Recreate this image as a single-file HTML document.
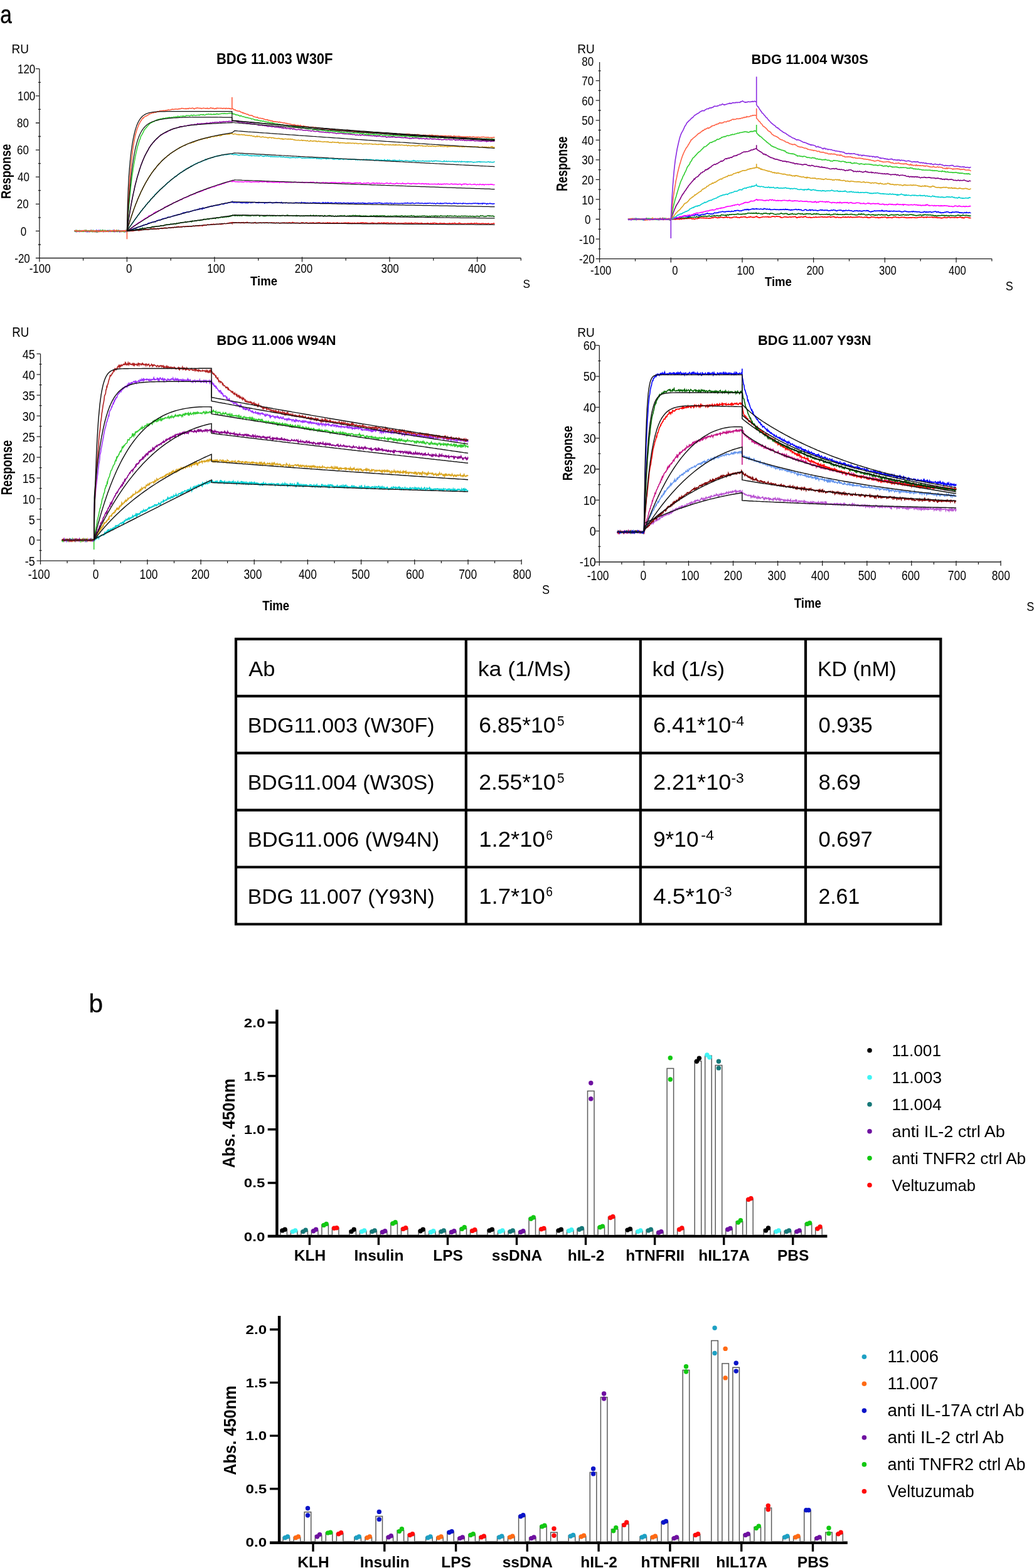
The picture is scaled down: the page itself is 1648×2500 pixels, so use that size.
<!DOCTYPE html><html><head><meta charset="utf-8"><title>Figure</title><style>html,body{margin:0;padding:0;background:#fff;}svg{display:block;}</style></head><body>
<svg width="1648" height="2500" viewBox="0 0 1648 2500" font-family="'Liberation Sans', Arial, sans-serif">
<rect width="1648" height="2500" fill="#fff"/>
<text x="0.2" y="36.6" font-size="40" textLength="18.6" lengthAdjust="spacingAndGlyphs" stroke="#000" stroke-width="0.4">a</text>
<text x="141.6" y="1613.6" font-size="41.5" textLength="22.6" lengthAdjust="spacingAndGlyphs" stroke="#000" stroke-width="0.3">b</text>
<path d="M62.9 411.5V109.7 M56.9 411.5H830.3 M56.9 411.5h6 M56.9 368.4h6 M56.9 325.3h6 M56.9 282.2h6 M56.9 239.1h6 M56.9 196h6 M56.9 152.8h6 M56.9 109.7h6 M60.9 390h4 M60.9 346.8h4 M60.9 303.7h4 M60.9 260.6h4 M60.9 217.5h4 M60.9 174.4h4 M60.9 131.3h4 M62.9 409.5v8 M132.6 411.5v4 M202.4 409.5v8 M272.2 411.5v4 M341.9 409.5v8 M411.7 411.5v4 M481.5 409.5v8 M551.2 411.5v4 M621 409.5v8 M690.8 411.5v4 M760.6 409.5v8 M830.3 411.5v4" stroke="#222" stroke-width="1.3" fill="none"/>
<text transform="translate(42.1,116.9) scale(0.85,1)" font-size="20" text-anchor="middle">120</text>
<text transform="translate(42.1,160) scale(0.85,1)" font-size="20" text-anchor="middle">100</text>
<text transform="translate(36.5,203.1) scale(0.85,1)" font-size="20" text-anchor="middle">80</text>
<text transform="translate(36.5,246.2) scale(0.85,1)" font-size="20" text-anchor="middle">60</text>
<text transform="translate(37.5,289.3) scale(0.85,1)" font-size="20" text-anchor="middle">40</text>
<text transform="translate(36.2,332.4) scale(0.85,1)" font-size="20" text-anchor="middle">20</text>
<text transform="translate(37.5,375.6) scale(0.85,1)" font-size="20" text-anchor="middle">0</text>
<text transform="translate(35.5,418.7) scale(0.85,1)" font-size="20" text-anchor="middle">-20</text>
<text transform="translate(63.7,435) scale(0.85,1)" font-size="20" text-anchor="middle">-100</text>
<text transform="translate(205.6,435) scale(0.85,1)" font-size="20" text-anchor="middle">0</text>
<text transform="translate(344.5,435) scale(0.85,1)" font-size="20" text-anchor="middle">100</text>
<text transform="translate(483.9,435) scale(0.85,1)" font-size="20" text-anchor="middle">200</text>
<text transform="translate(621.6,435) scale(0.85,1)" font-size="20" text-anchor="middle">300</text>
<text transform="translate(760.2,435) scale(0.85,1)" font-size="20" text-anchor="middle">400</text>
<text x="18.5" y="84.5" font-size="20" textLength="27.5" lengthAdjust="spacingAndGlyphs">RU</text>
<text x="345" y="102.4" font-size="23.5" font-weight="bold" textLength="185.5" lengthAdjust="spacingAndGlyphs">BDG 11.003 W30F</text>
<text transform="translate(16.9,273.2) rotate(-90)" font-size="22" font-weight="bold" text-anchor="middle" textLength="87.5" lengthAdjust="spacingAndGlyphs">Response</text>
<text x="420.6" y="455.4" font-size="20" font-weight="bold" text-anchor="middle" textLength="43" lengthAdjust="spacingAndGlyphs">Time</text>
<text x="833.5" y="458.6" font-size="18" textLength="11.5" lengthAdjust="spacingAndGlyphs">S</text>
<path d="M118.7 368l1 0.2 1-0.3 1-0.2 1 0.3 1 0 1 0.4 1 0.7 1-0.9 1-0.1 1 0.3 1 0.1 1-0.2 1-0.5 1 0.5 1 0.4 1-1 1 0.3 1-0.8 1 0.3 1 0 1 0.8 1-0.3 1 0.9 1 0.2 1-0.5 1-1.2 1 1.1 1 0.2 1-0.1 1-0.8 1 0.7 1-0.2 1 0.1 1 0.9 1-1 1 0.2 1 0.3 1-0.7 1 0.2 1 0.3 1-0.3 1-0.6 1 0.6 1 0.5 1-1.4 1 1.3 1-0.6 1-0.2 1 1.3 1-0.4 1-0.8 1 0.9 1-0.1 1-0.5 1 0.3 1-0.6 1 0.3 1 0.4 1-0.9 1 0.4 1-0.3 1 0.3 1-0.5 1 0.3 1 0.2 1 0.5 1 0 1-1.2 1 0.4 1 1 1-1.2 1 1 1 0.1 1 0.7 1-0.5 1-0.6 1-0.1 1 0.1 1 0.7 1-1 1 0 1 0.3 1 0 0.7 0 1-0.4 1 0.4 1-0.2 1 0.3 1-0.3 1-0.2 1 0.1 1-0.4 1 0.6 1-0.5 1 0.1 1-0.8 1 0.6 1-1.1 1-0.2 1 0.5 1-0.2 1 0.3 1 0.8 1-1.2 1 0.1 1 0.2 1-0.1 1-0.4 1 0 1 0 1-0.1 1-0.7 1 0.2 1 0 1-0.3 1 0.6 1-0.4 1 0.5 1-0.4 1-0.2 1-0.5 1 0.1 1-0.7 1 0.2 1 0.5 1-0.9 1 1 1-0.9 1 0.9 1-0.6 1 0.5 1-0.3 1-0.6 1 0.9 1-0.1 1-0.7 1-0.2 1-0.1 1-0.4 1 0.8 1-0.6 1 0 1-0.5 1 0.1 1-0.4 1 0.7 1-0.4 1 0.3 1-0.3 1-0.4 1 0.1 1-0.1 1 0.4 1-0.4 1 0 1-0.5 1 0.1 1 0.5 1-0.8 1-0.2 1 0.4 1 0.2 1-1 1 0.2 1-0.3 1-0.4 1 0.8 1-0.3 1 0 1-0.3 1 0.4 1-0.4 1 0.1 1-0.4 1 0 1 0.7 1-0.8 1 0.1 1 0 1-0.2 1 0 1 0.3 1-0.2 1-0.2 1 0 1 0.4 1-0.2 1-0.3 1-0.3 1-0.4 1 0.7 1-0.2 1-0.5 1 0.1 1 0 1-0.1 1 0.1 1-0.5 1 0.7 1-1.1 1 0.7 1-0.1 1 0 1 0.3 1-0.1 1-1 1-0.4 1 0.7 1-0.7 1 0.3 1 0.1 1-0.9 1-0.2 1 0.7 1-0.2 1-0.2 1 0 1-0.4 1-0.3 1 0.4 1-0.3 1-0.4 1 0.7 1-0.3 1 0.2 1-0.5 1 0.3 1-0.3 1 0.1 1 0.2 1-0.5 1 0.3 1-0.2 1 0.6 1-1.3 1 0.8 1-0.5 1 0 1-0.7 1 0.4 1 0.2 1-0.3 1 0 1-0.4 1 0.4 1-0.4 1-0.9 1 0.5 1-0.3 1-0.6 1 0.8 0.4 0.6 0-1 1-0.6 1 0.2 1 0.8 1-0.4 1-0.1 1 0.1 1-0.2 1 0.3 1 0.1 1-0.1 1-0.5 1 0.7 1-0.4 1 0.6 1-0.9 1 0.4 1 0 1-0.6 1 1.2 1-0.1 1-0.8 1 0.5 1 0 1-1.1 1 1.1 1 0 1 0.1 1-0.3 1 0.2 1 0.1 1 0.3 1-0.2 1-0.1 1 0.4 1-0.8 1 0.1 1-0.6 1 1.2 1-0.1 1 0.1 1-0.1 1-0.3 1 0.1 1-0.3 1 0 1 0 1 0.6 1-0.4 1-0.1 1-0.2 1 0 1 0.6 1-0.5 1-0.1 1-0.1 1-0.1 1 0.4 1 0.5 1-0.4 1 0 1 0 1 0.2 1-0.7 1 0.4 1-0.2 1 0.6 1-0.7 1 0.6 1 0.3 1-0.6 1-0.2 1 0.4 1-0.1 1-0.3 1 0.6 1 0.6 1-0.7 1 0.1 1-0.3 1 0.3 1-0.6 1 0 1 0.7 1-0.7 1 0.6 1 0.1 1-0.6 1 0.2 1 0.4 1-0.6 1-0.2 1-0.1 1 0.4 1 0.4 1-0.2 1-0.8 1 0 1 0.3 1 0.4 1-0.1 1 0.2 1 0.1 1-0.3 1 0.1 1 0.1 1 0.1 1 0.2 1 0.6 1-0.6 1-0.1 1-0.8 1 0.8 1-0.8 1 0.3 1 0.7 1-0.1 1-0.3 1-0.5 1 0.3 1 0 1 0.4 1 0.5 1-0.5 1-0.3 1-0.1 1 0.4 1-0.1 1-0.4 1 0.3 1-0.4 1 0.9 1 0.1 1-0.1 1-0.6 1 0.3 1-0.3 1-0.3 1 0.1 1-0.3 1 0.1 1 0.9 1-0.1 1 0 1 0.4 1-0.9 1 0.2 1 0.2 1 0.1 1-0.4 1 0.5 1-0.4 1-0.5 1 0.1 1 0.7 1-0.2 1-0.6 1 1.2 1-0.2 1 0.1 1-0.6 1 0 1-0.3 1 1.2 1-0.8 1 0.6 1-0.7 1 0.3 1-0.7 1 0.6 1 0.7 1-0.9 1 0.8 1 0 1-0.6 1 0 1 0.2 1 0 1-0.3 1-0.2 1 0.2 1-0.2 1-0.1 1 0.4 1 0.3 1-0.9 1 0.5 1-0.1 1 0 1 0.7 1-0.4 1 0.7 1-0.9 1 0.4 1-0.2 1-0.3 1 0.6 1-0.3 1 0.3 1-0.3 1-0.4 1 0.3 1 0 1 0.5 1-0.7 1 0.2 1-0.6 1 0.7 1-0.7 1-0.1 1 0.8 1 0.4 1-0.9 1 0.3 1 0.1 1-0.2 1 0.7 1-0.2 1 0 1 0.5 1-0.5 1 0.4 1-0.7 1-0.2 1-0.2 1 1.2 1-0.8 1 0.2 1 0.1 1 0.1 1 0 1 0.6 1-1 1-0.2 1 0.2 1-0.2 1 0.6 1 0 1-0.7 1-0.1 1 0.4 1 0.7 1-1.4 1 1.1 1-0.6 1 0.8 1-0.8 1 0.2 1-0.3 1 0 1 0.9 1-0.1 1-0.4 1-0.3 1-0.2 1 0.5 1 0.2 1-0.2 1 0.1 1-0.4 1 0.3 1 0 1 0.7 1 0.3 1-0.7 1-0.1 1 0.3 1-0.2 1 0 1 0.3 1-0.4 1 0.5 1-0.4 1 0.1 1-0.2 1-0.2 1-0.3 1 0.3 1-0.1 1 0.4 1 0 1-0.4 1 0.6 1-0.6 1 0.3 1 0 1-0.6 1 0.9 1 0.1 1-0.2 1-0.2 1-0.1 1-0.4 1 0.3 1 0.1 1 0.2 1-0.4 1 0.7 1-0.1 1-0.2 1 0 1 0.3 1-0.8 1 0.9 1 0 1 0.1 1 0.1 1-0.3 1-0.1 1 0.3 1-0.2 1-0.1 1-0.6 1 0.8 1 0.1 1 0.1 1-0.2 1-0.7 1 1 1-0.3 1-0.9 1 0.8 1-0.7 1 0 1 0.1 1 0.7 1-0.4 1 0.3 1 0.4 1 0.2 1-0.6 1-0.2 1-0.3 1 0.3 1 0.2 1 0 1 0 1 0.2 1-0.6 1 0.4 1 0.1 1 0.1 1 0.2 1-0.1 1-0.3 1 0.4 1-0.5 1-0.3 1 0.7 1-0.1 1 0.1 1-0.7 1 0.5 1-0.2 1-0.1 1-0.6 1 0.8 1 0.5 1-0.1 1-0.2 1 0.1 1 0.1 1-1.3 1 0.7 1 0.3 1 0 1 0.5 1-0.1 1 0 1-0.1 1 0.2 1-0.5 1 0.1 1 0.3 1 0.2 1-0.7 1 0.2 1-0.1 1 0.4 1-0.5 1 0.6 1-0.9 1 0.4 1 0 1 0.3 1 0.2 1-1 1 0.2 1 0.4 1-0.4 1-0.4 1 1 1-0.2 1 0 1-0.1 1 0.5 1-0.4 1 0.5 1-0.7 1 0 1 0.3 1-0.3 1 0.5 1-0.1 1-0.3 1 0.5 1-0.2 1 0.3 1-0.7 1 0 1 0.6 1 0.5 1-0.2 1-0.5 1 0 1 0.3 1-0.6 1-0.4 1 0.4 0.7 0.2" stroke="#f01010" stroke-width="1.55" fill="none"/>
<path d="M118.7 367.6l1 0.2 1 0.4 1-0.4 1 0.3 1-0.3 1 0.8 1 0.1 1 0.5 1-1.6 1 0.6 1 0.6 1-0.7 1 0.2 1 0.8 1-1.4 1-0.2 1 0.1 1 0.7 1 0.3 1-0.6 1 0 1 0.8 1-0.1 1-0.8 1 0.6 1 0 1-1.2 1 1 1 0.5 1-0.5 1-0.6 1 1 1 0.5 1 0.3 1-1.8 1 2.2 1-1.9 1 0.8 1 0.1 1-0.2 1-0.2 1-0.7 1 1 1-0.7 1-1 1 2.4 1-1 1 0.4 1-1.3 1 1.3 1 0.1 1-0.1 1-0.8 1-0.4 1 0.4 1-0.8 1 0.4 1 1 1-0.9 1 0.7 1 0 1 0.9 1-0.3 1-0.5 1 0.6 1-1 1 0.3 1 0.7 1-1.3 1 0.6 1-0.7 1 0.5 1 0.7 1-1.1 1 0.5 1-0.5 1 0.1 1 0 1 1.5 1 0.2 1-0.8 1-0.5 1 0.6 0.7-0.6 1 0.2 1-0.5 1-0.1 1-0.1 1-0.5 1-0.1 1-0.5 1 0.1 1-0.4 1 0.2 1-0.4 1 0.2 1 0.1 1-0.8 1 0 1-0.4 1 0.5 1 0.1 1-0.4 1-0.6 1 0.7 1-1.5 1 0.9 1-1 1-0.9 1 1.9 1-0.4 1-1.1 1 0.4 1-0.3 1-0.2 1-0.6 1 0 1 0.4 1-0.3 1 0.1 1-0.5 1 0.7 1-1.4 1 0.3 1-1 1 0 1 0.8 1-1 1 0.4 1-0.3 1-0.4 1 0 1 0 1-0.1 1 0.3 1-0.2 1-0.5 1-0.5 1 0.3 1-0.3 1 0.1 1 0.3 1-0.8 1-0.6 1-0.2 1-0.3 1-0.2 1 0 1 0.1 1-0.1 1 0.2 1-0.5 1-0.3 1-0.5 1 0.8 1-0.5 1 0.3 1-0.5 1 0.1 1-0.7 1 0.3 1 0.7 1-1.5 1 0.6 1 0 1-0.9 1 0 1 0 1-0.7 1 0.3 1-0.5 1 0 1-0.1 1 0 1-0.1 1 0 1-0.9 1 1 1-0.5 1-0.3 1-0.6 1 0.2 1 0.1 1 0 1-0.8 1 0.6 1 0.5 1-1.8 1 0.8 1-0.3 1-0.4 1 0.5 1-1 1 0.3 1 0.2 1-0.5 1-0.2 1 0 1-0.2 1 0.4 1-1 1 0.7 1-0.9 1 0.6 1-0.4 1-1.1 1 0.6 1-0.7 1 0.1 1 0.7 1-1.1 1-0.2 1 0.8 1-0.7 1 0.4 1-0.6 1-0.3 1 0.1 1 0.2 1-0.2 1-0.3 1-0.1 1-0.1 1-0.3 1 0.8 1-0.8 1-0.8 1 0.2 1 0.5 1-0.2 1-0.4 1-0.2 1 0.1 1-0.9 1 0.1 1 0.6 1-0.7 1 0 1 0.3 1-0.5 1-0.4 1 0.6 1-0.6 1-0.3 1 0.4 1-0.1 1-0.5 1 0.1 1-0.4 1-0.8 1 0.3 0.4 0 0-0.7 1-0.5 1 0.6 1 0.1 1 0.2 1-0.5 1 0.7 1-0.7 1 0.4 1 0.4 1-0.7 1 0.1 1 0.6 1-0.4 1 0 1 0.2 1 0.2 1-1.2 1 0.4 1 0 1 0 1 0.2 1-0.1 1 0.5 1-0.3 1 0.3 1 0.1 1-0.4 1 0.3 1 0.5 1-0.5 1-0.4 1 0.2 1-0.4 1 0.5 1 0.3 1-0.7 1 0.1 1 0.4 1-0.7 1 0.3 1-0.3 1 0.3 1 0.1 1 1.1 1-1 1-0.1 1-0.1 1 0.1 1 0.4 1-0.2 1 0.8 1-0.6 1 0.5 1-0.5 1 0.1 1-0.7 1 0.5 1 0 1-0.1 1-0.6 1 1 1-0.5 1 0.1 1 0.2 1 0 1 0.2 1-0.4 1 0 1 0.4 1-0.1 1-0.2 1-0.4 1 0 1 0.2 1 0.4 1-0.7 1 0.9 1-0.3 1-0.6 1 0.5 1-0.6 1 0.2 1 0.2 1 0.4 1-0.1 1-0.4 1 0 1-0.8 1 1 1-0.6 1 0.6 1 0.1 1-0.2 1 0 1 0 1 0.3 1 0.1 1 0 1-0.5 1 0.2 1-0.1 1 0.6 1-1 1 1 1-0.6 1 0 1 0.4 1 0.3 1-0.3 1 0.3 1-0.4 1 0.4 1 0 1-0.5 1 0.6 1-0.5 1-0.1 1-0.3 1 0.2 1 0.4 1-0.7 1 0.7 1-0.3 1 0 1-0.9 1 0.6 1 0.4 1-0.4 1 0.3 1-0.8 1 1.2 1-0.6 1 0.6 1-1 1 1 1-0.4 1 0.3 1-0.6 1 0.1 1 1 1-1.1 1 0.2 1 0.3 1-0.3 1 0.8 1 0.3 1-1.1 1-0.5 1 1 1 0 1-0.1 1 0.2 1-0.7 1 0.3 1-0.5 1 0 1 0.8 1-0.6 1 1.1 1-0.6 1-0.2 1 0.6 1 0.4 1-0.4 1-0.6 1 0.5 1 0.4 1-0.7 1-0.2 1 0.5 1-0.3 1-0.5 1 0.1 1-0.2 1 0.2 1 0 1 0.4 1-0.1 1-0.7 1 0.8 1 0.2 1 0 1 0.4 1-0.7 1-0.1 1 0.7 1-0.8 1-0.4 1 1.1 1-0.7 1 0.1 1-0.5 1 0 1 0 1 0.2 1 0.4 1-0.9 1 1.1 1-0.7 1 0 1 0.6 1-0.3 1-0.5 1 1.3 1-0.9 1 0.5 1-0.1 1 0.6 1-0.8 1 0.6 1-0.6 1 0.7 1-0.7 1 0.2 1 0.8 1-0.5 1-0.1 1 0.8 1-0.7 1-0.4 1 0.5 1-0.8 1 0.8 1 0.1 1-0.8 1-0.1 1 0.4 1 0 1-0.3 1 0.5 1-0.9 1 0.6 1 0 1 0 1 0.1 1-0.5 1 0.6 1-0.4 1-0.2 1-0.1 1 0.2 1 0.4 1-0.4 1 0.5 1 0.5 1-0.1 1 0.3 1-0.7 1-0.2 1 0.6 1-0.2 1 0.2 1-0.6 1 0.6 1-0.1 1-0.2 1 0 1 0 1-0.3 1 0 1 0.3 1-0.6 1 1 1-0.6 1 0.5 1-0.3 1-0.2 1 0.8 1-0.9 1-0.3 1 0.2 1 0.2 1 0.8 1-0.6 1 0.1 1-0.6 1 0.4 1 0.2 1 0.4 1-0.7 1 0.3 1 0 1-0.4 1 0.3 1-0.2 1-0.7 1 0.9 1 0 1-0.2 1-0.2 1 1 1-0.3 1 0.3 1 0 1-0.7 1 0.5 1-0.3 1 0.1 1-0.1 1 0 1 0.4 1-0.5 1-0.3 1 0.1 1 0.1 1-0.3 1 0.2 1 0.5 1-0.2 1 0.1 1-0.3 1 0.9 1-0.3 1-0.3 1-0.3 1 0.9 1-0.7 1-0.3 1 0.2 1 0.1 1 0.2 1-0.5 1 0.9 1-1.2 1 0.6 1-0.5 1 1.2 1-1 1 0.2 1 0.3 1 0.2 1-1 1 0.3 1-0.3 1 0.6 1-0.1 1-0.1 1 0 1 0.1 1-0.2 1 0.4 1 0.4 1-1.3 1 0.6 1-0.2 1 0.5 1-0.6 1 0.3 1-0.3 1 0.6 1-0.2 1 0 1 0.2 1-0.2 1-0.5 1 0.7 1-0.1 1-0.1 1 0.5 1 0.2 1-0.8 1 0 1 0.6 1 0.1 1-0.7 1-0.1 1 0.2 1 0.3 1-0.5 1 0.6 1-0.6 1-0.1 1 0.8 1-0.5 1 0.1 1 0.4 1 0.1 1-0.5 1 0.1 1-0.3 1 1 1-0.4 1-0.5 1 0.3 1 0.3 1-0.2 1 0.5 1-0.1 1-0.7 1 0.1 1-0.3 1 0.5 1-0.1 1 0.8 1-0.8 1-0.9 1 0.3 1 0.3 1-0.4 1 0.2 1 0.5 1 0.3 1-0.2 1-0.2 1 0.4 1-0.7 1-0.1 1-0.4 1 0.2 1 0.6 1-0.8 1 0.5 1 0.2 1-0.3 1 0.2 1-0.3 1 1 1 0 0.7-0.3" stroke="#0a640a" stroke-width="1.55" fill="none"/>
<path d="M118.7 368.2l1 0.5 1-1.1 1 2 1-0.4 1-0.7 1-0.4 1 0.8 1-1.1 1 0.4 1 0.7 1-0.3 1-0.3 1 0.5 1-0.9 1 0.5 1-0.3 1-0.2 1 0.9 1-0.8 1 1.6 1-1.4 1 1.3 1-1.6 1 0.9 1-1 1 0.1 1 0.5 1 0.3 1-1.1 1 1.3 1-1.3 1 0.6 1-0.1 1 0.4 1-1.4 1 1.9 1-0.5 1-0.5 1-0.5 1-0.1 1 0.1 1 1.1 1-0.3 1-0.4 1 0.2 1 1.1 1-0.8 1-0.1 1 1 1-0.5 1-0.3 1-0.3 1-0.6 1 0 1 0.4 1 0.2 1 0.3 1 0 1 0 1 0 1-0.6 1-0.8 1 1 1-0.1 1 0 1 0.2 1-0.4 1 0.2 1 0.3 1 0 1-0.1 1 0.5 1-0.4 1-0.4 1 0.7 1 0.7 1-1.1 1 1 1-0.1 1 0 1-1 1 1.3 1-1.2 0.7 0.1 1-0.4 1-0.1 1-0.6 1-0.4 1 0.1 1-1 1-0.5 1 0.3 1-0.4 1-0.1 1-1.1 1 0.4 1-0.5 1 0.2 1-1.5 1 0.2 1-0.4 1-0.7 1-0.1 1 0.2 1-0.9 1-0.5 1 0.1 1-0.4 1-0.4 1-1 1-0.1 1 0.1 1-0.9 1-0.1 1 0.1 1-0.1 1-1.3 1-0.8 1 0 1-0.3 1-0.1 1-0.2 1-0.5 1-0.5 1 0.2 1-0.6 1 0 1-0.5 1 0.8 1-1 1-0.9 1-0.4 1-0.1 1-0.7 1 0 1-0.3 1 0.4 1-0.8 1-0.4 1-0.7 1-0.3 1 0 1-0.5 1 0.2 1-0.7 1 0.2 1-0.5 1-0.3 1-1 1-0.2 1 0.5 1 0 1-0.6 1-0.1 1-0.6 1-0.3 1-0.6 1 0.3 1-0.6 1-0.4 1-0.2 1 0.1 1-0.5 1-0.6 1 0.4 1-0.8 1-0.3 1 0.3 1-0.4 1-0.6 1-0.1 1-0.9 1-0.2 1-0.8 1 1.1 1-1.4 1 0.6 1-0.9 1-0.3 1 0 1-0.2 1-0.1 1 0.3 1-0.7 1-0.1 1-0.8 1 0.2 1-0.4 1-0.5 1-0.2 1-0.4 1-0.1 1 0 1-0.6 1-0.2 1 0.4 1-1.1 1 0 1 0.4 1-1.7 1 0.5 1 0.3 1-0.9 1 1.3 1-2.2 1 1.2 1-0.2 1-0.5 1-0.6 1 0 1-0.7 1 0.3 1-1 1 0.1 1 0 1-0.9 1 0.2 1 0 1-0.9 1 0.8 1-0.4 1-1 1 0.3 1-0.4 1-0.2 1 0.2 1-0.5 1 0.3 1-0.8 1 0.4 1-0.7 1 0.1 1-0.6 1-0.3 1-0.4 1 0.3 1-0.1 1 0.1 1-0.4 1-0.7 1-0.3 1-0.1 1-0.2 1 0.3 1-0.4 1-0.8 1-0.1 1 0.5 1-0.7 1-0.3 1 0.2 0.4-0.6 0 0.7 1 0.1 1-0.5 1 1.1 1-0.6 1 0.2 1 0.1 1 0.4 1-0.3 1 0 1-0.7 1 0.5 1-0.4 1 0.7 1 0 1-0.2 1 0.8 1-0.6 1 0.2 1-0.3 1 0 1 0.4 1 0.2 1-0.9 1 1 1-0.5 1 0.2 1-0.3 1-0.6 1 0 1 1.1 1-0.6 1-0.5 1 0.7 1-0.3 1-0.5 1 0 1 0.1 1 0.7 1 0 1-0.1 1 0.2 1 0.3 1-1.2 1 0.7 1-0.1 1-0.1 1 0.1 1 0.1 1-0.1 1-0.3 1 0.4 1 1 1-0.9 1-0.3 1 0.6 1 0 1-0.3 1-0.6 1 0.6 1-0.6 1-0.1 1 0.5 1 0.2 1 0.4 1 0 1-0.3 1 0.2 1-0.5 1 0.4 1-0.8 1 0 1 0.8 1-0.5 1 0.3 1 0 1-0.1 1 0 1 0.6 1-1.3 1 1.1 1 0.5 1-0.7 1-0.1 1 0.3 1 0.4 1-0.9 1 0.5 1 0 1 0.3 1-0.2 1 0 1-0.4 1 0.2 1-0.2 1 0.2 1 0.3 1 0 1-0.4 1 0.8 1-0.7 1-0.5 1 0.9 1-0.8 1 0.5 1-0.3 1 0.3 1-0.2 1-0.1 1 0 1 0.8 1-1.5 1 0.8 1 0.1 1-0.4 1-0.2 1 1.1 1-0.8 1 0.8 1-0.4 1-0.1 1 0.1 1 0 1 0.2 1-0.1 1-0.2 1 0.2 1 0.4 1-0.2 1-0.9 1 0.2 1 0.3 1-0.4 1 0.3 1-0.1 1 0.2 1 0.1 1 0.1 1-0.4 1 0.7 1-0.6 1 1.2 1-0.6 1-0.1 1-0.3 1-0.9 1 1 1 0 1 0.5 1-1.3 1 1.3 1-0.7 1 0.4 1-1.2 1 1.1 1-0.2 1 0.2 1-0.3 1-0.4 1 0.8 1-0.2 1 0.2 1 0.1 1 0.1 1-0.5 1-0.5 1 0 1 1 1-0.3 1-0.3 1-0.1 1 0.2 1 0 1-0.1 1 0.1 1 1.1 1-0.7 1-0.3 1-0.4 1 0.2 1 0.5 1 0.2 1-0.4 1 0.1 1-0.2 1-0.3 1 0.8 1-0.3 1 0.9 1-1.2 1 0.1 1 0.5 1-0.5 1-0.4 1 0.2 1 0.5 1 0 1-0.2 1 0.4 1-0.1 1-0.2 1-0.2 1 0 1 0.2 1 0.1 1-0.3 1 0.3 1-0.2 1-0.3 1 0.2 1 0.5 1-0.2 1 0.6 1-0.5 1 0.3 1 0.1 1-0.1 1-0.8 1 0.2 1 0.1 1-0.2 1 0.6 1 0.3 1-0.5 1 0.8 1-1 1 0 1-0.1 1-0.1 1 0.4 1-0.3 1 0.5 1-0.4 1-0.2 1-0.1 1-0.3 1 0.5 1 0 1 0.8 1-0.5 1 0.7 1-0.3 1 0 1-0.3 1-0.1 1 0.1 1 0 1-0.5 1 0.4 1 0.8 1-0.8 1 0 1-0.1 1-0.2 1 1 1-0.5 1 0 1 0.5 1 0.1 1-1.1 1 0.7 1-0.2 1 0 1 0.2 1-0.3 1 0.6 1-0.3 1-0.1 1 0.1 1-0.1 1-0.1 1-0.1 1 0.7 1-0.5 1-0.2 1-0.3 1 0.3 1-0.4 1 0.4 1 0.1 1-0.9 1 0.8 1 0.2 1 0 1-0.5 1 0.8 1-0.9 1-0.1 1 0 1 0.5 1 0.3 1 0.1 1-0.3 1-0.5 1 0 1 0 1 0.2 1-0.6 1 0.7 1 0.3 1-0.2 1 0.2 1-0.3 1-0.2 1 0.3 1 0.6 1-0.1 1-0.6 1 0.6 1-0.6 1 0.7 1-0.4 1-0.4 1 0.3 1-0.3 1-0.1 1-0.1 1 0.6 1 0.1 1-0.3 1-0.1 1 0.8 1-0.6 1-0.2 1 0.9 1 0 1-0.6 1-0.6 1 0.4 1 0.4 1-0.1 1 0.5 1-1.1 1 0.9 1-0.5 1 0.7 1-0.7 1 0.5 1-0.6 1-0.4 1 0 1 0.2 1-0.1 1 0.7 1 0.1 1-0.3 1-0.3 1 0.3 1-0.1 1 0.7 1-0.3 1 0.1 1-0.3 1-0.7 1 0.4 1-0.2 1 0.5 1-0.1 1-0.2 1 0.3 1 0.6 1-0.7 1-0.1 1 0.2 1-0.1 1 0 1 0.3 1 0.5 1-1.2 1 0.4 1 0 1 0.1 1-0.1 1 0.1 1 0.5 1-0.3 1 0 1 0 1-0.1 1-0.1 1 0.4 1-0.2 1 0 1 0 1-0.3 1-0.1 1-0.2 1 0.5 1-0.4 1-0.1 1 0.5 1 0.2 1-0.8 1 1.3 1-0.7 1-0.1 1 0.4 1-0.4 1-0.2 1 1.1 1-1.3 1 0.3 1 0.3 1-0.6 1 0.4 1 0.3 1 0.9 1-1.1 1 0.3 1 0.1 1-0.3 1-0.5 1 0.5 1-0.1 1 0.2 1 0.3 1 0.1 1-0.3 1 0 0.7-0.5" stroke="#1010ff" stroke-width="1.55" fill="none"/>
<path d="M118.7 368.2l1 0.1 1-0.4 1-0.2 1 0.9 1 0.1 1-0.5 1-0.1 1 1.2 1-1.5 1 0.2 1 0.2 1-0.7 1 0.8 1 0.7 1-0.4 1-0.1 1 0 1-0.4 1 0.5 1-0.6 1-0.2 1 0.2 1 0.6 1-0.4 1 0.3 1-1.1 1 1.5 1 0.4 1-0.3 1-0.7 1-0.3 1 0.7 1-0.6 1 0.8 1-0.7 1 0.5 1 0.1 1-1.6 1 1 1-0.3 1-0.2 1 0.4 1 0.2 1 0.8 1-1.2 1 1.2 1 0.4 1-0.8 1 0.2 1-0.3 1-0.7 1 0.9 1-0.2 1 0 1 0.9 1-0.6 1-0.3 1 0.7 1-1.4 1 0 1 0.2 1 0 1 0.5 1-0.4 1 0.9 1 0.1 1-0.4 1-0.4 1 0.4 1 0.4 1-1 1 0.8 1 0 1-0.3 1 0.6 1-0.2 1-0.9 1 0.3 1-0.4 1 0.7 1-0.9 1 0.7 1 0.1 0.7 0.2 1-1.2 1-1 1 0.5 1-1.5 1-0.3 1-1 1-0.7 1-0.5 1-1.2 1-0.3 1-1.6 1 0.1 1-1.2 1-0.7 1-0.6 1-0.7 1-0.1 1-1.8 1 0.1 1-1 1 0 1-1.2 1-0.4 1-0.9 1-0.4 1-0.7 1-1 1-0.5 1-1.1 1 0.1 1-0.4 1-1 1 0 1-1.8 1-0.6 1-0.5 1-0.3 1-0.4 1-0.6 1-0.6 1-0.2 1-1.2 1-0.9 1-0.6 1 0.6 1-2.1 1 0.2 1 0 1-0.8 1-0.9 1-0.2 1-0.2 1-0.3 1-1.3 1 0 1-0.6 1-0.2 1-0.5 1-1.2 1-1.2 1-0.2 1 0 1-0.9 1-0.7 1 0.6 1-1.6 1 0.2 1-1 1-0.1 1-0.5 1-0.2 1-1.2 1-0.5 1-1 1 0.3 1-0.8 1-0.2 1-0.9 1-0.2 1 0.1 1-0.9 1-0.3 1-0.5 1-0.9 1-0.7 1 0.5 1-0.8 1-0.1 1-1.4 1-0.5 1-0.7 1 0.1 1 0.2 1-0.6 1-0.6 1-0.4 1-0.1 1-0.8 1-0.5 1-0.5 1-1.3 1 0.1 1 0.2 1-0.8 1-0.2 1-0.5 1-0.4 1 0.3 1-1 1-0.7 1-1 1 0.5 1-1.1 1-0.3 1 0.5 1-0.5 1-1.3 1 0.8 1-0.6 1-0.7 1 0.2 1-1.3 1-0.2 1-0.4 1-0.4 1 0.3 1-1.1 1-0.4 1-0.4 1 0.2 1-0.6 1 0.1 1-0.9 1-0.4 1-0.2 1-0.1 1-0.7 1 0.1 1 0.2 1-1.1 1-0.3 1 0.1 1-1 1-0.4 1-0.5 1 0.3 1-0.2 1-0.7 1-0.3 1 0.1 1-0.5 1-1.1 1 0.3 1-0.2 1 0 1-0.6 1-0.6 1-0.5 1-0.6 1 0.2 1-0.5 1 0.2 1-0.8 1-0.1 1-0.5 1-0.1 1 0.3 0.4-0.6 0 1.4 1-0.6 1 0.3 1-0.5 1 0.6 1 0 1 0.4 1-0.1 1-0.2 1 0.3 1-0.2 1 0.2 1 0.1 1-0.2 1 0 1 0.1 1-0.2 1 0.2 1 0.3 1-0.2 1-0.4 1-0.3 1 0.4 1-0.1 1 0.5 1-0.5 1 0 1 0.4 1-0.2 1 0.1 1 0.5 1 0 1-0.2 1-0.2 1-0.4 1 0.7 1-0.2 1 0 1-0.2 1 0.1 1-0.1 1 0.2 1 0.4 1-0.3 1-0.7 1 0.3 1-0.4 1 0.2 1 0.5 1-0.1 1-0.4 1 0.4 1-0.3 1-0.1 1 0 1 0.1 1 0.9 1-1 1 1 1 0 1-0.5 1 0.1 1-0.1 1 0.1 1 0.4 1-0.2 1 0.4 1 0.2 1-0.4 1 0 1-0.1 1 0.2 1-0.6 1 0.6 1-0.1 1-0.5 1 1.2 1-1 1 0 1 0.4 1-0.7 1 0.4 1-0.3 1 0.3 1 0.4 1 0 1 0.2 1-0.2 1 0.1 1-0.2 1-0.2 1 0.5 1-0.5 1 0 1 0.6 1-0.3 1-0.1 1 0.1 1 0.1 1-0.7 1 0.5 1-0.5 1 0.5 1-0.3 1 0.7 1-0.3 1-0.4 1 0.5 1-0.3 1 0.4 1 0.1 1 0 1-0.9 1 0.6 1 0.5 1-0.1 1 0.2 1-0.8 1 0.5 1-0.6 1 0.3 1 0.2 1 0.1 1-0.4 1 0.3 1-0.5 1-0.1 1 0.6 1-0.2 1-0.5 1 0.3 1 0.2 1 0.8 1-0.2 1-0.1 1-0.8 1 0.6 1 0.1 1 0.1 1 0.1 1-0.2 1 0.8 1 0 1-0.7 1-0.3 1 1 1-1.1 1 0.7 1 0.4 1-1 1 0.3 1-0.1 1 0.3 1-0.1 1 0.5 1-0.5 1-0.1 1 0.3 1-0.6 1-0.1 1 1 1-1.1 1 0.2 1 0.3 1-0.4 1-0.1 1 1.1 1-0.4 1 0 1 0.2 1-0.5 1 0 1 0.4 1 0.7 1-0.7 1 0.1 1-1 1 0.5 1-0.4 1 0.7 1-0.3 1 0.3 1-0.1 1-0.1 1-0.2 1 0.7 1-0.8 1 0.2 1 0.5 1-0.1 1 0.3 1 0.5 1-0.2 1-0.1 1-0.1 1 0.4 1-1.1 1 0.7 1-0.4 1-0.2 1 0.4 1-0.2 1 0.3 1 0 1-0.9 1 0.9 1 0.9 1-0.3 1 0.4 1-0.5 1-0.6 1 0.1 1 0.6 1 0 1-0.7 1 0.1 1 0 1-0.6 1 0.6 1 0.6 1 0.4 1-0.6 1 0.6 1-0.9 1 0 1-0.5 1 1 1-0.5 1 1 1-0.8 1-0.1 1-0.6 1 1.3 1-0.7 1 0.3 1-0.7 1 1.1 1-0.1 1-0.6 1 0.2 1 0.2 1 0.3 1-0.2 1 0.5 1-0.7 1-0.2 1 0 1-0.7 1 0.7 1 0.6 1-0.1 1-0.5 1 0.4 1-0.8 1 0.8 1 0.2 1 0.2 1-0.4 1 0.6 1 0.3 1-0.8 1 0.2 1-0.9 1-0.2 1 0.9 1-0.2 1 0.2 1-0.2 1 0 1 0.4 1 0.2 1-0.7 1-0.6 1 1.2 1-0.1 1 0 1-0.1 1 0.8 1-0.9 1 0.1 1-0.7 1 0.4 1-0.1 1 0.6 1 0.1 1-0.5 1 0.8 1-0.9 1 0 1 0.3 1-0.5 1 0.7 1 0.1 1-0.4 1 0.7 1-0.6 1 0.1 1-0.3 1-0.2 1 0.5 1 0.1 1 0.1 1 0.3 1-1 1 0.5 1-0.3 1 1 1-0.6 1-0.1 1-0.2 1 0.9 1-0.4 1 0.2 1-0.7 1 1.2 1-0.4 1 0 1 0.3 1-0.4 1-0.1 1 0.4 1-0.1 1-0.2 1 0.1 1-0.2 1 0.4 1 0 1-0.4 1 0.6 1-1.1 1 0.6 1 0.8 1-0.6 1-0.4 1 1.1 1-0.5 1-0.7 1 0.8 1-0.7 1-0.1 1 0.5 1-0.1 1-0.4 1 0.4 1-0.3 1 0.4 1 0.1 1 0.2 1-0.5 1-0.2 1-0.2 1 0.3 1 0.7 1-0.2 1-0.6 1 0.6 1-0.6 1 0.7 1-0.6 1 0.7 1 0.1 1-0.5 1 0.2 1-0.4 1 0.2 1 0.3 1 1.2 1-1.1 1-0.4 1-0.4 1 0.7 1-0.9 1 0.3 1 0.4 1-0.3 1 1.1 1-0.2 1-0.6 1 0.1 1-0.2 1 0 1 0.7 1 0.1 1-0.1 1-0.2 1-0.3 1 0.3 1-0.6 1 0.6 1 0.6 1 0 1-0.7 1 0.1 1 0.5 1 0.1 1-1.3 1 0.6 1 0.3 1 0.3 1-0.7 1 0.6 1-0.5 1 1 1-0.7 1-0.2 1-0.1 1 0.5 1-0.2 1-0.4 1 0.7 1-0.5 1 0.1 1-0.3 1 0 1 0.2 1-0.1 1 0.6 1 0.2 1-0.3 0.7-0.4" stroke="#ff10ff" stroke-width="1.55" fill="none"/>
<path d="M118.7 369.1l1-0.6 1-0.8 1 0.3 1-0.5 1 0 1 1.1 1 0.4 1 0.6 1-1 1-0.1 1-0.4 1 0.8 1-0.4 1-0.4 1 0.7 1-0.3 1-0.9 1 1.3 1-0.3 1-0.6 1 0.1 1 0.9 1-0.1 1 0.1 1-1.1 1 0.3 1 0.8 1-1.2 1 0.2 1-0.6 1 1.9 1-0.3 1-0.2 1-0.1 1-0.3 1 0.1 1 0.3 1-0.6 1 1.2 1-1.1 1-0.5 1 1.1 1-0.7 1 0.2 1-0.4 1-0.7 1 1.5 1-1 1 1.2 1-1.1 1-0.3 1 1.2 1 0 1-0.2 1-0.7 1 1.1 1-1.5 1 0.6 1-0.2 1 0 1 0.7 1-0.7 1 0.6 1 0.2 1-0.9 1 0.2 1 0.3 1-0.2 1 0.4 1-1.3 1 1.3 1 0.2 1-0.3 1-0.5 1 0.7 1-0.3 1 0.5 1-0.3 1 0.5 1-0.7 1 0.8 1-1.9 1 0.5 0.7 0.5 1-2.2 1-0.6 1-2.1 1-1.2 1-1.5 1-1.2 1-1.3 1-1.4 1-1.4 1-0.7 1-2.1 1-1.8 1-0.8 1-1.6 1-1.2 1-1.4 1-2.2 1-0.6 1-1.2 1-1.7 1-1 1-2.5 1-0.5 1-0.5 1-2.4 1-1 1-0.8 1-1.2 1-0.9 1-2.5 1-0.5 1-0.9 1-2 1-0.8 1-0.4 1-1.4 1-1.4 1-2.2 1-0.2 1-0.9 1-1.4 1-1.2 1 0 1-2.3 1-1.4 1-0.6 1-1 1-1.1 1-0.8 1-0.7 1-1.2 1-1.6 1-0.5 1-0.7 1-1.3 1-0.1 1-1 1-1.5 1-0.5 1-0.4 1-1.2 1-1.6 1-0.4 1-1.5 1-1.2 1-0.1 1-0.9 1-0.9 1-0.9 1-0.8 1-1.2 1-0.4 1-0.7 1-1.1 1-0.4 1-1.7 1-0.3 1 0 1-0.6 1-1.3 1-0.8 1-1.2 1-0.1 1-0.7 1-1.4 1 0 1-0.5 1-0.7 1-1.1 1-0.2 1-1.6 1 0.3 1-1.1 1-1.2 1 0.3 1-0.5 1-1.2 1 0.3 1-1.4 1 0 1-0.3 1-1.7 1 0.7 1-1 1-0.6 1-1 1 0 1-1 1-0.5 1-0.3 1-0.7 1 0.5 1-1.4 1-0.3 1-0.1 1-0.2 1-0.2 1-0.4 1-0.9 1-0.4 1-0.5 1-0.1 1-0.5 1-0.9 1-1 1 1.1 1-0.8 1-0.6 1-0.1 1-0.5 1-0.3 1-0.2 1-0.2 1-0.5 1-0.7 1 0.1 1 0 1-0.6 1-0.2 1-1 1 0.2 1-0.2 1-0.7 1-0.4 1 0.5 1-0.5 1 0.3 1-0.5 1 0 1-0.5 1-0.6 1 0.2 1-0.4 1 0.4 1-0.7 1-0.2 1 0.4 1 0 1-0.3 1 0 1-0.3 1 0 1 0 1-0.5 1-0.1 1-0.1 1 0.6 0.4-0.8 0 0.9 1 0.1 1 0.2 1 0.3 1-0.5 1-0.2 1 0.7 1-0.6 1 0.7 1 0.1 1 0.4 1 0.3 1-0.4 1-0.3 1-0.3 1 0.2 1 0.3 1-0.6 1 0.7 1 0 1 0.5 1-0.5 1 0.2 1-0.3 1 0.2 1-0.5 1 0.8 1 0.6 1-0.2 1 0.2 1-0.3 1 0.9 1-0.8 1 0.4 1-0.1 1-0.4 1 0.7 1-0.3 1 0.1 1 0 1 0 1 0 1 0.4 1-0.4 1 0.3 1-0.4 1-0.4 1 0.5 1 0.3 1 0.3 1 0.5 1-0.9 1 0.5 1-1 1 0.5 1 0.4 1-0.7 1 0.2 1 0.9 1-0.1 1-0.1 1-0.1 1 1.1 1-0.9 1-0.1 1 0.9 1-0.4 1-0.4 1 0.7 1-0.4 1 0.3 1 0 1-0.3 1 0.7 1-0.2 1-0.5 1 0 1 0.7 1-0.2 1 0.1 1 0.3 1 0 1-0.6 1 0.6 1 0.2 1 0 1 0.3 1-0.4 1 0.3 1 0.4 1-0.6 1 0.8 1 0.1 1-0.4 1 0.4 1-0.3 1-0.5 1 0.6 1-0.3 1 0.1 1 0 1 0.4 1-0.2 1-0.3 1 0.4 1 0 1-0.6 1 0.1 1 0.1 1 0 1 0.4 1 0.3 1 0.4 1-0.1 1-0.1 1 0.1 1 0.2 1-0.5 1 0.3 1 0 1-0.1 1 0 1 0.1 1 0.2 1-0.4 1 0.5 1-0.2 1 0 1 0.1 1 0.2 1-0.4 1 0.1 1-0.5 1-0.1 1 0.1 1 1.3 1-0.9 1 0.7 1 0.3 1-0.7 1 0.8 1 0 1-0.2 1 0.4 1-0.5 1-0.5 1 0.5 1-0.3 1-0.1 1-0.1 1 1.3 1-0.9 1 0.1 1-0.2 1 0.4 1-0.1 1-0.1 1-0.2 1 0 1 0.2 1 0.4 1 0.7 1-0.3 1 0.4 1-0.4 1-0.1 1-0.4 1 0.4 1-0.7 1 0.7 1 0.8 1-0.5 1 0.3 1-0.5 1-0.4 1 0.3 1 0.2 1 0.4 1 0.3 1-0.9 1 0 1 0.1 1 0.1 1-0.3 1 0.5 1 0.4 1-0.1 1-0.5 1 0.5 1-0.6 1 0.8 1-0.7 1 0.4 1-0.2 1 0.1 1-0.1 1-0.2 1 1.2 1-0.6 1 0 1 0.7 1-0.6 1 0.2 1-0.1 1 0.3 1-0.1 1-0.2 1-0.1 1 0.3 1 0.4 1-1.1 1 0.6 1-0.1 1-0.2 1-0.5 1 0.9 1-0.4 1 0.3 1 0.1 1-0.4 1 0.4 1-0.5 1 0.2 1 0.4 1 0.1 1 0.1 1 0 1 0.9 1-0.7 1-0.5 1 0.1 1 0 1 0.2 1-0.1 1 0 1 1 1-0.7 1-0.1 1 0.1 1-0.1 1 0.6 1-0.2 1 0.2 1-1.4 1 1.2 1 0.2 1 0.3 1-0.7 1-0.6 1 0.8 1-0.2 1-0.4 1 0.6 1 0.6 1 0 1-0.2 1-0.6 1 1.2 1-1.3 1 0.5 1-0.4 1 1 1-0.3 1 0.2 1-0.3 1 0 1 0 1-0.8 1 1 1 0 1-0.4 1 0.3 1 0.4 1 0.5 1-0.3 1-0.2 1-0.3 1-0.4 1 0.3 1 0.2 1-0.1 1 0.3 1 0.2 1 0.1 1 0.2 1 0 1-0.3 1-0.1 1 0.1 1-1 1 1.1 1-0.8 1 0.9 1-0.2 1 0.4 1-0.3 1-0.4 1 0.7 1-0.3 1 0 1-0.1 1 0.4 1 0 1-0.1 1-0.8 1 0.6 1 0.2 1 0.3 1-0.6 1 0 1 0.4 1-0.3 1 0.3 1 0.1 1-0.7 1 0.7 1-0.2 1-0.2 1-0.4 1 0.6 1 0.5 1-0.8 1-0.3 1 0.6 1-0.6 1-0.3 1 0.6 1 0.1 1 0 1 0 1 0.3 1 0 1 0 1 0.1 1 0.4 1 0.2 1 0 1 0 1-1.4 1 0.8 1 0.2 1 0.1 1-0.7 1 1.1 1-0.5 1-0.3 1 0.4 1-0.1 1-0.1 1 0.4 1-0.3 1-0.4 1 0.4 1 0.2 1-0.2 1 0.7 1-0.9 1 0.9 1-0.4 1-0.5 1 0.4 1 0.5 1-0.5 1-0.2 1 0.3 1 0.8 1-1.4 1 0.8 1-0.2 1 0 1-0.1 1 0.2 1 0.5 1-0.1 1-0.5 1 0.9 1-1 1 0.6 1-0.2 1 0.2 1-0.3 1 0.1 1 0.1 1 0.4 1 0 1 0.8 1-1 1 0.4 1-0.1 1-0.2 1-0.3 1 0.4 1-0.8 1-0.1 1 0.7 1-0.7 1 0.9 1-0.5 1 0.3 1-0.1 1 0.1 1-0.1 1 0 1 0 1 0.4 1 0 1-0.1 1-0.3 1-0.1 1-0.5 1 0.9 1 0.1 1-0.5 1 0.4 1 0.3 1-0.3 1 0.3 1-0.2 1-0.7 0.7 0.5" stroke="#10c8d0" stroke-width="1.55" fill="none"/>
<path d="M118.7 368.1l1 0.5 1-0.6 1-0.9 1 2 1-1.3 1 0.4 1-0.7 1 0 1 0.3 1 0.9 1 0.3 1-0.6 1 0.7 1-0.4 1 0.1 1-0.1 1 0.3 1-0.7 1 0 1 0.1 1 0 1-0.6 1 1.3 1-1.1 1 0.8 1-0.1 1 0.4 1-1.6 1 2 1-1.1 1-0.5 1 0.7 1 1 1-0.8 1-1 1 0.4 1 0.9 1-1.4 1 0.6 1-0.1 1 1.1 1-1.1 1 0.7 1-0.8 1-0.1 1 1.2 1-0.2 1-1.2 1 1 1 0.2 1-0.9 1 0.5 1-0.1 1-0.3 1-0.2 1 0.1 1 0.1 1-0.5 1 0.6 1-0.8 1 0.6 1 0.1 1-0.6 1 0.9 1 0.6 1-0.2 1-1.4 1 1.5 1-0.6 1-0.1 1-0.1 1 0.3 1 0.6 1-0.4 1-0.6 1-0.2 1 0.1 1 0.6 1 0.7 1-1.2 1 0.5 1-0.3 1-0.2 0.7 0.6 1-3.8 1-4.1 1-3.2 1-2.5 1-3.5 1-2.9 1-3.4 1-3 1-2.6 1-3.4 1-3.1 1-2.4 1-2.3 1-3.3 1-1.7 1-2.5 1-3 1-2.2 1-2.3 1-2.1 1-2.3 1-2.9 1-1.9 1-1.4 1-2.3 1-2 1-2 1-1.5 1-2.8 1-1 1-2.4 1-1.2 1-1.4 1-2.5 1-1 1-1.8 1-1.5 1-1.4 1-1.9 1-1.5 1-0.9 1-1.2 1-1.7 1-1.6 1 0.1 1-1.6 1-1.6 1-1.7 1-0.9 1-0.9 1-1.6 1-0.1 1-1.7 1-1 1-1.5 1-1 1-0.9 1-0.6 1-1 1-0.9 1-0.7 1-0.8 1-0.4 1-1.5 1-1 1-0.5 1-0.3 1-1.5 1-0.6 1-0.9 1-0.3 1-0.8 1-1 1-0.5 1-0.3 1-0.6 1-0.6 1-0.7 1-0.9 1-0.7 1-0.2 1-1.2 1-0.2 1-1.2 1-0.1 1-0.6 1-0.7 1 0.1 1-0.9 1-0.4 1-0.5 1-0.5 1 0.2 1-1 1-0.2 1-1 1-0.1 1-0.4 1-0.4 1-0.5 1 0 1 0.1 1-0.8 1-0.3 1-0.5 1 0.6 1-0.7 1-0.7 1-0.3 1-0.8 1 0 1-0.3 1-0.4 1-0.7 1-0.4 1 0.1 1-0.3 1-1.1 1 0.4 1 0.3 1-1 1 0.1 1-0.9 1 0.6 1-0.8 1-0.3 1 0 1 0.7 1-1.2 1-0.5 1 0.3 1-0.2 1 0.2 1-1.2 1-0.4 1 0.4 1 0 1-0.3 1 0.2 1-0.9 1-0.1 1 0 1 0.2 1-0.4 1-0.4 1-0.5 1 0.6 1-0.1 1 0.3 1-1.2 1 0.5 1-1.3 1 0.1 1-0.2 1-0.1 1-0.3 1 0.1 1-0.1 1-0.1 1 0.2 1-0.3 1-0.2 1 0.4 1-0.6 1-0.2 1-0.3 1-0.1 0.4 0.2 0-0.5 1 0.9 1 0.4 1 0 1-0.5 1 0 1 0.4 1 0.3 1 0.5 1-0.2 1-0.1 1 0.7 1-0.6 1 0.5 1-0.1 1-0.5 1 0.7 1-0.2 1 0.1 1-0.1 1 0.1 1 0.8 1-0.2 1 0.3 1-0.3 1 0.4 1 0.2 1-0.4 1 0.1 1 0.7 1 0 1-0.4 1 0.6 1 0.4 1 0.6 1-0.7 1 0.7 1 0.6 1-0.7 1 0.5 1-1.4 1 1.4 1-0.5 1-0.5 1 1 1 0.3 1 0.1 1 0.1 1-0.3 1-0.2 1 0.2 1 0.4 1 0.2 1-0.3 1 0.4 1 0.2 1-0.1 1 0.8 1 0.1 1-1.1 1 0.5 1-0.2 1 0.1 1 0.7 1-0.5 1 0.1 1 0.2 1 0.7 1-0.3 1 0.2 1 0.4 1 0 1-0.1 1 0.3 1-0.6 1 0.5 1-0.3 1 0.9 1 0 1-0.6 1 1 1-0.6 1 0.8 1-0.4 1-0.3 1-0.1 1 0.3 1 0.1 1-0.1 1 0.5 1-0.7 1 0.5 1 0.1 1-0.5 1 0.9 1-0.4 1-0.2 1 0.6 1 0.2 1 0.6 1-0.4 1 0.6 1 0.1 1 0 1 0.2 1-0.3 1-0.1 1 0.5 1 0.1 1-0.2 1 0 1-0.5 1 0.9 1 0 1-0.6 1 0.4 1 0.4 1-0.3 1 0.5 1 0.2 1-0.7 1 0.6 1 0.4 1 0.3 1 0 1-1.2 1 0.6 1 0.1 1 0.3 1 0.3 1-0.9 1 0.3 1-0.2 1 0.5 1-0.5 1 1 1 0 1-0.1 1-0.7 1 0.5 1 0.6 1-0.6 1 0.5 1 0.1 1 0.4 1-0.1 1 0 1-0.3 1 0.1 1 0 1 0.2 1-0.2 1 0.5 1-0.8 1 1.1 1-0.1 1 0.5 1-0.4 1 0.3 1 0.3 1-1 1 0.2 1 0.2 1 0.3 1-0.5 1 0.7 1 0 1-0.2 1 0.1 1-0.6 1 1.2 1-0.2 1 0.6 1-0.8 1 0.1 1 0.4 1-0.6 1 0.7 1-0.2 1 0 1 0.4 1-0.1 1 0.5 1-0.4 1-0.5 1 0.8 1-0.8 1 0.7 1-0.4 1 0.1 1 0.5 1-0.4 1 0 1 0.1 1 0 1 0.7 1-0.8 1 0 1 0.7 1-0.6 1 0.6 1 0.4 1-0.4 1-0.2 1 0 1-0.1 1 0.3 1 0.3 1 0.5 1 0 1-0.5 1-0.1 1 0.6 1-0.7 1 0.3 1 0.2 1-0.2 1 0.1 1 0.3 1-0.6 1 0.2 1 0.1 1 0.3 1-0.4 1 1 1-0.4 1 0 1-0.2 1 0 1-0.1 1 0.8 1-0.2 1 0 1 0.4 1-0.8 1 0.4 1-0.1 1-0.4 1 0.7 1-0.6 1 1 1-0.6 1 0.5 1 0.4 1-0.2 1-0.5 1 0.3 1 0.1 1-0.1 1-0.2 1 0.5 1 0.2 1-0.8 1 0.6 1 0.3 1-0.2 1-0.4 1 0.7 1-0.8 1 0.7 1 0.3 1-1.2 1 0.8 1 0.1 1-0.1 1-0.2 1 0.2 1-0.5 1 0.7 1 0.1 1-0.4 1-0.1 1 0.4 1 0 1 0.2 1 0 1 0.3 1-0.4 1-0.4 1 1.1 1 0.3 1-1 1 0.3 1 0.4 1 0.3 1-0.2 1 0.2 1-0.4 1 0.1 1 0.1 1-0.2 1 0.6 1-0.3 1 0.3 1-0.4 1 0.5 1-0.8 1 0.6 1-1.1 1 0.4 1 0.6 1-0.3 1 0.2 1-0.5 1 1.2 1-0.3 1-0.1 1 0.2 1-0.2 1 0.5 1-0.5 1-0.5 1 0.4 1 0.7 1-0.2 1-0.3 1 0.4 1-0.1 1 0.1 1-0.7 1 0.3 1 0.4 1-0.2 1 0.2 1 0.6 1-0.8 1 0.3 1-0.4 1 0 1 0.3 1-0.6 1-0.3 1 1.3 1-0.6 1 0.5 1-0.3 1 0.2 1 0.1 1 0.1 1-0.8 1 0.8 1-0.7 1 0.4 1 0.9 1-0.9 1 0.6 1-0.7 1 0.4 1-0.2 1 0.1 1-0.3 1-0.1 1 0.6 1-0.6 1 0.2 1 0.4 1-0.2 1-0.1 1-0.2 1 0.5 1-0.1 1 0.1 1 0 1 0.7 1-0.7 1-0.4 1 0.9 1-0.2 1 0.1 1-0.6 1 0.9 1-0.6 1 0 1-0.6 1 0.6 1-0.2 1 0.6 1-0.5 1-0.2 1 0.6 1-0.2 1 0.5 1-0.6 1 0.4 1 0.1 1 0 1-0.2 1-0.2 1 0.3 1-0.3 1 0.4 1-0.1 1-0.5 1 0.8 1 0.7 1-0.6 1 0.2 1-0.1 1-0.3 1-0.4 1 0.8 1 0 1-0.4 1 0.1 1 0 1-0.2 1 0.2 1 0.2 1 0.1 1-0.4 1 0.3 1 0.3 1-0.4 1-0.8 1 0.9 1-0.9 1 1.6 1-0.5 1 0.1 0.7-0.5" stroke="#daa520" stroke-width="1.55" fill="none"/>
<path d="M118.7 368.3l1 0.4 1-0.2 1 0.3 1-0.3 1-0.1 1 0.1 1-0.4 1 0.6 1-0.2 1-0.3 1 0.4 1-0.3 1 0.2 1 0.1 1-0.1 1-0.6 1 1.1 1-0.3 1-0.4 1 0.2 1-0.3 1-0.1 1 0.3 1 1.2 1-0.8 1 0.1 1-0.5 1 0.4 1 0.8 1-0.7 1 0.6 1 0 1-0.5 1 0.4 1-0.7 1-0.2 1-0.7 1 1.6 1-1.2 1 0 1 0.6 1-0.9 1 0.1 1-0.3 1 0.4 1-0.1 1 0.5 1-0.4 1-0.2 1 0 1 0 1-0.3 1 0.9 1-0.1 1 0.1 1-0.6 1 0.9 1-0.8 1 0.8 1-0.3 1-0.4 1-0.1 1 0.1 1 1.4 1-1.1 1 0.2 1 0.6 1-0.4 1 0 1-1.2 1 0 1 2.1 1-1.4 1 0 1 0.2 1 0.4 1-0.9 1 0.5 1 0 1 0.5 1-0.3 1-0.4 1-0.3 0.7-0.4 1-6.1 1-7.7 1-6.2 1-5.6 1-6.8 1-5.5 1-5.7 1-5 1-5.1 1-5.1 1-3.9 1-5.1 1-4.5 1-3.8 1-3.6 1-4.4 1-2.9 1-3.4 1-3 1-4.2 1-2.4 1-3.7 1-2.4 1-2.4 1-2.5 1-2.6 1-2.2 1-2.5 1-2 1-1.6 1-1.9 1-1.8 1-1.6 1-1.7 1-2.7 1-1.2 1-1.7 1-1.6 1-0.9 1-1.3 1-1.3 1-1 1-0.8 1-1.6 1-1 1-0.8 1-1.1 1-0.6 1-1.3 1-0.8 1-1.3 1-1 1-0.4 1-1.7 1 0.3 1-0.5 1-0.8 1-0.8 1-0.1 1-1 1-0.1 1-0.1 1-0.9 1-0.5 1-0.6 1-0.7 1-0.4 1-0.5 1 0 1-1.3 1 0 1-0.3 1-0.8 1-0.2 1-0.7 1 0.1 1-0.1 1 0 1-0.5 1-0.6 1 0 1-0.2 1 0 1-1.5 1 0.6 1-0.9 1 0.6 1-0.4 1-0.2 1-0.1 1-0.4 1-0.4 1 0.2 1 0.1 1-0.5 1-0.1 1-0.7 1 0.7 1-0.7 1-0.2 1-0.2 1-0.2 1-0.1 1 0.3 1-0.3 1 0 1-0.1 1-0.7 1 0.2 1 0.1 1 0.3 1-1.4 1-0.2 1 0.8 1-0.3 1-0.2 1 0.4 1-0.5 1-0.5 1 0.4 1-0.1 1-0.1 1 0.1 1-0.3 1 0 1-0.4 1-0.3 1 0.2 1 0.3 1-0.2 1 0.5 1-1 1-0.5 1 0.8 1-0.2 1-0.8 1 0 1 0.3 1 0 1-0.6 1 0.1 1-0.1 1-0.1 1-0.1 1 0.6 1-0.4 1-0.2 1-0.6 1 1.4 1-1.1 1 0.2 1-0.5 1 0.4 1-0.8 1 0.5 1-0.2 1 0.3 1-0.7 1 0.1 1 0.1 1 0.8 1-1.3 1 0.5 1-0.4 1 0.4 1-0.1 1-0.3 0.4 0.1 0-0.8 1-0.1 1 0.3 1-0.4 1 0.5 1-0.1 1 0.3 1 0.6 1 0.2 1 0.3 1 0.6 1-1.1 1 1.1 1-0.2 1 0 1-0.3 1 0.8 1 0.5 1 0.2 1-0.2 1 0.5 1 0.1 1 0.2 1 0 1-0.4 1 0.1 1 0.3 1 0.2 1 0 1 0.7 1-0.4 1 0.2 1 0.4 1-0.2 1 0.3 1-0.5 1 1 1 0 1 0 1 0.4 1 0.2 1-0.1 1 1 1-0.6 1 0.6 1 0.3 1-0.6 1 0.4 1-0.2 1 0.7 1-0.3 1-0.1 1 0.8 1-0.1 1-0.4 1 0.8 1-0.2 1 1 1-0.1 1-0.8 1 0.5 1-0.2 1 0.5 1 0.2 1 0.4 1-0.4 1-0.3 1 0.5 1 0.7 1 0 1-0.2 1 0 1 0.1 1 0.2 1-0.6 1 1.2 1-0.4 1 0.4 1-0.7 1 1.1 1 0.4 1-1 1 1.4 1-0.3 1-0.2 1-0.3 1 1 1-0.1 1 0.2 1-0.2 1-0.1 1 0.7 1-0.5 1 0.8 1-0.8 1 0.4 1-0.1 1 1 1-1 1 0.3 1 0.7 1 0 1 0.7 1-0.1 1 0 1 0 1-0.7 1 0.5 1 0.3 1 0 1-0.3 1 0.3 1 0.2 1 0.7 1 0 1-0.1 1 0 1 0.3 1-0.3 1 0.1 1-0.3 1 0.8 1 0.2 1-0.1 1 0.2 1 0 1 0.7 1-0.7 1-0.3 1 0.2 1 0.6 1 0.3 1 0.2 1 0.1 1-0.2 1-0.4 1 0.3 1-0.3 1 0.8 1-0.2 1 0.7 1 0.1 1-0.6 1 0.9 1 0 1-0.7 1 0.6 1 0.3 1-0.2 1 0.4 1-0.1 1 0.3 1-0.2 1-0.3 1 0.5 1 0.2 1-0.2 1-0.2 1 0 1 0.3 1 0 1 0.4 1 0.2 1 0 1 0.1 1 0.2 1 0.6 1-0.1 1-0.5 1 0.4 1-0.3 1 0.2 1-0.1 1 0 1-0.2 1-0.2 1 0.9 1 0.4 1-0.6 1 0.7 1-0.3 1 0.3 1-0.2 1 0.2 1 0.1 1-0.6 1 0.9 1 0 1-0.8 1 1.1 1-0.2 1 0.2 1 0.3 1-0.1 1-0.1 1 0.2 1 0.1 1 0.9 1 0 1-0.7 1 0.2 1 0.3 1 0.1 1-0.4 1 0 1 0.9 1-0.4 1-0.7 1 0 1 0.3 1 0.5 1 0.2 1-0.2 1-0.3 1 0.6 1 0.2 1-0.2 1-0.1 1 0.5 1-0.2 1-0.2 1 0.6 1-0.5 1 0.7 1-0.1 1-0.6 1 0.5 1 0.5 1-1.1 1 0.9 1 0.7 1-1.1 1 0.6 1-0.3 1 0.4 1-0.6 1 0.4 1 0.4 1 0.3 1 0 1-0.1 1 0.3 1-0.1 1-0.1 1-0.3 1 0.5 1 1.1 1-0.3 1-0.3 1 0 1 0 1-0.3 1 0.9 1-1 1 0.1 1 0.8 1-1.4 1 1 1-0.5 1 0.5 1 0.4 1 0 1 0.2 1-0.4 1 0.2 1-0.3 1 0.3 1-0.4 1 0.9 1-0.5 1 0.7 1-0.4 1 0.2 1 0.5 1-0.5 1-0.5 1 0.9 1-1.1 1 1.3 1-0.1 1-0.2 1 0.6 1 0.1 1 0.7 1-0.9 1 0.8 1-0.2 1-0.9 1 0 1 0.8 1-0.5 1 0.1 1 0 1-0.4 1 0.4 1-0.1 1-0.1 1 0.2 1 1 1-0.2 1-0.6 1 0.2 1 0.3 1 0.2 1-0.4 1-0.2 1 0.1 1 0.6 1 0.6 1-0.9 1-0.4 1 1 1-0.4 1 0.3 1 0.3 1-0.3 1-0.4 1 0 1 0.6 1-0.3 1 0.5 1-0.5 1 0.3 1-0.4 1 0.4 1 0 1 0.4 1 0.3 1-0.5 1-0.2 1 1 1-0.6 1 0.2 1 0.2 1 0.4 1-0.2 1 0 1 0 1-0.6 1 0.1 1 0.3 1 0.1 1-0.1 1 0.2 1-0.1 1-0.2 1-0.4 1 1 1-0.1 1-0.6 1 0.7 1 0 1-0.4 1-0.6 1 0.5 1 0.2 1 1 1-0.6 1 0.2 1-0.3 1 0.2 1 0.3 1-0.7 1-0.3 1 1.2 1-0.2 1-0.4 1 0.6 1 0 1-0.9 1 0.7 1 0.7 1-0.7 1 0.2 1 0.6 1-0.3 1-0.5 1 0.4 1-0.2 1 0.6 1-0.9 1 1 1-1 1 0.7 1-0.6 1 0.5 1 0.6 1 0.2 1-0.1 1-0.3 1 0.1 1-0.1 1 0.2 1-0.1 1 0.5 1-0.2 1 0.4 1-0.2 1 0.1 1-0.5 1 0.2 1-0.2 1 0.3 1 0.1 1 0.2 1-0.9 1 1.6 1-1.2 1 0.5 1 0 1-1.1 1 0.8 1 0.7 1-1.3 1 1.2 1-0.6 1 0.2 1 0.2 1-0.7 0.7 0.7" stroke="#9410a8" stroke-width="1.55" fill="none"/>
<path d="M118.7 368.8l1-0.6 1 1 1-1 1 0.1 1-0.4 1 0.1 1 0.2 1 0 1-0.3 1-0.1 1 0.7 1 0.2 1 0.2 1 0.5 1-0.9 1-1 1 0.9 1-1.1 1 0.1 1 1.2 1-0.2 1-0.5 1 0.4 1 0.3 1-0.9 1 1.2 1-0.6 1 1 1-1.4 1 1.2 1-0.8 1 0.9 1-1.1 1 0.8 1-0.5 1-0.4 1 0.5 1 0.7 1-0.2 1 0.4 1-0.5 1-1.8 1 1 1-0.6 1 0.7 1 0.5 1-1.1 1-0.2 1 0.5 1-0.3 1 1 1-0.4 1 0.3 1 0.7 1-1 1 0.3 1-0.5 1 0.5 1 0.4 1 0.2 1-0.7 1-0.4 1-0.1 1-0.2 1 0.6 1 0.7 1-2 1 0.4 1 1.7 1-1.4 1 0.9 1-0.8 1 0.9 1-0.1 1 0 1 0.3 1-0.2 1 0.2 1 0.6 1-0.5 1-0.7 1-0.1 1 0.3 0.7 0 1-14.2 1-13.3 1-11.7 1-11.3 1-10.2 1-9.6 1-8.6 1-8.4 1-6.2 1-7 1-6.1 1-5.6 1-5.3 1-5.1 1-4.6 1-4.2 1-4.2 1-2.8 1-3.6 1-3.2 1-1.8 1-4 1-1.6 1-1.6 1-1.9 1-1.8 1-2.5 1-1.5 1-1 1-1.6 1-0.5 1-1.7 1-1.1 1-0.9 1-1.3 1-0.9 1-1.1 1-0.4 1-0.8 1-0.1 1-1.1 1-0.4 1 0.2 1-0.6 1-1 1-0.2 1-0.8 1 0.8 1-1.6 1 0.8 1-1.2 1 0.1 1-0.5 1-0.3 1 0.3 1-0.3 1-0.6 1-0.4 1 0.8 1-0.3 1-0.7 1-0.2 1 0 1-0.1 1 0.2 1-0.8 1 0.1 1-0.3 1 0.6 1 0.1 1-0.7 1 0.1 1 0.3 1-0.8 1-0.3 1 0.6 1-0.5 1-0.4 1 0.5 1-0.5 1-0.8 1 0.7 1-0.2 1 0.5 1-0.8 1-0.2 1 0.2 1 0 1-0.6 1 0.3 1-0.1 1 0.4 1 0.2 1-1.3 1 0 1 0 1-0.1 1 0 1 0.1 1 0.4 1-0.9 1-0.2 1-0.3 1 1 1 0 1-1.1 1 0.1 1 0.6 1 0.2 1-0.1 1-0.3 1 0 1-0.2 1-0.3 1 0.8 1-0.8 1-0.4 1 0.1 1-0.4 1 0.4 1 0.4 1-0.8 1 0.8 1 0.3 1-0.6 1-0.7 1 0 1 0.1 1-0.5 1-0.1 1 0.4 1-0.1 1 0.2 1-0.6 1 1.1 1-0.3 1-0.1 1-0.6 1 0.9 1-0.9 1 0.6 1-0.3 1-0.8 1 0.1 1 0.8 1-0.3 1-0.3 1 0 1-0.1 1-0.4 1 0 1-0.2 1 0 1 0.3 1-0.6 1 0.6 1-0.2 1 0.1 1 0 1 0 1-0.3 1-0.1 1-0.4 1 0.3 1-0.5 1 0.1 1 0.5 0.4-0.2 0 0.7 1-0.3 1 1.1 1-0.6 1 0.5 1 0.3 1 0.8 1-0.1 1 0.2 1 0.1 1 0.7 1-0.1 1 1 1 0.4 1-1.1 1 0.6 1 0.8 1 0.4 1-0.1 1 0.4 1 0.2 1 0.3 1 0.7 1 0 1-0.3 1 0.6 1 0.3 1 0.1 1 0.4 1 0 1 0.3 1 0.9 1-0.3 1 0.1 1 0.3 1 0.5 1 0.9 1-0.4 1 0.6 1 0.1 1-0.8 1 1.1 1-0.1 1 0.1 1 0.2 1 1.2 1-1 1 0.4 1 0.7 1 0 1-0.6 1 0.7 1 0.2 1 0.3 1 0.5 1-0.2 1 0.2 1 0.8 1-0.8 1 0.8 1 0.5 1-0.4 1 0.4 1-0.4 1 0.7 1-0.1 1 0.8 1 0.3 1 0 1 0.1 1 0.3 1 0 1-0.2 1 0.9 1-0.1 1 0.5 1-0.6 1 1.1 1 0.5 1-0.3 1-0.6 1 0.6 1 0.3 1 0.3 1-0.2 1 0.4 1-0.2 1 0.4 1-0.2 1 0.6 1 0.6 1-0.4 1 0.5 1-0.6 1 0.4 1 0.1 1 0.7 1-0.6 1 0.9 1-0.8 1 0.6 1 0.5 1 0.3 1-0.5 1 0 1 0.8 1-0.7 1 0.8 1-0.2 1 0.5 1 1 1-0.2 1-0.3 1-0.8 1 0.7 1-0.1 1 0.2 1 0.8 1-0.9 1 1 1 0.2 1-0.2 1 1 1-0.9 1 0.4 1 0.1 1-0.5 1 0.3 1 0.2 1 1.1 1 0.1 1 0 1 0.2 1-0.7 1 0.7 1-0.1 1 0.6 1 0.1 1 0.2 1-0.4 1 0.1 1-0.5 1 0.5 1-0.3 1 0.9 1-0.7 1 0.6 1-0.3 1 0.5 1 0.4 1-0.1 1 0.4 1-0.2 1 0.8 1-0.7 1 0.6 1 0.4 1-1.6 1 0.5 1 0.4 1 0.6 1-0.5 1 0.4 1-0.2 1 0.5 1-0.6 1 0.8 1-1.4 1 0.5 1 1.6 1-0.5 1-0.4 1 1.2 1-0.3 1 0 1-0.2 1 0.7 1 0.1 1-0.6 1 0.9 1-0.3 1 0.4 1 0 1-0.7 1 0.2 1 0.4 1 0.3 1-0.2 1 0.2 1 0.3 1-0.1 1 0.4 1-0.3 1-0.3 1-0.3 1 1 1-0.4 1-0.1 1 0.3 1-0.4 1 0.3 1-0.8 1 0.7 1-0.2 1 1.2 1-0.5 1 0 1 0.3 1 0.4 1-0.6 1 0.4 1 0.2 1 1.3 1-0.8 1-0.7 1 0.9 1 0.6 1-1.5 1 1.7 1-1.1 1 0.5 1-0.4 1 0.4 1-0.4 1 0.2 1-0.3 1 1.2 1-1 1 0.7 1-0.1 1-0.4 1 0.4 1 0.1 1 0 1 0.2 1 0.1 1-0.3 1 0 1 0.1 1 0.5 1 0.6 1 0 1-0.5 1 0.3 1-0.2 1 0.3 1-0.3 1 0.2 1-0.1 1 0 1 0.8 1-1.1 1 0.6 1-0.1 1 0.5 1 0.5 1-0.6 1-0.8 1 1.1 1 0.2 1-0.8 1 0.4 1 0 1-0.7 1 1 1-0.1 1 0 1-0.4 1 0.2 1 0.1 1 0.6 1-0.4 1 0.9 1-0.4 1-0.9 1 1.4 1-0.5 1-0.3 1 0.4 1-0.6 1 0.7 1-0.7 1 0.5 1 0.9 1-0.1 1-0.6 1-0.3 1 0.9 1-0.4 1 0.3 1 0.3 1-0.6 1 0.8 1-0.9 1 1.2 1-1.1 1 0.3 1-0.1 1 0.6 1 0.1 1-0.1 1 0.3 1 0 1-0.2 1-0.7 1-0.3 1 0 1 0.6 1 0 1 0.2 1 0.3 1-0.2 1 0 1-0.2 1-0.1 1 1.3 1-0.1 1-1 1 0.6 1 0.3 1 0.3 1-0.7 1 0.4 1 0.1 1-1 1 0.5 1 0.3 1-0.2 1 1.1 1-0.5 1-0.2 1-0.4 1 0.7 1 0.1 1-0.3 1 0 1-0.4 1 0.5 1 0.4 1 0.4 1-0.2 1 0.2 1-0.4 1 0 1 0.3 1-0.2 1-0.5 1 0.5 1 0.1 1 0.2 1-0.1 1-0.2 1 0.3 1 0.6 1-0.6 1-0.3 1 0.5 1-0.6 1 0.6 1-0.3 1 0.5 1-0.3 1 0.4 1 0.6 1-0.8 1-0.3 1 0.4 1-0.2 1 0.1 1-0.3 1 0.4 1-0.1 1-0.6 1 0.7 1 0.2 1 0.4 1-0.7 1-0.2 1 0.7 1-0.7 1 0.4 1 0.1 1 0.2 1-0.1 1-0.4 1 0.8 1-0.4 1 0 1 0.8 1-0.4 1-0.6 1 0.1 1 0.3 1 0 1-0.4 1 1 1 0 1-0.2 1-0.2 1 0.3 1 0.2 1-0.6 1 0.3 1-0.2 1 0.4 1-0.3 1-0.5 1 0.4 1 0.9 1-1 1 0.5 1-0.2 1 0.6 1-0.3 1-0.1 1-0.2 1 0.3 1 0.4 1-0.1 0.7-0.7" stroke="#33cc33" stroke-width="1.55" fill="none"/>
<path d="M118.7 368.3l1-0.5 1 0 1 0.8 1 0.2 1-0.9 1 0.7 1 0.2 1 0.2 1-0.4 1 0 1 0.1 1-0.9 1 0.7 1-0.9 1 0 1 0.6 1-0.3 1 0.7 1 0.1 1-0.6 1 0.3 1 0 1 0 1 0.4 1-0.1 1-0.5 1-0.2 1 0.2 1 0.6 1-0.8 1 0.9 1-0.8 1 0.8 1-1.3 1 0.3 1 0.7 1 0 1-0.2 1 1.1 1-1 1 0 1-0.4 1 1 1-0.5 1-0.1 1-0.9 1 0.9 1-0.4 1 0.5 1 0.4 1-0.9 1 0.7 1 0.4 1-0.4 1-0.4 1-0.5 1 0.1 1-0.3 1 1.1 1-0.4 1-0.5 1 0.6 1-0.8 1-1 1 2.1 1-0.3 1-1.3 1 0.4 1 0.4 1-0.3 1 0.1 1 0.1 1 0.3 1 0 1 0.4 1-0.2 1-0.2 1 0.3 1-0.9 1 1.5 1-1.7 1 0.7 1 0.2 0.7 0.2 0 12.8 0-12.8 1-23 1-19.6 1-18.4 1-15 1-13.3 1-12 1-10.1 1-8.4 1-8.6 1-7 1-6.1 1-5.4 1-4.7 1-4.2 1-3.5 1-3.2 1-2.8 1-2.2 1-3.1 1-1 1-2.6 1-1.3 1-1.5 1-1.4 1-1.9 1 0.4 1-1.6 1-0.9 1-0.2 1-0.9 1 0 1-0.6 1-0.8 1-0.6 1-0.3 1-1.4 1 0.2 1-0.4 1-0.6 1-0.2 1-0.8 1 0.4 1-0.2 1-1 1 0.5 1 0.2 1-0.7 1-0.7 1-0.4 1 0.3 1 0.1 1-1.1 1 0.2 1-0.4 1 0 1 0.1 1-0.3 1-0.3 1 0.8 1-0.8 1-0.2 1 0.3 1-0.6 1-0.2 1 0.2 1-0.7 1 0.5 1 0 1-0.3 1-0.3 1-0.2 1-0.7 1 0.5 1-0.1 1 0.1 1-0.4 1-0.1 1-0.3 1 0.2 1 0 1 0.5 1-0.7 1-0.3 1 0.2 1-0.2 1-0.2 1-0.7 1 0.2 1 0.1 1 0.5 1-0.1 1 0.1 1 0.4 1-0.8 1 0.7 1-0.4 1-0.4 1 0.6 1-1 1 0 1 0.3 1 0.3 1-0.2 1-0.7 1 0.5 1 0.2 1 1 1-0.5 1-0.6 1-0.4 1 0.3 1-0.7 1 0.4 1 0.2 1-0.2 1 0.4 1-0.1 1 0 1 0.7 1-0.4 1-0.4 1-0.3 1 0.4 1 0.1 1 0.1 1 0.3 1-0.3 1-0.6 1 1.1 1-0.3 1 0 1 0 1-1 1 0.3 1 0 1 0.7 1-0.7 1 0.4 1 1 1-0.4 1-0.5 1 0.7 1-1.3 1 0.4 1-0.3 1 0.4 1-0.3 1 0 1 0.4 1-0.4 1 0.6 1-0.3 1 0.4 1-0.5 1 0 1 0.4 1 0.3 1-1 1 0.8 1 0.1 1-0.6 1 0.2 1 0.6 1-0.5 1 0.3 1 0.8 1-0.9 0.4 0.1 0-18.2 0 18.2 0-0.6 1 0.7 1 0.3 1 1.5 1 0.2 1-0.6 1 1.6 1 0.2 1 0 1 0.6 1 0.2 1-0.1 1-0.1 1 0.7 1 0.9 1 0.3 1 0.1 1 1.1 1-0.5 1 1 1-0.1 1 0.6 1 0 1 0.8 1 0.2 1-0.1 1 1 1 0.3 1 0.5 1 0.1 1-0.1 1 0.4 1-0.3 1 0.8 1 1 1 0.4 1 0.1 1 0.1 1 0.5 1 0.4 1-0.6 1 0.5 1 1 1 0.2 1-0.2 1 0.3 1 0.1 1 0.3 1 0.1 1-0.1 1 0.9 1 0 1 0.3 1 0.9 1-0.2 1-0.2 1 0.7 1-0.4 1 1 1 0.1 1-0.1 1 0.4 1 0.6 1-0.4 1 0 1 1.5 1-0.5 1 0.8 1-0.7 1 0.6 1-0.3 1 0.5 1-0.2 1 0.1 1 0.8 1-0.3 1-0.6 1 1 1 0 1 0.1 1 0.3 1 0.2 1 0.3 1-0.1 1-0.2 1 0.7 1 0.5 1-0.5 1 0.7 1 0 1 0 1 0.6 1-0.2 1 0.4 1 0.1 1 0.7 1 0.3 1-0.4 1 0.8 1-1.1 1 0.6 1 0.3 1 1 1-0.6 1 0.7 1-0.9 1 0.5 1 0.4 1-0.1 1-0.8 1 1.1 1 0.5 1 0.3 1-0.2 1-0.6 1 0.6 1 0.6 1-0.5 1 0.6 1-0.2 1 0.3 1 0.5 1-0.5 1 1.4 1-0.7 1 0.2 1-0.4 1 0.4 1-0.1 1-0.2 1 0.1 1 0.8 1 0.1 1-0.6 1 0.1 1 0.8 1 0.3 1 0.3 1-0.8 1 0.8 1-0.2 1 0 1 0.3 1 0.7 1-0.1 1 0.1 1-0.4 1 0.2 1-0.3 1 0.5 1 0.1 1 0.1 1 0.3 1 0 1 0.1 1-0.1 1 0.4 1-0.2 1 0.5 1-0.1 1 0.3 1-0.1 1-0.3 1 0 1 1.1 1-0.5 1 0 1-0.3 1 0.1 1 1.3 1-1.3 1 0.6 1 0.2 1-0.3 1 0.2 1 0.2 1 0.3 1 0 1 0.2 1-0.7 1 0.7 1 0.3 1 0 1-0.7 1-0.4 1 1.6 1-0.1 1-0.3 1 0.8 1-0.4 1 0 1-0.3 1 0.5 1-0.2 1 0 1 0.6 1-0.3 1-0.6 1 0.7 1 0.1 1-0.4 1 0.5 1 0.4 1 0.1 1 0.2 1 0.2 1-0.6 1 0.9 1-0.8 1-0.1 1 1.1 1 0.4 1-0.8 1-0.1 1-0.1 1 0.7 1-0.2 1-0.4 1 0.6 1 0.5 1-0.1 1 0.4 1-0.4 1-0.2 1-0.2 1 0.1 1 0.4 1 0 1 0 1-0.2 1 0.3 1 0.3 1-0.5 1-0.2 1 1 1-0.1 1-0.4 1 0.4 1-0.1 1-0.3 1 0.4 1-0.3 1 0.5 1-0.1 1 0.6 1-0.5 1 0.1 1-0.1 1 0.1 1-0.4 1 1 1-0.1 1-0.1 1 0.2 1-0.1 1-0.1 1 0.4 1 0.3 1-0.3 1-0.5 1 0.4 1 1 1-0.8 1 0.9 1-0.5 1 0.3 1-0.4 1-0.4 1 0.3 1 1.1 1-0.7 1 0.2 1-0.2 1 0.1 1 0.2 1-0.2 1 0.8 1-1 1-0.1 1-0.1 1 0.1 1-0.1 1 1.1 1-0.8 1 1.4 1-0.3 1-0.3 1-0.4 1 0.3 1-0.1 1 0.4 1-0.7 1 0.2 1 0.3 1 0 1-0.1 1-0.3 1 0.2 1 0.4 1 0.3 1 0.4 1 0.7 1-0.2 1-0.6 1 0.5 1-0.7 1-0.1 1 1 1-0.9 1 0.3 1 0.2 1 0.5 1-0.6 1 0.3 1-0.4 1-0.3 1 0.4 1 0 1-0.4 1 0 1 0.2 1 0.7 1-0.2 1 0 1 0.1 1-0.2 1 0.3 1-0.2 1-0.1 1 0.5 1 0.2 1 0.1 1 0.3 1-0.9 1 0.5 1 0.2 1-0.4 1 0.5 1-0.2 1-0.3 1 1 1-0.9 1 0.9 1-0.5 1-0.2 1-0.1 1 0.1 1 0 1 0.5 1-0.7 1 1.2 1-0.2 1 0.3 1-0.9 1-0.4 1 0.7 1 0.1 1 0.2 1-0.3 1 0.2 1 0 1-0.4 1 1.3 1-1.1 1 0.6 1 0.4 1-0.5 1 0.2 1 0.6 1-0.7 1 0.6 1-0.3 1 0 1 0.4 1-0.4 1-0.3 1 0.5 1-0.1 1-0.2 1-0.3 1 0.6 1 0.4 1-0.2 1-0.1 1-0.4 1 0 1 0.4 1 0.6 1-0.4 1 0.4 1-0.5 1 0.7 1-0.8 1 0.4 1-0.3 1 0.7 1-0.2 1-0.4 1-0.1 1 0.2 1-0.5 1 0.2 1 0 1 0.7 1 0.2 1-0.5 1 0.2 1 0.1 1-0.2 1 0.2 1 0.4 1 0 1-0.1 1-0.2 1 0.8 1-0.8 1 0.1 1-0.3 1 0.1 0.7 0.3" stroke="#ff5a3c" stroke-width="1.55" fill="none"/>
<path d="M202.4 368.4l0.9-41 1-25.9 0.9-17.9 0.2-2.6 0.8-10.9 0.9-10.9 1-9.2 0.3-2.8 0.6-5 1-6.9 0.9-6.2 0.5-2.8 0.5-2.6 0.9-4.9 1-4.3 0.6-2.7 0.3-1.2 0.9-3.4 1-3.1 0.8-2.4 0.1-0.4 1-2.5 0.9-2.2 1-2 0-0.1 0.9-1.7 1-1.6 0.9-1.4 0.2-0.3 0.8-1 0.9-1.1 1-1.1 0.3-0.3 0.6-0.6 0.9-0.8 1-0.7 0.5-0.4 0.4-0.3 1-0.6 0.9-0.5 0.7-0.3 0.3-0.2 0.9-0.4 1-0.3 0.8-0.3 0.1-0.1 1-0.3 0.9-0.3 0.9-0.2 0.1 0 0.9-0.2 0.9-0.2 1-0.2 0.2 0 0.7-0.1 1-0.2 0.9-0.1 0.4 0 0.6-0.1 0.9-0.1 1-0.1 0.5 0 0.4-0.1 1 0 0.9-0.1 0.7-0.1 0.2 0 1 0 0.9-0.1 0.9 0 0.1 0 0.9 0 1-0.1 0.9 0 0.1 0 0.9 0 0.9 0 1.2-0.1 3 0 3-0.1 3 0 3 0 3 0 3 0 3 0 3 0 3 0 3 0 3 0 3 0 3 0 3 0 3 0 3 0 3 0 3 0 3 0 3 0 3 0 3 0 3 0 3 0 3 0 3 0 3 0 3 0 3 0 3 0 3 0 3 0 3 0 3 0 3 0 3 0 2.4 0 0 14.2 3 0.3 3 0.2 3 0.3 3 0.3 3 0.3 3 0.3 3 0.2 3 0.3 3 0.3 3 0.2 3 0.3 3 0.3 3 0.3 3 0.2 3 0.3 3 0.3 3 0.2 3 0.3 3 0.2 3 0.3 3 0.3 3 0.2 3 0.3 3 0.2 3 0.3 3 0.3 3 0.2 3 0.3 3 0.2 3 0.3 3 0.2 3 0.3 3 0.2 3 0.3 3 0.2 3 0.3 3 0.2 3 0.2 3 0.3 3 0.2 3 0.3 3 0.2 3 0.3 3 0.2 3 0.2 3 0.3 3 0.2 3 0.2 3 0.3 3 0.2 3 0.2 3 0.3 3 0.2 3 0.2 3 0.3 3 0.2 3 0.2 3 0.2 3 0.3 3 0.2 3 0.2 3 0.2 3 0.3 3 0.2 3 0.2 3 0.2 3 0.2 3 0.3 3 0.2 3 0.2 3 0.2 3 0.2 3 0.2 3 0.2 3 0.3 3 0.2 3 0.2 3 0.2 3 0.2 3 0.2 3 0.2 3 0.2 3 0.2 3 0.2 3 0.2 3 0.2 3 0.2 3 0.3 3 0.2 3 0.2 3 0.2 3 0.2 3 0.2 3 0.1 3 0.2 3 0.2 3 0.2 3 0.2 3 0.2 3 0.2 3 0.2 3 0.2 3 0.2 3 0.2 3 0.2 3 0.2 3 0.2 3 0.1 3 0.2 3 0.2 3 0.2 3 0.2 3 0.2 3 0.2 3 0.1 3 0.2 3 0.2 3 0.2 3 0.2 3 0.1 3 0.2 3 0.2 3 0.2 3 0.1 3 0.2 3 0.2 3 0.2 3 0.1 3 0.2 3 0.2 3 0.2 3 0.1 3 0.2 3 0.2 3 0.1 3 0.2 3 0.2 3 0.1 3 0.2 1.7 0.1" stroke="#111" stroke-width="1.25" fill="none"/>
<path d="M202.4 368.4l0.9-16.7 1-15.1 0.9-13.6 0.2-2.1 0.8-10.1 0.9-11.1 1-10 0.3-3.2 0.6-5.8 1-8.2 0.9-7.4 0.5-3.5 0.5-3.1 0.9-6.1 1-5.4 0.6-3.5 0.3-1.5 0.9-4.5 1-4.1 0.8-3.1 0.1-0.5 1-3.4 0.9-3.1 1-2.7 0-0.1 0.9-2.5 1-2.3 0.9-2.1 0.2-0.3 0.8-1.6 0.9-1.7 1-1.6 0.3-0.6 0.6-0.9 0.9-1.3 1-1.3 0.5-0.6 0.4-0.5 1-1 0.9-1 0.7-0.6 0.3-0.3 0.9-0.8 1-0.7 0.8-0.7 0.1 0 1-0.7 0.9-0.6 0.9-0.5 0.1-0.1 0.9-0.5 0.9-0.4 1-0.5 0.2-0.1 0.7-0.3 1-0.4 0.9-0.4 0.4-0.1 0.6-0.2 0.9-0.3 1-0.3 0.5-0.2 0.4-0.1 1-0.3 0.9-0.3 0.7-0.1 0.2-0.1 1-0.2 0.9-0.3 0.9-0.1 0.1-0.1 0.9-0.2 1-0.1 0.9-0.2 0.1 0 0.9-0.2 0.9-0.1 1.2-0.2 3-0.5 3-0.3 3-0.4 3-0.3 3-0.2 3-0.2 3-0.2 3-0.2 3-0.1 3-0.1 3-0.2 3 0 3-0.1 3-0.1 3 0 3-0.1 3 0 3-0.1 3 0 3 0 3 0 3 0 3 0 3 0 3 0 3 0.1 3 0 3 0 3 0 3 0.1 3 0 3 0.1 3 0 3 0 3 0.1 3 0 2.4 0.1 0 5.3 3 0.2 3 0.3 3 0.3 3 0.3 3 0.2 3 0.3 3 0.3 3 0.2 3 0.3 3 0.3 3 0.2 3 0.3 3 0.3 3 0.2 3 0.3 3 0.3 3 0.2 3 0.3 3 0.3 3 0.2 3 0.3 3 0.2 3 0.3 3 0.2 3 0.3 3 0.2 3 0.3 3 0.3 3 0.2 3 0.3 3 0.2 3 0.3 3 0.2 3 0.3 3 0.2 3 0.2 3 0.3 3 0.2 3 0.3 3 0.2 3 0.3 3 0.2 3 0.2 3 0.3 3 0.2 3 0.3 3 0.2 3 0.2 3 0.3 3 0.2 3 0.2 3 0.3 3 0.2 3 0.2 3 0.3 3 0.2 3 0.2 3 0.3 3 0.2 3 0.2 3 0.2 3 0.3 3 0.2 3 0.2 3 0.2 3 0.3 3 0.2 3 0.2 3 0.2 3 0.2 3 0.3 3 0.2 3 0.2 3 0.2 3 0.2 3 0.2 3 0.3 3 0.2 3 0.2 3 0.2 3 0.2 3 0.2 3 0.2 3 0.2 3 0.3 3 0.2 3 0.2 3 0.2 3 0.2 3 0.2 3 0.2 3 0.2 3 0.2 3 0.2 3 0.2 3 0.2 3 0.2 3 0.2 3 0.2 3 0.2 3 0.2 3 0.2 3 0.2 3 0.2 3 0.2 3 0.2 3 0.2 3 0.2 3 0.2 3 0.2 3 0.2 3 0.1 3 0.2 3 0.2 3 0.2 3 0.2 3 0.2 3 0.2 3 0.2 3 0.1 3 0.2 3 0.2 3 0.2 3 0.2 3 0.2 3 0.2 3 0.1 3 0.2 3 0.2 3 0.2 3 0.2 3 0.1 3 0.2 3 0.2 3 0.2 3 0.1 3 0.2 3 0.2 3 0.2 1.7 0.1" stroke="#111" stroke-width="1.25" fill="none"/>
<path d="M202.4 368.4l0.9-6.8 1-6.5 0.9-6.2 0.2-1 0.8-5 0.9-5.7 1-5.6 0.3-1.8 0.6-3.5 1-5 0.9-4.9 0.5-2.4 0.5-2.3 0.9-4.5 1-4.3 0.6-2.9 0.3-1.3 0.9-3.9 1-3.9 0.8-3.1 0.1-0.5 1-3.5 0.9-3.4 1-3.3 0-0.1 0.9-3 1-3 0.9-2.8 0.2-0.6 0.8-2.2 0.9-2.7 1-2.5 0.3-0.9 0.6-1.5 0.9-2.4 1-2.2 0.5-1.2 0.4-1 1-2.1 0.9-2 0.7-1.3 0.3-0.6 0.9-1.8 1-1.8 0.8-1.5 0.1-0.2 1-1.6 0.9-1.6 0.9-1.5 0.1-0.1 0.9-1.3 0.9-1.4 1-1.3 0.2-0.3 0.7-1 1-1.2 0.9-1.2 0.4-0.5 0.6-0.7 0.9-1 1-1.1 0.5-0.6 0.4-0.4 1-1 0.9-0.9 0.7-0.7 0.2-0.2 1-0.9 0.9-0.8 0.9-0.7 0.1-0.1 0.9-0.7 1-0.8 0.9-0.7 0.1 0 0.9-0.7 0.9-0.6 1.2-0.8 3-1.8 3-1.6 3-1.4 3-1.3 3-1.1 3-1 3-0.9 3-0.8 3-0.7 3-0.6 3-0.6 3-0.5 3-0.5 3-0.4 3-0.4 3-0.3 3-0.3 3-0.3 3-0.3 3-0.2 3-0.2 3-0.3 3-0.2 3-0.1 3-0.2 3-0.2 3-0.2 3-0.1 3-0.2 3-0.1 3-0.1 3-0.2 3-0.1 3-0.1 3-0.1 3-0.2 2.4-0.1 0-0.3 3 0.2 3 0.3 3 0.2 3 0.3 3 0.2 3 0.3 3 0.2 3 0.3 3 0.2 3 0.3 3 0.2 3 0.2 3 0.3 3 0.2 3 0.3 3 0.2 3 0.3 3 0.2 3 0.2 3 0.3 3 0.2 3 0.3 3 0.2 3 0.2 3 0.3 3 0.2 3 0.2 3 0.3 3 0.2 3 0.2 3 0.3 3 0.2 3 0.2 3 0.3 3 0.2 3 0.2 3 0.2 3 0.3 3 0.2 3 0.2 3 0.2 3 0.3 3 0.2 3 0.2 3 0.2 3 0.3 3 0.2 3 0.2 3 0.2 3 0.2 3 0.3 3 0.2 3 0.2 3 0.2 3 0.2 3 0.3 3 0.2 3 0.2 3 0.2 3 0.2 3 0.2 3 0.2 3 0.2 3 0.3 3 0.2 3 0.2 3 0.2 3 0.2 3 0.2 3 0.2 3 0.2 3 0.2 3 0.2 3 0.2 3 0.2 3 0.2 3 0.2 3 0.3 3 0.2 3 0.2 3 0.2 3 0.2 3 0.2 3 0.2 3 0.2 3 0.2 3 0.1 3 0.2 3 0.2 3 0.2 3 0.2 3 0.2 3 0.2 3 0.2 3 0.2 3 0.2 3 0.2 3 0.2 3 0.2 3 0.2 3 0.2 3 0.1 3 0.2 3 0.2 3 0.2 3 0.2 3 0.2 3 0.2 3 0.2 3 0.1 3 0.2 3 0.2 3 0.2 3 0.2 3 0.2 3 0.1 3 0.2 3 0.2 3 0.2 3 0.2 3 0.1 3 0.2 3 0.2 3 0.2 3 0.2 3 0.1 3 0.2 3 0.2 3 0.2 3 0.1 3 0.2 3 0.2 3 0.2 3 0.1 3 0.2 3 0.2 3 0.1 3 0.2 3 0.2 1.7 0.1" stroke="#111" stroke-width="1.25" fill="none"/>
<path d="M202.4 368.4l0.9-3.4 1-3.3 0.9-3.2 0.2-0.5 0.8-2.6 0.9-3.1 1-3 0.3-1 0.6-1.9 1-2.9 0.9-2.8 0.5-1.4 0.5-1.4 0.9-2.6 1-2.7 0.6-1.7 0.3-0.8 0.9-2.6 1-2.4 0.8-2.1 0.1-0.3 1-2.4 0.9-2.3 1-2.2 0-0.1 0.9-2.1 1-2.2 0.9-2.1 0.2-0.4 0.8-1.6 0.9-2.1 1-1.9 0.3-0.7 0.6-1.2 0.9-1.9 1-1.9 0.5-1 0.4-0.8 1-1.7 0.9-1.8 0.7-1.2 0.3-0.5 0.9-1.6 1-1.6 0.8-1.4 0.1-0.2 1-1.6 0.9-1.5 0.9-1.5 0.1 0 0.9-1.4 0.9-1.4 1-1.4 0.2-0.3 0.7-1.1 1-1.3 0.9-1.3 0.4-0.5 0.6-0.8 0.9-1.2 1-1.2 0.5-0.7 0.4-0.5 1-1.2 0.9-1.2 0.7-0.8 0.2-0.3 1-1.1 0.9-1 0.9-1 0.1-0.1 0.9-1 1-1 0.9-1 0.1-0.1 0.9-0.9 0.9-0.9 1.2-1.2 3-2.8 3-2.6 3-2.5 3-2.3 3-2.1 3-2.1 3-1.9 3-1.8 3-1.6 3-1.6 3-1.5 3-1.4 3-1.3 3-1.3 3-1.2 3-1.1 3-1.1 3-1 3-0.9 3-0.9 3-0.9 3-0.8 3-0.8 3-0.7 3-0.8 3-0.6 3-0.7 3-0.6 3-0.6 3-0.6 3-0.6 3-0.5 3-0.5 3-0.5 3-0.5 3-0.5 2.4-0.4 4.2-3.2 3 0.2 3 0.3 3 0.2 3 0.2 3 0.2 3 0.2 3 0.3 3 0.2 3 0.2 3 0.2 3 0.2 3 0.2 3 0.3 3 0.2 3 0.2 3 0.2 3 0.2 3 0.2 3 0.3 3 0.2 3 0.2 3 0.2 3 0.2 3 0.2 3 0.2 3 0.3 3 0.2 3 0.2 3 0.2 3 0.2 3 0.2 3 0.2 3 0.2 3 0.3 3 0.2 3 0.2 3 0.2 3 0.2 3 0.2 3 0.2 3 0.2 3 0.2 3 0.2 3 0.3 3 0.2 3 0.2 3 0.2 3 0.2 3 0.2 3 0.2 3 0.2 3 0.2 3 0.2 3 0.2 3 0.2 3 0.2 3 0.2 3 0.2 3 0.2 3 0.3 3 0.2 3 0.2 3 0.2 3 0.2 3 0.2 3 0.2 3 0.2 3 0.2 3 0.2 3 0.2 3 0.2 3 0.2 3 0.2 3 0.2 3 0.2 3 0.2 3 0.2 3 0.2 3 0.2 3 0.2 3 0.2 3 0.2 3 0.2 3 0.2 3 0.2 3 0.2 3 0.2 3 0.2 3 0.1 3 0.2 3 0.2 3 0.2 3 0.2 3 0.2 3 0.2 3 0.2 3 0.2 3 0.2 3 0.2 3 0.2 3 0.2 3 0.2 3 0.2 3 0.2 3 0.2 3 0.1 3 0.2 3 0.2 3 0.2 3 0.2 3 0.2 3 0.2 3 0.2 3 0.2 3 0.2 3 0.1 3 0.2 3 0.2 3 0.2 3 0.2 3 0.2 3 0.2 3 0.2 3 0.1 3 0.2 3 0.2 3 0.2 3 0.2 3 0.2 3 0.2 3 0.1 3 0.2 3 0.2 3 0.2 3 0.2 3 0.2 3 0.2 3 0.1 0.5 0.1" stroke="#111" stroke-width="1.25" fill="none"/>
<path d="M202.4 368.4l0.9-1.4 1-1.5 0.9-1.4 0.2-0.2 0.8-1.2 0.9-1.4 1-1.4 0.3-0.5 0.6-0.9 1-1.3 0.9-1.4 0.5-0.7 0.5-0.7 0.9-1.3 1-1.3 0.6-0.9 0.3-0.5 0.9-1.3 1-1.3 0.8-1.1 0.1-0.2 1-1.2 0.9-1.3 1-1.3 0.9-1.2 1-1.3 0.9-1.2 0.2-0.2 0.8-1 0.9-1.2 1-1.2 0.3-0.5 0.6-0.7 0.9-1.2 1-1.2 0.5-0.6 0.4-0.6 1-1.1 0.9-1.2 0.7-0.8 0.3-0.3 0.9-1.1 1-1.2 0.8-0.9 0.1-0.2 1-1.1 0.9-1.1 0.9-1.1 0.1 0 0.9-1 0.9-1.1 1-1.1 0.2-0.2 0.7-0.8 1-1 0.9-1.1 0.4-0.4 0.6-0.6 0.9-1 1-1 0.5-0.6 0.4-0.4 1-1 0.9-1 0.7-0.7 0.2-0.2 1-1 0.9-1 0.9-0.8 0.1-0.1 0.9-0.9 1-1 0.9-0.9 0.1-0.1 0.9-0.8 0.9-0.9 1.2-1.1 3-2.8 3-2.7 3-2.6 3-2.5 3-2.5 3-2.3 3-2.3 3-2.2 3-2.2 3-2 3-2 3-1.9 3-1.8 3-1.8 3-1.7 3-1.6 3-1.6 3-1.5 3-1.4 3-1.3 3-1.3 3-1.2 3-1.2 3-1.1 3-1 3-0.9 3-0.9 3-0.9 3-0.7 3-0.7 3-0.7 3-0.6 3-0.5 3-0.5 3-0.4 3-0.4 2.4-0.2 4.2-1 3 0.2 3 0.1 3 0.2 3 0.1 3 0.2 3 0.2 3 0.1 3 0.2 3 0.2 3 0.1 3 0.2 3 0.2 3 0.1 3 0.2 3 0.1 3 0.2 3 0.2 3 0.1 3 0.2 3 0.2 3 0.1 3 0.2 3 0.1 3 0.2 3 0.2 3 0.1 3 0.2 3 0.1 3 0.2 3 0.2 3 0.1 3 0.2 3 0.2 3 0.1 3 0.2 3 0.1 3 0.2 3 0.2 3 0.1 3 0.2 3 0.1 3 0.2 3 0.2 3 0.1 3 0.2 3 0.1 3 0.2 3 0.2 3 0.1 3 0.2 3 0.1 3 0.2 3 0.2 3 0.1 3 0.2 3 0.1 3 0.2 3 0.2 3 0.1 3 0.2 3 0.1 3 0.2 3 0.1 3 0.2 3 0.2 3 0.1 3 0.2 3 0.1 3 0.2 3 0.2 3 0.1 3 0.2 3 0.1 3 0.2 3 0.1 3 0.2 3 0.2 3 0.1 3 0.2 3 0.1 3 0.2 3 0.1 3 0.2 3 0.2 3 0.1 3 0.2 3 0.1 3 0.2 3 0.1 3 0.2 3 0.1 3 0.2 3 0.2 3 0.1 3 0.2 3 0.1 3 0.2 3 0.1 3 0.2 3 0.1 3 0.2 3 0.2 3 0.1 3 0.2 3 0.1 3 0.2 3 0.1 3 0.2 3 0.1 3 0.2 3 0.1 3 0.2 3 0.2 3 0.1 3 0.2 3 0.1 3 0.2 3 0.1 3 0.2 3 0.1 3 0.2 3 0.1 3 0.2 3 0.1 3 0.2 3 0.1 3 0.2 3 0.2 3 0.1 3 0.2 3 0.1 3 0.2 3 0.1 3 0.2 3 0.1 3 0.2 3 0.1 3 0.2 0.5 0" stroke="#111" stroke-width="1.25" fill="none"/>
<path d="M202.4 368.4l0.9-0.7 1-0.6 0.9-0.7 0.2-0.1 0.8-0.6 0.9-0.6 1-0.7 0.3-0.2 0.6-0.4 1-0.7 0.9-0.6 0.5-0.3 0.5-0.4 0.9-0.6 1-0.6 0.6-0.5 0.3-0.2 0.9-0.6 1-0.6 0.8-0.6 0.1-0.1 1-0.6 0.9-0.6 1-0.6 0-0.1 0.9-0.6 1-0.6 0.9-0.6 0.2-0.1 0.8-0.5 0.9-0.6 1-0.6 0.3-0.2 0.6-0.4 0.9-0.6 1-0.6 0.5-0.3 0.4-0.3 1-0.6 0.9-0.6 0.7-0.4 0.3-0.2 0.9-0.6 1-0.6 0.8-0.5 0.1 0 1-0.6 0.9-0.6 0.9-0.6 0.1 0 0.9-0.5 0.9-0.6 1-0.6 0.2-0.1 0.7-0.4 1-0.6 0.9-0.5 0.4-0.3 0.6-0.3 0.9-0.5 1-0.6 0.5-0.3 0.4-0.2 1-0.6 0.9-0.5 0.7-0.4 0.2-0.2 1-0.5 0.9-0.5 0.9-0.5 0.1-0.1 0.9-0.5 1-0.5 0.9-0.6 0.1 0 0.9-0.5 0.9-0.5 1.2-0.7 3-1.6 3-1.6 3-1.6 3-1.5 3-1.5 3-1.6 3-1.4 3-1.5 3-1.4 3-1.4 3-1.4 3-1.4 3-1.3 3-1.4 3-1.3 3-1.2 3-1.3 3-1.2 3-1.2 3-1.2 3-1.2 3-1.1 3-1.1 3-1.1 3-1.1 3-1.1 3-1 3-1 3-1 3-1 3-0.9 3-1 3-0.9 3-0.9 3-0.8 3-0.9 2.4-0.6 4.2-1.1 3 0.1 3 0.1 3 0.1 3 0.2 3 0.1 3 0.1 3 0.1 3 0.1 3 0.1 3 0.1 3 0.1 3 0.1 3 0.1 3 0.1 3 0.1 3 0.2 3 0.1 3 0.1 3 0.1 3 0.1 3 0.1 3 0.1 3 0.1 3 0.1 3 0.1 3 0.1 3 0.1 3 0.1 3 0.2 3 0.1 3 0.1 3 0.1 3 0.1 3 0.1 3 0.1 3 0.1 3 0.1 3 0.1 3 0.1 3 0.1 3 0.1 3 0.2 3 0.1 3 0.1 3 0.1 3 0.1 3 0.1 3 0.1 3 0.1 3 0.1 3 0.1 3 0.1 3 0.1 3 0.1 3 0.1 3 0.1 3 0.2 3 0.1 3 0.1 3 0.1 3 0.1 3 0.1 3 0.1 3 0.1 3 0.1 3 0.1 3 0.1 3 0.1 3 0.1 3 0.1 3 0.1 3 0.1 3 0.2 3 0.1 3 0.1 3 0.1 3 0.1 3 0.1 3 0.1 3 0.1 3 0.1 3 0.1 3 0.1 3 0.1 3 0.1 3 0.1 3 0.1 3 0.1 3 0.1 3 0.1 3 0.2 3 0.1 3 0.1 3 0.1 3 0.1 3 0.1 3 0.1 3 0.1 3 0.1 3 0.1 3 0.1 3 0.1 3 0.1 3 0.1 3 0.1 3 0.1 3 0.1 3 0.1 3 0.1 3 0.1 3 0.2 3 0.1 3 0.1 3 0.1 3 0.1 3 0.1 3 0.1 3 0.1 3 0.1 3 0.1 3 0.1 3 0.1 3 0.1 3 0.1 3 0.1 3 0.1 3 0.1 3 0.1 3 0.1 3 0.1 3 0.1 3 0.1 3 0.1 3 0.1 3 0.1 3 0.2 3 0.1 3 0.1 0.5 0" stroke="#111" stroke-width="1.25" fill="none"/>
<path d="M202.4 368.4l0.9-0.3 1-0.4 0.9-0.3 0.2-0.1 0.8-0.3 0.9-0.3 1-0.3 0.3-0.2 0.6-0.2 1-0.3 0.9-0.4 0.5-0.1 0.5-0.2 0.9-0.3 1-0.4 0.6-0.2 0.3-0.1 0.9-0.3 1-0.3 0.8-0.3 0.1-0.1 1-0.3 0.9-0.3 1-0.4 0.9-0.3 1-0.3 0.9-0.3 0.2-0.1 0.8-0.2 0.9-0.4 1-0.3 0.3-0.1 0.6-0.2 0.9-0.3 1-0.3 0.5-0.2 0.4-0.2 1-0.3 0.9-0.3 0.7-0.2 0.3-0.1 0.9-0.3 1-0.3 0.8-0.3 0.1 0 1-0.3 0.9-0.4 0.9-0.3 0.1 0 0.9-0.3 0.9-0.3 1-0.3 0.2-0.1 0.7-0.2 1-0.3 0.9-0.3 0.4-0.1 0.6-0.2 0.9-0.3 1-0.3 0.5-0.2 0.4-0.1 1-0.3 0.9-0.3 0.7-0.2 0.2-0.1 1-0.3 0.9-0.3 0.9-0.2 0.1-0.1 0.9-0.3 1-0.3 0.9-0.2 0.1-0.1 0.9-0.2 0.9-0.3 1.2-0.4 3-0.9 3-0.9 3-0.9 3-0.9 3-0.8 3-0.9 3-0.8 3-0.9 3-0.8 3-0.8 3-0.9 3-0.8 3-0.8 3-0.7 3-0.8 3-0.8 3-0.8 3-0.7 3-0.8 3-0.7 3-0.7 3-0.8 3-0.7 3-0.7 3-0.7 3-0.7 3-0.6 3-0.7 3-0.7 3-0.6 3-0.7 3-0.6 3-0.6 3-0.6 3-0.7 3-0.6 2.4-0.4 4.2-0.1 3 0.1 3 0.1 3 0 3 0.1 3 0 3 0.1 3 0 3 0.1 3 0.1 3 0 3 0.1 3 0 3 0.1 3 0 3 0.1 3 0.1 3 0 3 0.1 3 0 3 0.1 3 0 3 0.1 3 0.1 3 0 3 0.1 3 0 3 0.1 3 0 3 0.1 3 0.1 3 0 3 0.1 3 0 3 0.1 3 0 3 0.1 3 0.1 3 0 3 0.1 3 0 3 0.1 3 0 3 0.1 3 0 3 0.1 3 0.1 3 0 3 0.1 3 0 3 0.1 3 0 3 0.1 3 0.1 3 0 3 0.1 3 0 3 0.1 3 0 3 0.1 3 0.1 3 0 3 0.1 3 0 3 0.1 3 0 3 0.1 3 0 3 0.1 3 0.1 3 0 3 0.1 3 0 3 0.1 3 0 3 0.1 3 0 3 0.1 3 0.1 3 0 3 0.1 3 0 3 0.1 3 0 3 0.1 3 0.1 3 0 3 0.1 3 0 3 0.1 3 0 3 0.1 3 0 3 0.1 3 0.1 3 0 3 0.1 3 0 3 0.1 3 0 3 0.1 3 0 3 0.1 3 0.1 3 0 3 0.1 3 0 3 0.1 3 0 3 0.1 3 0 3 0.1 3 0.1 3 0 3 0.1 3 0 3 0.1 3 0 3 0.1 3 0 3 0.1 3 0.1 3 0 3 0.1 3 0 3 0.1 3 0 3 0.1 3 0 3 0.1 3 0.1 3 0 3 0.1 3 0 3 0.1 3 0 3 0.1 3 0 3 0.1 0.5 0" stroke="#111" stroke-width="1.25" fill="none"/>
<path d="M202.4 368.4l0.9-0.1 1-0.2 0.9-0.1 0.2-0.1 0.8-0.1 0.9-0.1 1-0.2 0.3 0 0.6-0.1 1-0.2 0.9-0.1 0.5-0.1 0.5-0.1 0.9-0.1 1-0.2 0.6-0.1 0.3 0 0.9-0.2 1-0.1 0.8-0.1 0.1-0.1 1-0.1 0.9-0.2 1-0.1 0.9-0.2 1-0.1 0.9-0.2 0.2 0 0.8-0.1 0.9-0.1 1-0.2 0.3 0 0.6-0.1 0.9-0.2 1-0.1 0.5-0.1 0.4-0.1 1-0.1 0.9-0.2 0.7-0.1 0.3 0 0.9-0.2 1-0.1 0.8-0.1 0.1-0.1 1-0.1 0.9-0.1 0.9-0.2 0.1 0 0.9-0.1 0.9-0.2 1-0.1 0.2-0.1 0.7-0.1 1-0.1 0.9-0.2 0.4 0 0.6-0.1 0.9-0.1 1-0.2 0.5-0.1 0.4 0 1-0.2 0.9-0.1 0.7-0.1 0.2-0.1 1-0.1 0.9-0.2 0.9-0.1 0.1 0 0.9-0.1 1-0.2 0.9-0.1 0.1 0 0.9-0.2 0.9-0.1 1.2-0.2 3-0.4 3-0.5 3-0.4 3-0.5 3-0.4 3-0.5 3-0.4 3-0.5 3-0.4 3-0.5 3-0.4 3-0.5 3-0.4 3-0.4 3-0.5 3-0.4 3-0.4 3-0.5 3-0.4 3-0.4 3-0.5 3-0.4 3-0.4 3-0.5 3-0.4 3-0.4 3-0.5 3-0.4 3-0.4 3-0.4 3-0.5 3-0.4 3-0.4 3-0.4 3-0.4 3-0.5 2.4-0.3 4.2-0.9 3 0.1 3 0 3 0.1 3 0 3 0 3 0.1 3 0 3 0.1 3 0 3 0 3 0.1 3 0 3 0 3 0.1 3 0 3 0.1 3 0 3 0 3 0.1 3 0 3 0 3 0.1 3 0 3 0.1 3 0 3 0 3 0.1 3 0 3 0.1 3 0 3 0 3 0.1 3 0 3 0 3 0.1 3 0 3 0.1 3 0 3 0 3 0.1 3 0 3 0 3 0.1 3 0 3 0.1 3 0 3 0 3 0.1 3 0 3 0 3 0.1 3 0 3 0.1 3 0 3 0 3 0.1 3 0 3 0 3 0.1 3 0 3 0.1 3 0 3 0 3 0.1 3 0 3 0 3 0.1 3 0 3 0.1 3 0 3 0 3 0.1 3 0 3 0 3 0.1 3 0 3 0.1 3 0 3 0 3 0.1 3 0 3 0 3 0.1 3 0 3 0.1 3 0 3 0 3 0.1 3 0 3 0 3 0.1 3 0 3 0.1 3 0 3 0 3 0.1 3 0 3 0 3 0.1 3 0 3 0.1 3 0 3 0 3 0.1 3 0 3 0 3 0.1 3 0 3 0 3 0.1 3 0 3 0.1 3 0 3 0 3 0.1 3 0 3 0 3 0.1 3 0 3 0.1 3 0 3 0 3 0.1 3 0 3 0 3 0.1 3 0 3 0 3 0.1 3 0 3 0.1 3 0 3 0 3 0.1 3 0 3 0 3 0.1 3 0 0.5 0" stroke="#111" stroke-width="1.25" fill="none"/>
<path d="M202.4 368.4l0.9-0.1 1 0 0.9-0.1 0.2 0 0.8-0.1 0.9-0.1 1 0 0.3-0.1 0.6 0 1-0.1 0.9-0.1 0.5 0 0.5 0 0.9-0.1 1-0.1 0.6 0 0.3 0 0.9-0.1 1-0.1 0.8 0 0.1-0.1 1 0 0.9-0.1 1-0.1 0.9 0 1-0.1 0.9-0.1 0.2 0 0.8-0.1 0.9 0 1-0.1 0.3 0 0.6-0.1 0.9-0.1 1 0 0.5-0.1 0.4 0 1-0.1 0.9 0 0.7-0.1 0.3 0 0.9-0.1 1-0.1 0.8 0 0.1 0 1-0.1 0.9-0.1 0.9 0 0.1 0 0.9-0.1 0.9-0.1 1-0.1 0.2 0 0.7 0 1-0.1 0.9-0.1 0.4 0 0.6-0.1 0.9 0 1-0.1 0.5 0 0.4-0.1 1 0 0.9-0.1 0.7-0.1 0.2 0 1-0.1 0.9 0 0.9-0.1 0.1 0 0.9-0.1 1 0 0.9-0.1 0.1 0 0.9-0.1 0.9-0.1 1.2-0.1 3-0.2 3-0.2 3-0.2 3-0.3 3-0.2 3-0.2 3-0.3 3-0.2 3-0.2 3-0.2 3-0.3 3-0.2 3-0.2 3-0.3 3-0.2 3-0.2 3-0.2 3-0.3 3-0.2 3-0.2 3-0.3 3-0.2 3-0.2 3-0.3 3-0.2 3-0.2 3-0.2 3-0.3 3-0.2 3-0.2 3-0.3 3-0.2 3-0.2 3-0.2 3-0.3 3-0.2 2.4-0.2 4.2-0.6 3 0.1 3 0 3 0 3 0 3 0.1 3 0 3 0 3 0.1 3 0 3 0 3 0 3 0.1 3 0 3 0 3 0 3 0.1 3 0 3 0 3 0 3 0.1 3 0 3 0 3 0 3 0.1 3 0 3 0 3 0 3 0.1 3 0 3 0 3 0.1 3 0 3 0 3 0 3 0.1 3 0 3 0 3 0 3 0.1 3 0 3 0 3 0 3 0.1 3 0 3 0 3 0 3 0 3 0.1 3 0 3 0 3 0 3 0.1 3 0 3 0 3 0 3 0.1 3 0 3 0 3 0 3 0.1 3 0 3 0 3 0 3 0.1 3 0 3 0 3 0 3 0.1 3 0 3 0 3 0 3 0 3 0.1 3 0 3 0 3 0 3 0.1 3 0 3 0 3 0 3 0.1 3 0 3 0 3 0 3 0 3 0.1 3 0 3 0 3 0 3 0.1 3 0 3 0 3 0 3 0 3 0.1 3 0 3 0 3 0 3 0.1 3 0 3 0 3 0 3 0 3 0.1 3 0 3 0 3 0 3 0 3 0.1 3 0 3 0 3 0 3 0.1 3 0 3 0 3 0 3 0 3 0.1 3 0 3 0 3 0 3 0 3 0.1 3 0 3 0 3 0 3 0 3 0.1 3 0 3 0 3 0 3 0 3 0.1 3 0 3 0 3 0 3 0 3 0.1 0.5 0" stroke="#111" stroke-width="1.25" fill="none"/>
<path d="M955.6 412.6V99 M949.6 412.6H1580.8 M949.6 412.6h6 M949.6 381.1h6 M949.6 349.5h6 M949.6 317.9h6 M949.6 286.4h6 M949.6 254.9h6 M949.6 223.3h6 M949.6 191.8h6 M949.6 160.2h6 M949.6 128.7h6 M953.6 396.8h4 M953.6 365.3h4 M953.6 333.7h4 M953.6 302.2h4 M953.6 270.6h4 M953.6 239.1h4 M953.6 207.5h4 M953.6 176h4 M953.6 144.4h4 M953.6 112.9h4 M955.6 410.6v8 M1012.5 412.6v4 M1069.3 410.6v8 M1126.1 412.6v4 M1183 410.6v8 M1239.8 412.6v4 M1296.6 410.6v8 M1353.5 412.6v4 M1410.3 410.6v8 M1467.1 412.6v4 M1524 410.6v8 M1580.8 412.6v4" stroke="#222" stroke-width="1.3" fill="none"/>
<text transform="translate(936.7,104.7) scale(0.85,1)" font-size="20" text-anchor="middle">80</text>
<text transform="translate(936.7,136.2) scale(0.85,1)" font-size="20" text-anchor="middle">70</text>
<text transform="translate(936.7,167.8) scale(0.85,1)" font-size="20" text-anchor="middle">60</text>
<text transform="translate(936.7,199.3) scale(0.85,1)" font-size="20" text-anchor="middle">50</text>
<text transform="translate(936.7,230.9) scale(0.85,1)" font-size="20" text-anchor="middle">40</text>
<text transform="translate(936.7,262.4) scale(0.85,1)" font-size="20" text-anchor="middle">30</text>
<text transform="translate(936.7,294) scale(0.85,1)" font-size="20" text-anchor="middle">20</text>
<text transform="translate(936.7,325.5) scale(0.85,1)" font-size="20" text-anchor="middle">10</text>
<text transform="translate(936.7,357.1) scale(0.85,1)" font-size="20" text-anchor="middle">0</text>
<text transform="translate(935.3,388.6) scale(0.85,1)" font-size="20" text-anchor="middle">-10</text>
<text transform="translate(935.3,420.2) scale(0.85,1)" font-size="20" text-anchor="middle">-20</text>
<text transform="translate(957.6,437.6) scale(0.85,1)" font-size="19.5" text-anchor="middle">-100</text>
<text transform="translate(1075.9,437.6) scale(0.85,1)" font-size="19.5" text-anchor="middle">0</text>
<text transform="translate(1188.4,437.6) scale(0.85,1)" font-size="19.5" text-anchor="middle">100</text>
<text transform="translate(1299.2,437.6) scale(0.85,1)" font-size="19.5" text-anchor="middle">200</text>
<text transform="translate(1414.8,437.6) scale(0.85,1)" font-size="19.5" text-anchor="middle">300</text>
<text transform="translate(1525.8,437.6) scale(0.85,1)" font-size="19.5" text-anchor="middle">400</text>
<text x="920.2" y="84.5" font-size="20" textLength="27.5" lengthAdjust="spacingAndGlyphs">RU</text>
<text x="1197.4" y="101.6" font-size="22.6" font-weight="bold" textLength="186.5" lengthAdjust="spacingAndGlyphs">BDG 11.004 W30S</text>
<text transform="translate(904.3,261.2) rotate(-90)" font-size="23.3" font-weight="bold" text-anchor="middle" textLength="87.5" lengthAdjust="spacingAndGlyphs">Response</text>
<text x="1240.4" y="455.9" font-size="20" font-weight="bold" text-anchor="middle" textLength="43" lengthAdjust="spacingAndGlyphs">Time</text>
<text x="1602.8" y="463.3" font-size="20" textLength="12" lengthAdjust="spacingAndGlyphs">S</text>
<path d="M1001.1 349.4l1-0.4 1 0.4 1-0.2 1 1 1-0.2 1 0.3 1 0 1-0.2 1 0.3 1-1.2 1 0.5 1 0.6 1-0.1 1-0.4 1 0.2 1-0.5 1 0.1 1 0.1 1-0.1 1-0.2 1-0.5 1 0.3 1-0.1 1 0.1 1 0.4 1 0.7 1 0.7 1-0.4 1-0.5 1 0.6 1-0.9 1-0.1 1-0.1 1 0 1-0.2 1-0.2 1-0.2 1 0.6 1-0.1 1 0.1 1-0.3 1 0.3 1-1.1 1 1 1-0.1 1-0.6 1 0.5 1 0.7 1 0.3 1 0.1 1-0.5 1 0.2 1-0.8 1-0.2 1-0.4 1-0.2 1 0 1 0.1 1 0.8 1 0.5 1-0.7 1 0.5 1 0.5 1-1.5 1-0.3 1 0.8 1 0.2 1-0.3 0.2 0.3 1-0.1 1 0.1 1-0.3 1 0.4 1 0.1 1 0 1-0.2 1 0.4 1-0.5 1-0.4 1 0.6 1-1.2 1 1.4 1-0.1 1-0.4 1-0.8 1 1.2 1-0.9 1 0 1 0.3 1 0 1-0.4 1 0 1-0.5 1 0.5 1-0.2 1 0.1 1-0.6 1 0.7 1-0.5 1 0.3 1-0.5 1 0.9 1-0.1 1 0.2 1-0.2 1 0.4 1 0.4 1-0.8 1-0.2 1 0 1 0.3 1-1 1 0.3 1-0.2 1-0.5 1 0.1 1-0.2 1 0.4 1-0.4 1 0.3 1-0.4 1 0.6 1-0.3 1 0 1 0.6 1-0.7 1 0.4 1 0.2 1 0.2 1-0.3 1 0 1 0.1 1-0.3 1-0.4 1-0.6 1 0.8 1-0.6 1-0.7 1-0.1 1 0.5 1-0.1 1 0.2 1 0.9 1-0.5 1 0 1-0.2 1 0 1-0.7 1 0.3 1-0.1 1 0.2 1 0.3 1-0.2 1 0.1 1-0.7 1 0.5 1-0.1 1-0.6 1 1.2 1-0.5 1-0.3 1 0.1 1 1.2 1-0.5 1 0.1 1 0.2 1-0.9 1 0.1 1-0.6 1 0 1 0 1 0.2 1-0.3 1 0.2 1 0.7 1-0.1 1-0.1 1 0.5 1-0.1 1-0.9 1-0.1 1 0.1 1 0.2 1-0.3 1-0.2 1-0.2 1 0.6 1-0.5 1 0.9 1 0.3 1-0.1 1-0.4 1-0.3 1 0 1 0 1-0.8 1 0.6 1 0.4 1 0.4 1-0.5 1 0.4 1-0.1 1-0.5 1-0.4 1-0.5 0.4-0.2 0 0.5 1 0.5 1 0.1 1 0.7 1 0.2 1 0.2 1-0.3 1-0.1 1-0.5 1 0.1 1-0.5 1 0 1 0 1 0.2 1-0.2 1-0.3 1 0.5 1-0.2 1-0.4 1 0.9 1-0.5 1 0.4 1 0.1 1 0 1-0.6 1-0.8 1 0.5 1-0.3 1 0 1 0.5 1 0 1-0.3 1-0.4 1-0.1 1 0.6 1-0.2 1-0.1 1 0.7 1-0.3 1 1.5 1-0.4 1 0.4 1-0.3 1-0.4 1-0.3 1-0.4 1 0.3 1 0 1 0.3 1-0.1 1 0.6 1-0.4 1-0.2 1-0.5 1 0.6 1-0.2 1 0.2 1-0.4 1 0 1 0.1 1-0.6 1 0.4 1-0.4 1 1.2 1 0.7 1-0.6 1 0.2 1-0.6 1-0.3 1 0.8 1-0.6 1-0.3 1 0 1 0.4 1 0.1 1-0.7 1 0.2 1-0.5 1-0.3 1 1.1 1 0.4 1 0 1 0.2 1-0.1 1 0.1 1-0.5 1 0.8 1-0.3 1 0.3 1-0.2 1-0.1 1-0.6 1 0.5 1-0.1 1-0.4 1-0.2 1 0.7 1-0.1 1-0.3 1 0 1-0.1 1 0.2 1-0.3 1-0.4 1 0.3 1-0.2 1 0.6 1 0.1 1-0.6 1 0.3 1-0.1 1 0.2 1 0.3 1-0.7 1 0.3 1-0.6 1 0.3 1-0.2 1 0.9 1-0.4 1-0.1 1-0.2 1-0.2 1-0.2 1 0.4 1 0.8 1-0.3 1 0.7 1-0.8 1-0.1 1 0.4 1 0.4 1-0.4 1 0.3 1 0.1 1 0 1-0.4 1-0.1 1-0.8 1 0.6 1 0 1 0.3 1-0.7 1 0.8 1-0.3 1 0.3 1-0.9 1 0.2 1 0.7 1-0.2 1-0.7 1 0.3 1 0.7 1-0.1 1-0.4 1 0.3 1 0.2 1-0.6 1 0.3 1 0 1-0.7 1 0.7 1-0.5 1 0 1-0.3 1 0.6 1 0 1-0.2 1 0.3 1 0.5 1 0 1-0.1 1-0.6 1 0.5 1-0.5 1 0.4 1-0.6 1 1.2 1-0.4 1 0.7 1-0.6 1 0.3 1-0.6 1-0.7 1 0.1 1 0.3 1 0 1-0.2 1 0.4 1 0.3 1 0.3 1 0 1-0.4 1-0.2 1 1.1 1-0.5 1 0.4 1-0.6 1 0.3 1-0.9 1 0.4 1-0.2 1 0.2 1-0.3 1-0.1 1-0.3 1 0.6 1 0.3 1 0.7 1-0.8 1 0.4 1-0.3 1 0.2 1-0.4 1 0.3 1 0.1 1 0.4 1-0.4 1-1 1 0.5 1-0.2 1-0.6 1 0.4 1 0.5 1 0 1 0.2 1-0.3 1 0.7 1-0.2 1-0.2 1-0.2 1-0.2 1-0.1 1 0.2 1-0.2 1 0.6 1-0.6 1 0.6 1 0.1 1 0.3 1-0.3 1 0.4 1-0.3 1-0.1 1 0.1 1-0.2 1 0 1 0.2 1-0.2 1-0.3 1 0.1 1 0.3 1-0.1 1 0.3 1 0 1 0.1 1 0 1-0.5 1-0.1 1-0.4 1 0.1 1 0.3 1-0.4 1-0.5 1 0.3 1 0.1 1 0.6 1-0.4 1 0.2 1-0.1 1-0.3 1 0.7 1-1 1 0.3 1 0.3 1 0 1-0.2 1 0.1 1-0.1 1 0 1-0.5 1 1.1 1-0.5 1 0.3 1-0.1 1-0.2 1 0.4 1-0.5 1 1 1-0.3 1 0.1 1-0.1 1 0.2 1-0.2 1 0.9 1-0.5 1 0.2 1-0.4 1-0.2 1-0.1 1-0.6 1 0.8 1 0.2 1-0.3 1 0.1 1-0.5 1-0.3 1 0.1 1 0.3 1 0.5 1-0.5 1-0.1 1 0 1 0.2 1-0.1 1 0.2 1 0 1-0.2 1 0 1-0.3 1 0.9 1-0.7 1 0.1 1-0.4 1 0.1 1-0.4 1 0.8 1 0.1 1 0.7 1-0.9 1 0.9 1 0 1-1.1 1-0.1 1-0.2 1 0.3 1-0.1 1 0.3 1 0.4 1 0.5 1-0.4 1 0.3 0-0.4" stroke="#ff0000" stroke-width="1.6" fill="none"/>
<path d="M1001.1 350.1l1-0.8 1-0.4 1-0.2 1 0.6 1-0.5 1 0.2 1-0.1 1 0.5 1-0.5 1 0.8 1-0.5 1 0.5 1-0.2 1 0.2 1-0.4 1-0.3 1-0.4 1 0.1 1 0.7 1-0.2 1-0.4 1 0.4 1 0.6 1-0.2 1 0 1-0.1 1-0.5 1 0.6 1-0.9 1 0.6 1 0.3 1-0.1 1-0.3 1-0.1 1 0.5 1-0.1 1 0.3 1 0.4 1-0.3 1-0.4 1-0.4 1 0.7 1 0.2 1-0.4 1 0.1 1 0.4 1 0.1 1-0.8 1 0.2 1 0.2 1-0.1 1-0.1 1-0.4 1-0.6 1-0.8 1 1.9 1-0.6 1 0 1 0.3 1 0.2 1 0.2 1 0 1-0.4 1-0.4 1 0 1 0.1 1 0.1 1-0.6 0.2 0.6 1 0.5 1-0.4 1 0.5 1-0.9 1-0.3 1-0.1 1 0.2 1-0.8 1-0.2 1 0 1-0.2 1 0 1 0.3 1-0.3 1 0.4 1-0.3 1-0.6 1 0.3 1 0.2 1-0.2 1 0.3 1-0.1 1-0.1 1 0 1 0.4 1-0.5 1-0.1 1-0.5 1 0.3 1-0.7 1-0.2 1 0.5 1-0.1 1-0.1 1 0.1 1 0 1-0.2 1-0.1 1 0.2 1 0.1 1-1.3 1 0.7 1 0.5 1-0.2 1-0.6 1 0.1 1-0.4 1-0.3 1 0.1 1-0.4 1-0.2 1 0.3 1-0.3 1 0.4 1-0.4 1 0.5 1 0.1 1-0.4 1-0.2 1 0.2 1-0.7 1 0.5 1 0.5 1 0.2 1-0.9 1 0.1 1 0.1 1-0.3 1-0.8 1 0.6 1 0.2 1-0.2 1-0.4 1 0 1 0.6 1 0.3 1-0.7 1 0.4 1 0 1-1.5 1-0.4 1 0.6 1-0.2 1 0.1 1 0.5 1 0.2 1-0.6 1 1.4 1-1.5 1-0.5 1 0.7 1 0.2 1-1.2 1 0.2 1-0.2 1 0.1 1-0.2 1-0.1 1-0.1 1 0.1 1 0.6 1-0.6 1 0 1 0.2 1-0.6 1-0.4 1 0.5 1-0.3 1 0.4 1 0.2 1-0.2 1-0.2 1 0.5 1-0.6 1-0.3 1 0.2 1 0.2 1-0.5 1 0.2 1-0.4 1-0.1 1-0.7 1 0.1 1-0.4 1 0.4 1 0 1 0.2 1-0.5 1 0.4 1 0.2 1-0.6 1 0.4 1 0 1-0.3 1 0.2 1-0.7 0.4 0.8 0 0.2 1 0.1 1 0.3 1-0.7 1 0.3 1 0 1 0.4 1 0.3 1-0.6 1 1 1-0.3 1-0.6 1-0.6 1 0.4 1-0.1 1-0.5 1 0.5 1 0.5 1-0.1 1 0.2 1-0.1 1 0.8 1-1.4 1-0.1 1 0.3 1-0.1 1 0.1 1 0.7 1 0.3 1 0.2 1 0.4 1-0.4 1 0.2 1-0.5 1 0 1 0.2 1-0.2 1 0.1 1-0.6 1-0.8 1 0.2 1 0.6 1 0.2 1 0.1 1 0.2 1-0.7 1-0.2 1 0.4 1-0.3 1 0.4 1 0.9 1 0.4 1-0.4 1 0.2 1-0.8 1 0.3 1-0.2 1-0.9 1 1 1 0.3 1-0.3 1 0 1 0.6 1-0.5 1 0.3 1-0.5 1-0.6 1-0.3 1 0.3 1 0.3 1 0 1 0.4 1-0.3 1-0.5 1 1.1 1 0.3 1-0.5 1 0 1 0.2 1-0.9 1 0.4 1-0.6 1 0.2 1 0.4 1-0.1 1-0.2 1 0.1 1 0.5 1 0.6 1-0.4 1 0 1-0.7 1 0.2 1-0.3 1 0.4 1 0.4 1-1.2 1 0.9 1 0 1-0.2 1 0.6 1 0.3 1 0.3 1-0.3 1-0.2 1 0 1 0.2 1 0 1-0.2 1 0 1-0.1 1 0.2 1-0.8 1 0.6 1 0.6 1-0.5 1-0.5 1 1.2 1 0.3 1-0.4 1 0 1 0.1 1-0.6 1-0.8 1 0.5 1-0.3 1-0.1 1 0.5 1 0.4 1-0.8 1 0.9 1-0.4 1 0.4 1-0.4 1 0.1 1 0.3 1-0.1 1-0.2 1 0.5 1-0.4 1 0.4 1-0.8 1 0.2 1-0.6 1 0.9 1-0.7 1 0.5 1 0.3 1-0.2 1-0.4 1-0.1 1 0.1 1-0.3 1 0.6 1 0.3 1 0.1 1-0.3 1 0.6 1 0 1 0.2 1-0.1 1-0.1 1-0.4 1-1.1 1 0.8 1-0.5 1 0.7 1-1.4 1 1 1-0.4 1 0.5 1-0.6 1 0.7 1 0.5 1 0.4 1-0.2 1-0.1 1 0.1 1-0.6 1-0.2 1 0.4 1 0.3 1 0.4 1-0.1 1-0.5 1-0.2 1 0.7 1-0.6 1 0.6 1 0.8 1-1.1 1 0.5 1-0.1 1 0 1-0.7 1 0.1 1 0.1 1 0.3 1-0.1 1-0.5 1 0 1 0.7 1-0.3 1 0.1 1 0.2 1-0.2 1 0 1-0.6 1 0.5 1 1.1 1 0.5 1-0.5 1-0.2 1-0.6 1-0.2 1-0.4 1 0.3 1 0.1 1 0 1 0.6 1-0.5 1-0.1 1 0 1 0 1-0.5 1 0.2 1 0.1 1 0.7 1 0.3 1-0.2 1-0.4 1-0.1 1 0.2 1-0.4 1-0.5 1 0.6 1 0.2 1 0.1 1-0.4 1 0.6 1-0.6 1 0.1 1 0.3 1-0.1 1-0.8 1 0 1 0.1 1-0.1 1 0.3 1 0.5 1-0.4 1 0.8 1 0.1 1 0 1 0.6 1 0 1-0.6 1 0.4 1-0.4 1-0.5 1 0.2 1-0.4 1-0.1 1 1.2 1-0.2 1-0.9 1 0.6 1-1 1 0.4 1-0.4 1 0.1 1 0.6 1-0.1 1-0.4 1 0.6 1-0.3 1 0.1 1-0.3 1 0.4 1 0.1 1 0.4 1-0.4 1 0.8 1-0.1 1 0.7 1-0.7 1 0.2 1 0.3 1 0.3 1-0.8 1 0.4 1-0.5 1 0.3 1-0.1 1 0 1-0.9 1 0.7 1-0.4 1 0.7 1-0.6 1 0.8 1-0.5 1 0.2 1-0.4 1 0.7 1-0.1 1-0.4 1 0.8 1-0.3 1-0.4 1-0.6 1 0.7 1-0.1 1-0.1 1 0.5 1 0.2 1-0.1 1 0.4 1-0.9 1 0.1 1-0.4 1-0.5 1 0.2 1 0.3 1 0 1 0.7 1-0.7 1 0.4 1-0.3 1-1 1 0.8 1 0.4 1-0.2 1-0.1 1 0.2 1-0.5 1 0.3 1 0.5 1-0.1 1 0.5 1-0.2 1 0.1 0-0.7" stroke="#006400" stroke-width="1.6" fill="none"/>
<path d="M1001.1 349.5l1-0.7 1 0.1 1 0.2 1 0.7 1 0 1-0.5 1 0 1 0.2 1-0.2 1 0.6 1 0.3 1-0.5 1 0.9 1-0.3 1-0.5 1-0.7 1 0 1 0.6 1 0.1 1-0.8 1 1.1 1-0.9 1 1.1 1 0.5 1 0 1-1.4 1 0.5 1-0.4 1 0.1 1-0.4 1 0.4 1-0.2 1 0.6 1-0.1 1 0.4 1 0 1-0.4 1-0.6 1-0.5 1 0.1 1 0.3 1 0 1 0.1 1 0.3 1-0.3 1-0.2 1-0.5 1 0.8 1 0.2 1-0.6 1 0.8 1-0.5 1 0.5 1-0.4 1 0.3 1 0.2 1-0.3 1-0.2 1-0.9 1 0.3 1 0.4 1 0.6 1 0.3 1 0.2 1-0.2 1 0.4 1 0.4 1-0.9 0.2 0.5 1-2.4 1-0.6 1-0.5 1 0.5 1-0.5 1 0.2 1 0.2 1 0.1 1 0 1 0.3 1-1 1-0.3 1 0 1-0.9 1 0 1 0.2 1-0.2 1-0.3 1-0.1 1-0.5 1-0.4 1 0.4 1 0.1 1-0.1 1 0.2 1 0.8 1 0 1-0.9 1-0.3 1 0.1 1-0.6 1-0.3 1-0.5 1 0.3 1-0.4 1 0.1 1 0.4 1-0.2 1-1.2 1 0.2 1 0 1 0 1-0.4 1 1.7 1 0.1 1-1.1 1 0.5 1-0.7 1-0.5 1-0.2 1-0.3 1 0.6 1-0.6 1 0.4 1-0.6 1-0.6 1-0.2 1-0.7 1 0.8 1 0.4 1-0.2 1 0 1 0.6 1-0.3 1 0 1 0.2 1-0.1 1-0.8 1-0.8 1-0.5 1 0.4 1 0.2 1-0.6 1 0.2 1 0.1 1-1.2 1 0 1 0 1-0.2 1-0.2 1 0 1-0.7 1 0.3 1 0.2 1 0.3 1-0.3 1 0.2 1-0.6 1 0 1-0.2 1 0.4 1-0.6 1 0.2 1 0.5 1-0.2 1 0.1 1-1 1 0.6 1 0.3 1-0.2 1-0.9 1-0.5 1 0.7 1-0.8 1 0.1 1-0.4 1 0.3 1-0.1 1 0.8 1-0.1 1-0.2 1 0.3 1-0.6 1-0.3 1-0.6 1 0.2 1-0.2 1-1 1 0.6 1 0.2 1-1 1 0.8 1-0.7 1 1.2 1-0.8 1 0.1 1-0.5 1 0 1-0.6 1 0.3 1-0.6 1 0.8 1-0.4 1 0.3 1-0.4 1-0.5 0.4 0.4 0-0.3 1 0.3 1 0.2 1 0 1 0.3 1 0.2 1-0.6 1 0.1 1 0 1 0.5 1-0.1 1 0.3 1-1.6 1 0.6 1 0.1 1 0.3 1 0.5 1-0.4 1 0 1 0.3 1 0.1 1-0.7 1 1.1 1 0.2 1-0.1 1 0 1 0 1-0.3 1-0.1 1-0.3 1 0.6 1-0.2 1 0.3 1-0.3 1 0.3 1 0.1 1 0 1 0 1-0.5 1 0.4 1-0.3 1 0.1 1 0.1 1-0.6 1 0.6 1 0.1 1-0.9 1 0.8 1-0.3 1 0.2 1-0.2 1 0.6 1 0.1 1-0.2 1 0.3 1 0.5 1-1 1 0.6 1-0.1 1-0.5 1 0 1 0 1-0.4 1-0.1 1 0.7 1-0.1 1 0.2 1-0.6 1 0.2 1 0.6 1-0.3 1 0 1 0.8 1 0.3 1 0.2 1-0.3 1-0.3 1-0.9 1 0 1-0.1 1 1.3 1 0 1 0.1 1-0.1 1-0.4 1-0.8 1 1.3 1-0.9 1 0.3 1-0.5 1 0.6 1 0.7 1-0.4 1-0.1 1-0.2 1 0.4 1 0.1 1 0.4 1 0 1-0.3 1-0.4 1 0.1 1-0.5 1-0.3 1 1 1-0.8 1 0.4 1 0.4 1 0.1 1-0.7 1 0.3 1 0 1-0.1 1 0 1 0.8 1 0.1 1-0.1 1-0.3 1 0.1 1-0.6 1 0 1 0.5 1-0.6 1-0.4 1 0.3 1 0.6 1-0.3 1 1.1 1 0.1 1-0.8 1-0.1 1-0.3 1 0.1 1-0.2 1 0 1 0.2 1 0.3 1 0.6 1 0.6 1-1.3 1 0.5 1 0.1 1-0.7 1-0.1 1 0.5 1-0.1 1 0.1 1-0.6 1 0.4 1 0.3 1-0.1 1 0 1 0.5 1 0.3 1 0.4 1-0.1 1-0.9 1 0.1 1 0.2 1-0.3 1-0.3 1 0.7 1 0 1-0.2 1 0.3 1-0.5 1 0.6 1 0.3 1-0.5 1 0.2 1-0.3 1-0.6 1 0.1 1 0.4 1 0 1 0 1-0.7 1 0.7 1-0.4 1 0.9 1 0.3 1 0.6 1-0.1 1 0.3 1-0.9 1 0.3 1-0.3 1-0.3 1-0.7 1 0.5 1-0.1 1 0.1 1-0.1 1-0.2 1 0.3 1-0.3 1-0.1 1 0.5 1-0.4 1 0.5 1-1.4 1 1.3 1-0.3 1 0.7 1-0.7 1 0.5 1-0.5 1-0.3 1 0.7 1 0 1 0 1 0.7 1-0.9 1 0.9 1-0.8 1 0 1 0.2 1 0 1 0.2 1-0.8 1 0.6 1 0.1 1 0 1 0.1 1 0.1 1-0.3 1 0 1-0.2 1 0.1 1 0.5 1 0.2 1 0.5 1-0.2 1 0.2 1-0.3 1-0.5 1-0.5 1 0 1 0.5 1 0.5 1-0.2 1 0.2 1 0.3 1-0.3 1 0.3 1-0.2 1-0.1 1-0.1 1-0.2 1 0.5 1-0.8 1 0.4 1 0.4 1-0.4 1 0.3 1-0.1 1 0.5 1-0.3 1 0.1 1-0.3 1 0.5 1 0.3 1 0.5 1-0.3 1 0 1-0.1 1 0 1-0.8 1-0.2 1 0.3 1 1 1-0.8 1 0 1 0.5 1-0.2 1-0.6 1 0.3 1-0.3 1 0.4 1 0.8 1-0.5 1-0.2 1-0.4 1 0 1-0.4 1-0.2 1 0.4 1 0.9 1-0.6 1 0.4 1-0.7 1 1 1 0.3 1-0.4 1 1.2 1-0.4 1-0.1 1-0.1 1 0.1 1-0.3 1-0.5 1 0.1 1 0 1-0.9 1 0.2 1 0.2 1 0.1 1 1 1-0.1 1 0.1 1-0.1 1 0.4 1-1.3 1 0.4 1-0.1 1 0.1 1 0 1-0.3 1-0.3 1 0.3 1 0 1 0.2 1-0.1 1 0.9 1-0.2 1 0.3 1-0.3 1 0.5 1-0.3 1 0.4 1 0.1 1-0.4 1-0.6 1 0.5 1 0.4 1-1.2 1 0.8 1 0.1 1 0.1 1-0.7 1 0.4 1 0.2 0-0.1" stroke="#0000ff" stroke-width="1.6" fill="none"/>
<path d="M1001.1 349l1 0.5 1 0 1-0.4 1 0.5 1-0.9 1 0.4 1 0.8 1-0.2 1-0.2 1 0 1 0.2 1-0.4 1 0.4 1 0 1-0.3 1 0.7 1-0.5 1 0.2 1-0.4 1-0.2 1 0.4 1-0.6 1 0.2 1 0.1 1 0.2 1-0.3 1-0.2 1-0.5 1-0.7 1 0.6 1 0.4 1 1 1 0.2 1 0.6 1 0 1-0.6 1-0.5 1 0.3 1-0.9 1 0.6 1 0.5 1-0.2 1-0.3 1-0.5 1 0.1 1 0.3 1-0.9 1 0.7 1 0.1 1-0.4 1 0.9 1-0.6 1 0.4 1 0.4 1-1.5 1 1.4 1-0.4 1 0.1 1-0.3 1 0.8 1-1.8 1 0.9 1-0.1 1-0.3 1 0.3 1 0.4 1 0.1 1-0.3 0.2 0.3 1-0.8 1 0.1 1-0.3 1-0.4 1 0.1 1-1.2 1 0.7 1-0.9 1-0.3 1 0.1 1 0.4 1-0.4 1-0.1 1-0.3 1-0.9 1-0.2 1 0.6 1-0.7 1-0.6 1-0.4 1 0.5 1-1 1 0 1 0.4 1-0.1 1-0.9 1 0.2 1 0 1-0.4 1-0.1 1 0.8 1-0.2 1-1 1-0.1 1-0.1 1-0.7 1-0.7 1 0.4 1-0.8 1-0.3 1-0.4 1-0.2 1 0.5 1-0.4 1 0 1-0.3 1-0.4 1-0.2 1-0.2 1 0.4 1-0.7 1-0.2 1-0.3 1-0.3 1-0.5 1 0.2 1-0.6 1-0.2 1 0.2 1 0.1 1-0.7 1-0.5 1-0.2 1 0.1 1-0.4 1-0.5 1 0.8 1-0.6 1 0.2 1-0.1 1-0.7 1-0.5 1-0.7 1 0.4 1 0 1-0.6 1-0.2 1-0.2 1 0.2 1-1 1 0.5 1-0.4 1-0.3 1 0.3 1-0.7 1-0.1 1-0.5 1-0.7 1 0.3 1-0.6 1 0 1-0.1 1-0.3 1 0.1 1-0.1 1-0.5 1-0.2 1 0.2 1-0.9 1-0.1 1 0.3 1-0.7 1-0.5 1 0.4 1-0.3 1-0.8 1 0.2 1 0.5 1 0.9 1-1.1 1-0.3 1-0.6 1-0.1 1-0.3 1-0.7 1 0.1 1-1.2 1 0.2 1-0.7 1 0.3 1-0.3 1 0.5 1-0.4 1 0 1-0.6 1-0.5 1-0.7 1-0.5 1 0.3 1 0.1 1-0.2 1-0.1 1-0.1 1-1.1 1-0.4 1-0.3 0.4-0.1 0-0.5 1 0.2 1 1.3 1-0.7 1-0.1 1 0.2 1 0.2 1-0.2 1-0.1 1 0.5 1-0.2 1 0.5 1 0.4 1-0.2 1-0.3 1 0.6 1-0.8 1-0.1 1 0.5 1 0.2 1-0.6 1-0.6 1-0.3 1 0.3 1 0.8 1-1.1 1 0.2 1 1 1 0.1 1-0.7 1 0.7 1 0.5 1-0.5 1 0.4 1-0.8 1 0.9 1-0.4 1-0.1 1 0.1 1 0.5 1-0.3 1 0 1-0.5 1 0.1 1-0.1 1-0.2 1 0.3 1 0.2 1-0.1 1 0.4 1 0.3 1-0.8 1 0.5 1-0.9 1 0.9 1 0.3 1 0 1 0.5 1-0.7 1 0.6 1-0.5 1-0.3 1 0.2 1 0.1 1 0.2 1-0.3 1 0.5 1 0.2 1 0.1 1 0.1 1-0.5 1-0.2 1 0.4 1 0.2 1 0.3 1 0.1 1-0.2 1-0.1 1 0.3 1-0.6 1 0.1 1 0.8 1-0.3 1 0.4 1 0.1 1-0.5 1 0.1 1 0.5 1 0 1 0.5 1 0 1 0 1-0.9 1 0.9 1-1.2 1 0.7 1 1.1 1-0.9 1-0.3 1 0.9 1-1.2 1-0.3 1-0.1 1 0.4 1-0.1 1-0.2 1 0.6 1-0.1 1 0.1 1-0.2 1 0.9 1-0.7 1-0.5 1 1 1-0.7 1-0.3 1 1.1 1 0.3 1 0.1 1 0.2 1 0.7 1-1 1-0.1 1 0.3 1 0 1 0.2 1 0.2 1 0 1 0.4 1-1 1 0.4 1 0 1 0.5 1-1.5 1 0.8 1 0.8 1-0.5 1 0.4 1-0.5 1-0.3 1 0.4 1-0.5 1 0.3 1-0.1 1 0.4 1-0.6 1 0.9 1 0.4 1-0.8 1-0.1 1-0.2 1-0.3 1 1.1 1-0.2 1 0.7 1-0.2 1 0 1 0.4 1-0.7 1-0.4 1 0.1 1-0.1 1-0.1 1 0.3 1 0.1 1 0.2 1 1 1-0.3 1-0.1 1 0.1 1 0.1 1-0.8 1 0.8 1 0.6 1-0.2 1-0.2 1-0.2 1-0.7 1-0.2 1 0.9 1-0.4 1 0.3 1 0.8 1-0.4 1-0.4 1 0.1 1 0 1-0.3 1 0.6 1-0.2 1 0.2 1-0.2 1-0.2 1 0.3 1-0.6 1 0.8 1 0.6 1-0.1 1 0.2 1 0.2 1-0.4 1-0.4 1 0.7 1-0.4 1 1.2 1-0.3 1-0.2 1-0.3 1 0.7 1 0.2 1-1 1 0.2 1-0.4 1-0.2 1 0.6 1 0.2 1-0.6 1 0.7 1-0.1 1 0.5 1-0.6 1 0.3 1 0.4 1-1.2 1 0.6 1-1 1 0.9 1 0.1 1 0.2 1-0.4 1 0.3 1 0.2 1-0.2 1-0.5 1 1.4 1-1.4 1 0.6 1 0 1-0.2 1 0.3 1 0.3 1-0.4 1 0.8 1-0.5 1 0.1 1 0.1 1-0.5 1 0.1 1 0.4 1 0 1 0 1-0.6 1-0.1 1 0.5 1 0.1 1-0.3 1 0.4 1 0.6 1-0.5 1 0.2 1 0.1 1-0.3 1 0.9 1-0.4 1 0.3 1-0.5 1 0.2 1 0.2 1-0.5 1 0.6 1-1.3 1 0.7 1-1.1 1 0.7 1 0.5 1 0.9 1-0.6 1 0.5 1-0.2 1-0.3 1 0 1 0.3 1 0.5 1-0.1 1-0.7 1 0.6 1 0.2 1-0.5 1-0.1 1 0.1 1 0.1 1 0.4 1-0.3 1 0.5 1-0.9 1 0.9 1-0.6 1 0.5 1-0.1 1-0.6 1 0.4 1-0.3 1 0.4 1-0.2 1 0.2 1 0 1 0.9 1-0.7 1 0.8 1-0.2 1 0 1-0.2 1 0.7 1-0.1 1 0.1 1-0.5 1-0.9 1 0.2 1 0.1 1 0.2 1 0.1 1 0.7 1-0.7 1-0.7 1 0.9 1-0.2 1 0.2 1 0.6 1 0 1-0.5 1-0.1 1 0.4 1-0.2 1 0.5 1-0.9 1 0.6 1 0 1 0.1 1-0.3 1 0 1-0.6 1 0.4 0 0.4" stroke="#ff00ff" stroke-width="1.6" fill="none"/>
<path d="M1001.1 349.1l1-0.1 1-0.2 1 0.8 1-0.5 1 0.4 1-0.1 1-0.6 1 0.5 1-1 1 0.8 1-0.2 1-0.8 1 0 1 0.9 1-0.1 1 0.5 1-0.3 1 0.2 1 0.4 1-0.6 1 0.4 1-0.6 1 0.2 1-0.5 1 0.9 1-0.7 1 0.9 1-0.4 1 0.1 1 0.4 1 0.4 1-1.1 1 0.1 1 0.1 1 0.4 1-0.9 1 0.8 1-0.1 1 0 1 0.7 1-0.6 1 0.2 1 0 1 0.3 1-0.9 1 0.8 1 0.3 1-1 1 1 1 0.1 1-0.8 1 0 1-0.6 1 0.4 1 0 1 0.2 1-0.3 1 0 1-0.3 1 0.4 1 0.2 1-0.6 1 0.6 1-0.4 1 0.1 1 0.2 1-0.5 1 0.4 0.2-0.2 1-0.3 1-0.5 1-0.3 1-0.7 1-0.8 1-0.3 1-0.6 1 0 1-1.1 1-0.9 1-0.9 1 0.2 1-1.1 1-0.4 1-0.4 1 0.4 1-0.9 1-0.2 1-1 1-0.3 1-0.6 1-0.1 1-1 1-0.4 1 0.3 1-1 1 0 1-0.9 1-0.6 1-1.4 1-0.6 1-0.3 1-0.5 1-0.7 1-0.3 1 0.1 1-1.2 1 0 1-0.5 1-0.8 1 0 1 0.4 1-1.1 1 0 1 0 1-0.4 1-0.9 1-0.6 1-0.7 1-0.6 1-0.4 1-0.6 1-0.3 1-1 1 0.7 1-0.7 1-0.3 1-0.6 1-0.5 1-1 1 0.2 1-0.8 1-0.2 1 0.2 1-0.3 1-1 1-0.3 1-0.6 1-0.2 1-0.5 1-0.2 1-0.4 1-0.3 1-0.6 1-1.2 1 0.2 1-0.7 1-0.8 1 0 1-0.6 1 0.1 1-0.9 1-0.1 1-0.5 1 0.1 1-0.2 1-0.4 1-0.5 1 0 1 0.7 1-0.9 1-0.5 1-0.3 1-1 1 0 1 0.1 1-0.7 1-0.1 1-0.2 1-0.5 1-0.7 1-0.6 1 0.4 1-0.2 1-0.1 1-0.4 1-0.6 1-0.7 1-0.8 1 0.2 1-0.2 1-0.1 1 0.6 1-0.9 1-1.4 1 0.1 1-0.4 1-0.7 1 0.3 1 0.4 1-1.1 1-0.4 1-0.1 1-0.1 1-0.6 1 0 1 0.1 1 0 1-1.5 1 0.5 1 0 1-0.6 1 0.4 1-0.9 1-0.5 1-0.2 0.4 0 0-0.4 1 1.6 1 0.4 1 0.5 1-0.5 1 0.5 1 0.4 1-0.6 1 0.1 1 0.2 1 0.3 1-0.2 1 0.8 1 0.1 1 0.4 1-0.4 1 0.3 1-0.2 1 0.4 1-1 1 0.2 1 1.1 1-0.1 1-0.8 1 0.7 1-0.1 1-0.1 1-0.5 1 1 1 0.5 1-0.1 1-0.2 1 0 1-0.8 1 0.9 1-0.3 1 0.7 1-0.1 1-0.2 1 0.1 1-0.1 1 0.2 1 0.1 1-0.3 1-0.2 1 0.2 1-0.7 1 0.4 1 0.6 1 0.1 1-0.1 1 0.3 1-0.1 1 0.2 1 0.7 1-0.6 1 0 1 0.4 1-0.1 1-0.2 1-0.4 1 0.3 1 0.4 1-0.4 1 0.5 1 0.4 1 0.8 1 0 1-0.1 1 0.2 1-0.4 1-0.4 1 0.7 1 0.1 1 0.2 1-0.4 1 1 1-1.2 1 0.3 1 0.1 1 0.3 1-0.9 1 0.6 1-1.2 1 1 1 0.1 1 0.7 1-0.3 1 0.8 1-0.9 1-0.3 1 0.1 1 0.5 1 0.1 1-0.1 1 0.8 1-0.1 1 0.4 1-0.3 1 0.3 1 0.1 1-0.1 1-0.1 1 0.7 1-0.1 1-0.8 1 0.6 1-0.5 1 0.6 1-0.1 1 0.6 1-0.4 1-0.4 1 0.3 1-0.4 1 0.2 1 0.1 1 0.1 1-0.3 1-0.3 1-0.7 1 0.7 1 0.3 1 0.3 1 0.2 1 0.2 1-0.3 1 0 1-0.1 1-0.4 1 1.1 1-0.1 1 0.5 1-0.8 1 0.6 1-0.3 1 0.2 1 0.2 1-0.3 1-0.1 1 0.2 1-0.9 1 0.5 1 0.4 1 0.9 1 0.1 1 0.1 1-0.2 1-0.4 1 0.4 1-0.6 1-0.3 1 0.8 1 0.4 1-0.4 1 0.1 1 0.6 1 0.1 1-0.5 1 0.5 1-0.3 1 0.3 1-0.5 1 0.9 1 0 1 0 1-0.5 1 0.5 1-0.4 1 0 1 0.1 1 0.3 1-0.1 1-0.2 1-0.4 1 0.4 1-0.3 1 0.8 1-0.2 1 0.2 1 0.7 1-0.1 1 0.5 1-0.6 1 0.7 1-0.1 1-0.6 1 0.3 1-0.3 1-0.3 1 0.5 1-0.4 1-0.1 1-0.3 1 0.7 1 0 1 0.3 1 0.5 1-0.2 1 0.4 1-0.1 1-0.2 1 0.5 1-0.3 1 0.4 1-0.1 1 0 1 0 1 0.7 1-0.6 1 0.3 1 0.5 1-0.9 1-0.3 1 0.9 1 0.1 1-0.4 1-0.3 1 0.9 1-0.5 1 0.3 1 0.2 1 0 1 0 1 1.3 1-1.3 1 1.1 1-0.9 1 0.3 1-0.4 1-0.5 1-0.5 1 0.9 1 0.1 1 0.4 1-0.1 1 1.2 1-0.9 1 0.8 1-1 1 0.8 1 0.1 1-0.4 1 0.1 1 0.4 1 0.2 1 0.1 1-0.3 1-0.2 1-0.2 1 0 1 0.6 1-0.6 1 0.5 1-0.4 1 0.6 1-0.2 1 0.3 1 0 1-0.4 1 0 1-0.4 1 1 1-0.4 1 0 1 0.5 1-0.7 1 0.1 1-0.2 1 1.2 1-0.1 1-0.3 1-0.1 1 0.7 1-0.1 1 0.2 1-0.2 1 0.6 1 0.3 1-0.3 1-0.7 1-0.5 1 0.6 1 0.7 1-0.5 1 0.5 1 0.5 1-0.3 1-0.2 1 0.8 1-0.4 1 0.4 1 0 1 0.4 1-0.5 1 0.2 1-0.5 1 0.7 1-0.2 1 0.3 1-0.2 1 0.2 1-0.5 1-0.3 1 0 1 0 1 0.2 1 0 1 0 1 0.3 1 0.1 1-0.8 1-0.2 1 1 1 0.3 1-0.4 1 1 1 0.1 1-0.1 1 0 1 0.5 1-0.2 1-0.9 1-0.3 1 0.7 1 0.4 1 0.1 1 0.1 1 0.6 1-0.5 1 0.2 1 0.1 1-0.3 1-0.4 1 0.3 1 0 1 0.2 1-0.1 1 0 1-1 1 0.1 1 0.4 0 0.1" stroke="#00ced1" stroke-width="1.6" fill="none"/>
<path d="M1001.1 350.2l1 0.3 1-0.5 1-1 1 0.8 1-0.8 1-0.6 1 0 1 0.6 1 0.7 1-0.7 1-0.3 1 0.4 1 0.2 1 0.2 1 0.5 1-0.2 1 0.6 1-0.8 1 0.2 1-0.3 1 0 1-0.8 1 0.2 1 0.2 1-0.4 1 0.2 1 0.6 1 0 1 1 1-1.8 1 1.6 1-0.2 1-0.8 1 0.5 1-0.7 1-0.7 1 0.3 1-0.4 1-0.9 1 1.3 1 0.3 1 0.1 1 0.4 1-0.3 1-0.2 1-0.1 1 0.2 1 0.4 1-0.1 1 0.4 1-0.4 1 0 1-0.1 1-0.6 1 1 1-0.4 1 0.2 1-1 1 0.3 1 0.2 1 0.2 1 0.5 1 0.2 1-0.3 1-0.3 1 0.3 1 0.2 1 0.1 0.2-0.4 1-1.4 1-0.8 1-1.1 1-0.8 1-1.4 1-1.2 1-1.6 1-1.4 1-0.6 1-1.3 1-1.1 1-0.8 1-0.6 1-1.1 1-0.8 1-1.9 1-0.5 1-1.6 1-0.8 1-1.3 1-1.8 1-1 1-0.8 1 0 1-0.6 1-1.1 1-0.7 1-1.3 1-1.2 1-1.5 1-0.5 1-1.1 1-0.4 1-1.3 1-0.1 1-1 1-0.7 1-1.6 1 0.2 1-0.8 1-1 1-0.4 1-0.7 1-1 1-0.7 1-0.4 1-0.7 1-0.4 1-1.4 1-1.4 1-0.7 1 0.1 1-0.7 1-0.9 1-0.2 1-0.4 1-1.8 1-0.6 1-0.1 1-0.6 1-1.3 1-0.7 1-0.4 1-0.1 1-0.7 1-1.2 1 0.6 1-0.6 1-0.6 1-0.7 1 0.2 1-0.8 1-0.9 1-0.4 1-0.9 1-0.6 1-0.3 1-0.8 1-0.3 1-0.4 1 0.5 1-0.9 1-1.1 1-0.2 1-0.4 1-0.5 1-0.1 1-0.9 1-0.3 1 0.2 1-1.2 1-0.9 1 0.6 1-0.1 1-0.8 1 0.2 1-0.1 1-1 1-0.3 1-1.1 1-0.1 1-0.2 1-0.5 1-0.1 1-0.7 1 0 1-0.7 1 1 1-1.3 1-0.1 1-0.6 1-0.5 1-0.2 1-0.5 1-0.5 1 0.2 1-0.2 1 0.1 1-0.1 1-0.5 1-0.1 1-0.8 1-0.8 1 0.3 1-0.1 1-1 1 0.5 1-0.5 1-0.2 1-0.2 1-0.1 1-0.5 1 0.3 1-0.7 1-0.1 1 0.1 0.4-0.7 0-5.5 0 5.5 1 0 1 0.5 1 0.9 1-0.6 1 1.1 1-0.1 1 1.6 1-0.7 1 1 1-0.1 1 0.4 1 0.1 1 0.2 1 0.4 1 0.4 1 0.4 1-0.2 1 0.9 1-0.2 1 0.2 1 0.1 1 0.7 1 0.3 1-0.1 1 0.8 1 0.8 1-0.2 1-0.5 1 1.2 1-0.7 1 0.3 1 0.8 1-0.7 1 0.3 1-0.3 1 0.7 1 0.1 1 0 1 0.6 1 0.2 1 0 1 0.5 1-0.2 1-0.2 1 0.4 1 0 1 0.7 1 0 1 0.7 1-0.4 1 0.3 1 0.3 1-0.7 1 0.4 1 0.9 1-0.5 1 1 1 0.1 1-0.3 1-0.2 1 0.9 1-1.1 1 0.2 1-0.3 1 0.9 1-0.3 1 0.3 1 0.5 1 0.4 1-0.2 1 0.5 1 0.5 1-0.4 1 0.2 1-0.4 1 0.7 1 0.5 1 0.4 1-0.7 1 1.2 1-1.4 1 0.9 1-0.3 1 0.3 1 0 1 0.9 1 0 1-0.1 1-0.1 1 0 1-0.1 1 0.2 1-0.3 1 0.4 1 0.8 1 0.2 1 0 1-0.4 1 0 1 0.1 1 0.2 1-0.1 1 0.6 1-0.3 1 0.6 1-0.3 1 0.7 1-0.3 1-0.7 1-0.4 1 0 1 0.7 1 0.1 1 0.4 1-0.4 1 0 1 0.5 1 0.1 1-0.3 1 0.3 1 0.7 1-0.2 1-0.1 1 0.3 1-0.6 1-0.3 1 0 1 0.8 1-0.7 1 0.3 1 0.6 1-0.8 1 1 1 0 1 0.4 1 0 1 0.2 1-0.1 1-0.6 1 0.4 1 0.3 1 1.1 1-0.4 1 0.1 1-0.4 1 0.5 1 0.2 1 0.1 1 0.5 1-1 1 0 1 0.2 1 0.1 1 0.3 1 0.1 1 0.2 1 0.1 1 0.1 1 0.2 1-0.1 1-0.3 1 0.4 1-0.5 1 0.3 1 0.5 1 0 1 0.4 1 0 1-0.4 1 0 1-0.4 1 0.3 1 1 1-0.3 1-0.4 1 0 1 0.4 1-0.3 1 0.4 1 0.5 1-0.2 1 0.6 1 0.2 1-0.5 1-0.3 1 0.4 1 0.2 1-0.5 1 0.1 1-0.1 1 0.3 1 0.4 1 0.1 1 0.6 1-0.2 1 0.5 1-1 1 0 1 0.9 1 0.1 1 0 1 0.4 1 0.2 1-0.1 1-0.7 1 0.7 1-0.4 1-0.2 1-0.9 1 0.2 1 0.5 1 0.5 1-0.2 1 1.1 1-0.2 1-0.2 1 0.1 1 0.2 1 0.6 1-0.3 1 0.3 1-0.6 1 0.7 1-0.5 1-0.1 1 0.3 1 0.3 1 0.1 1 0.1 1-0.4 1 0.5 1 0.7 1 0.1 1-0.8 1 0.2 1-0.8 1 0.4 1 0.2 1 0.5 1-0.5 1 0.6 1-0.5 1 0 1 0.1 1 0 1-0.5 1 0.5 1 0.5 1-0.7 1 0 1-0.1 1 0.2 1 0.2 1-0.3 1 0.4 1 0.2 1 0.1 1 0.6 1 0.2 1-0.2 1 0.5 1 0.2 1 0.2 1-0.8 1 0.1 1 0.2 1 0.2 1-1 1 1.1 1-0.8 1 0.5 1 0.2 1-0.3 1 0.7 1 0.5 1 0 1 0 1 0.4 1-0.6 1-0.9 1-0.2 1 0.5 1 0 1 0.8 1 0.6 1 0.1 1 0.4 1-0.2 1 0.4 1-0.6 1 0.3 1 0.4 1-0.4 1 0.8 1-0.6 1-0.3 1 0.3 1-0.6 1 0.1 1 0.1 1 0.4 1-0.7 1 0.3 1 0.4 1 0.2 1 0.7 1-0.7 1 0.6 1-0.3 1 0.2 1-0.7 1 1.2 1-0.2 1 0 1-0.4 1 0.6 1-0.6 1 0.7 1-0.1 1 0.4 1 0 1 0 1-0.8 1 0.2 1-0.1 1 0.6 1 0.1 1 0.2 1 0.3 1-0.3 1 0.1 1-0.5 1-0.2 1 0.3 1-0.1 1 0.7 1 0 1 0.6 1 0.4 1-0.6 1-0.4 0 0.8" stroke="#daa520" stroke-width="1.6" fill="none"/>
<path d="M1001.1 350l1 0.4 1-0.9 1 0.1 1-0.3 1-0.6 1 0.1 1 0.2 1 0.4 1-0.1 1-0.2 1 0.9 1-0.7 1-0.4 1-0.3 1 0.3 1 0.1 1 0.6 1-0.2 1 0.5 1-0.3 1 0 1 0.1 1 0.4 1-0.7 1 0.2 1-0.6 1 0.3 1 0 1 0.6 1-0.2 1 0.3 1 0.1 1-0.8 1 0.4 1-0.7 1-0.2 1 0.2 1 0 1 1.2 1-0.4 1 0.4 1-0.2 1-0.9 1 0.1 1 0.1 1 0.4 1-0.3 1-0.6 1 0 1 0 1-1 1 1 1 0.5 1 0.1 1-0.1 1 1 1-0.9 1 0.5 1-0.4 1-0.4 1-0.2 1-0.2 1 0.2 1 0 1 0.1 1 1.6 1-0.2 1-0.2 0.2-0.4 1-2.8 1-2.7 1-2.6 1-3.2 1-2.3 1-3 1-1.9 1-2.6 1-1.7 1-1.6 1-1.7 1-1.3 1-2 1-2.1 1-1.3 1-2.5 1-1.7 1-1.8 1-1.7 1-0.7 1-2 1-1.5 1-1.2 1-1.3 1-1.8 1-1.3 1-1.3 1-2 1-1 1-1.2 1-1.3 1-0.9 1-1.7 1-0.4 1-1.6 1-0.9 1-2 1 0.6 1-1.9 1-1 1-0.5 1-0.4 1-0.8 1-0.5 1-2 1-0.4 1-1.4 1-1.3 1-0.1 1-0.2 1-1.5 1-0.2 1-0.4 1-0.9 1-1.7 1 0.5 1-1 1 0.2 1-1.3 1 0.3 1-1.9 1 0.2 1-1.4 1 0 1-1.1 1-1.3 1-0.3 1-0.7 1-0.8 1 0.1 1 0.2 1-0.7 1-0.7 1 0.1 1-0.8 1-0.9 1-0.6 1-0.3 1-0.9 1-0.9 1 0.8 1-0.4 1-1 1-0.1 1-1.4 1-0.8 1-0.6 1-0.5 1 0.8 1-0.8 1-0.5 1-0.1 1 0.3 1-0.8 1-0.4 1-0.1 1 0.2 1-1.3 1-0.2 1-0.9 1-0.2 1-0.2 1 0.1 1-0.8 1 0.3 1-1 1-0.6 1-0.2 1-0.4 1-0.4 1-0.2 1-0.7 1-1 1 0 1-0.9 1-0.3 1-0.3 1 0.2 1-0.1 1-0.4 1 0 1 0.1 1-0.4 1-0.5 1-0.3 1-0.1 1-1.1 1 0.1 1-0.7 1 0.2 1-0.3 1-0.9 1 0.1 1-0.5 1-0.3 1-0.2 0.4 0 0-5.7 0 5.7 0 0.1 1 1.4 1 0.7 1 1 1 0.2 1 1 1 0.5 1 0.5 1 0.6 1 0.7 1 1 1 1.3 1-0.5 1 0.3 1 1.2 1-0.6 1 0.9 1 0.7 1 0.6 1 0.3 1 1.1 1 0.1 1 0.8 1 0.6 1 0 1 0.4 1 0.2 1 0.9 1-0.2 1 1 1-0.1 1 0.6 1-0.4 1 0.3 1 0.6 1 0.1 1 0.6 1 0 1 0.8 1-0.4 1 0.5 1 0.3 1 0.7 1-0.5 1 0.4 1-0.3 1 0.5 1-0.2 1 1 1-0.5 1 0 1 0.5 1 0.1 1 0.4 1 0.1 1 0.7 1-0.1 1 0.1 1 0.6 1-0.3 1 0.4 1 1 1 0.2 1-0.8 1 0.1 1 0.9 1-0.4 1 0.3 1 0.2 1 0 1 0.3 1 0.1 1 0.6 1-0.3 1 0.4 1-0.3 1-0.7 1 0.4 1-0.1 1 0 1 0.4 1 0.9 1 0.3 1 0.2 1-0.2 1 0.5 1 0.5 1-0.6 1-0.7 1 0.5 1 0.1 1 0.4 1 0.7 1 0.4 1 0 1-0.4 1 0.1 1 0.1 1 0.6 1-0.4 1 0.8 1 0.1 1 0.2 1 0.1 1-0.8 1 1.1 1-0.4 1 0.5 1-0.2 1 0.4 1 0 1 0.6 1-0.1 1 0 1 0.4 1 0.3 1 0.6 1 0.2 1 0.2 1 0 1-0.5 1-0.1 1 0.1 1-0.4 1 0.8 1-0.2 1-0.4 1-0.3 1 1 1 0.1 1 0.4 1 0.2 1-0.3 1 0.3 1 0.4 1-0.5 1 0.1 1 0.6 1 0 1 0 1 0.4 1 0.9 1 0 1-0.3 1-0.5 1 0.3 1 0.2 1-1 1 0.2 1-0.3 1 0 1 0.4 1 0.5 1 0.8 1 0 1 1.4 1-0.5 1 0 1-0.2 1 0.7 1-0.2 1-0.6 1 0.7 1-0.3 1-0.5 1 0.6 1 0.1 1 0.1 1 0.3 1 0.6 1 0.1 1-0.7 1-0.2 1-0.1 1-0.8 1 1 1 0.5 1-0.5 1 1 1-0.3 1 0.3 1 0.1 1-0.2 1-0.5 1 1.3 1-0.8 1 0.2 1 0.6 1 0.2 1 0 1-0.7 1 0.7 1 0 1-0.2 1 0.5 1 0.6 1-0.4 1 0 1 0.5 1 0.2 1-0.5 1 0.7 1 0 1-0.1 1-0.2 1 0.5 1-0.2 1 0.2 1-0.5 1 0.4 1-0.2 1 0.7 1 0.2 1 0.2 1 0.6 1-0.5 1 0.2 1-0.4 1 0.3 1-0.3 1 0.5 1-0.7 1 0.4 1 0.6 1 0.2 1-0.7 1 0.6 1 0.6 1 0.5 1-0.6 1-0.2 1 0 1 0.2 1-0.4 1 0.4 1 0.2 1 0.2 1-0.3 1 1 1 0.5 1 0.2 1 0.2 1-0.6 1 0.8 1 0.4 1-0.2 1-0.5 1 0.1 1 0.9 1-0.9 1 0 1 1 1-0.4 1-0.7 1 0.7 1 0.2 1-0.7 1 0.7 1 0.4 1-0.4 1 0.4 1 1 1-0.1 1-0.8 1-0.1 1 0.5 1-0.2 1-0.6 1 0.2 1 0.6 1-0.3 1 0.5 1-0.1 1-0.2 1-0.3 1 0.1 1 0.2 1 0 1 0.7 1-0.3 1 0.3 1 0 1-0.2 1 0.4 1-0.2 1 0.4 1 0.6 1-0.7 1 0.1 1-0.3 1 0.4 1 0.5 1 0 1 0.1 1 0.6 1-0.6 1 1 1 0 1 0 1-0.4 1 0.9 1-0.9 1-0.2 1 0.7 1-0.6 1 1 1 0 1 0.1 1-0.4 1 0 1 0 1-0.3 1 0.7 1 0 1 0.9 1 0.1 1 0 1-0.1 1 0.4 1 0 1 0.1 1-0.7 1-0.1 1 0.9 1 0 1-0.6 1 0.3 1 0 1 0.1 1-0.2 1-0.2 1-0.4 1 0.6 1 0.4 1 0.3 1 0.4 1-0.2 1 0.9 1-0.1 1-1 1 0 1 0.5 0 0.4" stroke="#800080" stroke-width="1.6" fill="none"/>
<path d="M1001.1 350l1-0.4 1 0.3 1-0.2 1-0.3 1 0.4 1-0.4 1 0 1 0.3 1 0.2 1 0.2 1 0.1 1-0.7 1 0 1 0 1-0.6 1 0.5 1-0.2 1-0.3 1 1 1-0.1 1 0.4 1 0.1 1-0.4 1-0.2 1-0.6 1-0.2 1-0.1 1 0 1-0.6 1 0 1 0.2 1 0.1 1-0.3 1 0.3 1 0.3 1 0 1 1 1-0.9 1-0.1 1-0.2 1 1.3 1-0.6 1 0 1 0.5 1-0.4 1-0.5 1 0.5 1 1.1 1-0.9 1-0.4 1-0.3 1 0.4 1-0.3 1 0 1 0.1 1-0.8 1 0.3 1-0.2 1-0.2 1 0.8 1-0.1 1 0.5 1-0.2 1 0.8 1-0.2 1 0.4 1 0 1 0.4 0.2-1.1 1-4.8 1-5.4 1-5.1 1-5.1 1-4.1 1-3.9 1-4.1 1-2.4 1-3.9 1-3.5 1-3.1 1-3.5 1-3.2 1-2.9 1-3.2 1-2.6 1-2 1-2.1 1-2.9 1-1.9 1-1.5 1-2.7 1-1.8 1-2 1-2.5 1-2.6 1-1.5 1-1.2 1-1.2 1-1.7 1-2.8 1-0.8 1-1.5 1-2.3 1-1.6 1-0.6 1-1.2 1-0.7 1-1.7 1-0.6 1-1.3 1-1.1 1-1.3 1-0.6 1-1.1 1-0.3 1-0.8 1-1.2 1-1.3 1-0.7 1-1.2 1-0.8 1-1.5 1-0.1 1-0.2 1-0.4 1-1.5 1-0.1 1-1.4 1-0.6 1-0.9 1-1.4 1-0.3 1-0.1 1 0 1-0.8 1-0.2 1-0.7 1-0.3 1-0.7 1 0.2 1-0.9 1-1 1-0.7 1 0.5 1-0.2 1-0.7 1-0.7 1-0.1 1-0.9 1-1 1 0.1 1-0.6 1-0.3 1 0.1 1-0.8 1 0.5 1-0.8 1-0.6 1-0.4 1 0.3 1 0 1-0.5 1-0.2 1-0.4 1-0.5 1 0.1 1-0.7 1 0.2 1 0.1 1-0.1 1-0.9 1 0 1-0.2 1-0.3 1-0.6 1-0.1 1 0.2 1-0.5 1-0.7 1 0.2 1-0.3 1 0.1 1-0.6 1 0 1-0.4 1 0.1 1-0.6 1 0.3 1 0.4 1-0.3 1 0.4 1 0.5 1-0.1 1-0.3 1-0.7 1-0.5 1 0.5 1-0.8 1 0.7 1-0.2 1-0.9 1 0.2 1-0.7 1 0.9 1-0.2 0.4 0.4 0-10.4 0 10.4 0 2 1 1.6 1 0.7 1 1.8 1-0.1 1 1.8 1 0.1 1 0.9 1 0.5 1 1.2 1 0.8 1 1.3 1 0.6 1 0.7 1 1.1 1 0.7 1 0.8 1 1.3 1 0.2 1 1.1 1 1 1 0.2 1 0.9 1 1.4 1 0.4 1 1 1-0.1 1 0.7 1 0.7 1-0.1 1 0.3 1 0.9 1 0.2 1 0.8 1 0.4 1 0.5 1-0.1 1 0.7 1-0.1 1 0.6 1 0.7 1-0.1 1 0.4 1 0 1 1 1-0.3 1 0.7 1 1.2 1 0.9 1-0.1 1 0.5 1 0.7 1-0.1 1 0.4 1 0.1 1 0.3 1-0.3 1 0.8 1-0.6 1 0.5 1 0.5 1-0.2 1 1.2 1 0.2 1 0.3 1 1.4 1-0.5 1 0.2 1 0.1 1-0.3 1 0.8 1 0.3 1-0.3 1 0.3 1 0.5 1-1 1 0.2 1 0 1 0.4 1 0.6 1 0.7 1 0 1 0.5 1-0.4 1 0 1 0.7 1 0 1 0.1 1 0.4 1-0.7 1-0.4 1 0.8 1 0.1 1-0.3 1 1.1 1 0.4 1 0.4 1-0.6 1 0.8 1 0.1 1 0 1-0.2 1 0.3 1 0.6 1-0.2 1 0.5 1 0 1-0.3 1-0.2 1 0.6 1-1 1 0.8 1 0.2 1 0.4 1 0.2 1-0.2 1 0.1 1 0.8 1 0.5 1-0.2 1 0.2 1 0.3 1-0.7 1-0.7 1 0.4 1-0.3 1 0.2 1 0.2 1 0.1 1-0.1 1 0.4 1 0.4 1-0.1 1 0.5 1 0.1 1 0.3 1-0.5 1-0.1 1 0.1 1 0 1 0.6 1 0.2 1 0 1 1.1 1-0.1 1-0.1 1-0.1 1-0.2 1 0.3 1 0.3 1-0.5 1 1.5 1 0.1 1 0.2 1-0.2 1-0.2 1-0.7 1 0.6 1-0.1 1-0.2 1 0.4 1 0.3 1 0.4 1 0.3 1 0.7 1-0.7 1 0.2 1-0.5 1 0.4 1 0.2 1 0.2 1 0 1 0.6 1-0.7 1 0 1-0.1 1 0.2 1 0 1-0.1 1 0.1 1 0.2 1 0 1 0.5 1-0.2 1 0.5 1-0.1 1 0.7 1 0.1 1-0.2 1-0.1 1-0.1 1 0.5 1-0.2 1 0.7 1 0 1-0.6 1-0.1 1 0 1 0.3 1 0.5 1-0.4 1 0.8 1 0.7 1-0.3 1-0.5 1 0.4 1-0.4 1 0 1 0.2 1 0.6 1 0.8 1-0.9 1-0.2 1-0.3 1 0.9 1 0.4 1 0 1 0.8 1-0.6 1 0.3 1 0.1 1-0.5 1 0.2 1 0.2 1-0.2 1 0.5 1 0.5 1-0.1 1 0.4 1-0.1 1-0.7 1 0.8 1-0.2 1-0.2 1 0 1 0.1 1 0.1 1-0.1 1 0.1 1 0.3 1 0.6 1-0.2 1 0.1 1 0.1 1 0.4 1-1.4 1 0.6 1 0.4 1-0.4 1 0.9 1 0.6 1-0.2 1-0.1 1 0.8 1-0.6 1 0.4 1 0.3 1-0.3 1-0.2 1 0.3 1 0.8 1-0.2 1-0.1 1 0.6 1 0.1 1 0.3 1-0.4 1 0.5 1-0.1 1 0.1 1-0.3 1 0.2 1 0 1 0.2 1-0.2 1 0 1 0.2 1-0.3 1 0.7 1-0.1 1-0.3 1 1 1-0.2 1-0.5 1 0.6 1-0.2 1-0.3 1 0.6 1-0.3 1 0.5 1 0.4 1 0.4 1-0.4 1 0.2 1 0.1 1 0.4 1-1.3 1 0.8 1 0 1 0.4 1-0.6 1 1.1 1 0 1 0.3 1-0.3 1-0.2 1 0.8 1-0.1 1 0.2 1 0.1 1-0.4 1 0.4 1 0 1 0.4 1-0.2 1-0.1 1 0.2 1-0.4 1 0.1 1 0.4 1 0.1 1 0.4 1-0.3 1 0.8 1-0.4 1 0.3 1-0.3 1 0.4 1-0.2 1 0.1 1 0.4 1 0.6 1-0.3 1 0.1 1 0.4 1-0.5 1 0.2 1 0.4 1-0.8 1 0.5 1 0.7 1-0.3 0-0.1" stroke="#32cd32" stroke-width="1.6" fill="none"/>
<path d="M1001.1 349.1l1-0.1 1 0 1 0.2 1 0 1-0.1 1 0.4 1-0.2 1 0.2 1-0.9 1 0.1 1-0.4 1 0.4 1 0.5 1 1 1-0.4 1 0 1-0.2 1 0.3 1-0.6 1 0.1 1 0.1 1-0.7 1 0.4 1 0 1-0.4 1 0.4 1 0.6 1 0 1 0 1 0.5 1-0.6 1 0.9 1-0.5 1-0.2 1 0.6 1-0.3 1-0.5 1-0.4 1-0.6 1-0.2 1 0.7 1 0.9 1-0.7 1-0.1 1-0.7 1-0.1 1 0.2 1 0.6 1 1 1-0.1 1-0.7 1 0.2 1-0.2 1-1.3 1 0.8 1 0.3 1 0 1 0.8 1-0.3 1-0.5 1-0.6 1 1 1-0.4 1 0.1 1-0.1 1 0.2 1 0.1 1-0.2 0.2-0.2 1-10.2 1-9 1-8.6 1-7.9 1-7.1 1-6.1 1-5.7 1-6.5 1-4 1-5.3 1-4.6 1-4 1-4 1-3.6 1-3 1-3.7 1-3.2 1-3 1-2.6 1-2.4 1-2.2 1-2.1 1-1.7 1-2 1-1.6 1-1.1 1-1.7 1-2 1-0.9 1-2.6 1-0.7 1-2.7 1-0.6 1-0.9 1-1.2 1-0.9 1-0.7 1-0.4 1-1.5 1-0.3 1-1.3 1-0.7 1-1.2 1-0.7 1-0.7 1 0 1-1.1 1-0.7 1-1 1-0.5 1-1.3 1 0.3 1-1 1-1.1 1 0.4 1-0.8 1-0.4 1-0.8 1-0.3 1 0.7 1-0.9 1-0.2 1-1.2 1 0.1 1-1.6 1 0.1 1-0.7 1-0.1 1 0 1-0.9 1-0.4 1-0.7 1 0.4 1-0.9 1-0.4 1 0.1 1-1.2 1-0.6 1 0.5 1-0.1 1 0.3 1-0.7 1 0.3 1-1 1-0.5 1-0.1 1-0.1 1 0.4 1-0.8 1-0.7 1 0.2 1-0.3 1 0.1 1-1 1-0.3 1 0.1 1-1.1 1-0.6 1-0.1 1 0.6 1-0.6 1 0.4 1-0.3 1-0.5 1-0.6 1 0.3 1-0.2 1 0.3 1-0.4 1 0 1-0.2 1-0.4 1-0.4 1 0.3 1-0.7 1-0.5 1 0.3 1-0.7 1 0 1 0.2 1-1.4 1 0.8 1-0.2 1 0 1-0.4 1-0.1 1-1 1 0.1 1-0.1 1-0.9 1 0.3 1-0.2 1-0.3 1 0.4 1-0.1 1-0.4 0.4 0.1 0-10.8 0 10.8 0 4.8 1 1.1 1 1 1 1.4 1 1.5 1 0.2 1 1.6 1 1.7 1 0.4 1 1.3 1 1.6 1 1.4 1 0.2 1 1.1 1 0.4 1 1.1 1 1.1 1 0.8 1 1.6 1 0.8 1 0.8 1 0.1 1 1 1 0.7 1 2 1 0.9 1 0.5 1 0.9 1 0.8 1 0.1 1 0.4 1 0.7 1 0.2 1 0.7 1 0.5 1 0.7 1 1.2 1 0.5 1 0.8 1 0.3 1 0.5 1 0 1 0.6 1 0.5 1 0.7 1 0 1 1 1 0.8 1 0.2 1 0.1 1 0.6 1 0.1 1 1 1 0.6 1 0.1 1 0.5 1 0 1 0.8 1-0.2 1-0.2 1 0.3 1-0.6 1 1.1 1 0.2 1 0.8 1 0.8 1 0.8 1-0.1 1 0.4 1 0.6 1 0.1 1-0.3 1 0.3 1 0.2 1 0.5 1 0.3 1 0.5 1 0.3 1-0.3 1 0.5 1 0.2 1 0.7 1 0.7 1 0.1 1 0.2 1 0.2 1 0 1 0.4 1 0.4 1-0.1 1 0.2 1 0.7 1-0.7 1 0.4 1 0.2 1 0.1 1 0.6 1 0.7 1-0.3 1 0 1-0.2 1 1.4 1 0.2 1-0.4 1 0.6 1 0.1 1-0.5 1 0.6 1 0.4 1 0.1 1 0.5 1-0.1 1 0.4 1 0 1 0.7 1 0.5 1-0.3 1 0.1 1 0.4 1-0.6 1 0.2 1 0.3 1-0.2 1 0.1 1-0.2 1 0.6 1 0 1 0.4 1 1 1-0.5 1 0.4 1 0 1-0.2 1 0.9 1-1.2 1 0.8 1-0.1 1 1.2 1 0.5 1 0.2 1-0.3 1 1.2 1-0.1 1 0 1-0.2 1 0.4 1-0.6 1 0.3 1 0.1 1-0.1 1-0.1 1 0.5 1 0.5 1-0.4 1 1 1-0.1 1-0.1 1-0.1 1 0.9 1 0 1-0.2 1 0.5 1-0.1 1-0.4 1 0 1 0.7 1-0.4 1 0.3 1 0.3 1-0.1 1 0.1 1 1 1-0.4 1 0.1 1 0.1 1 0.5 1-0.2 1 0.2 1-0.1 1 0.8 1-0.2 1 0.2 1 0.3 1 0.4 1 0.4 1 0 1-0.1 1 0.9 1 0.1 1-0.1 1-0.1 1-0.5 1 0 1-0.6 1 0.1 1 0.5 1 0.7 1-0.1 1 0.5 1 0 1 0.6 1 0 1 0.6 1-0.1 1-0.1 1-0.1 1 0.1 1-0.3 1-0.2 1-0.1 1 0 1 0.6 1-0.2 1 0.6 1 0.7 1 0.2 1 0 1-0.2 1 0.8 1 0.3 1 0.2 1-0.2 1-0.3 1 0.5 1-0.4 1-0.1 1-0.3 1 0 1 0.8 1 0 1 0.4 1-0.1 1 0.3 1 0.1 1-0.2 1 0.4 1-0.5 1-0.1 1 0.2 1-0.3 1 1.2 1 0.2 1 0.1 1 0.6 1-0.3 1 0.3 1-1.3 1 1.6 1-0.2 1 0 1 0.8 1-0.2 1-0.2 1-0.1 1 0.9 1-1.5 1 1 1 0.5 1-0.7 1 0.1 1 0.6 1-0.4 1 0.2 1 0.3 1-0.3 1-0.3 1 0.8 1-0.2 1 0.2 1 0.7 1-0.9 1 0.1 1 0 1 0.5 1 0.1 1 0.8 1-0.4 1 0.8 1 0 1-0.1 1 0.3 1-0.5 1-0.7 1 0.8 1 0.4 1 0.1 1 0.2 1-0.1 1-0.8 1-0.1 1 1.1 1-0.4 1-0.2 1 0.3 1 0.4 1-0.4 1 0.5 1 1.1 1 0 1 0.3 1 0.1 1-0.2 1 0.5 1-1.3 1 1.4 1-1.1 1 0.2 1 0.2 1 0 1 0.1 1 0.3 1 0.1 1 0.4 1 0.9 1-0.9 1 0.2 1 0 1 0.1 1-0.5 1 0.1 1 0.5 1-0.8 1 0.7 1 0.3 1-0.5 1 1.2 1-0.1 1-0.7 1 0.5 1-0.1 1-0.5 1 0.2 1 0.9 1 0.2 1 0.1 1 0.2 1 0 1-0.4 1 0.6 1-0.4 1 0.6 1 0.5 0-0.8" stroke="#ff6347" stroke-width="1.6" fill="none"/>
<path d="M1001.1 349.3l1 1.2 1-0.7 1 0.4 1 0.4 1 0.3 1-0.9 1-0.8 1 0.9 1-0.7 1-0.4 1-0.1 1 0.3 1 0.4 1-0.2 1 0.2 1-0.2 1-0.1 1 0 1 0.5 1 0.2 1-0.2 1-0.8 1 0.1 1-0.1 1 0 1 0 1-0.2 1 0.3 1 0.2 1 0.2 1-0.1 1 0.4 1-0.3 1 0.2 1-0.5 1 0.8 1-0.7 1 0.3 1 0.2 1 0.3 1-1.2 1-0.1 1 0.5 1-0.3 1 0.3 1 0.3 1 0.2 1-0.4 1 1 1-0.1 1 0 1-1.3 1 0.1 1 0.6 1 0.2 1-1.3 1 0.5 1 0.6 1-0.3 1-0.2 1 0.7 1 0.3 1-0.5 1 0.2 1-0.4 1-0.8 1 0 1 0.1 0.2 0.6 0 30.7 0-30.7 1-20.3 1-16.7 1-15.3 1-13.3 1-11.1 1-9.3 1-8.6 1-5.7 1-6.1 1-5.8 1-4.4 1-4.6 1-4.1 1-4.2 1-3 1-2.8 1-2.2 1-1.8 1-1.8 1-2 1-2.1 1-2.5 1-1.5 1-1.3 1-2.2 1-1.4 1-0.9 1-1 1-1 1-1.1 1-0.4 1-1.7 1-0.7 1-0.9 1-0.2 1-1.7 1-0.9 1-1.1 1-0.4 1-0.7 1-0.6 1-0.8 1-0.5 1-0.2 1-1.1 1-0.6 1-0.8 1-0.4 1-0.7 1-0.1 1-0.6 1 0.6 1-0.1 1-1 1-0.9 1-0.4 1-0.6 1-0.4 1-0.2 1 0.3 1-1 1-0.6 1 0.5 1-0.8 1 0.2 1-0.7 1 0.1 1-1 1-0.9 1 0.1 1-0.2 1 0.3 1 0 1-0.6 1 0 1-0.5 1-0.5 1-0.7 1 0.3 1-0.1 1-0.9 1-0.8 1 0.6 1 0.4 1 0.6 1-0.4 1-0.1 1-0.5 1 0 1-0.8 1 0 1-0.4 1 0.1 1-0.9 1 0.8 1 0 1-0.6 1-0.5 1-0.1 1-0.1 1 0.2 1 0 1-0.6 1 0.2 1-0.5 1 0.5 1-0.2 1-0.2 1 0.1 1 0.2 1-1.4 1 0 1-0.3 1-0.8 1 0.4 1 0.9 1 0.3 1 0.5 1-0.2 1 0.2 1-0.5 1 0.3 1-0.9 1 0.2 1 0.3 1-0.1 1 0.1 1-0.4 1 0.1 1-0.7 1 0.7 1-0.2 1-0.7 1 0.3 1 0.5 1-0.2 0.4-0.1 0-39.5 0 39.5 0 5 1 1.8 1 1.5 1 0.4 1 2 1 1.9 1 1.1 1 1.7 1 0.9 1 2.2 1 0.1 1 1.4 1 1.2 1 1.4 1 0.6 1 1.9 1 0.7 1 0.8 1 1.5 1 1.3 1 0.9 1 1.2 1 0.9 1 1.2 1 0.9 1 1 1 0.6 1 1 1 0.7 1 0.4 1 1 1 1.5 1 0.2 1 1.2 1-0.2 1 1.4 1 0.4 1 1.3 1 0.5 1 0.9 1 0.9 1 0.2 1 1.1 1 0.8 1 0.1 1 0.8 1 0.2 1 0.6 1 1.1 1 0.4 1 0.9 1 0.3 1 1.4 1 0 1 0.5 1 0.9 1 0.4 1 1 1 0.2 1 0.2 1 0.7 1 0.2 1 0.7 1 0.7 1 0.6 1-0.2 1-0.2 1 0.3 1 0.4 1 0.4 1 0.1 1 1.2 1 0.1 1 0.8 1 0.5 1 0.2 1 0.6 1-0.3 1 0.4 1 0.7 1 0.2 1 0.8 1 0 1 0.8 1-0.1 1 0.5 1 0.9 1-0.6 1 0.9 1-0.4 1 0.3 1 0.1 1 0.5 1 0.3 1 0.2 1 1.8 1-0.1 1-0.3 1-0.6 1 1.1 1 0.4 1-0.2 1 0.3 1 0.8 1 0.6 1 0.1 1 1.2 1-1.2 1 0.2 1-0.3 1 1.5 1-0.5 1 0.2 1 0.2 1 1.1 1-0.7 1 0.2 1 0.2 1 0.1 1-0.1 1 0.2 1 0.8 1 0.2 1 0.1 1 0.1 1 0.6 1 0.1 1 0.4 1-0.4 1 0.4 1 0.2 1 0 1 0 1 0.9 1-0.3 1 0.2 1 0 1 0.4 1 0.5 1-0.5 1 1.1 1 0.7 1 0.4 1 0.5 1-0.4 1 0.2 1-0.1 1-0.4 1 0.4 1 0.6 1-0.3 1-0.2 1 0.3 1 0.1 1-0.3 1-0.1 1-0.1 1 0.7 1 0.2 1 0.3 1 0.2 1 0.5 1-0.6 1 1.7 1-0.5 1 0 1 0 1 0.1 1 1.2 1-1.2 1 0.4 1-0.4 1 0.3 1 0.5 1 0 1 0.2 1 0 1 0.2 1 0.2 1-0.1 1 0.8 1-0.5 1 0.2 1 0.1 1 0 1 0.9 1-0.9 1 0.3 1 0.2 1 0.9 1-0.4 1-0.4 1 0.5 1-0.4 1 0.5 1 0.8 1 0.3 1 0.7 1-0.5 1 0.8 1-0.4 1 0 1 0 1 0.5 1 0.5 1-0.3 1 0.6 1-0.1 1 0.4 1-0.4 1 1.1 1-0.3 1-0.2 1-0.2 1-0.2 1-0.2 1 0.2 1 0.6 1 0.6 1 0.3 1-0.7 1 0.4 1 0.4 1 0.2 1-0.4 1 0.5 1-0.7 1 0.4 1-0.3 1 1.3 1-0.6 1-0.4 1 0.5 1-0.2 1 0.2 1-0.1 1 0.9 1-0.1 1 0.5 1 0.1 1-0.2 1-0.4 1-0.3 1 0.5 1 0.1 1 0.4 1 0.3 1 0.7 1 0.3 1-0.1 1-0.7 1 0.3 1-0.2 1 0.7 1-0.4 1 0.1 1 0.1 1-0.6 1 1 1 0.4 1 0.2 1 0.6 1-0.6 1-0.2 1 0.8 1-0.2 1-0.2 1 0.3 1 0.8 1-0.1 1-0.6 1 1.2 1-0.4 1 0.3 1-0.1 1 0 1 0.1 1 0.8 1-0.8 1 0.2 1 0.9 1 0.3 1 0.3 1-0.9 1 0 1-0.4 1 0.7 1 0.3 1 0.1 1 0 1 0.2 1 0 1-0.9 1 0.4 1 0.3 1 0.3 1 0.2 1 0.3 1 0.8 1 0 1 0.5 1-0.8 1 0.1 1 0.3 1-0.1 1 0.2 1 0.1 1 0.1 1 0 1-0.5 1 0.1 1-0.5 1 0.4 1-0.5 1 1.3 1 0.5 1 0.3 1 0 1-0.5 1 0 1-0.2 1 0.2 1 0.4 1 0 1 0.7 1-0.3 1 0.5 1-0.1 1 0 1-0.5 1 0.9 1-0.7 1 0.6 1 0.5 1-0.3 1 0.2 1-0.3 1 0.2 1 0.3 1 0.6 1-0.6 1-0.3 0 0.6" stroke="#8a2be2" stroke-width="1.6" fill="none"/>
<path d="M64.5 894.1V564.2 M58.5 894.1H831.1 M58.5 894.1h6 M58.5 861.1h6 M58.5 828.1h6 M58.5 795.1h6 M58.5 762.1h6 M58.5 729.1h6 M58.5 696.2h6 M58.5 663.2h6 M58.5 630.2h6 M58.5 597.2h6 M58.5 564.2h6 M62.5 877.6h4 M62.5 844.6h4 M62.5 811.6h4 M62.5 778.6h4 M62.5 745.6h4 M62.5 712.6h4 M62.5 679.7h4 M62.5 646.7h4 M62.5 613.7h4 M62.5 580.7h4 M64.5 892.1v8 M107.1 894.1v4 M149.7 892.1v8 M192.3 894.1v4 M234.9 892.1v8 M277.5 894.1v4 M320.1 892.1v8 M362.6 894.1v4 M405.2 892.1v8 M447.8 894.1v4 M490.4 892.1v8 M533 894.1v4 M575.6 892.1v8 M618.2 894.1v4 M660.8 892.1v8 M703.4 894.1v4 M746 892.1v8 M788.5 894.1v4 M831.1 892.1v8" stroke="#222" stroke-width="1.3" fill="none"/>
<text transform="translate(55.8,572.3) scale(0.86,1)" font-size="21" text-anchor="end">45</text>
<text transform="translate(55.8,605.3) scale(0.86,1)" font-size="21" text-anchor="end">40</text>
<text transform="translate(55.8,638.3) scale(0.86,1)" font-size="21" text-anchor="end">35</text>
<text transform="translate(55.8,671.3) scale(0.86,1)" font-size="21" text-anchor="end">30</text>
<text transform="translate(55.8,704.3) scale(0.86,1)" font-size="21" text-anchor="end">25</text>
<text transform="translate(55.8,737.3) scale(0.86,1)" font-size="21" text-anchor="end">20</text>
<text transform="translate(55.8,770.2) scale(0.86,1)" font-size="21" text-anchor="end">15</text>
<text transform="translate(55.8,803.2) scale(0.86,1)" font-size="21" text-anchor="end">10</text>
<text transform="translate(55.8,836.2) scale(0.86,1)" font-size="21" text-anchor="end">5</text>
<text transform="translate(55.8,869.2) scale(0.86,1)" font-size="21" text-anchor="end">0</text>
<text transform="translate(55.8,902.2) scale(0.86,1)" font-size="21" text-anchor="end">-5</text>
<text transform="translate(62.2,922.8) scale(0.81,1)" font-size="21.5" text-anchor="middle">-100</text>
<text transform="translate(152.7,922.8) scale(0.81,1)" font-size="21.5" text-anchor="middle">0</text>
<text transform="translate(237,922.8) scale(0.81,1)" font-size="21.5" text-anchor="middle">100</text>
<text transform="translate(319.5,922.8) scale(0.81,1)" font-size="21.5" text-anchor="middle">200</text>
<text transform="translate(402.9,922.8) scale(0.81,1)" font-size="21.5" text-anchor="middle">300</text>
<text transform="translate(490.4,922.8) scale(0.81,1)" font-size="21.5" text-anchor="middle">400</text>
<text transform="translate(574.9,922.8) scale(0.81,1)" font-size="21.5" text-anchor="middle">500</text>
<text transform="translate(661.5,922.8) scale(0.81,1)" font-size="21.5" text-anchor="middle">600</text>
<text transform="translate(745.7,922.8) scale(0.81,1)" font-size="21.5" text-anchor="middle">700</text>
<text transform="translate(832.1,922.8) scale(0.81,1)" font-size="21.5" text-anchor="middle">800</text>
<text x="19.2" y="536.5" font-size="22" textLength="27" lengthAdjust="spacingAndGlyphs">RU</text>
<text x="345.3" y="550.4" font-size="22.3" font-weight="bold" textLength="190.3" lengthAdjust="spacingAndGlyphs">BDG 11.006 W94N</text>
<text transform="translate(19,745.5) rotate(-90)" font-size="23" font-weight="bold" text-anchor="middle" textLength="87.5" lengthAdjust="spacingAndGlyphs">Response</text>
<text x="439.7" y="973" font-size="22" font-weight="bold" text-anchor="middle" textLength="43" lengthAdjust="spacingAndGlyphs">Time</text>
<text x="864" y="947.2" font-size="20" textLength="12" lengthAdjust="spacingAndGlyphs">S</text>
<path d="M98.6 860.6l0.6 0.4 0.6 1.2 0.6-1.8 0.6-0.1 0.6 1.3 0.6-1.1 0.6-0.2 0.6 0.9 0.6 0.7 0.6-0.5 0.6-0.5 0.6 1.5 0.6-0.1 0.6-2.3 0.6 0.3 0.6 0.1 0.6 0.5 0.6 0.3 0.6-0.2 0.6 0.1 0.6 0.3 0.6-1.5 0.6-0.6 0.6 1.9 0.6 0.6 0.6-0.9 0.6-0.3 0.6 0.5 0.6-0.6 0.6-0.5 0.6 0.8 0.6 0.9 0.6-0.2 0.6 0.3 0.6-0.9 0.6 0.8 0.6 0.6 0.6-1.5 0.6-0.2 0.6 1.3 0.6-0.8 0.6-1 0.6 0.6 0.6 1.3 0.6-0.8 0.6 1.1 0.6-0.7 0.6-0.1 0.6 0.8 0.6-1.3 0.6 1.2 0.6-1 0.6-0.1 0.6 0.3 0.6-0.7 0.6-0.5 0.6 0.3 0.6 1 0.6-0.2 0.6-0.1 0.6 0.3 0.6-1.2 0.6 0.4 0.6 1.6 0.6-2 0.6 1.8 0.6-1.2 0.6 0.6 0.6-0.1 0.6-0.5 0.6 0.3 0.6 0.7 0.6-1.3 0.6-0.2 0.6 1.4 0.6-1 0.6 0.1 0.6-0.1 0.6-0.2 0.6-1 0.6 1.2 0.6-0.3 0.6-0.5 0.6 0.6 0.6 0.6 0.1 1.7 0.6-2.7 0.6 1.3 0.6-2.2 0.6 0.5 0.6-1.2 0.6 0.8 0.6-0.8 0.6-1 0.6-1.6 0.6 2.4 0.6-3 0.6 0.4 0.6 2.2 0.6-2 0.6-0.7 0.6-0.3 0.6 0 0.6-1.1 0.6 0.3 0.6-0.8 0.6-0.6 0.6 0.4 0.6-0.2 0.6-0.6 0.6 0.3 0.6 0.6 0.6-0.7 0.6-2 0.6-1.6 0.6 1.8 0.6-1.4 0.6 0.4 0.6-1.5 0.6 0.7 0.6-2.3 0.6 0.8 0.6-1.8 0.6 3.1 0.6-2.7 0.6-2.2 0.6 3.2 0.6-0.8 0.6 0.2 0.6-2.8 0.6 1.1 0.6 0.4 0.6-1.8 0.6 0.4 0.6-1 0.6-0.5 0.6 1.5 0.6-2.5 0.6 0.2 0.6 0.2 0.6-0.9 0.6 0.4 0.6-3.4 0.6 3 0.6-2.7 0.6 0.6 0.6-0.6 0.6 0.7 0.6-1.1 0.6-0.5 0.6 0.7 0.6 1 0.6-3 0.6-0.4 0.6-0.3 0.6-0.9 0.6-0.4 0.6 0.3 0.6 0.8 0.6-1.6 0.6-0.5 0.6 0.5 0.6-1 0.6 3.2 0.6-1.2 0.6-2.1 0.6-2.2 0.6 0.9 0.6-0.8 0.6-0.5 0.6-1.6 0.6 1.3 0.6-0.7 0.6-0.3 0.6-1 0.6 1.4 0.6-1.4 0.6-1.7 0.6 0.9 0.6 1.6 0.6-0.1 0.6-2.8 0.6 0.7 0.6 0.2 0.6 0 0.6-1.5 0.6 0.4 0.6-1.3 0.6-1.6 0.6 2.4 0.6-1.5 0.6 0.3 0.6-0.7 0.6-1 0.6 0.1 0.6 0.5 0.6-2.1 0.6 2.5 0.6 0.6 0.6-4.9 0.6 3.1 0.6-1.8 0.6 1 0.6-0.9 0.6-0.8 0.6 0.8 0.6-1 0.6 1 0.6-1.5 0.6-2.2 0.6 0.8 0.6-0.3 0.6-1 0.6-0.9 0.6 2.9 0.6-2.3 0.6-0.3 0.6-2 0.6 1.9 0.6-0.9 0.6 0.8 0.6 0.5 0.6-2.5 0.6-0.3 0.6 1.7 0.6-0.3 0.6-1.3 0.6 0 0.6-1.6 0.6-0.1 0.6-0.3 0.6-2.4 0.6 2.6 0.6-0.1 0.6-2 0.6-0.1 0.6 0.6 0.6 0.1 0.6-1.1 0.6-0.6 0.6 0.8 0.6-0.4 0.6-1.4 0.6 0.4 0.6-0.5 0.6 0.7 0.6-2.5 0.6 0.3 0.6-0.1 0.6 0.1 0.6 2.3 0.6-2.6 0.6 0.7 0.6-0.4 0.6 0.1 0.6-0.1 0.6-1.6 0.6-1.6 0.6 0.4 0.6 1.5 0.6 0.5 0.6-1.1 0.6 0.9 0.6-2.2 0.6-1.8 0.6 0.6 0.6-0.1 0.6 0 0.6-0.3 0.6-2.1 0.6 1.8 0.6-2.1 0.6 0.8 0.6 0.1 0.6-0.3 0.6-0.5 0.6-1.2 0.6 0.1 0.6 0.7 0.6-1.6 0.6-0.9 0.6-1.8 0.6 2.3 0.6-1.1 0.6 0.8 0.6-1.4 0.6 0.5 0.6-0.3 0.6 1 0.6-2.2 0.6-0.8 0.6 1 0.6 0.6 0.6-1.7 0.6 1.2 0.6-0.7 0.6 0.2 0.6-2.7 0.6 1.5 0.6-0.5 0.6 0.1 0.6-1.1 0.6 0.2 0.6-2.2 0.6 1.9 0.6 1.2 0.6-1.4 0.6-0.4 0.6 0 0.6 0.6 0.6-2.2 0.6-1 0.6 0.2 0.6 0.2 0.6 0.5 0.6 0.5 0.6-2.1 0.6-0.7 0.6 1.8 0.6-0.1 0.6-2.3 0.6 1.3 0.6-1.1 0.6-0.6 0.6 0.1 0.6-1 0.6-1 0.6-0.1 0.6 0.3 0.6 1 0.6 0 0.6 0.2 0.6-1.7 0.6 0.6 0.6-1.9 0.6 0.2 0.6 1.6 0.6-1.6 0.6 1.8 0.6-1.5 0.6-1.4 0.6-0.3 0.6-1.6 0.6 3 0.6-0.5 0.6 2.4 0.6-2 0.6-1.8 0.6-1.5 0.6-1 0.6 1.2 0.6 0.2 0.6-1.9 0.6 1.9 0.6 0.1 0.6-2.3 0.6 0.6 0.6-1.3 0.6 2.3 0.6-2.2 0.6-0.5 0.6-1 0.6 0.5 0.6-0.9 0.6 2.6 0.6-0.7 0.6-2.3 0.6 0.3 0.6 0.4 0.6-0.1 0.6-1.3 0.6 2.2 0.6-1 0.6 1.4 0.6-5.1 0.6 0.8 0.6 2.1 0.6-0.9 0.6-0.8 0.6-1.1 0.6 1.5 0.6-1.2 0.6 1.8 0.6-0.4 0.6-0.4 0.6-2.9 0.6 1.9 0.6 1.4 0.6-0.2 0.6-1 0.6-0.5 0.6-2.2 0.6 2.1 0.6 0.2 0.6-1.7 0.6 0 0.6-0.9 0.6 0.1 0.2-0.6 0 1.2 0.6-0.4 0.6-1.2 0.6 0.9 0.6 1 0.6 0.1 0.6 1 0.6-0.4 0.6 0.6 0.6-1.5 0.6 1.1 0.6-1.7 0.6-0.2 0.6 1.7 0.6-0.5 0.6-1.2 0.6 1.8 0.6 0.7 0.6-0.8 0.6 0.6 0.6-0.3 0.6 0.1 0.6-1.7 0.6-1 0.6 1.6 0.6-2.9 0.6 2.8 0.6-0.7 0.6 1.5 0.6-0.8 0.6 0.8 0.6-0.8 0.6 0.6 0.6 1.7 0.6-2.6 0.6-0.7 0.6 3.1 0.6-0.5 0.6-0.8 0.6-0.4 0.6 0.8 0.6-0.7 0.6 1.4 0.6-1.3 0.6-0.3 0.6 1.1 0.6-1.3 0.6 1.4 0.6-1.8 0.6 0.7 0.6 0.9 0.6-0.9 0.6 1.7 0.6-1 0.6 0.2 0.6-2.2 0.6 2.7 0.6-0.3 0.6-2.1 0.6 2.5 0.6 0 0.6-1 0.6-0.6 0.6-0.3 0.6 1.4 0.6 0.1 0.6-0.4 0.6 2.4 0.6-2.2 0.6 0.3 0.6-1.9 0.6 2.1 0.6 0.8 0.6-1.9 0.6 3 0.6-2.5 0.6 0.6 0.6-0.6 0.6 0.1 0.6-2.5 0.6 3.7 0.6-3.1 0.6 3.5 0.6-2.5 0.6 0.6 0.6 3.3 0.6-3.4 0.6 0.9 0.6-0.9 0.6 1 0.6 0.6 0.6 1.2 0.6-4.2 0.6 2.5 0.6 0.9 0.6 0.3 0.6-1.6 0.6 0.8 0.6 1.8 0.6-1.5 0.6 1.8 0.6-3.6 0.6 0.7 0.6 0.9 0.6-1.1 0.6 1.8 0.6-1.8 0.6 1.4 0.6-1.8 0.6 0.6 0.6 1.1 0.6 0.5 0.6-1.6 0.6-0.7 0.6 2.1 0.6-1.5 0.6 1.5 0.6 1 0.6-0.6 0.6-2.3 0.6 2.8 0.6-0.2 0.6-1.6 0.6 0.1 0.6 1.9 0.6-1.3 0.6 0.2 0.6 0.6 0.6-0.2 0.6 2.3 0.6-1.2 0.6-1.3 0.6 0.1 0.6-0.5 0.6 1.8 0.6-2.5 0.6 2.3 0.6-1.6 0.6-1.3 0.6 2.9 0.6-0.6 0.6-0.4 0.6-0.6 0.6 0.3 0.6-0.7 0.6 2.2 0.6 0.3 0.6-1.4 0.6 0.1 0.6 0.2 0.6 0.5 0.6-0.6 0.6-0.7 0.6 0.3 0.6 0.5 0.6-0.4 0.6-0.4 0.6 1.7 0.6-0.8 0.6 0.7 0.6-1.7 0.6 1.6 0.6-0.9 0.6-0.2 0.6-0.3 0.6-0.1 0.6 0.3 0.6 0.6 0.6-0.2 0.6 2.2 0.6-1.6 0.6-0.2 0.6-0.3 0.6-0.7 0.6-0.1 0.6 1.3 0.6-2 0.6 3.2 0.6 0.1 0.6-3.1 0.6 3 0.6-0.1 0.6 0.1 0.6-0.4 0.6 0.9 0.6-2.5 0.6 0.5 0.6 1.3 0.6-0.8 0.6-1.6 0.6 2.2 0.6 0.2 0.6-1.4 0.6 0.9 0.6 0.7 0.6-3.1 0.6 1.6 0.6-0.3 0.6 0.8 0.6-1.1 0.6 0.1 0.6 1.5 0.6 1.6 0.6-3.2 0.6 2.9 0.6-0.8 0.6 0.1 0.6 0.5 0.6-1.9 0.6 1.6 0.6-2.8 0.6 0.8 0.6 1.2 0.6 0.6 0.6-2.1 0.6-0.3 0.6 2.3 0.6 0.1 0.6 0.2 0.6-0.9 0.6-1.3 0.6 2.5 0.6-0.2 0.6-0.6 0.6 2.1 0.6-1.9 0.6 1.3 0.6-1.9 0.6-2.6 0.6 1.8 0.6-1.7 0.6 2.5 0.6 1.5 0.6-3 0.6 2.6 0.6-0.9 0.6 1.3 0.6-0.5 0.6-1.5 0.6 1.5 0.6-0.7 0.6 1 0.6 1.1 0.6-2.1 0.6 1.9 0.6-1.9 0.6 0.8 0.6-0.5 0.6-0.9 0.6 1.1 0.6-0.5 0.6 1.1 0.6-1.6 0.6 0.1 0.6 1.7 0.6-0.5 0.6 0.1 0.6 0.1 0.6 0.5 0.6-0.5 0.6 0.5 0.6-1.7 0.6 1.3 0.6-1.2 0.6-0.5 0.6 1 0.6 0.9 0.6-0.6 0.6 1.9 0.6-1.2 0.6-0.2 0.6-0.2 0.6-1.3 0.6 1.4 0.6 0.2 0.6 1.8 0.6-2.6 0.6 0.4 0.6-0.5 0.6 0.8 0.6-1.8 0.6 2.2 0.6-0.1 0.6 0 0.6 2.5 0.6-2.8 0.6 0.6 0.6-0.7 0.6 1.4 0.6 1.1 0.6-0.6 0.6-1.5 0.6-1.5 0.6 1.6 0.6-2.1 0.6 1.1 0.6 0.1 0.6-0.4 0.6 1.2 0.6-0.4 0.6-0.4 0.6 1.4 0.6-1.2 0.6 1.8 0.6-0.5 0.6-1.2 0.6 1 0.6-1.1 0.6 0.3 0.6 1.7 0.6-2.6 0.6 1.9 0.6 1.5 0.6-4.3 0.6 4.7 0.6-4.5 0.6-0.1 0.6 0.2 0.6 1.1 0.6 0.6 0.6-1.3 0.6 1.7 0.6 0.9 0.6-1.6 0.6 1 0.6 0.5 0.6 1.2 0.6-1.7 0.6 0.8 0.6-0.2 0.6-0.6 0.6-0.3 0.6 0.6 0.6 0.4 0.6-2.2 0.6 1.1 0.6 0.7 0.6-0.1 0.6 0.1 0.6 1.4 0.6-0.6 0.6-2.5 0.6 3.1 0.6-2.3 0.6-0.2 0.6 2.1 0.6-1.2 0.6-1.4 0.6 2.4 0.6-0.3 0.6 0.1 0.6-2.1 0.6 2.3 0.6-1.4 0.6 1.7 0.6-2.5 0.6 0.3 0.6-1.2 0.6 1.3 0.6 1.9 0.6-0.6 0.6-0.8 0.6 2.1 0.6-1 0.6 0.7 0.6-0.5 0.6-0.4 0.6 0.2 0.6 0.1 0.6 0.7 0.6-0.6 0.6 0.2 0.6-1.9 0.6-0.7 0.6 2.2 0.6-0.1 0.6 0.3 0.6-1.4 0.6 1.2 0.6-1.2 0.6 1.3 0.6 0 0.6-0.2 0.6 0.5 0.6-0.7 0.6 0.3 0.6 0.7 0.6 0.9 0.6-0.9 0.6 0.3 0.6-0.2 0.6 1.1 0.6 0.4 0.6-2.9 0.6 1.4 0.6-0.2 0.6 1.3 0.6-4.1 0.6 1.9 0.6-1.1 0.6 3.2 0.6-1 0.6 0.4 0.6 0 0.6 0.1 0.6 0.2 0.6-0.9 0.6-1.9 0.6 2.4 0.6-0.5 0.6-0.6 0.6-0.1 0.6 2 0.6-2.2 0.6-0.3 0.6 1.7 0.6 1 0.6-2.8 0.6 0.4 0.6 0 0.6 1.6 0.6 0 0.6 1 0.6-1.7 0.6-0.1 0.6-0.4 0.6 1.7 0.6-2 0.6-0.2 0.6 0.6 0.6 0.2 0.6 0.6 0.6-0.8 0.6 2.8 0.6 0.1 0.6-3.1 0.6 1.4 0.6-1.2 0.6 0.4 0.6-1 0.6 0.9 0.6 0.5 0.6-0.1 0.6-1.5 0.6-0.7 0.6 0.2 0.6 3.2 0.6-1.5 0.6 0.3 0.6 1.5 0.6-2.3 0.6 1.8 0.6-1.1 0.6 0.8 0.6-1.9 0.6 1.6 0.6 0.2 0.6 0.2 0.6-1.4 0.6 1.1 0.6 1.2 0.6-1 0.6 1 0.6-0.3 0.6-0.5 0.6-0.8 0.6 0.6 0.6-1 0.6 1.7 0.6-0.2 0.6 0.9 0.6 1.1 0.6-1.3 0.6-0.3 0.6-0.4 0.6 0.6 0.6 0.6 0.6-1.8 0.6-1.1 0.6 0 0.6 2.4 0.6-0.5 0.6 0.1 0.6-2.3 0.6 1.1 0.6-0.8 0.6 0.3 0.6 0.5 0.6-0.2 0.6 2.5 0.6-3.1 0.6 0.6 0.6 0.2 0.6 0.9 0.6 0.7 0.6-1.6 0.6-0.9 0.6 1.1 0.6 0.9 0.6-1.7 0.6 2.3 0.6-1.9 0.6 0.4 0.6 0.2 0.6 2.6 0.6-1.1 0.6-0.3 0.6-1.5 0.6-0.1 0.6 0.6 0.6 2.3 0.6-0.3 0.6-1 0.6-0.7 0.6-1.4 0.6 1.5 0.6 0.9 0.6 0 0.6-0.3 0.6-0.9 0.6 1.2 0.6-0.6 0.6 1.1 0.6-0.7 0.6 0.5 0.6-0.4 0.6-0.8 0.6 1.8 0.6-2.3 0.6 1.7 0.6-1.3 0.6 0 0.6 0.7 0.6-0.8 0.6-0.4 0.6 0.3 0.6-0.2 0.6 1.1 0.6 0.3 0.6-0.3 0.6-1.7 0.6 1.8 0.6 0.8 0.6-2.2 0.6 0.2 0.6 2.1 0.6-1.1 0.6 1.4 0.6-1.6 0.6-1.2 0.6 1.3 0.6-0.1 0.6 0.5 0.6-1.1 0.6 0.4 0.6 2.7 0.6-2.7 0.6 2.1 0.6-2.8 0.6 1.5 0.6 0.2 0.6 0.5 0.6-0.6 0.6-0.6 0.6 0.8 0.6-1.5 0.6-1 0.6 0.9 0.6 3.3 0.6-0.8 0.6 0.8 0.6-1.4 0.6-2.1 0.6 0.5 0.6 1.5 0.6-1.1 0.6 0 0.6-0.2 0.6 0.3 0.6-1.3 0.6 2.4 0.6-1 0.6 2.2 0.6 0.5 0.6-1.8 0.6 1.1 0.6-0.1 0.6-0.8 0.6-0.3 0.6 1.6 0.6-0.7 0.6-0.9 0.6-0.5 0.6 0.3 0.6 1 0.6-0.3 0.6-1.1 0.6 0.4 0.6 0.6 0.6-0.6 0.6 0.4 0.6-1 0.6 0.3 0.6 1.2 0.6 0.2 0.6-0.7 0.6 2.6 0.6-2.4 0.6 0.8 0.6-0.7 0.6-0.7 0.6 1.2 0.6 0.4 0.6-1.1 0.6 0.4 0.6 2.4 0.6-3.7 0.6 0.8 0.6 0.8 0.6-0.5 0.6-0.8 0.6 0.2 0.6 0.4 0.6 0.1 0.6 0.2 0.6 1.6 0.6-1.3 0.6-0.6 0.6 0.9 0.6 0.1 0.6-1.6 0.6 0.5 0.6-0.5 0.6 1.5 0.6 0.7 0.6-1.1 0.6 1.5 0.6-1.9 0.6 0.4 0.6 0 0.6 0.1 0.6 1.5 0.6-2.7 0.6 1.7 0.6-0.4 0.6 1.4 0.6-2.6 0.6 0.2 0.6 2.9 0.6-0.4 0.6-0.4 0.6-0.9 0.6 1.2 0.6-1.2 0.6-1 0.6 1 0.6-0.2 0.6-0.9 0.6 0.6 0.6-0.3 0.6 1.2 0.6 0.4 0.6 0.1 0.6-0.1 0.6-2.1 0.6 1.8 0.6 0.2 0.6-0.2 0.6-1.3 0.6-1.9 0.6 3.2 0.6-1 0.6 1.7 0.6-2.4 0.6 2 0.6-1 0.6-0.7 0.6 0.8 0.6 0.4 0.6 1.2 0.6-0.1 0.6 0.3 0.3-0.5" stroke="#00ced1" stroke-width="1.6" fill="none"/>
<path d="M98.6 862.6l0.6-1.8 0.6-0.3 0.6 0.6 0.6-0.1 0.6-0.2 0.6 0.1 0.6-0.8 0.6 1.4 0.6-1.4 0.6 1.8 0.6-0.4 0.6-0.8 0.6 0 0.6-0.2 0.6 0.6 0.6 1.4 0.6-1.2 0.6-0.4 0.6 1.5 0.6-1.6 0.6 0 0.6 2 0.6-1.2 0.6 0.4 0.6-0.3 0.6 0 0.6 0 0.6 0 0.6 1.1 0.6-2.7 0.6-0.9 0.6 1.5 0.6-0.8 0.6 1.3 0.6-1 0.6 0.9 0.6 0.8 0.6-1.3 0.6-0.1 0.6 1.2 0.6-1.2 0.6 0.5 0.6 0.1 0.6-0.8 0.6 1.7 0.6-1.5 0.6 1.5 0.6-0.5 0.6-1.2 0.6 0.6 0.6 0.9 0.6-1.1 0.6 1.8 0.6-2.3 0.6 1.4 0.6-2.2 0.6 1.2 0.6 1.1 0.6-2.1 0.6 1.7 0.6-1 0.6-0.1 0.6 0.4 0.6 0.2 0.6 0 0.6-0.2 0.6-0.2 0.6-1.2 0.6 2.8 0.6 0.8 0.6-1.2 0.6-0.6 0.6-0.6 0.6 1 0.6-0.1 0.6-0.8 0.6 0.6 0.6 0.7 0.6-0.4 0.6-0.2 0.6 0.3 0.6-0.6 0.6 0.4 0.6 0.1 0.6-0.7 0.1 0.3 0.6-0.2 0.6-0.9 0.6-4.3 0.6-0.5 0.6 1.6 0.6-1.4 0.6-1 0.6-2.8 0.6 0.7 0.6-0.8 0.6-1.3 0.6-1.9 0.6-0.8 0.6-0.1 0.6-0.9 0.6 0.3 0.6-4.6 0.6 0.8 0.6 0.9 0.6-3.2 0.6 0.3 0.6 0.7 0.6-3.4 0.6 0.6 0.6 0.6 0.6-4.1 0.6-1.6 0.6 2.2 0.6-2.5 0.6-0.2 0.6-0.4 0.6 0.3 0.6-2.3 0.6 0.6 0.6-0.9 0.6-1.6 0.6 0.2 0.6-1.4 0.6-1.3 0.6 2.5 0.6-5.7 0.6 0.3 0.6-0.7 0.6 0 0.6-0.1 0.6-1 0.6 1.9 0.6-3.5 0.6-1.3 0.6 0.3 0.6-1 0.6-0.8 0.6 0.7 0.6-1.2 0.6 0.4 0.6-2.9 0.6 1.1 0.6-1.2 0.6-1 0.6-1.9 0.6 0.8 0.6-1.9 0.6 1.4 0.6-1.1 0.6-0.4 0.6 1.8 0.6-1.9 0.6-3.8 0.6 2.1 0.6-1.2 0.6-0.6 0.6-1.4 0.6 0.8 0.6-4.6 0.6 1.3 0.6 1.5 0.6-0.8 0.6 0 0.6-1.7 0.6-0.9 0.6 0.7 0.6-1.3 0.6-2.5 0.6 2.4 0.6-2.4 0.6 1.4 0.6-1.3 0.6 0.1 0.6-0.3 0.6-2.7 0.6 1.2 0.6-1.1 0.6-0.8 0.6 0.1 0.6-0.9 0.6 0.1 0.6-0.2 0.6-1.3 0.6 1.3 0.6-1.3 0.6-1.7 0.6 1 0.6-0.6 0.6-2.5 0.6 1.1 0.6-1 0.6 0.2 0.6-0.7 0.6 0.2 0.6-0.8 0.6-2.9 0.6 1.8 0.6 0 0.6-0.4 0.6 0.2 0.6-1.3 0.6 0.7 0.6-0.9 0.6-1.5 0.6-0.7 0.6 1.6 0.6-1.1 0.6-2.8 0.6 0.1 0.6 1.9 0.6-1.5 0.6-2.4 0.6 1.8 0.6 0.1 0.6-0.9 0.6-1.1 0.6-0.5 0.6-0.5 0.6-0.4 0.6 0.5 0.6 1.9 0.6-0.2 0.6-3.4 0.6-1.7 0.6 1.1 0.6-0.5 0.6-0.3 0.6-1.8 0.6 1.5 0.6-0.9 0.6 0.3 0.6-2 0.6 1.3 0.6-1.8 0.6 0 0.6-0.3 0.6-0.3 0.6-0.3 0.6-0.3 0.6-0.4 0.6-0.4 0.6-0.1 0.6-0.1 0.6 2.1 0.6-1.3 0.6-1.9 0.6-1.3 0.6 2.2 0.6-1.6 0.6-0.1 0.6 0.4 0.6-3.3 0.6 1.1 0.6 0.3 0.6 0.9 0.6-1.7 0.6-0.2 0.6-0.4 0.6-0.2 0.6 0 0.6-1.1 0.6-0.6 0.6-0.2 0.6 0.6 0.6 0.1 0.6-1.2 0.6-0.6 0.6 1.3 0.6-0.9 0.6-0.1 0.6-1.2 0.6-0.5 0.6 0.7 0.6-1.1 0.6 1.1 0.6-2.4 0.6 1 0.6-0.8 0.6-1.3 0.6 0.5 0.6-1.1 0.6 0.4 0.6-0.1 0.6 2.7 0.6-3.9 0.6 1.3 0.6-1.4 0.6 0.5 0.6-1 0.6-0.9 0.6 2.2 0.6-0.6 0.6-2.9 0.6 1.3 0.6-0.7 0.6-1.7 0.6 1.5 0.6 0 0.6-0.6 0.6 0.3 0.6 1.1 0.6-2.4 0.6 1.6 0.6 0.6 0.6-5.2 0.6 2.5 0.6 1.4 0.6-1.5 0.6-1.3 0.6 1.8 0.6-0.8 0.6-2.9 0.6 2.2 0.6-1.3 0.6 0.1 0.6-1.7 0.6 1.7 0.6-0.6 0.6-1.3 0.6 0.4 0.6 1.5 0.6-0.2 0.6-3.3 0.6 1.8 0.6-0.9 0.6-0.3 0.6 0.5 0.6 1.1 0.6-1.1 0.6-1.7 0.6 0.7 0.6 0.2 0.6 0.5 0.6-1.5 0.6-0.1 0.6-0.2 0.6 0.3 0.6-2.9 0.6 3.1 0.6-1.2 0.6-0.5 0.6-1.3 0.6 1.2 0.6 1.6 0.6-2.8 0.6-1.3 0.6 1.9 0.6-0.6 0.6-0.2 0.6-1.5 0.6 1.9 0.6 0.1 0.6-5.4 0.6 4.1 0.6 0.2 0.6-1.9 0.6-1.4 0.6 2.3 0.6 1.9 0.6-1.8 0.6 1.7 0.6-2.2 0.6-0.8 0.6-0.8 0.6 2.1 0.6-2.9 0.6 0.5 0.6-0.1 0.6 0.6 0.6-0.5 0.6-1.9 0.6 0.1 0.6 2.7 0.6-1.8 0.6-0.2 0.6-0.2 0.6 0.5 0.6-1.1 0.6 1.9 0.6-0.3 0.6-1.1 0.6 0.7 0.6-1.3 0.6-0.5 0.6 1.3 0.6-1.4 0.6-0.8 0.6 2.2 0.6-1.9 0.6 0.6 0.6 1 0.6-3 0.6 1 0.6 0.9 0.6-1.5 0.6-0.5 0.6 0.2 0.2-0.4 0 1.5 0.6 0.7 0.6-0.1 0.6 1.9 0.6-1.2 0.6 1.5 0.6-1.4 0.6 1.5 0.6-2 0.6 1.2 0.6-1.2 0.6 1.6 0.6-2.4 0.6 0.4 0.6 0.9 0.6-1.1 0.6 2.6 0.6-1.6 0.6 0.8 0.6 0.7 0.6-0.5 0.6-1.4 0.6-0.6 0.6-0.4 0.6 0.9 0.6 0.1 0.6 0.1 0.6 1.4 0.6-2 0.6-0.2 0.6 1.6 0.6 1.6 0.6-2.6 0.6 0.9 0.6 0.2 0.6 1.3 0.6-0.3 0.6-1.3 0.6 1.4 0.6-0.9 0.6 0.8 0.6 1.1 0.6-4 0.6 0.9 0.6 0.1 0.6 0.1 0.6 1.4 0.6 0.1 0.6 1.8 0.6-0.4 0.6-1.1 0.6-0.3 0.6 0.7 0.6-0.3 0.6-1.1 0.6 1.1 0.6-1.1 0.6 0.6 0.6-0.1 0.6-0.3 0.6 0.1 0.6 0.7 0.6-0.2 0.6-1 0.6 2.9 0.6 0 0.6 0.1 0.6-0.6 0.6-1.1 0.6-0.7 0.6 0.1 0.6-0.7 0.6 1.5 0.6-1.3 0.6 1.7 0.6-0.1 0.6-0.8 0.6 0.1 0.6 0.6 0.6 0.6 0.6-0.7 0.6 2.1 0.6-2.8 0.6 0.2 0.6 0.4 0.6 0.3 0.6 0.5 0.6 0.3 0.6-0.6 0.6 1.8 0.6-3.5 0.6 2.3 0.6 0 0.6-1.5 0.6-0.1 0.6 1.5 0.6 0.9 0.6-0.8 0.6-0.6 0.6 0 0.6-0.1 0.6 0.2 0.6 1.3 0.6 0.6 0.6-0.7 0.6-1.1 0.6 1.1 0.6 0.4 0.6-2.9 0.6 2.3 0.6-0.8 0.6 0.8 0.6-1.3 0.6 0.4 0.6 1.1 0.6-0.3 0.6 0 0.6-0.3 0.6 1.3 0.6 0.6 0.6-2 0.6 1.2 0.6-0.6 0.6 0.8 0.6 0.8 0.6-0.8 0.6-0.5 0.6-1 0.6 2.2 0.6 0.5 0.6-3.7 0.6 2.7 0.6-0.8 0.6-1.1 0.6 3.3 0.6-1 0.6 1.7 0.6-2.6 0.6 0.4 0.6-1.2 0.6 1.6 0.6-1.8 0.6 1.4 0.6 1.6 0.6-0.5 0.6 0.4 0.6-0.8 0.6 0.5 0.6-0.9 0.6-1 0.6 1.8 0.6-0.5 0.6-0.6 0.6-0.3 0.6 2.3 0.6-2.5 0.6 0.8 0.6 1.3 0.6 0.3 0.6-0.5 0.6-1.8 0.6 2.6 0.6-1.2 0.6-1.4 0.6 2.6 0.6-1.3 0.6-1.7 0.6-0.6 0.6 2.5 0.6-0.4 0.6 1.1 0.6-0.1 0.6-1.1 0.6 1.1 0.6-0.2 0.6-1.3 0.6 1.9 0.6-0.7 0.6-0.2 0.6 0.6 0.6-1.1 0.6 0.2 0.6 0.8 0.6-0.7 0.6 2.5 0.6-1.3 0.6 0.4 0.6 1 0.6-0.3 0.6 0.8 0.6-2.8 0.6 2.3 0.6-1.9 0.6 0.3 0.6 0.4 0.6-0.1 0.6 0.2 0.6 0.2 0.6 1 0.6-3.7 0.6 0.8 0.6 0.3 0.6 1.5 0.6 0 0.6 0.3 0.6 1.6 0.6-1.7 0.6-1.3 0.6 2 0.6 1.3 0.6 0.3 0.6-2.3 0.6 0.3 0.6 0.2 0.6 0.4 0.6-0.9 0.6-0.1 0.6 1.9 0.6 0.1 0.6-1.7 0.6-0.5 0.6-0.3 0.6-0.4 0.6-0.2 0.6 1.3 0.6-0.5 0.6 1.2 0.6-1 0.6-0.3 0.6 0.5 0.6-2 0.6 2.9 0.6-0.4 0.6 1.7 0.6-1.8 0.6 0.2 0.6-0.7 0.6 3 0.6-2 0.6 1 0.6-1.4 0.6 1 0.6-1.4 0.6 0.6 0.6 0.3 0.6-0.6 0.6 1.7 0.6 0.1 0.6 0.4 0.6-2.1 0.6 0.5 0.6 0.6 0.6 0.7 0.6-1.9 0.6 1.1 0.6 1.1 0.6-0.7 0.6-0.1 0.6-1 0.6 0.8 0.6 1.2 0.6 0.3 0.6-2.7 0.6 2.2 0.6-0.7 0.6-0.6 0.6 2.7 0.6-1.1 0.6-1.9 0.6 0 0.6 1.3 0.6-1.6 0.6 1.4 0.6 0.9 0.6-1.7 0.6 1.4 0.6 0.3 0.6-1.1 0.6 1 0.6 0.4 0.6-0.1 0.6-1 0.6 1.5 0.6-1.2 0.6 0.6 0.6-0.1 0.6-0.1 0.6-1.9 0.6 3.1 0.6-0.6 0.6-0.5 0.6 0.6 0.6-1 0.6 0.3 0.6 0.9 0.6-2.6 0.6 1.3 0.6 0.3 0.6 0.4 0.6-0.5 0.6-0.1 0.6 1 0.6 0.4 0.6-0.4 0.6 0.6 0.6-0.5 0.6 1.2 0.6 0.2 0.6-2 0.6-0.1 0.6 0.2 0.6 0.1 0.6 1.2 0.6-0.1 0.6-0.3 0.6-0.8 0.6 0.4 0.6 0.2 0.6 0.4 0.6-3.2 0.6 3.3 0.6 0.1 0.6-1.1 0.6 2.3 0.6-0.6 0.6 0 0.6-2.1 0.6 2.4 0.6-0.6 0.6 0.1 0.6-2.5 0.6 0.9 0.6 1.2 0.6-1.2 0.6 2.5 0.6-2.2 0.6 1.7 0.6-0.2 0.6 2.6 0.6-2.6 0.6 1.3 0.6-1.8 0.6-0.7 0.6 1.6 0.6 0.7 0.6-1.7 0.6 1.4 0.6-0.4 0.6-0.7 0.6 0.4 0.6 0.1 0.6-0.5 0.6 0.7 0.6 0.5 0.6-0.9 0.6-2 0.6 3.3 0.6-1.3 0.6 1.2 0.6-1.6 0.6 1.3 0.6-0.7 0.6 0 0.6 0.4 0.6 0.4 0.6-2.1 0.6 3.2 0.6-0.3 0.6-1 0.6-2 0.6 2.6 0.6-0.8 0.6 1.8 0.6-1.9 0.6 0.5 0.6 1.2 0.6-3.1 0.6 1.9 0.6 0.3 0.6-2.1 0.6 1.4 0.6 1.1 0.6 0.1 0.6 1.4 0.6-0.9 0.6-2.4 0.6 2.3 0.6-0.2 0.6-0.3 0.6-1.1 0.6 3.1 0.6-0.3 0.6-1.6 0.6-1.1 0.6-0.4 0.6 0.1 0.6 2.2 0.6-2.5 0.6 2.9 0.6-1.2 0.6 0.7 0.6 0.5 0.6 1.7 0.6-1.7 0.6-1.1 0.6 0.4 0.6-0.3 0.6 0 0.6 0.2 0.6-1 0.6 1.4 0.6-1.9 0.6 2.5 0.6-1.5 0.6-1 0.6 2.1 0.6 0.2 0.6-0.5 0.6-1.4 0.6 0.6 0.6 1.7 0.6 1.9 0.6-1.9 0.6-0.1 0.6 0.3 0.6-1.5 0.6 2 0.6-1.9 0.6 0.7 0.6-0.8 0.6-0.2 0.6 0.4 0.6-0.1 0.6 0.6 0.6 2.1 0.6-1.3 0.6-0.7 0.6 0.9 0.6-0.9 0.6 1.4 0.6-0.3 0.6-1.1 0.6 0.6 0.6 0.2 0.6-0.9 0.6-0.1 0.6 1 0.6-0.9 0.6 1 0.6 0.9 0.6-1.1 0.6 0.8 0.6 1.3 0.6-2.3 0.6 2 0.6-2.3 0.6-0.2 0.6 1.2 0.6-0.3 0.6-1.1 0.6 3 0.6-0.5 0.6-1.8 0.6 0.9 0.6 0.1 0.6-1.3 0.6 1.7 0.6-1.6 0.6-0.6 0.6 3.2 0.6-2.1 0.6-0.1 0.6 0.6 0.6-0.3 0.6 2.8 0.6-1.6 0.6 0.5 0.6 0.2 0.6 1.3 0.6-4.2 0.6 2.9 0.6-0.6 0.6-0.1 0.6 0.9 0.6-0.7 0.6-2.3 0.6 2.1 0.6-0.3 0.6 1.7 0.6-3.2 0.6 2.8 0.6-0.6 0.6 0.4 0.6-0.4 0.6-2.4 0.6 2.9 0.6-0.8 0.6-0.6 0.6 1.7 0.6-0.9 0.6 1.8 0.6-0.4 0.6-2.2 0.6 2 0.6-0.7 0.6-0.2 0.6-0.1 0.6 1.3 0.6-2 0.6 1.3 0.6-1.8 0.6 1.9 0.6-1.6 0.6 0.2 0.6 1 0.6-1.1 0.6 2.2 0.6-2.1 0.6 2.5 0.6-0.7 0.6-0.5 0.6 0.6 0.6-0.4 0.6 2.4 0.6-1.7 0.6-1.1 0.6 1.1 0.6-0.8 0.6 0.4 0.6-0.7 0.6-0.1 0.6 1.3 0.6-0.6 0.6 0.7 0.6-0.8 0.6 0.3 0.6-0.4 0.6 1.7 0.6 0.3 0.6-1.8 0.6 1.2 0.6-2.2 0.6 0.2 0.6 2.1 0.6-2.5 0.6 4.6 0.6-1.7 0.6 0.7 0.6-1.8 0.6-1.1 0.6 0.4 0.6 0 0.6 2 0.6-1.8 0.6 0.4 0.6 2.5 0.6-2.7 0.6 0.4 0.6 1.9 0.6 1.1 0.6-4.6 0.6-0.7 0.6 1.9 0.6 1 0.6-0.3 0.6-0.2 0.6-0.8 0.6 2.1 0.6-1.3 0.6-0.1 0.6 0.7 0.6 1.8 0.6-1.3 0.6 2.5 0.6-2.9 0.6 0.9 0.6-2.9 0.6 1.6 0.6 0.6 0.6-0.8 0.6 0 0.6 0.4 0.6-0.6 0.6 0.5 0.6 0.7 0.6 0.4 0.6-1.7 0.6 1 0.6-0.5 0.6 2 0.6 1 0.6-1.5 0.6 0.3 0.6-0.7 0.6 0.8 0.6-0.6 0.6-1 0.6 2.5 0.6 1 0.6-1.6 0.6-0.8 0.6 0.6 0.6 1.2 0.6-2.1 0.6 1.2 0.6-0.7 0.6-2.4 0.6 1.8 0.6 1 0.6-0.1 0.6-0.5 0.6-1.2 0.6 1.6 0.6 0 0.6 0.3 0.6 1.5 0.6-1.6 0.6 1.2 0.6-0.8 0.6 2.4 0.6-2.2 0.6 2.1 0.6-3.7 0.6-0.2 0.6 1.9 0.6-0.8 0.6 1.6 0.6-0.4 0.6 0 0.6-1.5 0.6 0.7 0.6 0.7 0.6-1.4 0.6 0.9 0.6 1.1 0.6-1.2 0.6 0.5 0.6 1 0.6-1 0.6-1.8 0.6 1.9 0.6-0.2 0.6 0.2 0.6 2.1 0.6-1 0.6-1 0.6-0.7 0.6 1.6 0.6-0.7 0.6 1.3 0.6-0.9 0.6 0.8 0.6-1.9 0.6 0.7 0.6 0 0.6-0.8 0.6 1.2 0.6-0.6 0.6 0 0.6-0.5 0.6 0.6 0.6-1.7 0.6 2.6 0.6-0.5 0.6 0.3 0.6 0.6 0.6-0.8 0.6-0.4 0.6 1.7 0.6-1.7 0.6 0.7 0.6-2.3 0.6 1.5 0.6 0.8 0.6 0.8 0.6-0.2 0.6 0.5 0.6-1.5 0.6-0.1 0.6 0.6 0.6-0.8 0.6 0.4 0.3 0.5" stroke="#daa520" stroke-width="1.6" fill="none"/>
<path d="M98.6 861.6l0.6 0 0.6-0.3 0.6 0.1 0.6-0.8 0.6 0.6 0.6 0.5 0.6-0.3 0.6-0.9 0.6 1.1 0.6-1.4 0.6 0.2 0.6 0 0.6 0.1 0.6 0.4 0.6 0.7 0.6 0.3 0.6-0.4 0.6-0.9 0.6 1.1 0.6 0.2 0.6-1.3 0.6-0.4 0.6 0.8 0.6 1.5 0.6-1.7 0.6 0 0.6 0.8 0.6-1.4 0.6 0.1 0.6 0.9 0.6 0.8 0.6-0.9 0.6-0.3 0.6-0.8 0.6 2.5 0.6-2.2 0.6 1.8 0.6-1.5 0.6 1.3 0.6 0.4 0.6-2 0.6 1.1 0.6 0.2 0.6 0.3 0.6-1.2 0.6 1.4 0.6-0.8 0.6-0.9 0.6 1.7 0.6 0.2 0.6-1 0.6-0.2 0.6 0.7 0.6 0.6 0.6-2.1 0.6 1.7 0.6 0.7 0.6-2.1 0.6 1 0.6-0.5 0.6 0.2 0.6 0.7 0.6-2.2 0.6 0.8 0.6-0.7 0.6 0.8 0.6 1.8 0.6-2.2 0.6 0.5 0.6 0 0.6 0.8 0.6-0.5 0.6-0.4 0.6 0 0.6 0.3 0.6-0.8 0.6-1 0.6 2.7 0.6-0.8 0.6-0.6 0.6 0.3 0.6 0.7 0.6-1.3 0.6 0.8 0.6-0.4 0.1 1.7 0.6-5 0.6-0.5 0.6 1.5 0.6-4 0.6-1.2 0.6-2.1 0.6-2.6 0.6 1 0.6-0.6 0.6-1.8 0.6-2.7 0.6-0.7 0.6 0.8 0.6-3.4 0.6-2.3 0.6 0.2 0.6-2.5 0.6-3 0.6-0.1 0.6 0.5 0.6-2 0.6-1.2 0.6-0.5 0.6-2.8 0.6-2 0.6 0 0.6-1.9 0.6-0.7 0.6-1.9 0.6-1.4 0.6-1.9 0.6 0.6 0.6 0.5 0.6-4.4 0.6 1.6 0.6-1.8 0.6-2.5 0.6-1.5 0.6 0.3 0.6-2.1 0.6-1.1 0.6-1.4 0.6 1.1 0.6-4.7 0.6 1 0.6 0.6 0.6-2.9 0.6 1.1 0.6-3.2 0.6-1.2 0.6-0.6 0.6-2.6 0.6-0.5 0.6-0.7 0.6-2.3 0.6 0.1 0.6-0.4 0.6-3.4 0.6 0.2 0.6-0.5 0.6-2.1 0.6 0.8 0.6-0.6 0.6-2.7 0.6-0.3 0.6-1.9 0.6-0.5 0.6-0.2 0.6-1.8 0.6-0.4 0.6-1.6 0.6 0.9 0.6-1.3 0.6-2.6 0.6 0.2 0.6 1.2 0.6-4.1 0.6 0.8 0.6 0.4 0.6-3.7 0.6 0.1 0.6-4.1 0.6 2.9 0.6-1.5 0.6-0.9 0.6-1.5 0.6 0 0.6-0.6 0.6-1.3 0.6-1.7 0.6-0.8 0.6-0.4 0.6-1.3 0.6-1.2 0.6-1.2 0.6 0.5 0.6-1.8 0.6-0.1 0.6-1.8 0.6-0.9 0.6 0.2 0.6-0.5 0.6 1.7 0.6-3.1 0.6 0.4 0.6-1.3 0.6-1 0.6-1.3 0.6 0.3 0.6-0.9 0.6-2.6 0.6 1.4 0.6-1.7 0.6-2.2 0.6 0.1 0.6 0.9 0.6-0.4 0.6-1.6 0.6 0.5 0.6-1 0.6-3.3 0.6-0.4 0.6 1 0.6-1.9 0.6-0.4 0.6 0.6 0.6-0.9 0.6-1.2 0.6-1.3 0.6 3 0.6-4.3 0.6 0.2 0.6 1.1 0.6-1.9 0.6-1.5 0.6-0.7 0.6 1.8 0.6-1.1 0.6-3.2 0.6 0 0.6 1.5 0.6 0.6 0.6-2.7 0.6 1 0.6-3.3 0.6-0.6 0.6-0.2 0.6 1.4 0.6-0.9 0.6 0.2 0.6-3.2 0.6 3 0.6-2.7 0.6 2.6 0.6-2.9 0.6-2.5 0.6 1.6 0.6-1.2 0.6 2.2 0.6-2.1 0.6 0.5 0.6-2.7 0.6-0.5 0.6 0.4 0.6-0.4 0.6-1.7 0.6 1.2 0.6 0.3 0.6-2.1 0.6-0.5 0.6-0.3 0.6 0.6 0.6-1.2 0.6 0.4 0.6 0.3 0.6-1.8 0.6-0.3 0.6-0.3 0.6 1.3 0.6-2.2 0.6-0.2 0.6-0.9 0.6 0.9 0.6-0.7 0.6-1.8 0.6 1.8 0.6-0.9 0.6 0.4 0.6-1.1 0.6-1.2 0.6-1.2 0.6 1.7 0.6 0 0.6-2.6 0.6 0.6 0.6 0.1 0.6-1 0.6 0.3 0.6-1.1 0.6-0.5 0.6 1.6 0.6-3.3 0.6 2.1 0.6-1.7 0.6 0.7 0.6-1 0.6 0.6 0.6-0.9 0.6 0.5 0.6-2.1 0.6 0.1 0.6 0.8 0.6 0.3 0.6-1.7 0.6 2.6 0.6-2.7 0.6 1.1 0.6-3 0.6 0.6 0.6-0.2 0.6-0.3 0.6-0.7 0.6 1 0.6-0.7 0.6 2.3 0.6-2.1 0.6 0 0.6-2.5 0.6 3.5 0.6 0.1 0.6-2.9 0.6-0.1 0.6 0.1 0.6 2.2 0.6-3.2 0.6 0.3 0.6-0.8 0.6 1.8 0.6 0.3 0.6-2.1 0.6 2 0.6-1.2 0.6-1.2 0.6 1.4 0.6 0.7 0.6-0.1 0.6-0.9 0.6 0.7 0.6-1.6 0.6 0.3 0.6 1.5 0.6-2.2 0.6-0.6 0.6-0.6 0.6 0.5 0.6-1.4 0.6 0.8 0.6-0.4 0.6 1 0.6-1.3 0.6 1.1 0.6 0 0.6 0.7 0.6 0.1 0.6 0.5 0.6-2 0.6-1 0.6 2.2 0.6-0.2 0.6-0.9 0.6 1.2 0.6 1.1 0.6-1.7 0.6-1.1 0.6 0.4 0.6-1.4 0.6 3 0.6-3.5 0.6 0.2 0.6 2.2 0.6-1.1 0.6-1.2 0.6 2.2 0.6 0.1 0.6-2.8 0.6 2.2 0.6 0.5 0.6 1 0.6-1.4 0.6 0.1 0.6-0.8 0.6 0.6 0.6 0.9 0.6-1 0.6-1.5 0.6 0.7 0.6 2.1 0.6-3.2 0.6 0.6 0.6 0.1 0.6 2.1 0.6-2.4 0.6 0.5 0.6 0.4 0.6 0.6 0.6-0.1 0.6-1.6 0.6-0.1 0.6-0.2 0.6 2.8 0.6-1.5 0.6 0.6 0.2 0 0-0.6 0.6-0.2 0.6 0.9 0.6 3.2 0.6-2.3 0.6 0.9 0.6-1.7 0.6 3.9 0.6-2.6 0.6-1.9 0.6 1.2 0.6 1 0.6 0.8 0.6-1.4 0.6 1.2 0.6-0.4 0.6 0.1 0.6-0.7 0.6 1 0.6 0.8 0.6-1 0.6-0.1 0.6 3.5 0.6-2.2 0.6-0.1 0.6-2.1 0.6 2.7 0.6-2.9 0.6 2.9 0.6-0.6 0.6-0.9 0.6-0.1 0.6 0.9 0.6-0.4 0.6-1.3 0.6 3 0.6-2.8 0.6 1.5 0.6-0.3 0.6 2.3 0.6-3.2 0.6 2.7 0.6-0.3 0.6-3.3 0.6 1.5 0.6 0.8 0.6-0.3 0.6 1.4 0.6 0.4 0.6 0.4 0.6-1.8 0.6 1.4 0.6-0.8 0.6 0.8 0.6-0.6 0.6 0.2 0.6-0.3 0.6 1.1 0.6-0.1 0.6-1 0.6-1 0.6 3.4 0.6-0.5 0.6-0.9 0.6 1.3 0.6-1.3 0.6 0 0.6 0 0.6 1.9 0.6 0.7 0.6-2.1 0.6-0.3 0.6 1.6 0.6-0.2 0.6-0.1 0.6-2 0.6 1.9 0.6 0.2 0.6-0.4 0.6 0.8 0.6-0.6 0.6 0.4 0.6-0.5 0.6-0.3 0.6 2.1 0.6-1.6 0.6 0.9 0.6 0.3 0.6-1.9 0.6 0.8 0.6-0.8 0.6 0.9 0.6-0.9 0.6 2.2 0.6-0.8 0.6-1.1 0.6 1.7 0.6-1.5 0.6-0.3 0.6 2.1 0.6-0.3 0.6-0.6 0.6 1.5 0.6-0.4 0.6-0.4 0.6 1 0.6-0.7 0.6 1 0.6-0.7 0.6 0.2 0.6-3.2 0.6 2.6 0.6 2.5 0.6-2.4 0.6 0.5 0.6-0.1 0.6-1.4 0.6 2.4 0.6 1.2 0.6-0.2 0.6-2 0.6-0.7 0.6 0.5 0.6 1.2 0.6-0.8 0.6 1.3 0.6-0.2 0.6-1.5 0.6 0.1 0.6 2 0.6 0.2 0.6-0.9 0.6 1.5 0.6-1.4 0.6-0.2 0.6 0.3 0.6 0.6 0.6-2.7 0.6 2.3 0.6 0.2 0.6-0.9 0.6 0.1 0.6 2.2 0.6-1.5 0.6 0.2 0.6 1.3 0.6-2.2 0.6 4 0.6-3.2 0.6 0.2 0.6-0.9 0.6 0.9 0.6-0.3 0.6 0.6 0.6-0.6 0.6-1 0.6 3.9 0.6-0.5 0.6-0.2 0.6 0.1 0.6 0 0.6-1.2 0.6 3.7 0.6-3.5 0.6-0.5 0.6 3.4 0.6-2.5 0.6 0.5 0.6-1 0.6 0.7 0.6 0.8 0.6-0.1 0.6-1.5 0.6 2 0.6-1.4 0.6-0.8 0.6 2.5 0.6-0.4 0.6-0.5 0.6-0.6 0.6 1.7 0.6-1 0.6-0.4 0.6 1.5 0.6-0.3 0.6-1.5 0.6 2.5 0.6-2.9 0.6 1 0.6 1.4 0.6-0.3 0.6 1 0.6-0.3 0.6-2.9 0.6 3.8 0.6-1.7 0.6 0.8 0.6-0.8 0.6-0.3 0.6 1.8 0.6-0.2 0.6-0.5 0.6-0.7 0.6 2.2 0.6-1.1 0.6 0.3 0.6-0.2 0.6 0.2 0.6 1.1 0.6-0.1 0.6 0 0.6-1.1 0.6 0 0.6-1.3 0.6 1.1 0.6-0.2 0.6 0 0.6 1.1 0.6 0.1 0.6-0.8 0.6-0.9 0.6 1.4 0.6 0.3 0.6 0.3 0.6-1.2 0.6-0.4 0.6-0.6 0.6 1.9 0.6-0.2 0.6 1.2 0.6-1.8 0.6 3.2 0.6-1.5 0.6-0.1 0.6 0.5 0.6 0.6 0.6 0.1 0.6-2.6 0.6 1.3 0.6 1.2 0.6-0.1 0.6-0.4 0.6-1.1 0.6 1.5 0.6-0.7 0.6 0.4 0.6 1.4 0.6-1.3 0.6 0.5 0.6 1.2 0.6-0.4 0.6-2.4 0.6 0.2 0.6-0.6 0.6 3.1 0.6-1.2 0.6-0.3 0.6 0.6 0.6-1.2 0.6 1.8 0.6-1.4 0.6 2 0.6-0.5 0.6-0.3 0.6 0.7 0.6-1 0.6 0.3 0.6 1.3 0.6 0.5 0.6-1.2 0.6 1.2 0.6-3.1 0.6 1.9 0.6 0 0.6-0.2 0.6 1 0.6 1.3 0.6-1.3 0.6 0.6 0.6 0.3 0.6 0 0.6-1 0.6-0.8 0.6 1.9 0.6-0.3 0.6-1.2 0.6 2.1 0.6-2.5 0.6-0.2 0.6 1.2 0.6-1.3 0.6 1.4 0.6 0.4 0.6-0.5 0.6 0.7 0.6-1.2 0.6-1.3 0.6 3.2 0.6 0.1 0.6 0.1 0.6-1.2 0.6 1.2 0.6-0.9 0.6 1.6 0.6-2.5 0.6 1.7 0.6-0.7 0.6 1.1 0.6-0.4 0.6-1.6 0.6 1.3 0.6-0.6 0.6 1.7 0.6 0.3 0.6-2.1 0.6 1.6 0.6-1.3 0.6 0.6 0.6 0.7 0.6 1.2 0.6-0.5 0.6 0.3 0.6-1.1 0.6 0.5 0.6 0.7 0.6-0.4 0.6 0.1 0.6 0 0.6 1.3 0.6-0.2 0.6 0 0.6-1 0.6-0.8 0.6-0.3 0.6 1.4 0.6-1.1 0.6-0.9 0.6 1.7 0.6 2.8 0.6-2.2 0.6 0.2 0.6-0.1 0.6 0.2 0.6-1.6 0.6 1.6 0.6 0.5 0.6-0.5 0.6 0 0.6-0.1 0.6 0.8 0.6-1.6 0.6-0.7 0.6 1.5 0.6 0.4 0.6 0.9 0.6-1.4 0.6 0.9 0.6 0 0.6 0.8 0.6-1.2 0.6 1.1 0.6 0 0.6-0.9 0.6 0.3 0.6-0.2 0.6-0.2 0.6 0.2 0.6-0.4 0.6 1.8 0.6-0.2 0.6-0.4 0.6 0.3 0.6 0 0.6 1.5 0.6-0.7 0.6-1 0.6 0.9 0.6-2.3 0.6 1.3 0.6-0.1 0.6 1.2 0.6-0.7 0.6-0.1 0.6 0.2 0.6-0.7 0.6 0.2 0.6 0.5 0.6 1.3 0.6-0.1 0.6 0.5 0.6 0.8 0.6-0.8 0.6-2.6 0.6 1.2 0.6 2.3 0.6-1.2 0.6 0.4 0.6-0.1 0.6-1.5 0.6 1.8 0.6-0.5 0.6-0.9 0.6 1.4 0.6 1.5 0.6-1.7 0.6-1.3 0.6 1.3 0.6-0.7 0.6-1.5 0.6 1.9 0.6 1 0.6-1.5 0.6 0.9 0.6-0.1 0.6-0.3 0.6 0.2 0.6 0.2 0.6 0.4 0.6 0.3 0.6 0.6 0.6-1 0.6-0.1 0.6 1.2 0.6-1.1 0.6 3 0.6-2.4 0.6 2.2 0.6-1.6 0.6 0.1 0.6 0.6 0.6-0.4 0.6-0.5 0.6-0.3 0.6-0.6 0.6 0 0.6 1.8 0.6-3.3 0.6 4.2 0.6-0.7 0.6-1.2 0.6 2.2 0.6 0.2 0.6-0.5 0.6-3.6 0.6 0.5 0.6 2.6 0.6-1.8 0.6 1.4 0.6-0.5 0.6 0.9 0.6-0.6 0.6 0.5 0.6-1.5 0.6 1.5 0.6-0.8 0.6 2 0.6-1.5 0.6 1.1 0.6 0.2 0.6-0.5 0.6-0.6 0.6 0.9 0.6 0 0.6 0.9 0.6-1.6 0.6 0 0.6 1.8 0.6-0.3 0.6 1.1 0.6 0.2 0.6-3.2 0.6 2.2 0.6-0.4 0.6 0 0.6 0.9 0.6 0.8 0.6-2 0.6 0.2 0.6 0.8 0.6 0.3 0.6-0.6 0.6 1.1 0.6 0.8 0.6-1.9 0.6 1.9 0.6-2.2 0.6 1.9 0.6-2.2 0.6 0.2 0.6-0.5 0.6 1.2 0.6 0.4 0.6 0 0.6-0.2 0.6 0 0.6-0.2 0.6 0.1 0.6 0.6 0.6-0.5 0.6 0.7 0.6-1.1 0.6 0 0.6 2.2 0.6-1.4 0.6 1 0.6-1 0.6-0.6 0.6 0.3 0.6 0.4 0.6 2.2 0.6-2 0.6 0.9 0.6-0.6 0.6 0.3 0.6-1.3 0.6 2.3 0.6-0.7 0.6-0.6 0.6 1.5 0.6-2.2 0.6 1 0.6 1 0.6 1.1 0.6-2.1 0.6 2.3 0.6-0.6 0.6-2.1 0.6 1.7 0.6 0.8 0.6-2 0.6 2.7 0.6-3 0.6 3 0.6-0.2 0.6 0.5 0.6-0.9 0.6-0.5 0.6-1.9 0.6 3.5 0.6-1.2 0.6 0.4 0.6-1.2 0.6-1.5 0.6 2.9 0.6-1.1 0.6 0.8 0.6 0.7 0.6-1.9 0.6 1.6 0.6-1.2 0.6 0.2 0.6 1.4 0.6-2.1 0.6 1 0.6 0.3 0.6 1.3 0.6-1.2 0.6 0.8 0.6-1.6 0.6-0.2 0.6 1.5 0.6 1.8 0.6-1 0.6-1 0.6-0.3 0.6 2.1 0.6-0.8 0.6-2.1 0.6-0.4 0.6 4.1 0.6-1.7 0.6 0 0.6 0.5 0.6-0.4 0.6 0.1 0.6 0.1 0.6-1.8 0.6 1.5 0.6 0 0.6 1.6 0.6 0 0.6-1.3 0.6 0.3 0.6 0.3 0.6 1.8 0.6-1.1 0.6-1.6 0.6 2.2 0.6-2.4 0.6 2.3 0.6-1 0.6-1.2 0.6 0.9 0.6 0.2 0.6 1.2 0.6 0.3 0.6-3 0.6 1.2 0.6 1.6 0.6-0.4 0.6 0.2 0.6 0.2 0.6 0.5 0.6 0.7 0.6-1.7 0.6-1.9 0.6 2.7 0.6-1.2 0.6-0.9 0.6 1.9 0.6-0.8 0.6 0.7 0.6-2.1 0.6 2.4 0.6-0.6 0.6 0.3 0.6-0.8 0.6 0.2 0.6 1.8 0.6-0.2 0.6-0.9 0.6-0.8 0.6 1.7 0.6-1 0.6 1.5 0.6-1.6 0.6 0.9 0.6 0.3 0.6-0.7 0.6 1.1 0.6-1.6 0.6 2.8 0.6-1.5 0.6-0.1 0.6 0.1 0.6-0.4 0.6-0.4 0.6 0.7 0.6-0.8 0.6 0.4 0.6 0.7 0.6-0.3 0.6-0.5 0.6 1.8 0.6 1.5 0.6-2.5 0.6 1.5 0.6-1.6 0.6 0.5 0.6-0.7 0.6 0.5 0.6 0.1 0.6 0.8 0.6-0.3 0.6 2.5 0.6-3 0.6 1.5 0.6 0.3 0.6-2.5 0.6 0 0.6 2.8 0.6-2.1 0.6 0.8 0.6-2.3 0.6 1.6 0.6 0.7 0.6 1.5 0.6 1.1 0.6-2.5 0.6 2.2 0.6-1.5 0.6-0.1 0.6 0.1 0.6 0.1 0.6-1.2 0.6 1.7 0.6-0.9 0.6 1.4 0.6 2.4 0.6-3.9 0.6 2.8 0.6-2.7 0.3 0.8" stroke="#8b008b" stroke-width="1.6" fill="none"/>
<path d="M98.6 862.4l0.6 0.6 0.6-1.7 0.6 0 0.6 1.8 0.6-1.3 0.6 0 0.6 0 0.6-0.3 0.6-0.4 0.6 0.7 0.6-1.5 0.6 1.7 0.6 0.4 0.6-1.4 0.6-0.3 0.6 1.8 0.6-1.6 0.6-0.3 0.6 1.2 0.6-1.4 0.6-0.9 0.6 1.7 0.6-0.4 0.6-0.1 0.6-0.1 0.6 0.1 0.6 0.1 0.6-1.6 0.6 2.3 0.6-0.8 0.6 0.1 0.6 0 0.6 0.8 0.6-0.3 0.6 1.3 0.6-3.3 0.6 2.4 0.6 0.3 0.6-3 0.6 2.7 0.6-0.6 0.6-0.1 0.6 0 0.6 0.3 0.6-0.5 0.6-0.2 0.6 1.3 0.6-0.6 0.6 0.6 0.6 1.4 0.6-3.1 0.6 0.3 0.6 0.1 0.6 0.4 0.6 1.4 0.6-0.9 0.6 0.4 0.6 0.6 0.6-3 0.6 1.3 0.6-0.2 0.6 0.9 0.6-1.1 0.6 2.1 0.6-1.7 0.6-0.2 0.6 0 0.6-0.3 0.6 0.8 0.6-0.3 0.6 0.7 0.6-0.8 0.6 0.8 0.6-0.4 0.6 0.6 0.6-0.2 0.6-0.9 0.6 1.5 0.6-1.3 0.6-0.4 0.6 1.3 0.6-1.6 0.6 0.4 0.6-0.5 0.6 0.2 0.1 1.5 0 14.6 0-14.6 0.6-6.6 0.6-0.6 0.6-3.6 0.6-4.5 0.6-4.2 0.6-2.3 0.6-3.4 0.6-1.6 0.6-6 0.6-1.1 0.6-2.7 0.6-2.4 0.6-2.4 0.6-3.9 0.6-1.6 0.6-4.3 0.6-0.3 0.6-3.3 0.6-2.9 0.6-1.2 0.6-4.2 0.6-3.4 0.6-0.2 0.6-2.5 0.6-2.7 0.6-2.6 0.6-0.9 0.6-1.6 0.6-4.1 0.6-2.6 0.6 0 0.6-3.7 0.6 0.4 0.6-1.6 0.6-4 0.6 1 0.6-4.5 0.6-1.7 0.6-1.7 0.6-1 0.6-1.2 0.6-2.3 0.6-2.6 0.6-1.4 0.6-2.8 0.6-1 0.6-0.2 0.6-1.8 0.6-1.9 0.6-0.8 0.6-2.3 0.6-0.7 0.6-1.2 0.6-0.5 0.6-1.1 0.6-3.4 0.6-0.6 0.6-2.7 0.6 2.7 0.6-5.7 0.6 0.9 0.6-2.7 0.6 0.5 0.6-1.1 0.6-0.6 0.6-2.4 0.6 0.1 0.6-2.4 0.6-1.3 0.6-0.9 0.6-1 0.6 1.3 0.6-1.8 0.6-1.4 0.6-3.8 0.6 1 0.6 0 0.6-3.4 0.6 2.4 0.6-2.9 0.6 0.3 0.6-0.6 0.6-1.4 0.6-0.9 0.6-0.4 0.6-0.1 0.6-0.4 0.6-0.8 0.6-2.1 0.6-2.8 0.6 0.3 0.6-0.1 0.6 0.4 0.6-0.1 0.6-2.5 0.6-1.1 0.6 0 0.6-0.4 0.6-0.3 0.6-0.3 0.6-1.5 0.6-2.8 0.6 1.4 0.6-3 0.6 2.1 0.6 2.4 0.6-2.1 0.6-1.5 0.6 1 0.6-3.8 0.6 0.8 0.6-0.3 0.6-1.6 0.6-0.2 0.6 0.9 0.6-0.7 0.6-1.4 0.6-0.1 0.6 0.3 0.6-1.3 0.6-1 0.6 0.7 0.6-0.9 0.6-0.1 0.6-1.9 0.6 0.8 0.6-0.8 0.6-1.6 0.6 2.7 0.6-1.8 0.6-0.3 0.6 0.5 0.6 0.3 0.6-0.8 0.6-2.1 0.6 0.6 0.6-1.4 0.6-0.1 0.6 0.4 0.6 0.4 0.6-2.6 0.6 1.7 0.6-0.5 0.6-1.9 0.6 3.8 0.6-3.3 0.6 1 0.6-1.7 0.6 0.4 0.6 0 0.6-1.3 0.6-0.3 0.6 1 0.6-0.5 0.6 1.3 0.6-2.4 0.6-2.4 0.6 0 0.6 1.7 0.6-2 0.6-0.8 0.6 2.4 0.6-2.8 0.6-0.1 0.6 1.7 0.6 0.9 0.6-0.6 0.6-2.5 0.6 1.8 0.6-2.1 0.6 1.2 0.6-3.6 0.6 1.7 0.6 1.5 0.6-0.6 0.6 0.3 0.6-4.5 0.6 5.3 0.6-0.9 0.6 0.9 0.6-2.8 0.6 1.4 0.6-0.5 0.6-1 0.6 0.6 0.6-0.7 0.6 0.3 0.6-1.1 0.6 0.2 0.6-0.9 0.6 0.3 0.6 0.4 0.6 0 0.6-0.1 0.6 0.3 0.6-2 0.6 0 0.6-0.9 0.6 2.8 0.6 0.6 0.6-1.6 0.6 0 0.6-1.7 0.6 0.6 0.6 1.4 0.6-1.4 0.6-1.6 0.6 1.8 0.6-0.2 0.6 0.8 0.6 0.7 0.6-1.9 0.6 0.2 0.6 0.3 0.6-2.2 0.6 0.6 0.6-1.6 0.6 1.8 0.6 0.3 0.6-0.3 0.6 0.1 0.6-1.3 0.6-0.1 0.6 1.9 0.6-1 0.6-1.2 0.6 0.9 0.6-1.4 0.6-0.1 0.6 1.4 0.6-0.5 0.6 0.2 0.6 1.8 0.6-2.1 0.6-0.3 0.6 1.8 0.6-2.9 0.6 0.6 0.6-0.7 0.6 0.3 0.6 2.4 0.6-4.6 0.6 3.3 0.6-2.6 0.6-0.3 0.6 1.4 0.6 0.1 0.6-0.3 0.6-0.9 0.6 1.7 0.6-2.1 0.6 2 0.6 2.2 0.6-4.3 0.6 1.6 0.6-0.2 0.6-1.8 0.6 1.7 0.6 1 0.6-0.2 0.6-0.4 0.6-1.4 0.6 0.1 0.6-1 0.6 2.2 0.6-2 0.6-0.5 0.6 0.6 0.6 2.3 0.6-3.6 0.6 2.6 0.6-0.1 0.6-1.5 0.6 0.9 0.6-1.7 0.6 1.8 0.6 0.1 0.6-1.3 0.6 0.8 0.6-0.3 0.6 0.4 0.6 0.2 0.6 0.2 0.6-1.1 0.6 0.8 0.6 0.3 0.6 0.6 0.6-1.5 0.6-0.8 0.6-0.2 0.6 0.6 0.6-1.6 0.6 0.5 0.6 1.8 0.6 1.3 0.6-0.8 0.6-2.2 0.6 1.8 0.6-0.9 0.6-1.1 0.6 2 0.6-0.3 0.6-0.2 0.6-0.5 0.6 0.5 0.6-1.6 0.6-0.1 0.6-0.2 0.6 1.7 0.6-0.6 0.6 0.6 0.6-1.3 0.2-0.1 0-1.1 0.6 0.2 0.6-0.3 0.6 1.8 0.6-1 0.6-2.9 0.6 2.1 0.6 1.2 0.6-0.1 0.6-0.1 0.6-0.1 0.6 2.1 0.6-2.2 0.6 1.8 0.6 0.3 0.6 0.3 0.6 1.4 0.6-3.1 0.6 0.3 0.6 1 0.6 0.2 0.6 0 0.6-1.2 0.6 0.6 0.6 2.3 0.6-0.6 0.6 0.2 0.6 0.4 0.6 1 0.6-1.8 0.6 0.4 0.6-1.7 0.6 1.4 0.6 0.9 0.6 0.4 0.6-1.3 0.6-0.7 0.6 0.7 0.6-1.2 0.6 1.1 0.6 1 0.6 0.8 0.6 1 0.6-1.3 0.6-0.8 0.6 1.2 0.6-0.5 0.6 1.8 0.6 0.1 0.6-2.6 0.6 1.4 0.6 2.6 0.6-0.8 0.6-1.3 0.6-2.8 0.6 4.1 0.6-0.4 0.6-0.4 0.6 1.1 0.6-0.6 0.6 0.2 0.6-0.5 0.6 0.2 0.6 0.7 0.6-0.4 0.6-0.8 0.6 0.1 0.6 1.6 0.6-0.9 0.6 0 0.6 0.4 0.6 1.4 0.6-2.7 0.6-0.3 0.6 2.9 0.6-0.3 0.6 1.9 0.6-1.7 0.6-1.1 0.6 1.9 0.6 0.2 0.6 0.2 0.6 0.1 0.6 1.7 0.6-2.5 0.6 0.8 0.6-0.3 0.6-1.4 0.6 0.8 0.6 0.6 0.6 0.7 0.6-0.9 0.6 2.8 0.6-1.6 0.6-0.9 0.6 0.2 0.6 1 0.6-0.5 0.6-0.4 0.6-0.1 0.6 1.4 0.6 1.7 0.6-4.7 0.6 2.7 0.6 0.5 0.6-0.9 0.6 3.2 0.6-1.9 0.6-2 0.6 2.3 0.6-1.2 0.6 2.3 0.6-0.7 0.6 1.4 0.6-1.9 0.6 1.4 0.6 1.3 0.6-1.7 0.6-0.8 0.6 0.8 0.6 0.5 0.6-0.6 0.6 0.7 0.6 0.9 0.6-2 0.6-0.6 0.6 1.1 0.6-0.4 0.6 1.1 0.6 0.6 0.6-1.1 0.6 1.7 0.6-0.2 0.6-1.7 0.6 1.3 0.6-1.2 0.6 2.4 0.6-0.6 0.6 0.9 0.6 1.1 0.6-0.6 0.6-0.6 0.6 0.3 0.6-0.6 0.6 0.5 0.6 1.9 0.6-2.2 0.6 0.5 0.6 0.5 0.6 0.2 0.6 0.3 0.6-1.8 0.6 0.8 0.6 0.4 0.6 0.6 0.6 0.6 0.6 0.1 0.6-0.2 0.6-1 0.6 0 0.6 0 0.6 1.9 0.6 0.8 0.6-2.3 0.6-0.6 0.6 1 0.6 0.8 0.6-0.9 0.6 0.6 0.6 1 0.6 0 0.6-0.7 0.6-0.5 0.6 1.2 0.6 1.5 0.6-2.8 0.6 3.4 0.6-1.3 0.6 1.3 0.6-2.2 0.6 0 0.6-0.5 0.6 1.5 0.6 0 0.6-0.3 0.6 0.5 0.6 0.5 0.6-1 0.6 1.9 0.6-2.5 0.6 1.2 0.6 1 0.6-0.5 0.6 0.4 0.6-1.4 0.6 1.3 0.6 0.2 0.6-1.2 0.6 2.1 0.6-1.7 0.6 0.4 0.6-0.4 0.6 1.6 0.6-0.8 0.6 1.4 0.6 0.4 0.6-1 0.6 0.9 0.6 1.3 0.6-3.4 0.6-0.1 0.6 3.7 0.6-2.4 0.6 3.9 0.6-1.8 0.6-3.1 0.6 3.1 0.6-1 0.6 0.3 0.6 0.9 0.6-1.3 0.6 0.6 0.6 0.6 0.6-2 0.6 1.5 0.6 0.7 0.6-0.3 0.6 0.1 0.6 0.1 0.6-1.8 0.6 1.3 0.6-1 0.6 2.4 0.6 0.8 0.6-1 0.6-2.1 0.6 1.9 0.6 1.2 0.6-0.2 0.6 0.4 0.6 0.1 0.6-1.8 0.6 1.5 0.6 0 0.6-1.2 0.6 0.5 0.6 0.4 0.6 2.3 0.6-0.8 0.6-0.8 0.6 0.3 0.6-1.6 0.6 1.7 0.6 1.1 0.6-1.4 0.6 0.9 0.6 0.9 0.6-1.6 0.6-1.1 0.6 1.7 0.6-0.1 0.6 3.1 0.6-2.9 0.6-0.1 0.6 1.3 0.6-1.6 0.6 0.6 0.6 0.4 0.6 0.1 0.6 0.7 0.6-0.2 0.6-2.4 0.6 3.5 0.6-1.5 0.6 1 0.6-0.2 0.6 0.5 0.6 0.8 0.6-1.3 0.6 0 0.6 0.7 0.6-0.5 0.6 1.8 0.6-2 0.6-0.2 0.6 2.5 0.6-2.6 0.6 1.7 0.6-1.2 0.6 1.2 0.6 1.1 0.6-0.2 0.6-1.8 0.6 1 0.6 0.7 0.6-1 0.6 1.9 0.6-0.1 0.6 0.2 0.6-1.5 0.6 0.5 0.6-1.5 0.6 0.2 0.6 1.7 0.6-1.3 0.6 0.7 0.6-0.9 0.6 0.5 0.6-0.3 0.6 1.6 0.6-0.7 0.6 0.9 0.6 0.6 0.6-0.9 0.6 0.6 0.6 2.2 0.6-1.7 0.6 1 0.6 0.1 0.6-0.6 0.6-0.1 0.6-1.9 0.6 2.2 0.6-1.5 0.6-0.5 0.6 1.5 0.6 1 0.6-0.4 0.6 0.2 0.6 0.2 0.6-0.1 0.6-1.4 0.6 0.1 0.6 1.3 0.6 1.1 0.6-1 0.6-0.9 0.6 0.3 0.6 0 0.6 0 0.6-0.3 0.6 2.8 0.6-1.4 0.6-1.8 0.6 1.9 0.6 0.3 0.6 0.5 0.6-1.8 0.6-0.7 0.6 4.2 0.6-3.6 0.6-0.1 0.6 1.7 0.6 1 0.6-0.2 0.6-1.8 0.6 1 0.6-0.5 0.6 0.8 0.6-0.4 0.6 3.5 0.6-1.4 0.6-1.4 0.6 0 0.6 1.7 0.6-2.2 0.6 0.6 0.6-0.2 0.6 0.9 0.6 1.6 0.6-2.5 0.6-0.5 0.6 0.3 0.6 0.3 0.6-0.4 0.6 0.3 0.6 0.5 0.6 1.5 0.6-0.2 0.6-0.5 0.6 0.9 0.6-0.4 0.6 0 0.6-0.7 0.6 1.6 0.6-0.9 0.6-0.1 0.6-0.1 0.6 0.6 0.6 0 0.6-1 0.6 0.8 0.6-0.7 0.6-1.7 0.6 1.7 0.6 4 0.6-4.3 0.6 1.6 0.6 1 0.6-0.8 0.6 0.2 0.6-1 0.6 0.5 0.6 0 0.6-0.3 0.6 1.2 0.6 1 0.6 0.5 0.6 1.1 0.6-1.1 0.6 2.6 0.6-3.1 0.6-1.3 0.6-0.4 0.6 1.9 0.6 0.6 0.6 0.2 0.6-1 0.6 1.4 0.6-1.4 0.6-0.2 0.6 0.2 0.6 0.4 0.6 0.9 0.6-1.9 0.6 0.1 0.6 2.3 0.6-1.5 0.6 1.5 0.6-0.4 0.6-0.3 0.6 1 0.6-1.2 0.6 1.2 0.6 0.2 0.6 0.4 0.6-2.1 0.6 0.9 0.6 1.5 0.6-0.7 0.6 0.7 0.6 0.5 0.6-1.8 0.6 0.6 0.6 1.4 0.6-0.8 0.6-1.4 0.6 1.1 0.6 0 0.6-0.7 0.6 0.2 0.6 1.3 0.6 0 0.6-1.9 0.6 0.3 0.6 0.7 0.6 0.3 0.6-0.2 0.6-0.6 0.6 1.3 0.6-2.3 0.6 1.4 0.6 1.2 0.6-0.1 0.6-0.1 0.6 0.4 0.6-0.3 0.6-0.7 0.6 2.2 0.6-1.7 0.6 2.9 0.6-4.1 0.6 2.7 0.6-2.1 0.6-0.4 0.6 0.9 0.6-2.1 0.6 2.6 0.6 0.3 0.6-0.9 0.6 0.5 0.6 1.2 0.6-1 0.6 1.8 0.6-1.6 0.6 3 0.6-1.9 0.6-1.4 0.6 2 0.6-0.5 0.6-1.8 0.6 3.6 0.6-2.2 0.6 1.1 0.6 2.2 0.6-3.2 0.6-0.1 0.6 1.1 0.6-2.8 0.6 3.8 0.6-2.2 0.6 2.4 0.6-0.2 0.6-2.5 0.6-0.1 0.6 2.8 0.6-2.4 0.6 1.4 0.6 0.6 0.6 0.4 0.6-0.7 0.6-0.9 0.6 1.9 0.6-0.3 0.6 0.6 0.6-2.2 0.6 2.7 0.6-1 0.6-0.9 0.6 1.1 0.6-0.8 0.6-1.8 0.6 1.2 0.6 1.2 0.6 0 0.6 0 0.6-0.8 0.6-0.1 0.6 0.6 0.6 0.8 0.6-0.1 0.6 0.4 0.6-1.1 0.6 0.1 0.6-0.2 0.6 0.4 0.6-0.2 0.6 0.7 0.6-0.2 0.6 2.1 0.6-1.9 0.6-0.2 0.6 1.5 0.6 1.3 0.6-1.9 0.6-1.2 0.6 1.9 0.6-1.6 0.6 0.9 0.6-0.1 0.6-0.7 0.6 2.3 0.6-0.6 0.6-0.4 0.6 0.6 0.6-1.6 0.6 0.8 0.6 0.8 0.6 0.4 0.6-2.6 0.6 2.5 0.6-1.5 0.6-0.9 0.6 2.9 0.6 0.3 0.6-2 0.6 2 0.6-0.8 0.6 0.8 0.6 1.2 0.6-0.7 0.6-1 0.6-1.4 0.6 0.6 0.6 0.5 0.6 0 0.6 1.2 0.6 0.4 0.6 1.3 0.6-0.5 0.6-2.7 0.6 3.7 0.6-2.6 0.6-0.5 0.6-1.7 0.6 2 0.6 2.4 0.6-2.3 0.6 0.7 0.6 0.2 0.6 0.8 0.6-1.8 0.6 0 0.6 1.7 0.6 0.3 0.6-1.7 0.6 1.3 0.6 0.7 0.6-0.7 0.6-0.8 0.6 2.7 0.6-0.8 0.6-0.9 0.6-0.8 0.6-1.2 0.6 1 0.6 0.6 0.6-0.9 0.6 2.2 0.6-2.4 0.6 3.1 0.6-2 0.6-0.4 0.6 0.6 0.6 0.9 0.6 0.4 0.6-2 0.6 2 0.6-1.1 0.6-0.9 0.6 0.4 0.6 2.4 0.6-2.6 0.6 0.7 0.6 0.7 0.6 1.6 0.6-3.7 0.6 2.6 0.6 0 0.6-1.8 0.6 1.2 0.6 0.1 0.6 0.7 0.6-1 0.6-0.2 0.6 0.9 0.6 1.1 0.6-2.3 0.6 1.7 0.6-0.1 0.6 0.2 0.6 0.9 0.6-1.6 0.6-1 0.6 1.3 0.6-1 0.6 3.4 0.6-0.2 0.6-2.4 0.6 1.1 0.6-1.7 0.6 1.4 0.6-0.3 0.6 2.5 0.6-1.5 0.6-0.3 0.6 1.1 0.6-1.6 0.6 1.3 0.6-1.3 0.6 0.3 0.6 2.7 0.6-5 0.6 3.8 0.6-1.5 0.6 1.8 0.6-1.9 0.6 1.2 0.6-1.6 0.6 2.9 0.6-2.1 0.6-0.7 0.6-2.1 0.6 1.5 0.6 2.6 0.6-1.9 0.6 0.1 0.6 1.6 0.6-0.2 0.6 0.3 0.6-0.5 0.6 2.3 0.3-3.1" stroke="#32cd32" stroke-width="1.6" fill="none"/>
<path d="M98.6 860.6l0.6 0 0.6-0.1 0.6-0.3 0.6 1 0.6-0.2 0.6 1.4 0.6-3 0.6 1.6 0.6 0.1 0.6 0.4 0.6-0.3 0.6 1.7 0.6-2.4 0.6-0.6 0.6 1.6 0.6-1.1 0.6 0.5 0.6-0.2 0.6 1.7 0.6-2.3 0.6 2 0.6-0.7 0.6-0.3 0.6-0.1 0.6-1 0.6 0.9 0.6 0 0.6-0.3 0.6-0.5 0.6 0.6 0.6 0.3 0.6 0 0.6-1 0.6 1.2 0.6 0.7 0.6-1.1 0.6 1.2 0.6-1 0.6-0.5 0.6-0.4 0.6-0.2 0.6 0.4 0.6 0.4 0.6-0.8 0.6 0.7 0.6 1.6 0.6-2.8 0.6 1.8 0.6 0 0.6 0.2 0.6-0.1 0.6-0.3 0.6-0.2 0.6 0.1 0.6-0.6 0.6 0.2 0.6 0.6 0.6-0.1 0.6 0.2 0.6-0.6 0.6-0.4 0.6 2.6 0.6-1.2 0.6 0.2 0.6-0.5 0.6 0.4 0.6 0.1 0.6 0.3 0.6-1 0.6 0.3 0.6 0.3 0.6-1.8 0.6 1.2 0.6 0.4 0.6-1 0.6 0.3 0.6 1.3 0.6-0.5 0.6-0.5 0.6-0.3 0.6 0.6 0.6 2.5 0.6-2.6 0.6-0.9 0.6-0.4 0.1 2.3 0.6-57 0.6-7.7 0.6-3.6 0.6-6.3 0.6-7.8 0.6-5.4 0.6-4.1 0.6-5.8 0.6-4.5 0.6-4.2 0.6-6.6 0.6-3.8 0.6-6 0.6-2.4 0.6-3.7 0.6-8 0.6-2.2 0.6-2.2 0.6-5.6 0.6-1.9 0.6-2.9 0.6-3.9 0.6-2.8 0.6-3.9 0.6-1.9 0.6-4.4 0.6-3 0.6-3.3 0.6-3.5 0.6-1.1 0.6-2.3 0.6-2.7 0.6-3.2 0.6-1.9 0.6-0.8 0.6-3 0.6-1.1 0.6-3 0.6-2.7 0.6 0.8 0.6-5.2 0.6-2.6 0.6-0.6 0.6-0.8 0.6-1 0.6-1.9 0.6-2.4 0.6 0.5 0.6-2.4 0.6-1.5 0.6-2.3 0.6 1.1 0.6-1.9 0.6-3.5 0.6 1 0.6-2.1 0.6-1.7 0.6 0.6 0.6-2.8 0.6-0.1 0.6 0.4 0.6-2.1 0.6-2.7 0.6-0.2 0.6-0.2 0.6-1.9 0.6 0 0.6 0 0.6-2 0.6-1.4 0.6 0.8 0.6 0.6 0.6-2.3 0.6-0.1 0.6-0.5 0.6-0.7 0.6-2.1 0.6 1.1 0.6-0.4 0.6-1.9 0.6 0.6 0.6-1.7 0.6-0.9 0.6-0.1 0.6 1.4 0.6-0.6 0.6-1 0.6 1.2 0.6-2.9 0.6 1.5 0.6-1.6 0.6-2 0.6 2.7 0.6-1 0.6-2.1 0.6 0.5 0.6 0.5 0.6-1.3 0.6 0.9 0.6-2.7 0.6 3.6 0.6-2.5 0.6-0.8 0.6-0.1 0.6-0.2 0.6-1.1 0.6 0.4 0.6 1.1 0.6 0.6 0.6-2.2 0.6 1.4 0.6-1.1 0.6 2.4 0.6-1.8 0.6 0 0.6-0.6 0.6 0 0.6-0.8 0.6-0.7 0.6 2.2 0.6-0.5 0.6-0.5 0.6-2.5 0.6 0.8 0.6 0.8 0.6-0.6 0.6-1.8 0.6 1.8 0.6-1.4 0.6 0.2 0.6 1.6 0.6-3.9 0.6 4.3 0.6-2.3 0.6 0.3 0.6 0.3 0.6-0.4 0.6 0.2 0.6-0.6 0.6 1 0.6-1.4 0.6 1 0.6 0 0.6-0.3 0.6 1.4 0.6-1.5 0.6-0.4 0.6 2.7 0.6-0.7 0.6-0.8 0.6-0.8 0.6 1.9 0.6-1.3 0.6-0.5 0.6-0.1 0.6 0.9 0.6-1 0.6-0.9 0.6-1.6 0.6 2.9 0.6-0.9 0.6 1.1 0.6-0.5 0.6 0.7 0.6-0.5 0.6-0.1 0.6-0.3 0.6-1.9 0.6 0.4 0.6 3.8 0.6-3.2 0.6 0.3 0.6 2.9 0.6-1.8 0.6-2.3 0.6-0.7 0.6 0.7 0.6 1.3 0.6 1.1 0.6-0.6 0.6-0.8 0.6 1.5 0.6-2.1 0.6 1.1 0.6 1.7 0.6 1.6 0.6-3.4 0.6-0.5 0.6 1.4 0.6 0 0.6 0.7 0.6-0.1 0.6 1.1 0.6 0.3 0.6-1.3 0.6-1.8 0.6 0.7 0.6 0.6 0.6-0.5 0.6 1.5 0.6-0.7 0.6-0.5 0.6-0.2 0.6 1 0.6-1.7 0.6-0.4 0.6 0.8 0.6-0.5 0.6 0.5 0.6-1.8 0.6 2.5 0.6-0.6 0.6 1.4 0.6 0.3 0.6-0.4 0.6-2.3 0.6 1.9 0.6 0.2 0.6-1.5 0.6 1.6 0.6-1.3 0.6-0.8 0.6 2.1 0.6-0.7 0.6 2.6 0.6-1.9 0.6-0.7 0.6 0.6 0.6-0.2 0.6 0.1 0.6-0.8 0.6 0.2 0.6 2.6 0.6-2.3 0.6 2.4 0.6-2.6 0.6 1.6 0.6-1 0.6 1.5 0.6-1.4 0.6 0.2 0.6-0.6 0.6 0.9 0.6 0.4 0.6 0.3 0.6-1.4 0.6 0.3 0.6 0 0.6-1.8 0.6 2.4 0.6-1.3 0.6 1.3 0.6-0.6 0.6 0 0.6 0.5 0.6-1 0.6 1.4 0.6 1.5 0.6 0.1 0.6 0.4 0.6-0.7 0.6-0.8 0.6 1.6 0.6-2.1 0.6 0.9 0.6-0.4 0.6-0.3 0.6-1.1 0.6 1.4 0.6 1.6 0.6-1.5 0.6-0.7 0.6 0.7 0.6-0.6 0.6 0.4 0.6-0.7 0.6 1.6 0.6-1.1 0.6 0.2 0.6 0.1 0.6-1.8 0.6 3.1 0.6 0.2 0.6-2.4 0.6 3.5 0.6-2.4 0.6-0.4 0.6 1 0.6 0.2 0.6-1.1 0.6 1.2 0.6-1.8 0.6 2 0.6-1.3 0.6-0.7 0.6 1.4 0.6-1.2 0.6 2.3 0.6 0.8 0.6-2.8 0.6 0.9 0.6-0.7 0.6 0.1 0.6 0.2 0.6 0.6 0.6-1.5 0.6 2.3 0.6 1.5 0.6-3.2 0.6 1 0.6-0.5 0.6-1.8 0.2 0.5 0 3.4 0.6-0.8 0.6 2.4 0.6-0.9 0.6 1.6 0.6 1.1 0.6-1 0.6 2.8 0.6 0.6 0.6-0.9 0.6 1.2 0.6-0.5 0.6 3.6 0.6-1.9 0.6 1.7 0.6-0.1 0.6 0.8 0.6 2 0.6 0 0.6 1.7 0.6-0.4 0.6 1.8 0.6-1.6 0.6 0.7 0.6-2.1 0.6 5.3 0.6 0.4 0.6-1.8 0.6 1 0.6 1.4 0.6-0.4 0.6 3 0.6 1.1 0.6-0.9 0.6 0.5 0.6 0.1 0.6-0.7 0.6 0.2 0.6 1.1 0.6 1.1 0.6 1.7 0.6-1.5 0.6 1.7 0.6 2.1 0.6 0.4 0.6-0.4 0.6 0.6 0.6-3.1 0.6 2.6 0.6 1.2 0.6 0.3 0.6 1.1 0.6 0.6 0.6 0 0.6-1.4 0.6 1 0.6-0.1 0.6 2.4 0.6-0.2 0.6 1.3 0.6-0.8 0.6-1 0.6 1.4 0.6-0.9 0.6-0.1 0.6 0.1 0.6 2.9 0.6-0.8 0.6-0.4 0.6 1 0.6 1.1 0.6 0.1 0.6 0.1 0.6 0 0.6 1.7 0.6-1.1 0.6 2.7 0.6-2.6 0.6-1.6 0.6 2 0.6 1.9 0.6-0.2 0.6 0.8 0.6 0.4 0.6 1.4 0.6-2.1 0.6 2.2 0.6-0.6 0.6-0.2 0.6 2.1 0.6 0.2 0.6-3 0.6 2.8 0.6 0.1 0.6-2 0.6 0.7 0.6 0.7 0.6 0.2 0.6 1.4 0.6 0.6 0.6-2.3 0.6-1.2 0.6 2.3 0.6 1.4 0.6 0 0.6 1.3 0.6 0.2 0.6 0.3 0.6-2.3 0.6 3.1 0.6-2.2 0.6 2.8 0.6-0.6 0.6 0.1 0.6 0.3 0.6 0.2 0.6-0.6 0.6-1.1 0.6 2.4 0.6-0.4 0.6 0.1 0.6-0.7 0.6 1.5 0.6-1.4 0.6-0.4 0.6 2.6 0.6-1.2 0.6-0.3 0.6 0.2 0.6 2.1 0.6-1.2 0.6-0.8 0.6-0.3 0.6 0.4 0.6 0.8 0.6-1.3 0.6 1.5 0.6 0.2 0.6-0.6 0.6 1 0.6-0.2 0.6 1.1 0.6 1.6 0.6 0.4 0.6-2.9 0.6 1 0.6 0.8 0.6-0.8 0.6-1.1 0.6 1 0.6-0.1 0.6 0 0.6 1.3 0.6-0.2 0.6-0.5 0.6 2.5 0.6-1.7 0.6 2.3 0.6-1.7 0.6 0.6 0.6-0.4 0.6 0.1 0.6-0.8 0.6-0.4 0.6 0.4 0.6 1.8 0.6 0.3 0.6 0.2 0.6-1.9 0.6 3.1 0.6-1 0.6-1.3 0.6 0.8 0.6 0 0.6 0.4 0.6-2.1 0.6 0.6 0.6 2.4 0.6 0.3 0.6-1.4 0.6 1 0.6 1.1 0.6-0.9 0.6-0.5 0.6-1.3 0.6 0.8 0.6 1.8 0.6-0.2 0.6 0.6 0.6-1.4 0.6-1.3 0.6 2 0.6 0.3 0.6 0.2 0.6 1.8 0.6-0.1 0.6-0.9 0.6-0.2 0.6 0.6 0.6-0.4 0.6 1.5 0.6-2.7 0.6 2.5 0.6-0.5 0.6-0.6 0.6-1.2 0.6 2 0.6-1.4 0.6 0.1 0.6 1.2 0.6-0.1 0.6 0.3 0.6-0.5 0.6 0.7 0.6 1.8 0.6-1.6 0.6-0.8 0.6 0.1 0.6 0.2 0.6 2.4 0.6-1.1 0.6 1 0.6-0.8 0.6 1.3 0.6-3.4 0.6 0.6 0.6 2 0.6 0.3 0.6-1.4 0.6 0.9 0.6-0.1 0.6 1.2 0.6-1.4 0.6-0.4 0.6 0.5 0.6-0.1 0.6 1.1 0.6 0 0.6 1 0.6-1.3 0.6 0.3 0.6-0.5 0.6 3.1 0.6-2.8 0.6 1.4 0.6-0.2 0.6-1.7 0.6 2 0.6-0.3 0.6-1 0.6-0.6 0.6 1.4 0.6 0 0.6-0.5 0.6 0.3 0.6 1.4 0.6-1.2 0.6-0.1 0.6 1.4 0.6 1.1 0.6-2.4 0.6-0.2 0.6 2.5 0.6-3.4 0.6 1.9 0.6 1.7 0.6-1.3 0.6-0.3 0.6 0.9 0.6 0.7 0.6-1.3 0.6 0.8 0.6-0.4 0.6 1 0.6-0.2 0.6-0.9 0.6 0.5 0.6 0.5 0.6 1.1 0.6-1.1 0.6-0.8 0.6 1 0.6 1.9 0.6-0.8 0.6 0.2 0.6-2.6 0.6 3.6 0.6-1.3 0.6-0.1 0.6-0.3 0.6 0.5 0.6-2.4 0.6 3 0.6-2.2 0.6 3.4 0.6-1.5 0.6-1 0.6-0.4 0.6 0.8 0.6 1.9 0.6-1.4 0.6 0.1 0.6-0.8 0.6 2.5 0.6-1.9 0.6-0.4 0.6 1.4 0.6-0.8 0.6 0.3 0.6-1.2 0.6 0 0.6 2.1 0.6-1.5 0.6 1.4 0.6 0 0.6 0.6 0.6 0 0.6 0.7 0.6-1.1 0.6-0.2 0.6 1.3 0.6-2 0.6 0.2 0.6-0.4 0.6 0.6 0.6 2.1 0.6 0.3 0.6-1.9 0.6-0.8 0.6 0.7 0.6 1 0.6 1.4 0.6-1.9 0.6 1.3 0.6-0.1 0.6-2 0.6 2.8 0.6 0.4 0.6-0.7 0.6-0.6 0.6 1.3 0.6-0.6 0.6-0.5 0.6 0.5 0.6 1.2 0.6-2.4 0.6 0.9 0.6 0.1 0.6 0.9 0.6-0.2 0.6-0.5 0.6 0.6 0.6-0.5 0.6 1.5 0.6 0 0.6-1.2 0.6 0.3 0.6-0.5 0.6-0.4 0.6 1.3 0.6 0.6 0.6-2.6 0.6 1.1 0.6 1.9 0.6 0.4 0.6-2.3 0.6-0.3 0.6-0.3 0.6 2.7 0.6-0.8 0.6-0.2 0.6-0.6 0.6 1.8 0.6-1 0.6 2.1 0.6-1.6 0.6 1.1 0.6-0.3 0.6-0.6 0.6-0.6 0.6 2.2 0.6-0.4 0.6-2.4 0.6 2.9 0.6-3 0.6 2.1 0.6 0.2 0.6-0.7 0.6-1 0.6 0.1 0.6 2 0.6-1.5 0.6 0.9 0.6 0.3 0.6-0.6 0.6-0.3 0.6-0.1 0.6 1.1 0.6 1.6 0.6-1.3 0.6 0 0.6 2.2 0.6-0.3 0.6-0.5 0.6-0.3 0.6 0.2 0.6 0.3 0.6-0.7 0.6 0.7 0.6-0.6 0.6 0.7 0.6-2.3 0.6 0.4 0.6 2.6 0.6-0.2 0.6-2.1 0.6-0.1 0.6 2.4 0.6-1.2 0.6 0.4 0.6 1.3 0.6-0.7 0.6-0.5 0.6 1.4 0.6-2.8 0.6 1 0.6 3.9 0.6-2.4 0.6 0.8 0.6-2.7 0.6 3.1 0.6-3.4 0.6 2.1 0.6-0.1 0.6-0.9 0.6 1.3 0.6-3.6 0.6 3.9 0.6-0.7 0.6-0.6 0.6-0.7 0.6 0.3 0.6 0.4 0.6 0.1 0.6 0.9 0.6-1.6 0.6 0.8 0.6-1 0.6 4.1 0.6-1.5 0.6-3 0.6 3.4 0.6 2.1 0.6-2.3 0.6 0.3 0.6 0.2 0.6 1.4 0.6 0.4 0.6-2 0.6-2.1 0.6 1.9 0.6-1.4 0.6 0.3 0.6 2.5 0.6-1.4 0.6-0.2 0.6 1 0.6 0.3 0.6-1.4 0.6 2.7 0.6-2.5 0.6 1.6 0.6-0.7 0.6 0.1 0.6-0.2 0.6 1.6 0.6 0 0.6-1.2 0.6 1.3 0.6-2.6 0.6 2 0.6-1.9 0.6-1.2 0.6 1.3 0.6 2.7 0.6-1 0.6 0.4 0.6-1 0.6 0.2 0.6-0.5 0.6 1.3 0.6 0.3 0.6 0 0.6 0 0.6-0.1 0.6 0.2 0.6 0.8 0.6-1.6 0.6 1.6 0.6 0.6 0.6-2.4 0.6 0.6 0.6 0.6 0.6-0.7 0.6 0.7 0.6 0 0.6 2.3 0.6-1.4 0.6 1.2 0.6-1.8 0.6 0.3 0.6-0.1 0.6 0 0.6 3.1 0.6-1.1 0.6-1.3 0.6-2.1 0.6 1.8 0.6 1.4 0.6-0.7 0.6-0.6 0.6 1.2 0.6-0.6 0.6-0.9 0.6 1 0.6 0.9 0.6 0.1 0.6-0.7 0.6-0.2 0.6 0.5 0.6 0.6 0.6-0.1 0.6 0.9 0.6-1.5 0.6 0.4 0.6-0.1 0.6 0.7 0.6-1.7 0.6 2.5 0.6-1.5 0.6 1.8 0.6 0.2 0.6-2.7 0.6 1.9 0.6 0.4 0.6-0.4 0.6 0.5 0.6-1.5 0.6 1.8 0.6-0.7 0.6-0.7 0.6-2 0.6 3.7 0.6-2.2 0.6 3 0.6-0.2 0.6-2.6 0.6-0.3 0.6 2 0.6 1 0.6-0.9 0.6 0.3 0.6-0.1 0.6 1.7 0.6-1.2 0.6-1.8 0.6 2.5 0.6-0.1 0.6-1 0.6-0.2 0.6 1.7 0.6-0.6 0.6-0.9 0.6 1.5 0.6-1.4 0.6 0.3 0.6-1.7 0.6 1.4 0.6 3.2 0.6-4.4 0.6 0.2 0.6 2.6 0.6-1.7 0.6 1.9 0.6 0.9 0.6-1.8 0.6-0.4 0.6 1.7 0.6-0.4 0.6 1.1 0.6-1.9 0.6 0.7 0.6-1.1 0.6-0.4 0.6 0.1 0.6 0.2 0.6 2.8 0.6-0.5 0.6-0.9 0.6-0.1 0.6 0.1 0.6 1.4 0.6-1.3 0.6-1.5 0.6 1.7 0.6-1.8 0.6 1.5 0.6-0.4 0.6-1.1 0.6-0.1 0.6 1.9 0.6 0.7 0.6 0.1 0.6-1 0.6 0.2 0.6 1.2 0.6 0.8 0.6 0 0.6-1.1 0.6-1 0.6 1.6 0.6-0.2 0.6-0.9 0.6-0.4 0.6 0.5 0.6 1.9 0.6 0.4 0.6-1.6 0.6 0.7 0.6 1.6 0.6-3 0.6 1 0.6 0.4 0.6 0.6 0.6-2 0.6 2.2 0.6-1.9 0.6 2.5 0.6-1.1 0.6-0.3 0.6 1.4 0.6-0.7 0.6-1.1 0.6 2.1 0.6-1.4 0.6 0.7 0.6 1.2 0.6-2.7 0.6 2.1 0.6 0.5 0.6 1.6 0.6-4.2 0.6 2.7 0.6 1.5 0.6-1.9 0.6-0.5 0.6-0.1 0.6-1.4 0.6 3.5 0.6-2.6 0.6-0.5 0.6 2.5 0.6 0.5 0.6-0.3 0.6 0.1 0.6-1.8 0.6 1 0.6-0.2 0.6-0.5 0.6 1.3 0.6-1.3 0.6 0.9 0.6 1.8 0.6-1.7 0.6 0.1 0.6 0.9 0.6-2.1 0.6 1.6 0.6 1 0.6-0.6 0.6-1.4 0.6 1.8 0.3-1.2" stroke="#9b30ff" stroke-width="1.6" fill="none"/>
<path d="M98.6 861.7l0.6-0.8 0.6-0.6 0.6 0.5 0.6-1.3 0.6 2.7 0.6-0.4 0.6-0.7 0.6 0.6 0.6-0.8 0.6-0.1 0.6 0.1 0.6-0.4 0.6 0.7 0.6-1.3 0.6 1.4 0.6-1 0.6 0.9 0.6 0.8 0.6 0.5 0.6-2.4 0.6 1.6 0.6 0.7 0.6-1.1 0.6 1 0.6-1.6 0.6 0.5 0.6 1.7 0.6-1.1 0.6 0 0.6-0.8 0.6 0 0.6 0.9 0.6-0.6 0.6 1.2 0.6-2 0.6-0.1 0.6 0.9 0.6-1.5 0.6 1.6 0.6 0.7 0.6 0.3 0.6-2.3 0.6 0.7 0.6 0.9 0.6-0.9 0.6 0.7 0.6-1.6 0.6 1.1 0.6 0.6 0.6-1 0.6 0.8 0.6-0.1 0.6-0.2 0.6-0.6 0.6 0.6 0.6 0.4 0.6-0.5 0.6 0.6 0.6-0.1 0.6-1.3 0.6 0.9 0.6 0.8 0.6-0.3 0.6-0.8 0.6-0.8 0.6 1.2 0.6 0.1 0.6 0.7 0.6-1 0.6 0.1 0.6 0.1 0.6 0.7 0.6-0.3 0.6 0.7 0.6-1.8 0.6 1.3 0.6-0.5 0.6 1 0.6-1.4 0.6 0.8 0.6-0.1 0.6-1.4 0.6 0.8 0.6-0.2 0.6-0.2 0.1-0.2 0.6-42.4 0.6-12.8 0.6-12.3 0.6-11.3 0.6-11.1 0.6-9.5 0.6-10.4 0.6-9.2 0.6-7.1 0.6-8.2 0.6-7.6 0.6-7.4 0.6-8.7 0.6-6.7 0.6-5.9 0.6-3.1 0.6-6.9 0.6-7.1 0.6-2.9 0.6-4.9 0.6-5.9 0.6-3.2 0.6-4.5 0.6-4.2 0.6-3.3 0.6-2.7 0.6-3.8 0.6-5.6 0.6-1.8 0.6-0.9 0.6-1.7 0.6-5.9 0.6-0.2 0.6-4.9 0.6 0.7 0.6-3.7 0.6-0.5 0.6-2.4 0.6-2.9 0.6-1.9 0.6-1.9 0.6-2.2 0.6-2.7 0.6 0.8 0.6-0.1 0.6-1.7 0.6-0.1 0.6-2.1 0.6 0.1 0.6-1 0.6-1.7 0.6-1.8 0.6-1.4 0.6 1.9 0.6-1.5 0.6-2.6 0.6 0.6 0.6-0.1 0.6 1.4 0.6-0.9 0.6-1.6 0.6 0.3 0.6-2.8 0.6 0.3 0.6-0.4 0.6-1.5 0.6 2.3 0.6-1.9 0.6 1.5 0.6-3.1 0.6 2.4 0.6-0.4 0.6-1.9 0.6 1.2 0.6-0.3 0.6 0.1 0.6-1.3 0.6-0.8 0.6-0.2 0.6 0.9 0.6-0.8 0.6 0.6 0.6-2.6 0.6 1.9 0.6-1.4 0.6 1.8 0.6 1 0.6-1.1 0.6-0.7 0.6 1.1 0.6-2.9 0.6 1.5 0.6 1.8 0.6-1.6 0.6-1.4 0.6 0.9 0.6 1.6 0.6-0.1 0.6-0.3 0.6 0.7 0.6-1.1 0.6 0.2 0.6 0.9 0.6-2.9 0.6 4.6 0.6-2.2 0.6 1.7 0.6-2.2 0.6 1.3 0.6-0.7 0.6-0.1 0.6-0.1 0.6-0.4 0.6 1.8 0.6-0.7 0.6 0.9 0.6-3.2 0.6-0.3 0.6 2.3 0.6 1.4 0.6-2.9 0.6 0.1 0.6 0.1 0.6 0.8 0.6 1.1 0.6-1.2 0.6 0.6 0.6-1.9 0.6-0.3 0.6 2.3 0.6 0.2 0.6-1 0.6 1 0.6 0.1 0.6 0.3 0.6-1.3 0.6 0.4 0.6 1.8 0.6-2.5 0.6 0.8 0.6 0.1 0.6 1.5 0.6-1.5 0.6-0.4 0.6 0.6 0.6-0.8 0.6 1.8 0.6 1.7 0.6-1.1 0.6-0.2 0.6 0 0.6-0.8 0.6-1.4 0.6 0.7 0.6 2.1 0.6-2.3 0.6 3.3 0.6-2.5 0.6 0.7 0.6-0.5 0.6-0.5 0.6 1 0.6 0.3 0.6 0.1 0.6 0.7 0.6 0 0.6 1 0.6-1.6 0.6-0.6 0.6 0.4 0.6 0.6 0.6 1.4 0.6-0.9 0.6-0.4 0.6 0.6 0.6-1.3 0.6 0.7 0.6-0.2 0.6-0.4 0.6 1.8 0.6-1.5 0.6 0.7 0.6-0.5 0.6 1.5 0.6-1.3 0.6 3.3 0.6-3.2 0.6 1.9 0.6-0.3 0.6 0.3 0.6-0.5 0.6-1.2 0.6 3.3 0.6-2 0.6-1.1 0.6 2.3 0.6-1.3 0.6-0.6 0.6 1.6 0.6-0.5 0.6 0.5 0.6-0.8 0.6 1.2 0.6-0.7 0.6-0.7 0.6 0.5 0.6 1.4 0.6-0.9 0.6-0.5 0.6 0.8 0.6 0.5 0.6 0 0.6-1.7 0.6 0.2 0.6 1 0.6 1.1 0.6-0.7 0.6 1.3 0.6 0.2 0.6-0.6 0.6-0.6 0.6-0.3 0.6-0.5 0.6 1.2 0.6-1.4 0.6 2 0.6-2.6 0.6 3.1 0.6-1.4 0.6-0.5 0.6 1 0.6 0.2 0.6-0.2 0.6-1.4 0.6-1.4 0.6 3.8 0.6-0.9 0.6 0.8 0.6-3 0.6 2.2 0.6-0.5 0.6 1.4 0.6 0.9 0.6-2.1 0.6 1.8 0.6 0 0.6-2.6 0.6 1.7 0.6 0.2 0.6-0.4 0.6 0.8 0.6 0.8 0.6-0.3 0.6 0.6 0.6-0.3 0.6-0.7 0.6-0.4 0.6-0.5 0.6-0.7 0.6 1.5 0.6 1 0.6-0.6 0.6 0 0.6 1.1 0.6-0.1 0.6-1 0.6 0.3 0.6-1.2 0.6 2.7 0.6-1 0.6-2.6 0.6 2.7 0.6-0.1 0.6 1 0.6-0.8 0.6 0.6 0.6-0.9 0.6 1.5 0.6-1.8 0.6 0.9 0.6 0.4 0.6-0.5 0.6 1.2 0.6-0.5 0.6 0 0.6 0 0.6 0.3 0.6 0.1 0.6-1.6 0.6 1.1 0.6-0.2 0.6 0.2 0.6 0.5 0.6 0 0.6-1.1 0.6 1 0.6 1.4 0.6-0.1 0.6-2.5 0.6 1.2 0.6 1.1 0.6-1.8 0.6 1.4 0.6 1.5 0.6-0.9 0.6-1.3 0.6 1.4 0.6-2.1 0.6 1.8 0.6-2.2 0.6 1.5 0.6-1.4 0.2 1.2 0-1.2 0.6 2.4 0.6 0.1 0.6 2.4 0.6 0.3 0.6-0.5 0.6 1.5 0.6-0.7 0.6 1.7 0.6 0.2 0.6 0.1 0.6 2.6 0.6-1 0.6 2 0.6 0.2 0.6 2 0.6 0.2 0.6-1.3 0.6 2.2 0.6 3 0.6-1.2 0.6 1.1 0.6 0 0.6 1.8 0.6-1.6 0.6 0.5 0.6 0.7 0.6-0.2 0.6 0.9 0.6 2.6 0.6-1.2 0.6 0.7 0.6 2.8 0.6-0.2 0.6-0.2 0.6 0.3 0.6 1.1 0.6 0.6 0.6 1.6 0.6-0.4 0.6-0.7 0.6 1.2 0.6-0.6 0.6 1.3 0.6 2.8 0.6-2.5 0.6 1.3 0.6 1.6 0.6 0 0.6 0.1 0.6 0.1 0.6 0.3 0.6 1.9 0.6-0.5 0.6 0.9 0.6 0.8 0.6-1.6 0.6 0.3 0.6 2.7 0.6 0.8 0.6-0.5 0.6 1.3 0.6-2.1 0.6 1.6 0.6 0.3 0.6 0.4 0.6 1.5 0.6-2.8 0.6 2.5 0.6 2 0.6-1.2 0.6-0.5 0.6 1.9 0.6-1.2 0.6 2.3 0.6-1.3 0.6 2.4 0.6-0.5 0.6-1.1 0.6 1.7 0.6 0.4 0.6 1 0.6-1.8 0.6 2.5 0.6-1.8 0.6-0.5 0.6 2 0.6-0.2 0.6 1.2 0.6 1.9 0.6-1.6 0.6 2.2 0.6 0.6 0.6 0.3 0.6-1.5 0.6 1.6 0.6 0.1 0.6 0.2 0.6-1 0.6 1.6 0.6 0 0.6-0.5 0.6-0.9 0.6 1.7 0.6 0.1 0.6-1.6 0.6 0.6 0.6 2.7 0.6-1.2 0.6 1.4 0.6-0.9 0.6-0.7 0.6 0.9 0.6-1.3 0.6 2.8 0.6-1.8 0.6 3.8 0.6-2.8 0.6 1.2 0.6-0.7 0.6-0.2 0.6 1.8 0.6-0.4 0.6 3.3 0.6-2.5 0.6-2.1 0.6 2.5 0.6-0.5 0.6 0.7 0.6-0.1 0.6 0.2 0.6-0.3 0.6 2.2 0.6-0.3 0.6 0.2 0.6-0.1 0.6 2.1 0.6-2.4 0.6 0.6 0.6 2.4 0.6-1.1 0.6-0.8 0.6-0.1 0.6 0.7 0.6 0.3 0.6 0.2 0.6 1.8 0.6-2.5 0.6 1.7 0.6 0.6 0.6 0.2 0.6-0.6 0.6-0.4 0.6 1.3 0.6 0.6 0.6-0.5 0.6-0.2 0.6 1.9 0.6-1.4 0.6 0.2 0.6 1.7 0.6-1.2 0.6 0.4 0.6-0.3 0.6 1.8 0.6-1.4 0.6 1.6 0.6-0.5 0.6-0.7 0.6 1.4 0.6-1.3 0.6 2.7 0.6-2.5 0.6 1.3 0.6 0.6 0.6-0.8 0.6 1.1 0.6 0.3 0.6-2.6 0.6 1.1 0.6 1.3 0.6-0.4 0.6-0.3 0.6 1.1 0.6-1.2 0.6 0.3 0.6 2.1 0.6-0.7 0.6 1.1 0.6-3.4 0.6 1.2 0.6 0 0.6 1.8 0.6 1.4 0.6-2.9 0.6 1.4 0.6 1.7 0.6-2.6 0.6 3.7 0.6-3.3 0.6 0.4 0.6-1.1 0.6 2.6 0.6-2.4 0.6 2 0.6 0.2 0.6-0.4 0.6 0.4 0.6 0 0.6 1 0.6-1 0.6 0 0.6-0.3 0.6 2.6 0.6 0.4 0.6-0.7 0.6-2.1 0.6 1.9 0.6 0.7 0.6 0.5 0.6-0.9 0.6-0.7 0.6 2.9 0.6-2.2 0.6-0.5 0.6 1.2 0.6 0.9 0.6-1.2 0.6 1 0.6-0.4 0.6-0.3 0.6 0 0.6 0.6 0.6-3 0.6 3.2 0.6-1.2 0.6 0.3 0.6 1.5 0.6-0.7 0.6 0 0.6 0.5 0.6-1.8 0.6 0.5 0.6 3.1 0.6-2.2 0.6 0.8 0.6 1.1 0.6-0.7 0.6 0.3 0.6-1.8 0.6 0.8 0.6 1.6 0.6 0.3 0.6 0.9 0.6-0.5 0.6-1 0.6 0.5 0.6-0.9 0.6 1.5 0.6-1.1 0.6 1.2 0.6 0.2 0.6 1.2 0.6-2.3 0.6 0.9 0.6-1.1 0.6 2.5 0.6-1.3 0.6-0.3 0.6-0.2 0.6 0.4 0.6 0.4 0.6 0.3 0.6 1.9 0.6-1.6 0.6 0.4 0.6-1.8 0.6 1.5 0.6 2.7 0.6-0.2 0.6-3.9 0.6 3.9 0.6-1.8 0.6-1 0.6 2 0.6 0.2 0.6 0.1 0.6-0.1 0.6 1.2 0.6-1.5 0.6 0.7 0.6 2 0.6-2.4 0.6-1.5 0.6 3.2 0.6-1.3 0.6-1.2 0.6 3 0.6-0.5 0.6-1.2 0.6 0.2 0.6-2 0.6 2.1 0.6-2.2 0.6 1 0.6 3.2 0.6-1.2 0.6-2 0.6 1.1 0.6 1.6 0.6-1.1 0.6 0.3 0.6 0 0.6-0.8 0.6 2.7 0.6-2.9 0.6 1.7 0.6-1.1 0.6 1.3 0.6 0.2 0.6-0.2 0.6 0.5 0.6 0.6 0.6-2.6 0.6 2.2 0.6 1.5 0.6 0.3 0.6-0.6 0.6-2.1 0.6 0.6 0.6 1.5 0.6 0.5 0.6-1.7 0.6 0.1 0.6 1.3 0.6 0.4 0.6-1.4 0.6-0.5 0.6-0.4 0.6 0.9 0.6-0.9 0.6 1 0.6 2.1 0.6-0.9 0.6-0.6 0.6 1.6 0.6-2.3 0.6 2.1 0.6-1.3 0.6 1 0.6 0.9 0.6-2.5 0.6 2.1 0.6-0.5 0.6-0.2 0.6-1.3 0.6 1.9 0.6-0.1 0.6 0.3 0.6-0.1 0.6-0.8 0.6 2.5 0.6-1.6 0.6 1.5 0.6-1.3 0.6-0.5 0.6 2.4 0.6 0.1 0.6-1.5 0.6 0.6 0.6 0.5 0.6-2 0.6 1 0.6-1.5 0.6 3 0.6-2.9 0.6 1.8 0.6-1.1 0.6 1.3 0.6 0 0.6 0 0.6 1.2 0.6-0.7 0.6 1.2 0.6-0.4 0.6-1.5 0.6 0.9 0.6 0.4 0.6 1.1 0.6 0.3 0.6-1.3 0.6 0.6 0.6-0.4 0.6 0.3 0.6-1.1 0.6 0.5 0.6 1.4 0.6 0.7 0.6-1.2 0.6-0.5 0.6 0.8 0.6-1.1 0.6 2.7 0.6-2.9 0.6 1.8 0.6 1.1 0.6-1.5 0.6-0.6 0.6 0.5 0.6 0.7 0.6 1 0.6-0.9 0.6 0.5 0.6 0.5 0.6-0.4 0.6 0.2 0.6 0.1 0.6 0.3 0.6-1.3 0.6 0.5 0.6 0 0.6 2.6 0.6-2.1 0.6-0.2 0.6 1.7 0.6-0.6 0.6-0.8 0.6 1.7 0.6-2 0.6-0.2 0.6 0.3 0.6 2.2 0.6-1.3 0.6 1.2 0.6-2.2 0.6-0.5 0.6 2.2 0.6-0.5 0.6-1.6 0.6 2.3 0.6 1.8 0.6-1.7 0.6-1.4 0.6 0.7 0.6 0.1 0.6-1.3 0.6 0.8 0.6 0 0.6 0.9 0.6-0.2 0.6 0.8 0.6 0.7 0.6 0 0.6-0.4 0.6-0.8 0.6 1.2 0.6 0.2 0.6 3.3 0.6-3.6 0.6 0.9 0.6 0.3 0.6 0 0.6-3.1 0.6 1.8 0.6-1.2 0.6 2.6 0.6-2.4 0.6-0.1 0.6 1.3 0.6 2.7 0.6-0.9 0.6 0.2 0.6-1.5 0.6 1 0.6-1 0.6 0.9 0.6 1.5 0.6 0 0.6-1.2 0.6-0.8 0.6 0.3 0.6-1 0.6 0 0.6 1.5 0.6 0.8 0.6 0.9 0.6 0.5 0.6-1.8 0.6 0.6 0.6-2.6 0.6 2.7 0.6 2 0.6-1.7 0.6 1.1 0.6-0.5 0.6 0.2 0.6 0.3 0.6-2.3 0.6 0.8 0.6 2.1 0.6-2.3 0.6 2.2 0.6-1.8 0.6 0.5 0.6-0.6 0.6 1.9 0.6-0.6 0.6-2.4 0.6 1.2 0.6 0.1 0.6 1.9 0.6 0 0.6-2.3 0.6 2.2 0.6 0.8 0.6-1 0.6 0.6 0.6 3.1 0.6-3.5 0.6-0.3 0.6 1 0.6-0.6 0.6-0.7 0.6 0.9 0.6-0.8 0.6 2.9 0.6-2.9 0.6 3 0.6-2.4 0.6-0.9 0.6 1.4 0.6 2 0.6-1.4 0.6 1.5 0.6-0.4 0.6-0.5 0.6-0.9 0.6 1.7 0.6-0.7 0.6-0.6 0.6 0.5 0.6 0.8 0.6-0.3 0.6 1.1 0.6 1.2 0.6-1.6 0.6 0.2 0.6-0.1 0.6-0.1 0.6-0.7 0.6-0.4 0.6 0.2 0.6-0.4 0.6 1.8 0.6-2 0.6 1.2 0.6-0.7 0.6 0.2 0.6 1.6 0.6-0.4 0.6 0.9 0.6-1.7 0.6 0.4 0.6 0.7 0.6 0.7 0.6 0 0.6 0.9 0.6-2.5 0.6 1.1 0.6-0.5 0.6 2.5 0.6-3.3 0.6 0.8 0.6 2.1 0.6-1.8 0.6-0.9 0.6 3.3 0.6-0.6 0.6-1.5 0.6-0.4 0.6 0.9 0.6-0.4 0.6 0.1 0.6 1.6 0.6-1.4 0.6 0.6 0.6-0.4 0.6 1.7 0.6-0.6 0.6 1.5 0.6-2.3 0.6 0.6 0.6 0.5 0.6 0.3 0.6-0.6 0.6 2.7 0.6-2.6 0.6 0.1 0.6-0.9 0.6 1 0.6 2.6 0.6-1.8 0.6-1.1 0.6 1.8 0.6-1.1 0.6 1.1 0.6-1.7 0.6 0.7 0.6 2.3 0.6-1.5 0.6 0.1 0.6 0.2 0.6 0.6 0.6-1.4 0.6-0.2 0.6 1.1 0.6 1.4 0.6-1.3 0.6 1.5 0.6-2.6 0.6 1 0.6-0.4 0.6-0.9 0.6 4.1 0.6-2.3 0.6 2.4 0.6-1.4 0.6-1.6 0.6 2.6 0.6-0.5 0.6 1.4 0.6-1.3 0.6-0.7 0.6 0.7 0.6-0.7 0.6-0.8 0.6 0.7 0.6 1.5 0.6-2.2 0.6 2 0.6 0.4 0.6-0.9 0.6-0.5 0.6 1.5 0.6-1.1 0.6 1.4 0.6-0.3 0.6-0.7 0.6-0.3 0.6-0.5 0.6 1 0.6-0.9 0.6 1.2 0.6 0.2 0.6-0.5 0.6 0.9 0.6 0.8 0.6-2.5 0.6 1.4 0.6-0.9 0.6 0.3 0.6 0.5 0.6 1.7 0.6 0.2 0.6-1.7 0.6 0.7 0.6-0.2 0.6-0.1 0.6 2.1 0.6-0.5 0.6-2.8 0.6 2.3 0.6 0.5 0.6-1.8 0.6 2.8 0.6-0.5 0.6 0.9 0.6-2.9 0.6 1 0.6-0.4 0.6 0.1 0.6 0.1 0.3-0.8" stroke="#b22222" stroke-width="1.6" fill="none"/>
<path d="M98.6 861.1l51.1 0" stroke="#111" stroke-width="1.4" fill="none"/>
<path d="M149.7 861.1l0.6-27.2 0.6-24 0.5-21.4 0.6-19.1 0.6-17 0.1-3.1 0.5-12.1 0.5-13.7 0.6-12.3 0.6-11.1 0.6-10 0.2-3.7 0.4-5.4 0.5-8.2 0.6-7.4 0.6-6.8 0.6-6.1 0.3-3.3 0.2-2.3 0.6-5.1 0.6-4.6 0.6-4.2 0.5-3.9 0.5-2.7 0.1-0.8 0.6-3.2 0.6-2.9 0.6-2.7 0.5-2.4 0.6-2.2 0-0.1 0.6-2 0.6-1.9 0.5-1.7 0.6-1.6 0.6-1.5 0.1-0.2 0.5-1.1 0.6-1.2 0.5-1.1 0.6-1 0.6-0.9 0.2-0.4 0.4-0.5 0.5-0.8 0.6-0.7 0.6-0.6 0.6-0.6 0.3-0.4 0.3-0.2 0.5-0.5 0.6-0.5 0.6-0.4 0.6-0.4 0.4-0.2 0.1-0.1 0.6-0.4 0.6-0.3 0.6-0.2 0.6-0.3 0.5-0.2 0.6-0.2 0.6-0.2 0.6-0.2 0.5-0.2 0.6-0.1 0.1 0 0.5-0.2 0.6-0.1 1.9-0.3 3-0.4 3-0.3 3-0.1 3-0.1 3-0.1 3 0 3-0.1 3 0 3 0 3 0 3 0 3 0 3 0 3-0.1 3 0 3 0 3 0 3 0 3 0 3 0 3 0 3 0 3 0 3 0 3 0 3 0 3 0 3 0 3-0.1 3 0 3 0 3 0 3 0 3 0 3 0 3 0 3 0 3 0 3 0 3 0 3 0 3 0 3 0 3-0.1 3 0 3 0 3 0 3 0 3 0 3 0 1.4 0 0 46.2 3 0.5 3 0.6 3 0.6 3 0.5 3 0.6 3 0.5 3 0.6 3 0.5 3 0.6 3 0.6 3 0.5 3 0.6 3 0.5 3 0.6 3 0.5 3 0.6 3 0.5 3 0.6 3 0.5 3 0.6 3 0.5 3 0.5 3 0.6 3 0.5 3 0.6 3 0.5 3 0.6 3 0.5 3 0.5 3 0.6 3 0.5 3 0.5 3 0.6 3 0.5 3 0.5 3 0.6 3 0.5 3 0.5 3 0.5 3 0.6 3 0.5 3 0.5 3 0.6 3 0.5 3 0.5 3 0.5 3 0.5 3 0.6 3 0.5 3 0.5 3 0.5 3 0.5 3 0.6 3 0.5 3 0.5 3 0.5 3 0.5 3 0.5 3 0.5 3 0.5 3 0.5 3 0.6 3 0.5 3 0.5 3 0.5 3 0.5 3 0.5 3 0.5 3 0.5 3 0.5 3 0.5 3 0.5 3 0.5 3 0.5 3 0.5 3 0.5 3 0.5 3 0.5 3 0.5 3 0.5 3 0.4 3 0.5 3 0.5 3 0.5 3 0.5 3 0.5 3 0.5 3 0.5 3 0.5 3 0.4 3 0.5 3 0.5 3 0.5 3 0.5 3 0.4 3 0.5 3 0.5 3 0.5 3 0.5 3 0.4 3 0.5 3 0.5 3 0.5 3 0.4 3 0.5 3 0.5 3 0.4 3 0.5 3 0.5 3 0.5 3 0.4 3 0.5 3 0.5 3 0.4 3 0.5 3 0.5 3 0.4 3 0.5 3 0.4 3 0.5 3 0.5 3 0.4 3 0.5 3 0.4 3 0.5 3 0.4 3 0.5 3 0.5 3 0.4 3 0.5 3 0.4 3 0.5 3 0.4 3 0.5 3 0.4 3 0.5 0.9 0.1" stroke="#111" stroke-width="1.45" fill="none"/>
<path d="M149.7 861.1l0.6-67.6 0.6-9.8 0.5-6.3 0.6-6 0.6-5.7 0.1-1.1 0.5-4.4 0.5-5.4 0.6-5.1 0.6-5 0.6-4.7 0.2-1.9 0.4-2.8 0.5-4.4 0.6-4.3 0.6-4.2 0.6-4 0.3-2.3 0.2-1.5 0.6-3.8 0.6-3.6 0.6-3.4 0.5-3.4 0.5-2.5 0.1-0.7 0.6-3.1 0.6-3 0.6-3 0.5-2.8 0.6-2.6 0-0.1 0.6-2.6 0.6-2.5 0.5-2.4 0.6-2.4 0.6-2.2 0.1-0.4 0.5-1.8 0.6-2.1 0.5-2 0.6-2 0.6-1.9 0.2-0.7 0.4-1.1 0.5-1.8 0.6-1.7 0.6-1.6 0.6-1.6 0.3-0.9 0.3-0.6 0.5-1.5 0.6-1.4 0.6-1.4 0.6-1.3 0.4-1 0.1-0.3 0.6-1.2 0.6-1.2 0.6-1.2 0.6-1.1 0.5-1 0-0.1 0.6-1 0.6-1 0.6-1 0.5-0.9 0.6-0.9 0.1-0.1 0.5-0.7 0.6-0.9 1.9-2.5 3-3.5 3-2.8 3-2.4 3-2 3-1.6 3-1.4 3-1.1 3-1 3-0.8 3-0.6 3-0.5 3-0.5 3-0.4 3-0.3 3-0.2 3-0.2 3-0.2 3-0.2 3-0.1 3-0.1 3-0.1 3-0.1 3 0 3-0.1 3 0 3 0 3-0.1 3 0 3 0 3 0 3 0 3 0 3-0.1 3 0 3 0 3 0 3 0 3 0 3 0 3 0 3 0 3 0 3 0 3 0 3 0 3 0 3 0 3 0 3 0 3 0 1.4 0 0 31.2 3 0.6 3 0.5 3 0.6 3 0.6 3 0.5 3 0.6 3 0.5 3 0.6 3 0.5 3 0.6 3 0.6 3 0.5 3 0.6 3 0.5 3 0.6 3 0.5 3 0.6 3 0.5 3 0.6 3 0.5 3 0.5 3 0.6 3 0.5 3 0.6 3 0.5 3 0.5 3 0.6 3 0.5 3 0.6 3 0.5 3 0.5 3 0.6 3 0.5 3 0.5 3 0.6 3 0.5 3 0.5 3 0.6 3 0.5 3 0.5 3 0.5 3 0.6 3 0.5 3 0.5 3 0.5 3 0.6 3 0.5 3 0.5 3 0.5 3 0.5 3 0.6 3 0.5 3 0.5 3 0.5 3 0.5 3 0.5 3 0.5 3 0.6 3 0.5 3 0.5 3 0.5 3 0.5 3 0.5 3 0.5 3 0.5 3 0.5 3 0.5 3 0.5 3 0.5 3 0.5 3 0.5 3 0.5 3 0.5 3 0.5 3 0.5 3 0.5 3 0.5 3 0.5 3 0.5 3 0.5 3 0.5 3 0.5 3 0.5 3 0.5 3 0.4 3 0.5 3 0.5 3 0.5 3 0.5 3 0.5 3 0.5 3 0.4 3 0.5 3 0.5 3 0.5 3 0.5 3 0.4 3 0.5 3 0.5 3 0.5 3 0.5 3 0.4 3 0.5 3 0.5 3 0.4 3 0.5 3 0.5 3 0.5 3 0.4 3 0.5 3 0.5 3 0.4 3 0.5 3 0.5 3 0.4 3 0.5 3 0.5 3 0.4 3 0.5 3 0.4 3 0.5 3 0.5 3 0.4 3 0.5 3 0.4 3 0.5 3 0.4 3 0.5 3 0.4 3 0.5 3 0.4 3 0.5 3 0.5 3 0.4 3 0.4 3 0.5 0.9 0.1" stroke="#111" stroke-width="1.45" fill="none"/>
<path d="M149.7 861.1l0.6-2.4 0.6-2.3 0.5-2.3 0.6-2.3 0.6-2.2 0.1-0.5 0.5-1.8 0.5-2.2 0.6-2.2 0.6-2.2 0.6-2.1 0.2-0.9 0.4-1.3 0.5-2.1 0.6-2.1 0.6-2 0.6-2.1 0.3-1.2 0.2-0.8 0.6-2 0.6-2 0.6-2 0.5-1.9 0.5-1.5 0.1-0.5 0.6-1.9 0.6-1.9 0.6-1.9 0.5-1.8 0.6-1.8 0-0.1 0.6-1.8 0.6-1.8 0.5-1.8 0.6-1.7 0.6-1.8 0.1-0.3 0.5-1.4 0.6-1.7 0.5-1.7 0.6-1.7 0.6-1.7 0.2-0.6 0.4-1 0.5-1.7 0.6-1.6 0.6-1.6 0.6-1.6 0.3-0.9 0.3-0.6 0.5-1.6 0.6-1.5 0.6-1.6 0.6-1.5 0.4-1.1 0.1-0.4 0.6-1.4 0.6-1.5 0.6-1.4 0.6-1.5 0.5-1.3 0-0.1 0.6-1.4 0.6-1.4 0.6-1.4 0.5-1.3 0.6-1.4 0.1-0.2 0.5-1.1 0.6-1.3 1.9-4.4 3-6.4 3-6.1 3-5.8 3-5.4 3-5.2 3-4.9 3-4.7 3-4.4 3-4.1 3-3.9 3-3.7 3-3.5 3-3.3 3-3.2 3-2.9 3-2.7 3-2.6 3-2.5 3-2.3 3-2.1 3-2 3-1.9 3-1.8 3-1.6 3-1.6 3-1.4 3-1.3 3-1.3 3-1.1 3-1 3-1 3-0.9 3-0.8 3-0.7 3-0.7 3-0.6 3-0.5 3-0.5 3-0.4 3-0.4 3-0.3 3-0.3 3-0.2 3-0.2 3-0.1 3-0.1 3 0 3 0 3 0 3 0.1 1.4 0 0 11.2 3 0.5 3 0.4 3 0.5 3 0.5 3 0.5 3 0.5 3 0.5 3 0.5 3 0.4 3 0.5 3 0.5 3 0.5 3 0.5 3 0.5 3 0.5 3 0.4 3 0.5 3 0.5 3 0.5 3 0.5 3 0.4 3 0.5 3 0.5 3 0.5 3 0.5 3 0.4 3 0.5 3 0.5 3 0.5 3 0.4 3 0.5 3 0.5 3 0.5 3 0.4 3 0.5 3 0.5 3 0.5 3 0.4 3 0.5 3 0.5 3 0.5 3 0.4 3 0.5 3 0.5 3 0.4 3 0.5 3 0.5 3 0.4 3 0.5 3 0.5 3 0.4 3 0.5 3 0.5 3 0.4 3 0.5 3 0.5 3 0.4 3 0.5 3 0.5 3 0.4 3 0.5 3 0.5 3 0.4 3 0.5 3 0.4 3 0.5 3 0.5 3 0.4 3 0.5 3 0.4 3 0.5 3 0.5 3 0.4 3 0.5 3 0.4 3 0.5 3 0.4 3 0.5 3 0.5 3 0.4 3 0.5 3 0.4 3 0.5 3 0.4 3 0.5 3 0.4 3 0.5 3 0.4 3 0.5 3 0.4 3 0.5 3 0.4 3 0.5 3 0.4 3 0.5 3 0.4 3 0.5 3 0.4 3 0.5 3 0.4 3 0.5 3 0.4 3 0.5 3 0.4 3 0.4 3 0.5 3 0.4 3 0.5 3 0.4 3 0.5 3 0.4 3 0.4 3 0.5 3 0.4 3 0.5 3 0.4 3 0.4 3 0.5 3 0.4 3 0.5 3 0.4 3 0.4 3 0.5 3 0.4 3 0.4 3 0.5 3 0.4 3 0.5 3 0.4 3 0.4 3 0.5 3 0.4 3 0.4 3 0.5 3 0.4 3 0.4 0.9 0.1" stroke="#111" stroke-width="1.45" fill="none"/>
<path d="M149.7 861.1l0.6-1.2 0.6-1.3 0.5-1.2 0.6-1.2 0.6-1.2 0.1-0.2 0.5-1 0.5-1.2 0.6-1.2 0.6-1.2 0.6-1.2 0.2-0.4 0.4-0.7 0.5-1.2 0.6-1.2 0.6-1.1 0.6-1.2 0.3-0.7 0.2-0.4 0.6-1.2 0.6-1.1 0.6-1.2 0.5-1.1 0.5-0.9 0.1-0.2 0.6-1.1 0.6-1.1 0.6-1.1 0.5-1.1 0.6-1.1 0.6-1.1 0.6-1.1 0.5-1.1 0.6-1 0.6-1.1 0.1-0.2 0.5-0.9 0.6-1 0.5-1.1 0.6-1 0.6-1.1 0.2-0.4 0.4-0.6 0.5-1 0.6-1.1 0.6-1 0.6-1 0.3-0.6 0.3-0.4 0.5-1 0.6-1 0.6-1 0.6-1 0.4-0.8 0.1-0.2 0.6-1 0.6-1 0.6-0.9 0.6-1 0.5-0.9 0-0.1 0.6-0.9 0.6-1 0.6-0.9 0.5-1 0.6-0.9 0.1-0.1 0.5-0.8 0.6-1 1.9-3 3-4.7 3-4.5 3-4.5 3-4.3 3-4.2 3-4 3-4 3-3.8 3-3.8 3-3.6 3-3.6 3-3.4 3-3.3 3-3.3 3-3.1 3-3 3-3 3-2.8 3-2.8 3-2.7 3-2.6 3-2.5 3-2.4 3-2.3 3-2.3 3-2.2 3-2.1 3-2 3-2 3-1.9 3-1.8 3-1.7 3-1.7 3-1.6 3-1.6 3-1.4 3-1.4 3-1.4 3-1.3 3-1.2 3-1.2 3-1.1 3-1 3-1 3-1 3-0.9 3-0.8 3-0.8 3-0.7 3-0.7 1.4-0.3 0 15.6 3 0.3 3 0.4 3 0.4 3 0.3 3 0.4 3 0.4 3 0.3 3 0.4 3 0.4 3 0.3 3 0.4 3 0.4 3 0.3 3 0.4 3 0.4 3 0.3 3 0.4 3 0.4 3 0.3 3 0.4 3 0.3 3 0.4 3 0.4 3 0.3 3 0.4 3 0.3 3 0.4 3 0.4 3 0.3 3 0.4 3 0.3 3 0.4 3 0.4 3 0.3 3 0.4 3 0.3 3 0.4 3 0.4 3 0.3 3 0.4 3 0.3 3 0.4 3 0.3 3 0.4 3 0.3 3 0.4 3 0.4 3 0.3 3 0.4 3 0.3 3 0.4 3 0.3 3 0.4 3 0.3 3 0.4 3 0.3 3 0.4 3 0.3 3 0.4 3 0.3 3 0.4 3 0.3 3 0.4 3 0.3 3 0.4 3 0.3 3 0.4 3 0.3 3 0.4 3 0.3 3 0.4 3 0.3 3 0.4 3 0.3 3 0.4 3 0.3 3 0.4 3 0.3 3 0.3 3 0.4 3 0.3 3 0.4 3 0.3 3 0.4 3 0.3 3 0.4 3 0.3 3 0.3 3 0.4 3 0.3 3 0.4 3 0.3 3 0.4 3 0.3 3 0.3 3 0.4 3 0.3 3 0.4 3 0.3 3 0.3 3 0.4 3 0.3 3 0.4 3 0.3 3 0.3 3 0.4 3 0.3 3 0.3 3 0.4 3 0.3 3 0.4 3 0.3 3 0.3 3 0.4 3 0.3 3 0.3 3 0.4 3 0.3 3 0.3 3 0.4 3 0.3 3 0.3 3 0.4 3 0.3 3 0.3 3 0.4 3 0.3 3 0.3 3 0.4 3 0.3 3 0.3 3 0.4 3 0.3 3 0.3 3 0.4 3 0.3 0.9 0.1" stroke="#111" stroke-width="1.45" fill="none"/>
<path d="M149.7 861.1l0.6-0.8 0.6-0.7 0.5-0.7 0.6-0.8 0.6-0.7 0.1-0.2 0.5-0.6 0.5-0.7 0.6-0.7 0.6-0.7 0.6-0.8 0.2-0.2 0.4-0.5 0.5-0.7 0.6-0.7 0.6-0.7 0.6-0.7 0.3-0.4 0.2-0.3 0.6-0.7 0.6-0.7 0.6-0.7 0.5-0.7 0.5-0.5 0.1-0.1 0.6-0.7 0.6-0.7 0.6-0.7 0.5-0.6 0.6-0.7 0.6-0.7 0.6-0.6 0.5-0.7 0.6-0.6 0.6-0.7 0.1-0.1 0.5-0.5 0.6-0.7 0.5-0.6 0.6-0.6 0.6-0.7 0.2-0.2 0.4-0.4 0.5-0.6 0.6-0.7 0.6-0.6 0.6-0.6 0.3-0.3 0.3-0.3 0.5-0.6 0.6-0.6 0.6-0.6 0.6-0.7 0.4-0.4 0.1-0.2 0.6-0.6 0.6-0.6 0.6-0.5 0.6-0.6 0.5-0.6 0.6-0.6 0.6-0.6 0.6-0.6 0.5-0.6 0.6-0.5 0.1-0.1 0.5-0.5 0.6-0.6 1.9-1.9 3-2.8 3-2.9 3-2.7 3-2.7 3-2.6 3-2.6 3-2.5 3-2.5 3-2.4 3-2.4 3-2.3 3-2.3 3-2.3 3-2.2 3-2.1 3-2.1 3-2.1 3-2.1 3-2 3-1.9 3-2 3-1.9 3-1.9 3-1.8 3-1.8 3-1.8 3-1.8 3-1.7 3-1.7 3-1.7 3-1.7 3-1.6 3-1.7 3-1.6 3-1.6 3-1.5 3-1.6 3-1.5 3-1.5 3-1.5 3-1.5 3-1.4 3-1.5 3-1.4 3-1.5 3-1.4 3-1.4 3-1.3 3-1.4 3-1.4 1.4-0.6 0 11.4 3 0.3 3 0.2 3 0.2 3 0.3 3 0.2 3 0.2 3 0.3 3 0.2 3 0.2 3 0.3 3 0.2 3 0.2 3 0.2 3 0.3 3 0.2 3 0.2 3 0.3 3 0.2 3 0.2 3 0.2 3 0.3 3 0.2 3 0.2 3 0.2 3 0.3 3 0.2 3 0.2 3 0.2 3 0.3 3 0.2 3 0.2 3 0.2 3 0.3 3 0.2 3 0.2 3 0.2 3 0.2 3 0.3 3 0.2 3 0.2 3 0.2 3 0.3 3 0.2 3 0.2 3 0.2 3 0.2 3 0.3 3 0.2 3 0.2 3 0.2 3 0.2 3 0.2 3 0.3 3 0.2 3 0.2 3 0.2 3 0.2 3 0.2 3 0.3 3 0.2 3 0.2 3 0.2 3 0.2 3 0.2 3 0.2 3 0.3 3 0.2 3 0.2 3 0.2 3 0.2 3 0.2 3 0.2 3 0.2 3 0.3 3 0.2 3 0.2 3 0.2 3 0.2 3 0.2 3 0.2 3 0.2 3 0.2 3 0.2 3 0.3 3 0.2 3 0.2 3 0.2 3 0.2 3 0.2 3 0.2 3 0.2 3 0.2 3 0.2 3 0.2 3 0.2 3 0.2 3 0.2 3 0.2 3 0.2 3 0.2 3 0.3 3 0.2 3 0.2 3 0.2 3 0.2 3 0.2 3 0.2 3 0.2 3 0.2 3 0.2 3 0.2 3 0.2 3 0.2 3 0.2 3 0.2 3 0.2 3 0.2 3 0.2 3 0.2 3 0.2 3 0.2 3 0.2 3 0.2 3 0.2 3 0.2 3 0.2 3 0.2 3 0.2 3 0.1 3 0.2 3 0.2 3 0.2 3 0.2 3 0.2 3 0.2 3 0.2 0.9 0.1" stroke="#111" stroke-width="1.45" fill="none"/>
<path d="M149.7 861.1l0.6-1.5 0.6-0.3 0.5-0.3 0.6-0.3 0.6-0.3 0.1-0.1 0.5-0.2 0.5-0.3 0.6-0.3 0.6-0.3 0.6-0.3 0.2-0.1 0.4-0.2 0.5-0.3 0.6-0.2 0.6-0.3 0.6-0.3 0.3-0.2 0.2-0.1 0.6-0.3 0.6-0.3 0.6-0.3 0.5-0.3 0.5-0.2 0.1-0.1 0.6-0.3 0.6-0.3 0.6-0.3 0.5-0.3 0.6-0.2 0.6-0.3 0.6-0.3 0.5-0.3 0.6-0.3 0.6-0.3 0.1-0.1 0.5-0.2 0.6-0.3 0.5-0.3 0.6-0.3 0.6-0.3 0.2-0.1 0.4-0.2 0.5-0.2 0.6-0.3 0.6-0.3 0.6-0.3 0.3-0.2 0.3-0.1 0.5-0.3 0.6-0.3 0.6-0.3 0.6-0.3 0.4-0.2 0.1-0.1 0.6-0.3 0.6-0.3 0.6-0.3 0.6-0.2 0.5-0.3 0.6-0.3 0.6-0.3 0.6-0.3 0.5-0.3 0.6-0.3 0.1 0 0.5-0.3 0.6-0.3 1.9-1 3-1.5 3-1.5 3-1.5 3-1.5 3-1.5 3-1.6 3-1.5 3-1.5 3-1.5 3-1.5 3-1.6 3-1.5 3-1.5 3-1.5 3-1.5 3-1.5 3-1.6 3-1.5 3-1.5 3-1.5 3-1.5 3-1.5 3-1.6 3-1.5 3-1.5 3-1.5 3-1.5 3-1.5 3-1.6 3-1.5 3-1.5 3-1.5 3-1.5 3-1.6 3-1.5 3-1.5 3-1.5 3-1.5 3-1.5 3-1.6 3-1.5 3-1.5 3-1.5 3-1.5 3-1.5 3-1.6 3-1.5 3-1.5 3-1.5 3-1.5 1.4-0.7 0 4.3 3 0.1 3 0.1 3 0.2 3 0.1 3 0.1 3 0.1 3 0.2 3 0.1 3 0.1 3 0.1 3 0.2 3 0.1 3 0.1 3 0.1 3 0.2 3 0.1 3 0.1 3 0.1 3 0.1 3 0.2 3 0.1 3 0.1 3 0.1 3 0.1 3 0.2 3 0.1 3 0.1 3 0.1 3 0.1 3 0.2 3 0.1 3 0.1 3 0.1 3 0.1 3 0.1 3 0.2 3 0.1 3 0.1 3 0.1 3 0.1 3 0.1 3 0.1 3 0.2 3 0.1 3 0.1 3 0.1 3 0.1 3 0.1 3 0.1 3 0.1 3 0.1 3 0.2 3 0.1 3 0.1 3 0.1 3 0.1 3 0.1 3 0.1 3 0.1 3 0.1 3 0.1 3 0.1 3 0.2 3 0.1 3 0.1 3 0.1 3 0.1 3 0.1 3 0.1 3 0.1 3 0.1 3 0.1 3 0.1 3 0.1 3 0.1 3 0.1 3 0.1 3 0.1 3 0.1 3 0.1 3 0.1 3 0.1 3 0.1 3 0.1 3 0.2 3 0.1 3 0.1 3 0.1 3 0.1 3 0.1 3 0.1 3 0.1 3 0.1 3 0.1 3 0.1 3 0 3 0.1 3 0.1 3 0.1 3 0.1 3 0.1 3 0.1 3 0.1 3 0.1 3 0.1 3 0.1 3 0.1 3 0.1 3 0.1 3 0.1 3 0.1 3 0.1 3 0.1 3 0.1 3 0.1 3 0.1 3 0.1 3 0 3 0.1 3 0.1 3 0.1 3 0.1 3 0.1 3 0.1 3 0.1 3 0.1 3 0.1 3 0.1 3 0.1 3 0 3 0.1 3 0.1 3 0.1 3 0.1 3 0.1 3 0.1 0.9 0" stroke="#111" stroke-width="1.45" fill="none"/>
<path d="M955.3 896V550.7 M949.3 896H1595 M949.3 896h6 M949.3 846.7h6 M949.3 797.4h6 M949.3 748h6 M949.3 698.7h6 M949.3 649.4h6 M949.3 600.1h6 M949.3 550.7h6 M953.3 871.4h4 M953.3 822h4 M953.3 772.7h4 M953.3 723.4h4 M953.3 674h4 M953.3 624.7h4 M953.3 575.4h4 M955.3 894v8 M990.9 896v4 M1026.4 894v8 M1061.9 896v4 M1097.5 894v8 M1133 896v4 M1168.5 894v8 M1204.1 896v4 M1239.6 894v8 M1275.1 896v4 M1310.7 894v8 M1346.2 896v4 M1381.8 894v8 M1417.3 896v4 M1452.8 894v8 M1488.4 896v4 M1523.9 894v8 M1559.4 896v4 M1595 894v8" stroke="#222" stroke-width="1.3" fill="none"/>
<text transform="translate(949.8,557.9) scale(0.86,1)" font-size="21" text-anchor="end">60</text>
<text transform="translate(949.8,607.3) scale(0.86,1)" font-size="21" text-anchor="end">50</text>
<text transform="translate(949.8,656.6) scale(0.86,1)" font-size="21" text-anchor="end">40</text>
<text transform="translate(949.8,705.9) scale(0.86,1)" font-size="21" text-anchor="end">30</text>
<text transform="translate(949.8,755.3) scale(0.86,1)" font-size="21" text-anchor="end">20</text>
<text transform="translate(949.8,804.6) scale(0.86,1)" font-size="21" text-anchor="end">10</text>
<text transform="translate(949.8,853.9) scale(0.86,1)" font-size="21" text-anchor="end">0</text>
<text transform="translate(949.8,903.2) scale(0.86,1)" font-size="21" text-anchor="end">-10</text>
<text transform="translate(953.1,925.3) scale(0.81,1)" font-size="21.5" text-anchor="middle">-100</text>
<text transform="translate(1025.4,925.3) scale(0.81,1)" font-size="21.5" text-anchor="middle">0</text>
<text transform="translate(1100,925.3) scale(0.81,1)" font-size="21.5" text-anchor="middle">100</text>
<text transform="translate(1168.3,925.3) scale(0.81,1)" font-size="21.5" text-anchor="middle">200</text>
<text transform="translate(1238.1,925.3) scale(0.81,1)" font-size="21.5" text-anchor="middle">300</text>
<text transform="translate(1307.3,925.3) scale(0.81,1)" font-size="21.5" text-anchor="middle">400</text>
<text transform="translate(1382.2,925.3) scale(0.81,1)" font-size="21.5" text-anchor="middle">500</text>
<text transform="translate(1451.5,925.3) scale(0.81,1)" font-size="21.5" text-anchor="middle">600</text>
<text transform="translate(1525.3,925.3) scale(0.81,1)" font-size="21.5" text-anchor="middle">700</text>
<text transform="translate(1595.3,925.3) scale(0.81,1)" font-size="21.5" text-anchor="middle">800</text>
<text x="920.2" y="537.3" font-size="21" textLength="27.5" lengthAdjust="spacingAndGlyphs">RU</text>
<text x="1208.1" y="550.4" font-size="22.3" font-weight="bold" textLength="180.5" lengthAdjust="spacingAndGlyphs">BDG 11.007 Y93N</text>
<text transform="translate(911.8,722.5) rotate(-90)" font-size="22.6" font-weight="bold" text-anchor="middle" textLength="87.3" lengthAdjust="spacingAndGlyphs">Response</text>
<text x="1287.3" y="969" font-size="22" font-weight="bold" text-anchor="middle" textLength="43" lengthAdjust="spacingAndGlyphs">Time</text>
<text x="1636.3" y="974.2" font-size="20" textLength="12" lengthAdjust="spacingAndGlyphs">S</text>
<path d="M983.8 847.5l0.6-0.3 0.6 1 0.6 0.4 0.6-1.1 0.6 1.1 0.6 1.4 0.6-3.1 0.6 1.6 0.6-0.2 0.6-0.2 0.6-0.1 0.6 0.5 0.6-0.2 0.6-0.2 0.6 1 0.6 0.9 0.6-1.6 0.6 0.5 0.6 0.3 0.6-1.7 0.6 0.4 0.6-0.2 0.6 0.5 0.6 1 0.6-1.4 0.6 1.6 0.6 0.5 0.6-2.2 0.6 0.7 0.6 0.4 0.6-1.4 0.6-0.7 0.6 1.6 0.6-0.6 0.6 0.7 0.6-0.7 0.6 0.3 0.6-0.2 0.6 0.4 0.6 0.7 0.6-0.7 0.6 0.2 0.6-1.2 0.6 2.2 0.6-0.4 0.6 0.4 0.6-1.2 0.6-0.5 0.6 0.9 0.6-1.2 0.6 0.9 0.6-0.1 0.6 0.1 0.6-1 0.6 1.8 0.6-1.9 0.6 1.1 0.6-0.3 0.6-1.4 0.6 1.9 0.6-0.3 0.6 1.4 0.6 0 0.6-1.9 0.6-0.9 0.6 1.4 0.6 0.6 0.6-0.9 0.6 1.5 0.6-1.4 0.6-0.6 0-1.3 0.6-3.7 0.6 0.4 0.6-1.9 0.6 0.2 0.6 0.1 0.6-1.3 0.6 0 0.6 0.5 0.6-0.7 0.6 0 0.6-1.6 0.6-1.3 0.6 0.1 0.6-0.1 0.6 0.2 0.6-1.2 0.6-0.6 0.6-0.2 0.6 0.4 0.6-1.1 0.6 1.1 0.6-1 0.6-0.5 0.6-1.3 0.6 1.8 0.6-1.8 0.6 0 0.6-0.7 0.6-1.4 0.6-0.2 0.6-0.3 0.6 0.8 0.6-0.6 0.6-2.4 0.6 1.5 0.6-2.3 0.6 0.5 0.6 1.3 0.6-1.2 0.6-0.5 0.6-2.5 0.6 2.8 0.6-1.4 0.6-0.2 0.6-1.6 0.6-0.2 0.6 0.6 0.6-2.1 0.6 2.1 0.6-0.3 0.6-2 0.6-0.3 0.6 0.8 0.6-0.5 0.6-1.1 0.6 0.5 0.6-1.1 0.6-1 0.6 1.8 0.6-0.7 0.6-1.9 0.6 0.7 0.6-0.3 0.6 1.3 0.6-0.6 0.6-0.2 0.6-1.7 0.6 1.1 0.6-2.1 0.6-0.6 0.6 2.7 0.6-3.3 0.6 1.7 0.6-2 0.6-0.4 0.6 2.2 0.6-3.9 0.6 1.6 0.6 0 0.6-1.5 0.6-0.8 0.6-0.4 0.6 2.6 0.6-4 0.6 0.3 0.6 0.5 0.6-1 0.6 1.8 0.6-1.8 0.6 0.2 0.6-0.2 0.6-1.2 0.6 0.9 0.6-2 0.6 1 0.6 0.5 0.6 0 0.6-2.5 0.6-0.5 0.6 2.9 0.6-1.2 0.6-2.9 0.6 2.5 0.6-0.9 0.6 0.2 0.6 0.6 0.6-1.7 0.6 0.4 0.6-1.1 0.6 1.5 0.6-1.1 0.6 0.3 0.6-1 0.6-1.9 0.6 0.9 0.6-0.3 0.6 0 0.6-1.2 0.6-0.1 0.6 0 0.6-0.8 0.6 1.3 0.6-1.3 0.6 1.7 0.6-2.2 0.6-1.3 0.6 1.5 0.6 1 0.6-0.3 0.6-2.1 0.6 0.1 0.6 0 0.6 0.4 0.6-1 0.6-2.4 0.6 3.3 0.6-0.8 0.6-2 0.6 0.7 0.6-0.4 0.6-0.7 0.6 0.9 0.6-1.4 0.6 0.6 0.6 0.6 0.6 0.2 0.6 0.7 0.6-1.7 0.6 0.2 0.6-0.2 0.6-1.5 0.6-1.3 0.6 0.5 0.6-1 0.6 1.5 0.6 1.1 0.6-1.1 0.6 1.4 0.6-2 0.6 2 0.6-0.8 0.6-1.2 0.6 0.8 0.6-2.4 0.6-0.9 0.6 1.3 0.6 0.9 0.6-0.9 0.6 0.1 0.6-0.8 0.6-0.7 0.6 1.1 0.6 0 0.6-1.3 0.6 1.6 0.6 0.3 0.6-3.8 0.6 1.9 0.6-1.8 0.6 0.7 0.6 0.3 0.6 0.4 0.6-0.2 0.6-0.1 0.6-0.8 0.6-1.1 0.6 0.9 0.6-0.8 0.6 1 0.6-0.8 0.6-0.1 0.6-1.8 0.6 1.7 0.6-1 0.6 0.7 0.6-0.6 0.6 2.1 0.6-0.6 0.6 0.6 0.6-2.7 0.6 0.9 0.6-0.8 0.6-0.6 0.6 1 0.6-1.5 0.6 2.8 0.6-2.3 0.6 0.6 0.6-1.2 0.6 0.3 0.6-0.6 0.6 1.7 0.6-0.3 0.6-0.7 0.6-1.1 0.6 0.5 0.6 0.3 0.6-1.6 0.6 1 0.6-2 0.6 1 0.6-0.1 0.6 0.1 0.6 2 0.6-3.2 0.6 1.4 0.6-0.7 0.6-0.6 0.6 0.3 0.6-0.8 0.6 1.6 0.6-0.1 0.6-1.6 0.6 1.1 0.6-0.2 0.6-2.6 0.6 2.4 0.6-0.6 0.6-0.2 0.6-0.3 0.6-1.1 0.6 0.8 0.6-1.2 0.6 2.7 0.6-1.6 0.6 1.6 0.6-1.1 0.6 0.5 0.6-0.9 0.6 0.1 0.6 0.4 0.6-0.6 0.6 0.9 0.6-1.7 0.6 0.5 0.6-0.6 0.6 3 0.6-0.1 0.6-1.4 0.6 0.2 0.4-0.7 0 1.2 0.6 2.6 0.6-0.9 0.6 0.1 0.6 0.1 0.6 1.1 0.6 0.7 0.6-0.9 0.6 0.6 0.6 1.3 0.6-0.3 0.6-0.3 0.6 1 0.6 0.1 0.6-0.1 0.6 0.1 0.6 1 0.6-0.8 0.6-0.7 0.6 0.6 0.6 0.7 0.6-0.3 0.6-0.2 0.6 2.4 0.6-2.1 0.6 0.9 0.6 1.8 0.6-1.3 0.6 0.4 0.6-1.3 0.6 1.2 0.6-1.6 0.6 2.5 0.6-1.1 0.6 1.3 0.6-0.8 0.6-0.8 0.6 0.7 0.6 2 0.6-1 0.6-0.2 0.6 1.4 0.6-2.7 0.6 1.3 0.6 1.3 0.6-1.7 0.6 1.2 0.6-0.6 0.6 1.8 0.6-0.7 0.6-0.3 0.6-0.1 0.6-0.4 0.6-0.7 0.6 0.5 0.6-0.9 0.6 1.7 0.6 0.6 0.6 1.8 0.6-1.6 0.6 1 0.6-2.5 0.6 0.4 0.6 0.9 0.6-0.9 0.6 1.8 0.6 0 0.6-1 0.6-0.2 0.6 0.2 0.6-0.7 0.6 2.5 0.6-1.4 0.6 1.5 0.6-2.2 0.6 2.9 0.6-2.1 0.6 0.5 0.6 0.8 0.6 0.5 0.6 0.5 0.6-1.2 0.6-1.1 0.6 2.4 0.6-1.7 0.6-0.9 0.6-0.1 0.6 1 0.6-1.7 0.6 2 0.6-0.3 0.6 2.1 0.6-0.6 0.6-0.8 0.6-2 0.6 1.1 0.6 0.5 0.6 1.1 0.6-2.2 0.6 1.4 0.6-1 0.6 2.9 0.6-1.6 0.6-0.7 0.6 1 0.6-0.8 0.6 0.2 0.6 0.5 0.6-0.3 0.6 0.1 0.6 2.3 0.6-1.5 0.6-0.7 0.6 2.1 0.6-0.9 0.6 0.7 0.6-1.7 0.6 0.6 0.6 0.7 0.6 0.3 0.6-1 0.6 2.2 0.6-2.8 0.6 1.6 0.6-0.7 0.6 0.1 0.6 0.1 0.6 2.3 0.6-2.8 0.6-1.1 0.6 2.9 0.6-0.6 0.6 0.1 0.6 0.4 0.6 1.1 0.6-2.5 0.6 0.5 0.6 1.2 0.6-0.9 0.6 0.5 0.6-1.2 0.6 0.6 0.6 1.2 0.6-3.7 0.6 3.4 0.6-2.5 0.6 4.8 0.6-1.1 0.6 0.4 0.6 0.1 0.6-2.3 0.6 0.8 0.6-0.9 0.6 1.3 0.6-0.8 0.6 0.7 0.6-1 0.6 0.7 0.6-0.7 0.6 0.3 0.6-0.3 0.6 0.4 0.6 0.7 0.6 0.6 0.6-1.9 0.6 1.8 0.6-1.3 0.6 2.2 0.6-1.2 0.6-0.8 0.6 0.7 0.6 0.8 0.6-0.6 0.6 0.3 0.6-0.4 0.6 2.1 0.6-1.1 0.6-0.7 0.6 0.3 0.6 1.8 0.6-1.5 0.6 0 0.6-1.1 0.6 2 0.6-1.4 0.6 0.4 0.6 2.3 0.6-2.9 0.6 1.7 0.6-1.3 0.6-1 0.6 0.7 0.6 0.2 0.6 0.5 0.6-0.3 0.6 0.1 0.6 0.3 0.6 1.4 0.6-0.2 0.6-1.4 0.6 0.9 0.6-0.6 0.6 1.3 0.6-2.3 0.6 1.9 0.6 0 0.6-0.8 0.6 0 0.6 0.7 0.6-1.7 0.6 0.9 0.6-0.7 0.6 2.1 0.6-1.3 0.6 0.7 0.6-1.7 0.6 1.4 0.6 1.4 0.6-0.4 0.6 0.8 0.6-3.9 0.6-0.1 0.6 4.4 0.6-1.3 0.6-1.6 0.6 2.2 0.6-0.1 0.6-0.2 0.6 0.2 0.6 0.2 0.6-0.1 0.6-0.1 0.6 0.2 0.6-0.2 0.6 0 0.6 0 0.6-0.4 0.6 0.7 0.6 0.4 0.6-0.7 0.6 0.1 0.6 1.7 0.6 0.1 0.6-1.4 0.6-0.8 0.6 2 0.6-2.8 0.6 2.9 0.6-0.2 0.6-1.6 0.6 0.3 0.6-0.8 0.6 1.3 0.6-1.2 0.6-0.3 0.6 1.7 0.6-0.8 0.6 0.4 0.6-0.2 0.6-0.5 0.6 0.9 0.6-1 0.6 1.5 0.6-0.8 0.6 1.7 0.6-1.6 0.6 1 0.6 0.2 0.6-1.1 0.6-0.9 0.6 1.9 0.6-1.9 0.6 1.7 0.6-1.7 0.6 0.8 0.6 0.4 0.6-0.3 0.6 0.9 0.6 0.4 0.6-0.2 0.6 0 0.6 1 0.6-0.6 0.6-0.4 0.6-0.8 0.6-0.5 0.6 0.5 0.6 1.7 0.6-0.7 0.6 0.7 0.6-1.8 0.6-0.4 0.6 1.8 0.6-2.3 0.6 1.9 0.6-1.3 0.6 1.4 0.6 0.2 0.6-1.6 0.6 2.3 0.6-0.6 0.6-0.3 0.6-0.7 0.6 0.1 0.6 0.6 0.6 1.1 0.6-0.8 0.6-1.2 0.6-0.1 0.6 1.9 0.6-0.4 0.6 1 0.6-0.4 0.6 0.4 0.6 0.4 0.6-0.1 0.6-0.5 0.6-2.2 0.6 2.5 0.6 0.2 0.6-0.3 0.6-1.6 0.6 1.7 0.6 0.6 0.6-0.6 0.6-0.8 0.6-1.5 0.6 1.1 0.6 2.5 0.6-1.6 0.6 0.9 0.6-1.1 0.6-0.9 0.6 2.3 0.6-0.7 0.6 0.7 0.6-1 0.6-1 0.6 2.6 0.6-1.6 0.6 0.7 0.6-0.1 0.6 0.7 0.6-0.3 0.6 0.9 0.6-1.5 0.6 1.3 0.6 0.4 0.6-1.8 0.6-0.8 0.6 1.1 0.6 1.2 0.6-0.9 0.6 0.7 0.6-0.9 0.6-1.7 0.6 1 0.6-0.5 0.6-0.5 0.6 1.6 0.6 1.2 0.6-0.5 0.6 0 0.6 0 0.6-0.8 0.6 2 0.6-0.7 0.6-0.2 0.6-2.5 0.6 3 0.6 0 0.6-1.2 0.6-1.4 0.6 2.5 0.6-1.2 0.6 0.4 0.6 0 0.6 0.2 0.6-0.8 0.6 1.2 0.6 0.7 0.6-1.2 0.6-0.9 0.6 0.8 0.6 0.4 0.6 0 0.6 0.6 0.6-0.5 0.6 0 0.6-0.1 0.6-1.2 0.6 1.6 0.6 0.4 0.6-0.4 0.6-0.1 0.6 2.5 0.6-2.3 0.6 1.7 0.6-2.7 0.6 0 0.6-0.6 0.6 0.6 0.6 0.1 0.6 0.9 0.6 0.4 0.6-0.5 0.6 0.3 0.6-0.6 0.6-0.1 0.6-0.3 0.6 0.7 0.6 1.6 0.6-3.4 0.6 2.8 0.6 0.1 0.6-1 0.6 0.9 0.6 0.8 0.6-2 0.6 1 0.6-0.7 0.6 0.1 0.6 0.3 0.6 0 0.6-0.6 0.6 0 0.6 1.8 0.6 0.2 0.6-1.1 0.6 0.5 0.6-1 0.6-0.1 0.6 0.9 0.6 1 0.6-0.7 0.6-1.5 0.6 2.2 0.6 0.9 0.6-1.6 0.6-1.9 0.6 1.9 0.6 1.6 0.6-2 0.6 0.7 0.6-0.6 0.6 0.7 0.6-2.3 0.6 1.2 0.6 0.2 0.6 0.7 0.6-0.2 0.6-0.9 0.6 0.6 0.6-0.7 0.6 0.3 0.6 0.2 0.6 0.8 0.6 1.3 0.6-1.9 0.6-0.1 0.6 0.7 0.6-2.1 0.6 2.8 0.6 0.1 0.6-1.8 0.6 0.3 0.6 2.1 0.6-1.5 0.6-0.4 0.6-0.1 0.6 2.2 0.6-1.6 0.6-0.6 0.6 1.2 0.6 1.3 0.6-2.6 0.6-0.6 0.6 3.4 0.6-1.6 0.6 1.2 0.6-0.3 0.6-2.2 0.6-0.3 0.6 2.8 0.6-1.6 0.6 0.9 0.6-1.5 0.6 1.7 0.6-1.5 0.6-0.1 0.6 2 0.6-0.1 0.6-0.7 0.6 1 0.6-2.3 0.6 2.2 0.6 0.3 0.6-0.8 0.6-0.7 0.6-0.4 0.6 0.9 0.6-1 0.6 1.3 0.6-0.2 0.6-0.1 0.6 0.5 0.6-1.1 0.6 0.9 0.6 0 0.6-1.4 0.6 3 0.6-1.6 0.6 0 0.6 1 0.6-0.3 0.6-2.6 0.6 3.7 0.6-0.4 0.6-2.1 0.6 1.1 0.6 0.1 0.6-1.5 0.6 1.4 0.6 0.2 0.6 1.3 0.6-3.7 0.6 1.9 0.6-0.7 0.6 2.3 0.6-2.3 0.6 0.1 0.6 0.2 0.6 0.9 0.6 0.1 0.6 0 0.6-0.7 0.6 0.3 0.6-0.5 0.6 0.1 0.6 0.1 0.6-0.5 0.6 2.8 0.6-1.9 0.6 0 0.6-0.2 0.6 0.3 0.6 1.7 0.6 0.3 0.6-2 0.6 0.3 0.6 1.9 0.6-2.8 0.6 1.1 0.6 0.6 0.6-1.3 0.6 1.4 0.6-2.2 0.6 2 0.6 0.9 0.6-2.4 0.6 1.5 0.6 0.9 0.6-1.9 0.6 0.5 0.6-0.3 0.6-1.2 0.6 1.3 0.6 1.7 0.6-1.8 0.3 1.5" stroke="#ba55d3" stroke-width="1.6" fill="none"/>
<path d="M983.8 848l0.6 1 0.6 0.6 0.6-1.4 0.6 0.1 0.6 0 0.6-0.3 0.6 0.1 0.6-1.5 0.6 1.8 0.6 0.2 0.6-1.7 0.6 0.6 0.6 0.9 0.6 0.1 0.6 0.4 0.6 0.7 0.6-0.7 0.6 1.2 0.6-2.1 0.6-0.5 0.6-0.4 0.6 1.7 0.6 0.6 0.6-1.5 0.6 0.4 0.6-1.1 0.6 2.2 0.6-1.1 0.6 0.6 0.6-1.3 0.6 0.8 0.6 0.8 0.6-0.8 0.6-1.6 0.6 0.7 0.6 0.5 0.6 0.8 0.6-0.1 0.6 0.5 0.6-0.9 0.6-0.9 0.6 1.7 0.6-0.5 0.6-1.6 0.6 1.2 0.6-0.9 0.6 2.8 0.6-2.1 0.6 0.2 0.6 0.7 0.6-1.8 0.6 1.5 0.6-0.6 0.6 0.4 0.6-1.5 0.6 1.6 0.6-1.4 0.6 1.2 0.6 0.2 0.6 0 0.6 0.2 0.6-2.1 0.6 2.6 0.6-1.4 0.6 0.4 0.6 0.7 0.6 0.6 0.6-1.9 0.6 0.6 0.6 0.2 0.6 0.9 0-2.1 0.6 0.1 0.6-2 0.6-2 0.6-0.6 0.6-0.1 0.6-0.7 0.6-1.2 0.6 0.2 0.6-0.1 0.6-1.8 0.6 0.7 0.6-0.9 0.6-0.9 0.6 0.3 0.6-0.6 0.6-3.1 0.6 0.7 0.6-0.4 0.6-2 0.6-0.9 0.6 0.8 0.6-1.4 0.6 0.3 0.6-1.8 0.6 1.2 0.6-2.3 0.6-0.8 0.6 0.3 0.6-0.3 0.6-1.7 0.6 0.7 0.6-2 0.6 2.4 0.6-1.7 0.6-0.6 0.6-1 0.6-0.6 0.6-2.1 0.6 1 0.6-0.1 0.6-1.8 0.6 0.6 0.6-1.8 0.6 1.4 0.6-1.5 0.6 1 0.6-1.3 0.6-1.9 0.6 0.2 0.6 1.1 0.6-1 0.6-2.2 0.6-0.9 0.6-0.3 0.6-0.6 0.6-0.2 0.6 2.7 0.6-2.9 0.6 0.5 0.6-3 0.6 0.8 0.6-0.2 0.6-2.8 0.6 0.4 0.6-1.3 0.6-0.2 0.6 0.2 0.6 1.1 0.6-0.4 0.6-1.9 0.6-1.2 0.6 1.8 0.6-2 0.6-0.7 0.6 1.4 0.6-2.2 0.6-1.5 0.6 1.7 0.6-1.9 0.6-1.4 0.6 2.1 0.6-2.2 0.6-0.3 0.6 0.8 0.6 0.2 0.6-3.8 0.6 2 0.6 0.1 0.6 0 0.6-1.8 0.6-1.1 0.6 0.6 0.6-2.2 0.6 2.2 0.6-2.3 0.6-1.2 0.6 1.1 0.6 0.3 0.6-0.9 0.6-2.1 0.6 2.2 0.6-1.3 0.6-0.8 0.6-0.5 0.6 0.8 0.6-1.2 0.6-0.9 0.6-0.4 0.6-0.4 0.6-0.6 0.6-0.5 0.6-0.2 0.6 0.9 0.6-2.6 0.6-0.8 0.6 0.6 0.6 0.8 0.6-1.2 0.6-0.2 0.6 0.2 0.6-0.7 0.6-0.4 0.6-0.1 0.6-0.5 0.6-1.3 0.6-0.4 0.6 0 0.6-1.1 0.6 0.2 0.6-0.9 0.6 0 0.6-1.3 0.6 0 0.6 2.3 0.6-3.1 0.6 1.5 0.6-0.2 0.6 0.1 0.6-1.8 0.6 0.5 0.6-0.7 0.6 0.1 0.6-0.2 0.6 0.3 0.6-1.3 0.6-0.9 0.6-0.7 0.6-0.8 0.6 0.6 0.6 0.3 0.6-1.3 0.6 0.7 0.6 0.5 0.6-2 0.6 1.4 0.6-1 0.6-1.3 0.6-0.3 0.6 0.7 0.6-0.7 0.6 0.3 0.6-2.7 0.6 2.7 0.6-0.2 0.6-2.3 0.6 0.1 0.6 2.2 0.6-1.6 0.6-1.1 0.6-0.4 0.6-0.1 0.6 0.4 0.6-1.3 0.6 0.5 0.6-1.3 0.6-1.5 0.6 1.8 0.6-0.7 0.6 1.4 0.6-1.2 0.6 0.2 0.6-2.2 0.6 1.7 0.6-2.7 0.6 2.3 0.6-1 0.6 0.6 0.6 0.4 0.6-0.6 0.6-2.2 0.6-0.4 0.6 0.9 0.6-0.2 0.6-0.1 0.6-1.5 0.6-0.2 0.6 0.8 0.6 1.2 0.6-2.5 0.6 1.1 0.6-0.1 0.6-0.8 0.6-2.5 0.6 2.7 0.6-2.7 0.6 1.4 0.6-1.5 0.6 0.4 0.6 1.5 0.6-3 0.6 0.5 0.6 0.4 0.6-0.5 0.6 0.7 0.6-0.4 0.6 0.2 0.6-0.1 0.6 0 0.6 1.4 0.6-2.7 0.6 0.9 0.6-0.5 0.6 0.4 0.6-3.4 0.6 1.7 0.6 1 0.6-0.6 0.6 1.2 0.6-2.7 0.6 3.5 0.6-1.8 0.6-0.9 0.6-0.6 0.6-0.5 0.6 0.2 0.6 0.5 0.6-1 0.6 1.1 0.6-0.8 0.6 0.9 0.6-1.4 0.6 0.7 0.6-1 0.6 1.6 0.6-1.5 0.6 0 0.6 1.3 0.6-1.5 0.6-0.9 0.6 0.6 0.6-0.3 0.6 0.9 0.6 0.9 0.6-0.2 0.6-2.1 0.6 0.2 0.6 0.9 0.6-0.6 0.6-2.9 0.6 1.5 0.4 0.4 0 0.6 0.6 1.2 0.6 1 0.6-1.2 0.6 2.3 0.6-0.2 0.6 1 0.6 1.3 0.6-1.8 0.6-0.9 0.6 1.7 0.6 0.9 0.6 0 0.6 0.7 0.6-0.8 0.6 1.8 0.6 1.1 0.6-0.1 0.6-1.3 0.6 1.4 0.6 0.7 0.6-1.2 0.6 1.1 0.6-0.6 0.6 2.9 0.6-0.5 0.6-0.3 0.6-1.8 0.6 3 0.6-1.8 0.6 2.3 0.6 0.6 0.6 0.2 0.6-1.1 0.6-0.4 0.6 1.1 0.6 0 0.6-3.2 0.6 2.5 0.6 1.3 0.6-0.7 0.6 1.9 0.6-0.8 0.6 0.7 0.6 0.2 0.6 0.2 0.6 0.9 0.6-1.3 0.6-0.5 0.6-0.2 0.6 1.6 0.6-1.1 0.6 0.2 0.6 1.3 0.6-0.5 0.6 0.2 0.6 1.9 0.6-1 0.6-0.6 0.6 0.6 0.6-0.7 0.6 1.4 0.6 0.5 0.6 1 0.6-0.6 0.6-0.2 0.6 0.2 0.6-0.1 0.6-0.5 0.6-1.5 0.6 1.6 0.6 1 0.6 0.2 0.6-0.3 0.6 0 0.6-0.4 0.6 0.3 0.6-0.6 0.6 3.2 0.6-2.1 0.6 0.6 0.6 0.4 0.6-1.2 0.6 0.1 0.6 0.4 0.6 0.8 0.6 0.8 0.6-1.5 0.6 0.1 0.6-0.3 0.6 1.2 0.6 0.3 0.6 0.9 0.6 0.8 0.6-0.6 0.6-0.6 0.6-0.2 0.6 0.7 0.6-0.4 0.6 0.6 0.6 0.4 0.6-1.4 0.6 1.3 0.6-0.6 0.6-1.3 0.6 2.4 0.6-0.8 0.6-0.3 0.6 1.4 0.6 0.5 0.6-1.8 0.6 1 0.6-1 0.6 0.9 0.6 0.4 0.6 0.1 0.6-0.1 0.6 1.6 0.6-0.5 0.6-0.2 0.6-0.1 0.6-0.4 0.6-0.5 0.6-0.1 0.6 0.8 0.6 0.9 0.6-0.8 0.6-1.4 0.6 2.5 0.6-0.8 0.6 0.9 0.6-0.4 0.6-1 0.6 0.1 0.6 0.8 0.6-1.4 0.6 3.9 0.6-2.3 0.6 0.2 0.6-1 0.6 1.3 0.6 0.7 0.6 1 0.6-1.7 0.6 2.1 0.6-1.2 0.6-1.5 0.6 2.4 0.6-1.6 0.6 1.2 0.6 0.1 0.6-0.7 0.6 0 0.6 1.1 0.6-1.3 0.6-0.2 0.6 2.3 0.6-1.2 0.6 1.7 0.6-2.9 0.6 1.4 0.6 0.1 0.6-0.9 0.6 2.4 0.6-1.3 0.6-1.6 0.6 2.2 0.6-1.8 0.6 1.6 0.6 0.5 0.6 1.8 0.6-2.6 0.6 0.6 0.6-0.5 0.6 0 0.6 1.4 0.6 0.6 0.6-0.2 0.6-3.2 0.6 3.1 0.6-0.8 0.6-0.9 0.6 0.3 0.6-1 0.6 2.7 0.6-0.7 0.6 0.3 0.6-0.7 0.6-0.1 0.6 1.5 0.6 0.3 0.6-0.7 0.6 0 0.6 0.8 0.6 1 0.6-1.4 0.6-0.3 0.6-0.1 0.6 0.8 0.6-0.4 0.6 0.5 0.6 0.3 0.6-1.1 0.6 1.7 0.6 1 0.6-2.5 0.6 1.6 0.6-2 0.6 2.4 0.6-2.3 0.6 3 0.6-0.4 0.6-2.6 0.6 1.1 0.6-1.3 0.6 3.8 0.6-0.3 0.6-1.2 0.6-1 0.6 1.2 0.6 0.1 0.6 1.1 0.6 1 0.6-1 0.6 0.2 0.6-1 0.6-0.2 0.6 1.1 0.6-0.7 0.6-0.4 0.6-0.5 0.6 0 0.6 0.6 0.6-0.6 0.6-0.1 0.6 0.9 0.6-0.7 0.6 1.2 0.6 0.1 0.6 0.4 0.6-1.4 0.6 1.8 0.6-1.6 0.6 0.6 0.6 0.8 0.6-0.9 0.6 2.9 0.6-1.7 0.6 0 0.6 1 0.6-3 0.6 3.1 0.6-1.9 0.6 0.2 0.6-1 0.6 3 0.6-0.9 0.6-1.3 0.6 1.4 0.6 1.3 0.6-2 0.6 1 0.6-1.1 0.6 0.8 0.6 1.9 0.6-1.7 0.6-0.6 0.6 1.7 0.6-2.8 0.6 2 0.6 0.7 0.6-2.1 0.6 2.1 0.6 1.6 0.6-0.6 0.6-2.3 0.6 1.5 0.6-0.9 0.6 0.2 0.6 2.2 0.6-1.3 0.6-0.3 0.6 0.1 0.6-1.1 0.6-0.1 0.6 1 0.6 0.6 0.6-0.1 0.6 1.6 0.6-0.9 0.6-1 0.6 0.4 0.6 2 0.6-0.1 0.6-0.9 0.6-1.7 0.6 0.3 0.6 0.5 0.6 0.7 0.6-0.1 0.6 0.4 0.6-2.2 0.6 1.9 0.6 0.9 0.6-0.3 0.6-0.4 0.6-0.4 0.6-0.1 0.6-0.5 0.6 0.8 0.6 1 0.6-1 0.6 1.6 0.6-1.5 0.6 0 0.6 1.7 0.6-2 0.6 0.7 0.6-0.9 0.6 1.3 0.6-0.8 0.6 0.3 0.6-0.1 0.6 0.3 0.6 1.3 0.6 0.3 0.6 2 0.6-3 0.6 0.8 0.6-1.8 0.6 1.1 0.6-0.3 0.6 0.6 0.6 0.3 0.6-0.5 0.6-0.1 0.6-0.2 0.6 0.2 0.6 0.8 0.6-1.8 0.6 3.2 0.6-0.6 0.6-1.6 0.6 1.9 0.6-0.5 0.6-1.4 0.6 0.3 0.6 1.2 0.6-1.1 0.6 1 0.6-0.6 0.6 1.8 0.6-2.6 0.6 2.6 0.6-2 0.6 1 0.6 1.8 0.6-3 0.6-0.2 0.6 0.2 0.6-1 0.6 1.5 0.6 3 0.6-2.8 0.6 0.5 0.6 1 0.6-0.1 0.6-2.4 0.6 2.5 0.6 1.2 0.6-0.2 0.6-3 0.6 1.9 0.6 0.9 0.6-0.2 0.6-1.3 0.6 1 0.6 0.1 0.6-0.9 0.6 0.6 0.6 0 0.6-0.7 0.6 0.3 0.6-0.2 0.6 2.1 0.6-1.1 0.6 0.5 0.6-0.5 0.6 0.7 0.6-1.4 0.6 0.7 0.6-1.2 0.6 1.3 0.6-0.1 0.6-1.7 0.6 0 0.6 0.9 0.6 1.5 0.6-0.9 0.6 0.2 0.6-1.5 0.6 4.9 0.6-3.3 0.6-1.1 0.6-0.2 0.6 2.7 0.6-1 0.6 0.4 0.6 0.2 0.6-0.5 0.6 0.7 0.6 1.6 0.6-2.3 0.6 0.5 0.6 0.9 0.6-0.2 0.6 0.9 0.6-1.1 0.6-0.8 0.6 1.1 0.6-2.1 0.6 1.4 0.6 0.4 0.6 1.7 0.6-2.5 0.6 0.5 0.6 0.1 0.6-1.2 0.6 1.1 0.6 0 0.6-0.1 0.6 0.7 0.6 1.5 0.6-2.1 0.6 1.2 0.6-0.4 0.6-0.5 0.6 1 0.6 0.6 0.6-0.5 0.6-0.4 0.6 0.2 0.6-0.9 0.6 1.6 0.6-0.8 0.6-0.5 0.6 0 0.6 0.8 0.6-1.5 0.6 0.9 0.6-0.7 0.6 2.6 0.6 0.2 0.6-1.1 0.6-1.3 0.6 0.7 0.6 1.8 0.6-1.1 0.6 0.5 0.6 1.3 0.6-0.2 0.6-0.8 0.6-0.5 0.6-0.7 0.6 0.3 0.6 0.6 0.6 0.4 0.6-0.6 0.6-0.3 0.6 0.6 0.6 1.5 0.6-1.2 0.6-1.9 0.6 1.7 0.6 0.2 0.6 0.7 0.6-1.9 0.6 0.3 0.6-0.4 0.6 2.4 0.6-1.1 0.6 0.4 0.6 0.1 0.6-0.9 0.6-1.7 0.6 3.5 0.6-3.2 0.6 1.8 0.6 0.3 0.6-0.5 0.6 0.4 0.6-0.1 0.6 0 0.6 0.2 0.6-2.2 0.6 0.3 0.6 2.7 0.6-1.9 0.6 1.3 0.6 1.3 0.6-1.1 0.6-1.5 0.6 1.2 0.6 0 0.6-0.2 0.6 0.5 0.6-1 0.6 1 0.6 0.9 0.6-1.4 0.6 0.8 0.6 1.1 0.6-0.7 0.6-0.9 0.6-1.6 0.6 1 0.6 1.5 0.6-0.6 0.6 0.3 0.6 3.1 0.6-2.8 0.6-1 0.6 1.9 0.6-0.1 0.6-1.2 0.6 0.5 0.6 0 0.6-0.5 0.6-0.6 0.6 2.1 0.6-0.1 0.6-1.7 0.6 1.1 0.6-1 0.6-0.4 0.6 1.5 0.6-0.6 0.6 0 0.6 0.2 0.6 0.4 0.6 0.1 0.6-1.3 0.6 0.7 0.6 0.7 0.6-1.9 0.6 1.3 0.6-1.3 0.6 1.3 0.6 0.7 0.6-0.4 0.6-0.1 0.6 0.1 0.6-0.9 0.6 1.9 0.6-2.1 0.6-0.6 0.6 1.3 0.6-0.3 0.6 1.2 0.6-0.7 0.6-0.7 0.6 0.1 0.6 0 0.6-0.4 0.6 1.5 0.6 1.6 0.6-2.5 0.6 0 0.6 0.6 0.3 0.1" stroke="#800000" stroke-width="1.6" fill="none"/>
<path d="M983.8 847.9l0.6 1.6 0.6-2.5 0.6 2.1 0.6-1 0.6-0.1 0.6 0.3 0.6-0.1 0.6-1.1 0.6 1.3 0.6 0.2 0.6-1.2 0.6 1.2 0.6-0.3 0.6 0.3 0.6-0.1 0.6-0.2 0.6 1.3 0.6-1.4 0.6-1.1 0.6 1.6 0.6-1.8 0.6 1.2 0.6-0.3 0.6-1.2 0.6 0.3 0.6 2.9 0.6-2.2 0.6-1.2 0.6 0.9 0.6 0.4 0.6 1 0.6-1.8 0.6 1.2 0.6-0.1 0.6-0.1 0.6 0.9 0.6-1 0.6-1.3 0.6 1.5 0.6-0.4 0.6 0.3 0.6 0.4 0.6-2.1 0.6 1.9 0.6 0.2 0.6-1 0.6-0.6 0.6 2.4 0.6-0.4 0.6-1.8 0.6 0.6 0.6 0 0.6 0.4 0.6-0.9 0.6 1.4 0.6-0.4 0.6 0.6 0.6-0.6 0.6 1.4 0.6-2 0.6 1.3 0.6-0.1 0.6-0.6 0.6 0.3 0.6-0.6 0.6-0.8 0.6 0.9 0.6 1 0.6-2.4 0.6 2.9 0.6-2.3 0 0.2 0.6-3.4 0.6 0.3 0.6-3 0.6-0.6 0.6-1.5 0.6-1.4 0.6-1.2 0.6-1.7 0.6-1.6 0.6 0.1 0.6-2.9 0.6-1 0.6-0.8 0.6-2.4 0.6-0.9 0.6-0.8 0.6-1.3 0.6-1.3 0.6-1.7 0.6-0.5 0.6-1 0.6-3 0.6-0.6 0.6-0.5 0.6-0.9 0.6-0.5 0.6-1.6 0.6-2 0.6-1.5 0.6 0.1 0.6-2 0.6-1.3 0.6 0.7 0.6-2.4 0.6-0.8 0.6-0.5 0.6-3.3 0.6 3.6 0.6-2.1 0.6-0.5 0.6-2.8 0.6-0.8 0.6-0.2 0.6-1.5 0.6-0.8 0.6-1.7 0.6-1.2 0.6 1.2 0.6-1.6 0.6-1.1 0.6-1.4 0.6 1.9 0.6-3.4 0.6-2.3 0.6 1.5 0.6-3.2 0.6 2.5 0.6-2.4 0.6-0.3 0.6-0.8 0.6-1.2 0.6-1.7 0.6 0.9 0.6-0.9 0.6-1.7 0.6 0.8 0.6-0.6 0.6-2.2 0.6 0.2 0.6-2.1 0.6-1.7 0.6 2.5 0.6-1.6 0.6 0.4 0.6-1.6 0.6-0.5 0.6-0.6 0.6-0.4 0.6-0.5 0.6-2.1 0.6 0.9 0.6-2.8 0.6 1.8 0.6 1.2 0.6-0.7 0.6-1 0.6-2.6 0.6 0.6 0.6-1.8 0.6 1.2 0.6-1.6 0.6-1 0.6 0.4 0.6-0.1 0.6-2.8 0.6 0.5 0.6 0 0.6-0.4 0.6-1.4 0.6 0.2 0.6-1.1 0.6 1 0.6-0.9 0.6 0.8 0.6-2.6 0.6-0.5 0.6 0.7 0.6 0.2 0.6-1.3 0.6-0.8 0.6-1.6 0.6 0.9 0.6 0.1 0.6 0.3 0.6-2.8 0.6 1.2 0.6-0.7 0.6 1.3 0.6-1.2 0.6-2.8 0.6 0.6 0.6 0.1 0.6-0.7 0.6-0.3 0.6-1.2 0.6 0.5 0.6-0.8 0.6 0.2 0.6-0.7 0.6 0.3 0.6-0.4 0.6-0.3 0.6-0.6 0.6-1.2 0.6 0.8 0.6 1 0.6-1.6 0.6-0.3 0.6 0.1 0.6-0.9 0.6-0.9 0.6-0.1 0.6-0.8 0.6-0.5 0.6 0.8 0.6-0.7 0.6-0.8 0.6 0.9 0.6 0.3 0.6-1.1 0.6-0.7 0.6 1.9 0.6-2 0.6-0.8 0.6 1 0.6 0.1 0.6-2.8 0.6-0.1 0.6 0.6 0.6 0.8 0.6-1.7 0.6 2.2 0.6-1.1 0.6 1 0.6-1.7 0.6 0 0.6 0 0.6-1.5 0.6-1 0.6 0.5 0.6-1.4 0.6 0 0.6 0.9 0.6 0.3 0.6 0.1 0.6 0.2 0.6-2.1 0.6-0.8 0.6 2.6 0.6-1.2 0.6-0.2 0.6-1.6 0.6 0.1 0.6 1.4 0.6-1.5 0.6 1.5 0.6-2.3 0.6 2.2 0.6-2.6 0.6-0.3 0.6 0.9 0.6-0.6 0.6-0.4 0.6 1 0.6-0.1 0.6-2 0.6 1.8 0.6 0.4 0.6-0.4 0.6-1.4 0.6-0.6 0.6 0.2 0.6 0.2 0.6-1.4 0.6-0.7 0.6 1.6 0.6-0.2 0.6-0.4 0.6-1.3 0.6-0.6 0.6 1.1 0.6 0.6 0.6 0.3 0.6-1.5 0.6-1.1 0.6 0.1 0.6 0.3 0.6 1.1 0.6-2.5 0.6 0.9 0.6-0.1 0.6 0.4 0.6-0.3 0.6-0.6 0.6 1.5 0.6 0.2 0.6-0.5 0.6-0.6 0.6 0.2 0.6-0.4 0.6-0.5 0.6-1.7 0.6 1.6 0.6 0.3 0.6-1.1 0.6 1.1 0.6-0.9 0.6-1.2 0.6 1.6 0.6-2 0.6 1 0.6-1.4 0.6-0.2 0.6 1.5 0.6-1 0.6 0.3 0.6-0.1 0.6 0.3 0.6 1.1 0.6-1.9 0.6 0.2 0.6-0.6 0.6 1.7 0.6-1.4 0.6-1.1 0.6 0.2 0.6 1.9 0.6-1.6 0.6 1.6 0.6-2.8 0.4 1.5 0-1.2 0.6 6.4 0.6 1.1 0.6 0.9 0.6-0.7 0.6 0.8 0.6-0.7 0.6 0.3 0.6 1.2 0.6 0.5 0.6-0.4 0.6 1.7 0.6-1.9 0.6-0.1 0.6 2.3 0.6-0.4 0.6-0.7 0.6 2.2 0.6-1.5 0.6 2.8 0.6-3.6 0.6 1 0.6 1.6 0.6 0.8 0.6 0.4 0.6-1.7 0.6 0.8 0.6 0.6 0.6 0.7 0.6-1.1 0.6 0.5 0.6-1.3 0.6 2.8 0.6-1.6 0.6 1.8 0.6-0.1 0.6 0.6 0.6-0.3 0.6 1.1 0.6 0.2 0.6-1.4 0.6 0.9 0.6 0.4 0.6-0.9 0.6 1.4 0.6 1 0.6 0.3 0.6-1.1 0.6-2.4 0.6 3.6 0.6 0.3 0.6-0.7 0.6 0.4 0.6-0.3 0.6 0 0.6 1.7 0.6 0.7 0.6-0.9 0.6-0.9 0.6-0.4 0.6 2.2 0.6 0.2 0.6 0.8 0.6-1.2 0.6-0.1 0.6 0.3 0.6 1.6 0.6 1 0.6-2.3 0.6 0.5 0.6 0.2 0.6 1.2 0.6-1.2 0.6 1.6 0.6 0 0.6 0 0.6 1 0.6-1.6 0.6 0.4 0.6 2.2 0.6-1.2 0.6-0.4 0.6 0.5 0.6-0.5 0.6 2 0.6-1.4 0.6 1.9 0.6 0.2 0.6-0.5 0.6 2 0.6-1.5 0.6 0.4 0.6 0.7 0.6-1.3 0.6-0.4 0.6 1.7 0.6-1 0.6-0.4 0.6 0.3 0.6 2 0.6 1.2 0.6-1.5 0.6 0.3 0.6 0.5 0.6 0.5 0.6-0.6 0.6-0.3 0.6 1.2 0.6-0.9 0.6 0 0.6 0.1 0.6 0.3 0.6 0.5 0.6 0.3 0.6 0.8 0.6-0.8 0.6 0.6 0.6-0.2 0.6 0.5 0.6 1.2 0.6-1.5 0.6-1 0.6 2.6 0.6-0.2 0.6 0.2 0.6-2.3 0.6 1.3 0.6 1.4 0.6-0.3 0.6 0 0.6 1.5 0.6-1.8 0.6 0.7 0.6 0.9 0.6-0.7 0.6 0.3 0.6 0.6 0.6-0.3 0.6 0.6 0.6 1.3 0.6-1.9 0.6 0.7 0.6 0.1 0.6 0.5 0.6 0.8 0.6 1.2 0.6 0 0.6 1.3 0.6-3.8 0.6 1.1 0.6 3 0.6-1.9 0.6 0.2 0.6-0.2 0.6-0.3 0.6 1.9 0.6-1 0.6-0.6 0.6 0.7 0.6 0.1 0.6 0.8 0.6 0.1 0.6-0.1 0.6-0.2 0.6 0.7 0.6-0.1 0.6-0.8 0.6 1.3 0.6-1.3 0.6 1.4 0.6-0.7 0.6 2.4 0.6-0.8 0.6-0.7 0.6 0.2 0.6 1.3 0.6-1.6 0.6 2.3 0.6 0 0.6-0.6 0.6-0.8 0.6 1.3 0.6-0.7 0.6-1.3 0.6 0.9 0.6 2 0.6-1.2 0.6-0.2 0.6 1.9 0.6-0.6 0.6 0.2 0.6-0.1 0.6-1.4 0.6 1.3 0.6-1.2 0.6 2.7 0.6-1.6 0.6 3 0.6-3.1 0.6 0.4 0.6 2.1 0.6-2.7 0.6 1.5 0.6 0.5 0.6 2.2 0.6-2 0.6 0.2 0.6-0.1 0.6-0.1 0.6-0.2 0.6 1.2 0.6-0.6 0.6 0.2 0.6-1.3 0.6 2.4 0.6-0.3 0.6-0.3 0.6 0.6 0.6 1.2 0.6-3.6 0.6 3.2 0.6-0.9 0.6 0.1 0.6 1.1 0.6 0.5 0.6-1.7 0.6 2.5 0.6-1.8 0.6 2 0.6-1.5 0.6 2.9 0.6-4 0.6 1.6 0.6 1.3 0.6-1.9 0.6 1.3 0.6-2.4 0.6 0.8 0.6 0.4 0.6 1.2 0.6-1.1 0.6 1.9 0.6-0.6 0.6-2.2 0.6 3.2 0.6 0.8 0.6-0.4 0.6 0.1 0.6-1.1 0.6 0.3 0.6 0.4 0.6 0.2 0.6 0.6 0.6 1 0.6-0.8 0.6-1.3 0.6-2 0.6 1 0.6 2 0.6-1.2 0.6 2.9 0.6-2 0.6 0.3 0.6 0.8 0.6-0.7 0.6 0.4 0.6 1.5 0.6 0.1 0.6 0.8 0.6-0.3 0.6 0.1 0.6-2.7 0.6 1.8 0.6-0.7 0.6 0.9 0.6 0.4 0.6 0.4 0.6 0 0.6 0.5 0.6-0.4 0.6 0.7 0.6-2.4 0.6 0.3 0.6 1.4 0.6 0.6 0.6-2.1 0.6-0.4 0.6 2.8 0.6-1.1 0.6 0.9 0.6 0.4 0.6-0.1 0.6-1.1 0.6 1.9 0.6-1 0.6 1.2 0.6-2.1 0.6 1.9 0.6-0.4 0.6-0.2 0.6 1 0.6-0.4 0.6-0.1 0.6 0.2 0.6-0.9 0.6 1.3 0.6-1.1 0.6-0.1 0.6 1.2 0.6 0.2 0.6-0.8 0.6-0.2 0.6 0 0.6 0.7 0.6-0.2 0.6 2.2 0.6-2.5 0.6 1 0.6 1.4 0.6-0.6 0.6-0.2 0.6 1.4 0.6-0.1 0.6 0.2 0.6-1.6 0.6 1.3 0.6-0.1 0.6-1.2 0.6 1.6 0.6-0.3 0.6-0.7 0.6 0.9 0.6 0.4 0.6 0 0.6-0.3 0.6-1.6 0.6 1.4 0.6 0.1 0.6-1.8 0.6 2.5 0.6-0.7 0.6 0.9 0.6-0.2 0.6-0.4 0.6-1.2 0.6 1.6 0.6-0.5 0.6 0.4 0.6 0.3 0.6-0.1 0.6 0.9 0.6 0.1 0.6-0.2 0.6-1 0.6 0.5 0.6 1 0.6 1.1 0.6-2.3 0.6-0.1 0.6 0 0.6 0.6 0.6 1 0.6-1.3 0.6 0.4 0.6 0.3 0.6 2 0.6-1.5 0.6 1.2 0.6-0.1 0.6-1.1 0.6 0.3 0.6-0.3 0.6 0 0.6-0.7 0.6 0.6 0.6 0.3 0.6 1.3 0.6-1.1 0.6-0.3 0.6 1.4 0.6-0.8 0.6 0.2 0.6-0.5 0.6 1.6 0.6-1.2 0.6 0.7 0.6-1.1 0.6 0.7 0.6-2.2 0.6 3.5 0.6 1.6 0.6-3.7 0.6 3.5 0.6-0.5 0.6-0.2 0.6-1.1 0.6 0 0.6 1.6 0.6-1.5 0.6-0.7 0.6 0.6 0.6 1 0.6-0.6 0.6 0.3 0.6 0.3 0.6 1.8 0.6-1.4 0.6 0.3 0.6-1.5 0.6 0.7 0.6 1.5 0.6-0.5 0.6 0.1 0.6-0.7 0.6-1 0.6 1.2 0.6 0 0.6 2.1 0.6-2.5 0.6 0.4 0.6 2.2 0.6-2.1 0.6-0.2 0.6 1.3 0.6-1.3 0.6 0.7 0.6-0.2 0.6 1 0.6-0.8 0.6 0.7 0.6-1.2 0.6 0.8 0.6 0.5 0.6-0.7 0.6 1.2 0.6-0.5 0.6-2 0.6 3.7 0.6-1.9 0.6 1.1 0.6-0.1 0.6-0.4 0.6 0.4 0.6 0.1 0.6-1.2 0.6 1.6 0.6-1.6 0.6 2 0.6-1.6 0.6 1 0.6-0.4 0.6 0.8 0.6-0.7 0.6 0.1 0.6 0.1 0.6 0.6 0.6 1 0.6-2.1 0.6-1.8 0.6 2.7 0.6-0.4 0.6 0.8 0.6-0.1 0.6-0.4 0.6 0.1 0.6 0.1 0.6-0.7 0.6-0.3 0.6 0 0.6-0.1 0.6 1.4 0.6 0.8 0.6 0.5 0.6-1.7 0.6 0.9 0.6-1.1 0.6 1 0.6-0.2 0.6 1.8 0.6-1.9 0.6 0 0.6-0.3 0.6 0 0.6 1.8 0.6 0.7 0.6-2.1 0.6-0.4 0.6 0.5 0.6-0.6 0.6 1.5 0.6 1.6 0.6-2.2 0.6 0.9 0.6 0.3 0.6-2 0.6 1.4 0.6-1.1 0.6 1.8 0.6-0.2 0.6-0.2 0.6-2.2 0.6 1.7 0.6 0.7 0.6-0.6 0.6 1.2 0.6-0.3 0.6 0.3 0.6-0.3 0.6 0.9 0.6-1.1 0.6 0.1 0.6 1.1 0.6-1.7 0.6-0.6 0.6 2.3 0.6 0.4 0.6-0.5 0.6 1.6 0.6-1.9 0.6-1.6 0.6 1.2 0.6-1.5 0.6 1.8 0.6 0.5 0.6 1.1 0.6 0.4 0.6-1.4 0.6 1.2 0.6-0.7 0.6-1 0.6 0.1 0.6-0.8 0.6 1.3 0.6 0.1 0.6-0.6 0.6 0.7 0.6-0.7 0.6 2.4 0.6-3 0.6 2.5 0.6-1.4 0.6 0.3 0.6 0.7 0.6-2.3 0.6 1.6 0.6 1 0.6-1.8 0.6 0 0.6-1 0.6 1.9 0.6-1 0.6 1.1 0.6-0.2 0.6 0.9 0.6 1 0.6-2.7 0.6 0.8 0.6-0.1 0.6 2.5 0.6-1.9 0.6-0.5 0.6-0.6 0.6 1.9 0.6-1.5 0.6 0.5 0.6 1.5 0.6-0.5 0.6 0.1 0.6 0.3 0.3-1.1" stroke="#6495ed" stroke-width="1.6" fill="none"/>
<path d="M983.8 848.4l0.6 1.1 0.6-1.9 0.6 1.5 0.6 1.2 0.6-1.6 0.6-0.2 0.6-0.3 0.6 0.2 0.6 0.4 0.6 0.1 0.6-1 0.6 1.3 0.6-0.8 0.6-1.1 0.6-0.4 0.6 1.7 0.6-0.7 0.6 0.6 0.6-1.5 0.6 2 0.6-1.3 0.6-0.9 0.6 0.5 0.6 1.6 0.6 0.5 0.6-1 0.6-0.5 0.6 1.4 0.6-0.1 0.6-2.9 0.6 1.9 0.6 0.3 0.6-0.5 0.6 1.6 0.6-2 0.6 1.2 0.6-0.8 0.6 0.5 0.6 0.2 0.6 0.4 0.6-1.3 0.6 1.4 0.6-0.6 0.6 0.9 0.6-2.3 0.6 0.4 0.6 1 0.6-0.5 0.6-1.4 0.6 0.5 0.6-0.4 0.6 1.2 0.6 0.5 0.6-2.8 0.6 2.5 0.6 0.5 0.6-0.9 0.6-0.1 0.6 1.4 0.6-2.8 0.6 2.1 0.6 0.3 0.6-0.5 0.6 0.5 0.6 0.7 0.6-1.2 0.6 0.7 0.6-0.4 0.6-0.1 0.6 0.5 0.6 0.8 0-3.6 0.6-0.7 0.6-4.6 0.6-0.6 0.6-1.9 0.6-4 0.6-3.4 0.6-0.6 0.6-3 0.6-0.3 0.6-1.7 0.6-2.9 0.6-2.2 0.6-3.3 0.6-1.7 0.6-1.3 0.6-3.2 0.6 0.1 0.6-4.1 0.6-0.5 0.6-2.3 0.6-1.1 0.6-4.3 0.6 0.5 0.6-2.8 0.6-2.1 0.6-1 0.6-2.2 0.6 0 0.6-4.3 0.6 1 0.6-0.8 0.6-3.4 0.6-1.3 0.6-1.6 0.6-0.6 0.6-1.6 0.6-2.3 0.6 0 0.6-1.7 0.6-2.2 0.6-0.2 0.6-1.3 0.6-2.1 0.6 0.3 0.6-3.4 0.6-1.5 0.6 2.1 0.6-5.2 0.6-1.3 0.6 1.4 0.6-1.9 0.6-0.9 0.6-2.6 0.6-0.6 0.6-1.2 0.6-0.2 0.6-1.1 0.6 0.2 0.6-1.9 0.6-0.2 0.6-1.9 0.6-2.6 0.6 1.1 0.6-3 0.6 1.4 0.6-0.6 0.6-2.5 0.6 1.2 0.6-1.7 0.6-1.5 0.6-0.4 0.6-1 0.6 0.6 0.6-1.8 0.6 0.2 0.6-1.2 0.6-2.4 0.6 0.3 0.6-1.4 0.6 1.2 0.6-2.8 0.6-0.4 0.6-0.7 0.6-2 0.6 0.1 0.6 0.1 0.6-2.4 0.6 2.1 0.6-2.3 0.6 2 0.6-1.7 0.6-1.5 0.6-0.6 0.6-2.6 0.6-0.6 0.6 2.3 0.6-1.4 0.6-1.3 0.6-0.4 0.6 0.8 0.6-0.8 0.6-1.8 0.6-0.9 0.6 0.8 0.6-0.9 0.6-0.2 0.6-0.8 0.6-0.7 0.6 1.6 0.6-1.6 0.6-1.6 0.6 0.6 0.6-0.6 0.6-2.8 0.6 1.3 0.6 0.2 0.6 0.2 0.6-1.3 0.6 0.3 0.6-2.4 0.6 1.7 0.6 0 0.6-2.5 0.6-0.1 0.6 2 0.6-2.8 0.6-0.2 0.6 1 0.6-3.2 0.6-0.6 0.6 0.6 0.6 3.3 0.6-4.4 0.6 0.6 0.6 0.3 0.6-2.1 0.6 0.2 0.6 0.5 0.6 1.3 0.6-2.1 0.6 1.5 0.6-1.9 0.6 0.4 0.6 0.4 0.6-2.1 0.6 1.2 0.6 0.2 0.6 0.5 0.6-1.9 0.6 0.8 0.6-0.6 0.6-1.5 0.6 0.7 0.6-1 0.6 1.2 0.6-2.9 0.6 2 0.6-1.6 0.6 0.8 0.6-0.2 0.6-2.5 0.6 0.7 0.6-0.1 0.6 1.9 0.6-2.4 0.6 1.2 0.6 0.4 0.6-0.9 0.6-2.2 0.6 0.4 0.6 0.9 0.6-0.6 0.6-0.9 0.6 1.1 0.6-0.7 0.6 0.2 0.6 0.9 0.6-1.9 0.6 0.5 0.6-1.7 0.6 0.8 0.6 0.7 0.6 1.6 0.6-2.4 0.6 0.3 0.6-1.2 0.6 0 0.6 0.1 0.6-0.1 0.6-0.7 0.6 1.2 0.6-1.2 0.6-0.6 0.6 2.3 0.6-3.2 0.6 2.1 0.6-0.7 0.6-0.6 0.6-0.4 0.6-0.4 0.6-0.6 0.6 2 0.6 0.9 0.6-3.1 0.6 0.4 0.6 0.4 0.6 0 0.6 0.3 0.6-1.5 0.6-1.3 0.6 1.6 0.6-0.7 0.6 0.4 0.6-1.2 0.6 1 0.6 0.9 0.6-1.1 0.6 0.9 0.6-2.2 0.6 2.2 0.6-1.4 0.6 0.5 0.6-1.8 0.6 2 0.6-1.4 0.6 0.8 0.6-0.7 0.6-1.1 0.6 2 0.6 0.1 0.6-1 0.6-0.6 0.6 1 0.6-0.3 0.6-0.9 0.6-0.6 0.6 1.9 0.6-1.9 0.6-0.3 0.6 0.6 0.6-0.1 0.6-0.9 0.6 0.3 0.6 0.6 0.6-2.8 0.6 2.1 0.6-0.7 0.6 1.8 0.6-1.1 0.6 0.6 0.6 0 0.6-1.6 0.6 1.9 0.6-1 0.6 0.2 0.6-1.9 0.6 1.3 0.6 0.7 0.6-1 0.6 1.4 0.4-1.7 0 55.6 0-55.6 0-0.1 0.6 0.8 0.6 1 0.6-0.2 0.6 2.1 0.6 3.5 0.6-0.3 0.6-0.2 0.6 2.6 0.6-1 0.6 0.4 0.6 0.6 0.6 2.2 0.6 0.1 0.6-0.3 0.6 0.5 0.6 0.4 0.6 1.6 0.6 0.5 0.6 0.6 0.6 0.3 0.6 0.3 0.6-0.7 0.6 0.1 0.6 0.4 0.6 0.6 0.6 2.9 0.6-1.1 0.6 0.9 0.6-1 0.6 1.7 0.6-0.4 0.6 1.4 0.6-2.1 0.6 3.2 0.6-0.8 0.6-0.6 0.6 1.3 0.6-1.1 0.6 1.9 0.6 0.6 0.6-0.9 0.6 0.4 0.6 0.7 0.6 0.2 0.6 1.4 0.6-1.8 0.6 0.3 0.6 0.6 0.6 1.6 0.6 0.6 0.6 0.3 0.6-2.3 0.6 3.7 0.6-4.2 0.6 2.9 0.6 0.2 0.6 0.3 0.6 2.2 0.6-0.9 0.6 0.2 0.6-1.4 0.6 3.1 0.6-2.7 0.6 1.9 0.6 1 0.6-0.5 0.6-0.2 0.6 0.6 0.6-1.2 0.6 1.8 0.6-0.3 0.6 1.1 0.6-0.8 0.6 1.2 0.6-1.6 0.6 2.2 0.6 0.6 0.6-1.9 0.6 0.6 0.6-0.2 0.6 1.1 0.6-1.5 0.6 1.9 0.6-0.4 0.6 1.3 0.6 0 0.6 2.3 0.6-1.2 0.6 0 0.6 0.4 0.6 0.8 0.6-0.3 0.6-0.6 0.6 1.8 0.6 0 0.6-2.5 0.6 1.5 0.6 1.2 0.6 1.2 0.6-0.4 0.6-0.6 0.6 0.4 0.6 0.9 0.6-0.3 0.6 1.1 0.6-1.4 0.6 1.7 0.6-1.5 0.6 0.7 0.6 0.8 0.6 1.3 0.6-3.3 0.6 3.4 0.6-1.5 0.6 1.1 0.6 1.6 0.6-1.8 0.6-1.3 0.6 3.8 0.6-1.4 0.6 0.4 0.6 0.8 0.6-1.4 0.6 0.4 0.6-0.1 0.6 1.5 0.6-0.4 0.6 1 0.6 0.5 0.6-1.1 0.6 0.5 0.6 0.9 0.6-1.9 0.6 3.5 0.6 0.5 0.6-1.4 0.6 1.1 0.6 0.2 0.6-1.7 0.6 0.8 0.6 0.9 0.6-0.4 0.6 2 0.6-1 0.6 0.1 0.6-1.4 0.6 0.1 0.6 1.2 0.6 2 0.6-2.1 0.6 1.2 0.6 0.6 0.6-1 0.6 0 0.6 0.6 0.6-0.4 0.6-1 0.6 1.2 0.6 2.6 0.6-2.3 0.6 2.5 0.6-2.5 0.6 1.7 0.6-0.5 0.6 0.4 0.6 1.8 0.6-1.2 0.6 1 0.6-2.6 0.6 1.1 0.6 2.9 0.6-0.3 0.6-0.9 0.6 0.7 0.6 0.7 0.6-0.2 0.6-0.1 0.6 0 0.6 0.5 0.6 1.2 0.6-1.4 0.6-1.4 0.6 2.9 0.6 1.3 0.6 0.2 0.6-1.4 0.6 0.5 0.6 2.3 0.6-3.7 0.6 2.2 0.6 0.1 0.6-1.1 0.6 1.4 0.6-0.3 0.6-0.7 0.6 0.9 0.6 2.5 0.6-1.9 0.6-0.2 0.6 1.6 0.6-0.8 0.6 0.6 0.6 0 0.6-0.7 0.6 1.2 0.6-1.5 0.6 1.6 0.6-0.8 0.6 2.6 0.6-0.7 0.6 0.7 0.6-0.8 0.6 0.7 0.6-1.7 0.6-0.8 0.6 3.2 0.6-1.1 0.6 0 0.6-2.1 0.6 4.9 0.6-2 0.6 0.5 0.6-0.6 0.6 1.2 0.6-0.4 0.6-3.1 0.6 2.3 0.6 1.8 0.6 0.1 0.6-1.7 0.6 2 0.6-0.6 0.6-2.4 0.6 3.6 0.6-1.5 0.6 0.3 0.6 1.3 0.6-2.2 0.6 2.6 0.6 0.6 0.6-1.5 0.6 1.7 0.6 0.3 0.6-2.6 0.6 1 0.6 0.9 0.6 0.6 0.6-1.2 0.6 0.6 0.6 0.8 0.6 1 0.6-0.4 0.6 1 0.6-0.4 0.6-0.1 0.6-0.6 0.6-0.7 0.6 3.2 0.6-2.5 0.6 0.5 0.6 0.8 0.6-1 0.6 1.4 0.6-0.8 0.6 0.7 0.6 2 0.6-1.6 0.6 0.1 0.6 1.1 0.6-0.6 0.6 0.1 0.6-1.7 0.6 0.7 0.6 1.9 0.6-1.1 0.6 0.3 0.6 2.3 0.6-2 0.6 1.5 0.6-0.9 0.6-0.3 0.6 0.4 0.6-0.3 0.6-0.7 0.6 2.1 0.6-0.8 0.6 1.6 0.6-1 0.6-0.4 0.6-1.6 0.6 2.3 0.6 1.1 0.6-1.2 0.6 0.5 0.6-1.9 0.6 2.3 0.6-0.7 0.6-0.8 0.6 2.8 0.6-0.9 0.6-0.2 0.6 0.2 0.6-0.1 0.6 0.2 0.6 0.8 0.6-0.5 0.6 0.6 0.6 1.3 0.6-1.1 0.6 0.6 0.6 0.5 0.6-1 0.6 0.6 0.6 0 0.6-0.7 0.6 0 0.6 3.5 0.6-2.8 0.6 1 0.6-1.1 0.6-0.2 0.6-1.1 0.6 2 0.6 1.7 0.6-1.2 0.6-0.9 0.6 1.7 0.6-0.1 0.6 0 0.6-1.4 0.6 1.1 0.6 1.2 0.6-1 0.6 1.7 0.6-1.1 0.6-0.3 0.6 0.3 0.6 1.5 0.6-2.7 0.6 1 0.6-0.4 0.6 1.6 0.6 0.4 0.6-0.6 0.6-0.6 0.6 1.2 0.6-2 0.6 2.9 0.6-1.3 0.6 1.9 0.6-1.8 0.6 2.2 0.6-0.4 0.6-0.7 0.6-2.1 0.6 2 0.6 0.8 0.6-1 0.6 1.7 0.6-1.9 0.6 0.2 0.6 2.8 0.6-2.2 0.6-0.6 0.6 0.9 0.6 1.4 0.6-2 0.6 1 0.6 0.4 0.6-0.4 0.6 0.6 0.6-1.3 0.6 2.5 0.6-0.2 0.6 0.9 0.6-0.3 0.6 0.1 0.6-1.2 0.6 0.9 0.6-1.2 0.6 1.1 0.6-1.4 0.6 2 0.6 0.3 0.6-1.8 0.6 0.7 0.6-0.2 0.6-1.1 0.6 1.6 0.6-1.5 0.6 0.7 0.6 0 0.6 1.3 0.6 0.5 0.6 0.1 0.6-1.1 0.6 1.4 0.6 1 0.6-2.5 0.6 3.1 0.6-0.9 0.6-0.8 0.6 0.2 0.6-0.7 0.6 0.9 0.6 2.5 0.6-4.2 0.6 1.9 0.6-0.2 0.6-1.1 0.6 1.3 0.6 0 0.6 1.8 0.6-1.6 0.6 1.1 0.6-1.1 0.6-0.3 0.6 1.4 0.6-1.4 0.6 0.8 0.6 0.2 0.6-0.2 0.6 0.7 0.6 2.3 0.6-2.7 0.6-0.1 0.6 2.1 0.6-2.5 0.6-0.2 0.6 0.7 0.6 1.3 0.6 0.6 0.6-1 0.6 0.7 0.6-1.7 0.6 2.3 0.6-0.4 0.6-0.5 0.6 0 0.6 1.5 0.6-1.3 0.6-0.4 0.6 1.5 0.6-2 0.6 0.3 0.6 1.9 0.6-1.4 0.6-0.5 0.6 0.1 0.6 1.6 0.6-0.3 0.6-0.8 0.6 1.4 0.6-1.6 0.6-0.5 0.6 2 0.6-2.2 0.6 1.6 0.6 1 0.6-1.9 0.6-0.5 0.6 2.5 0.6 0.2 0.6 1.5 0.6-2 0.6 0.2 0.6-0.8 0.6 2.2 0.6 0.6 0.6-1.5 0.6 0.7 0.6 1 0.6-1 0.6 1.5 0.6-0.3 0.6-1.3 0.6-0.2 0.6-0.2 0.6-0.3 0.6 2.7 0.6-2 0.6-0.5 0.6-0.3 0.6 0.6 0.6 1.5 0.6-0.3 0.6-2.5 0.6 2.5 0.6 0.1 0.6 0.3 0.6 0.7 0.6-0.7 0.6 2 0.6-2.7 0.6 1.8 0.6-2 0.6 0.4 0.6 2.1 0.6-0.5 0.6-1.5 0.6 1.3 0.6-2 0.6 1 0.6-0.1 0.6-0.9 0.6 2.3 0.6-1.9 0.6 1.2 0.6 1.5 0.6-0.7 0.6-1.3 0.6 0.3 0.6 0.9 0.6-1.6 0.6 1.9 0.6 0 0.6 0.9 0.6-1.1 0.6 0.1 0.6-1.6 0.6 1.9 0.6 0.8 0.6-0.9 0.6-0.2 0.6-0.5 0.6 0.1 0.6 0.8 0.6-1.2 0.6 2.1 0.6-0.8 0.6 0.7 0.6-0.6 0.6 0.3 0.6-1.1 0.6 3.2 0.6-0.8 0.6-0.9 0.6-1 0.6 3 0.6-1.4 0.6-0.7 0.6-0.3 0.6 0.4 0.6 1.3 0.6-2.1 0.6 0.7 0.6 0.1 0.6 0.6 0.6 0.5 0.6-0.6 0.6 0.4 0.6 0 0.6-0.8 0.6 0.6 0.6-1.2 0.6 1.4 0.6-0.1 0.6 0.4 0.6-0.7 0.6 2.8 0.6-1.2 0.6-1.2 0.6-0.7 0.6 0.9 0.6-0.2 0.6 0.5 0.6 0.4 0.6-1.2 0.3 0.3" stroke="#c71585" stroke-width="1.6" fill="none"/>
<path d="M983.8 849.7l0.6-1.3 0.6-0.8 0.6-0.8 0.6 3.2 0.6-1.2 0.6-0.9 0.6 1.1 0.6-1.4 0.6 1.2 0.6-1.1 0.6-0.3 0.6 0.8 0.6 0.2 0.6 0.6 0.6-1 0.6 1.6 0.6-1.4 0.6-0.2 0.6-0.9 0.6 1 0.6 0.7 0.6-1.3 0.6 0.5 0.6-0.1 0.6 0.9 0.6 0.7 0.6-1.7 0.6 0.7 0.6 0 0.6-1.4 0.6 2 0.6-0.9 0.6 0.4 0.6-1.1 0.6 1.2 0.6-1.8 0.6 1.9 0.6 0.5 0.6-1.3 0.6-0.7 0.6 1.9 0.6-1.3 0.6-0.2 0.6 2.2 0.6-2.5 0.6 0.4 0.6 0.2 0.6 0.1 0.6-0.8 0.6 2.3 0.6-2.8 0.6 0.9 0.6 0.6 0.6 0 0.6-0.9 0.6-0.1 0.6 0.6 0.6-0.4 0.6 0.8 0.6-1 0.6 0.7 0.6 1.1 0.6-0.6 0.6 0.6 0.6-0.1 0.6-0.2 0.6-0.7 0.6 0 0.6-0.8 0.6 2.6 0.6-0.6 0-4.6 0.6-5.3 0.6-10.2 0.6-8 0.6-6.7 0.6-7.6 0.6-6.7 0.6-7 0.6-3.1 0.6-7.2 0.6-4.7 0.6-6.9 0.6-5.7 0.6-4.5 0.6-7.8 0.6-3.3 0.6-4.5 0.6-3.2 0.6-1.5 0.6-5.3 0.6-3.2 0.6-3.2 0.6-4.3 0.6-3.7 0.6-4.6 0.6-1.7 0.6-2.9 0.6-2.2 0.6-1.8 0.6-3.8 0.6-0.9 0.6-2.4 0.6-1.8 0.6-3.4 0.6 0.8 0.6-3.9 0.6-2.5 0.6 0.1 0.6-1.9 0.6-2.4 0.6-2.1 0.6-1.8 0.6-1.2 0.6-0.5 0.6-2.5 0.6 0.3 0.6-2.8 0.6-0.1 0.6-0.8 0.6-1.9 0.6 0 0.6-1.2 0.6-2.2 0.6-0.9 0.6-0.1 0.6 0.5 0.6-0.3 0.6-3.3 0.6 0.4 0.6 0.1 0.6-1.7 0.6 0.3 0.6-2.2 0.6-1 0.6-0.1 0.6-0.4 0.6-0.1 0.6-3.3 0.6 1.3 0.6 0.6 0.6-0.8 0.6 1.8 0.6-1.9 0.6-0.9 0.6 0.3 0.6 0.8 0.6-3.6 0.6 0.9 0.6-0.3 0.6 0 0.6 0.7 0.6-1 0.6 0.1 0.6-0.1 0.6-1.6 0.6-0.9 0.6 0.7 0.6-0.1 0.6-0.5 0.6-0.2 0.6-0.1 0.6 0.3 0.6 0 0.6 0.4 0.6-1 0.6-0.6 0.6-0.2 0.6 0 0.6-0.1 0.6 0.2 0.6 0.3 0.6-1.5 0.6 1.3 0.6-2.3 0.6 1.8 0.6 0.5 0.6-2 0.6 1.4 0.6-0.7 0.6-0.2 0.6-0.1 0.6 0.5 0.6-1.5 0.6 1 0.6-1.3 0.6 0.3 0.6 0.8 0.6-2.1 0.6 2.1 0.6-0.2 0.6-1.3 0.6 0 0.6 0.1 0.6 0.4 0.6 1.3 0.6 0.4 0.6-2.2 0.6-0.5 0.6 0.2 0.6 0.6 0.6-0.2 0.6 0.7 0.6 1.1 0.6-2.8 0.6 1.1 0.6-2.1 0.6 1.4 0.6-0.1 0.6-0.8 0.6 1.9 0.6-1.8 0.6 0.9 0.6-0.2 0.6 0.3 0.6-1 0.6-0.8 0.6 2.8 0.6-1.3 0.6-0.4 0.6 1.8 0.6-3.1 0.6 1.8 0.6-2 0.6 2.2 0.6 0 0.6-1.6 0.6 0 0.6 0.9 0.6 0 0.6 0 0.6-0.4 0.6 0 0.6 0.3 0.6 0.4 0.6 1.4 0.6-2.1 0.6 0.9 0.6-0.9 0.6-0.2 0.6 2.1 0.6-2.1 0.6 1.9 0.6-1.1 0.6 0.5 0.6-2.1 0.6-0.3 0.6 3 0.6-2 0.6-0.2 0.6 0.1 0.6 0.2 0.6-1.6 0.6 2.7 0.6-1.4 0.6 0.8 0.6 0.8 0.6-1.2 0.6-1.4 0.6 1.4 0.6-1 0.6 0.5 0.6-0.3 0.6 0.1 0.6-1 0.6-0.7 0.6 2.3 0.6-1.3 0.6 0.9 0.6-1 0.6 0.2 0.6 1.2 0.6-2.5 0.6 0.9 0.6 0.7 0.6-0.1 0.6-0.8 0.6 0.3 0.6-1.4 0.6 3.1 0.6-2.4 0.6 1.3 0.6-1.6 0.6 0.6 0.6-0.3 0.6-0.2 0.6-0.1 0.6 1.4 0.6-0.8 0.6-1 0.6 2.3 0.6-0.2 0.6-0.5 0.6 0.2 0.6-0.3 0.6-1 0.6 1.6 0.6-0.5 0.6-0.3 0.6 0.5 0.6-0.5 0.6-0.8 0.6 1.6 0.6-1.8 0.6-0.8 0.6 2.5 0.6-1.9 0.6 0.4 0.6 1.4 0.6-0.9 0.6 0.1 0.6-1.2 0.6 0 0.6-0.4 0.6 1.3 0.6-0.7 0.6-0.2 0.6 0.9 0.6-1.4 0.6 1.6 0.6 0.4 0.6-0.2 0.6 0.5 0.6-1.4 0.6-0.9 0.6 0.7 0.6-0.5 0.6-0.7 0.6 2 0.6-0.9 0.6 1 0.6 0.3 0.4-3.5 0 1.3 0.6 6.8 0.6 5.2 0.6 2.2 0.6 3.4 0.6 1.3 0.6 0.6 0.6 1.3 0.6-0.6 0.6 0.9 0.6 2.3 0.6-0.8 0.6 1.9 0.6 0.8 0.6-0.6 0.6 0.1 0.6 2.7 0.6 0.9 0.6 1.2 0.6-0.9 0.6 0.8 0.6-1.3 0.6 1.1 0.6 1.7 0.6-0.5 0.6 1.4 0.6 1.5 0.6-1 0.6 0.5 0.6 0.4 0.6 1.2 0.6 0.7 0.6 0.2 0.6-0.5 0.6 0.5 0.6 2.7 0.6 1.8 0.6-0.6 0.6 1.9 0.6-2.5 0.6 1.5 0.6-1.7 0.6 3.1 0.6-0.2 0.6-0.7 0.6 0.2 0.6 0.9 0.6 1.7 0.6-0.1 0.6 0.5 0.6 0 0.6 1.5 0.6 0.3 0.6 0.2 0.6-0.8 0.6 3.1 0.6-1.8 0.6 1.7 0.6 0.7 0.6 0 0.6 0.4 0.6 1.8 0.6-1.5 0.6 2.5 0.6-2.3 0.6 1.2 0.6 1.5 0.6 1.5 0.6 2 0.6-3.8 0.6 1.3 0.6 1.6 0.6 0.9 0.6-0.4 0.6 2.1 0.6-1 0.6-0.7 0.6-0.3 0.6 1.1 0.6 1.6 0.6 0.2 0.6-2.7 0.6 3.1 0.6 0.4 0.6 0.1 0.6 0.7 0.6-1.1 0.6 2.4 0.6-1.9 0.6 1.7 0.6 3.2 0.6-2.5 0.6 0.1 0.6 1.8 0.6 0.5 0.6 1.9 0.6-2.2 0.6 1.5 0.6-1.3 0.6 2.1 0.6 0.3 0.6-0.5 0.6 2.2 0.6-0.5 0.6 0.9 0.6-0.2 0.6 0.4 0.6 0 0.6 0.8 0.6 0.9 0.6-1.8 0.6 1.3 0.6 0.6 0.6-0.8 0.6 0.6 0.6 3.3 0.6-1.5 0.6-0.2 0.6 0.8 0.6 1.2 0.6-2.8 0.6 1.2 0.6 1.3 0.6 1.2 0.6 0 0.6-0.2 0.6-0.1 0.6 0.3 0.6 1.7 0.6-1.8 0.6-0.3 0.6 1.3 0.6 1.8 0.6 1.5 0.6-1.7 0.6 1 0.6-0.5 0.6 1.5 0.6 0.2 0.6 1.3 0.6-1.4 0.6 0.6 0.6 1.4 0.6-0.9 0.6 0.2 0.6 2.1 0.6-1.2 0.6 1.5 0.6-1.8 0.6 2 0.6 0.5 0.6-1.6 0.6 1.1 0.6-1.3 0.6 3.8 0.6-1.5 0.6-0.3 0.6 0.4 0.6 2.7 0.6-1 0.6 0.9 0.6-0.3 0.6-0.2 0.6 0.7 0.6-0.3 0.6 0.9 0.6-1.4 0.6 1.8 0.6 0.7 0.6-0.5 0.6 0.7 0.6 0.1 0.6-1.4 0.6 1 0.6 1.7 0.6-3.4 0.6 3.8 0.6 1.1 0.6-0.6 0.6 1.7 0.6-0.8 0.6 0.5 0.6 0.5 0.6-1 0.6-1.4 0.6 1.6 0.6 1.6 0.6-1.6 0.6 0 0.6 0.2 0.6 3 0.6-1.9 0.6-0.1 0.6 0.6 0.6 1.1 0.6-0.3 0.6 1.1 0.6-0.7 0.6 0.4 0.6 0.8 0.6 1.4 0.6-2 0.6-0.4 0.6 3.3 0.6 0.1 0.6-1.4 0.6 1.2 0.6-0.5 0.6 0.9 0.6-1.9 0.6 1.9 0.6 1.8 0.6-1.9 0.6-0.5 0.6 1.2 0.6-1 0.6 2.2 0.6-2 0.6-0.8 0.6 3.3 0.6-0.1 0.6 1 0.6-1.6 0.6 0.2 0.6 0.7 0.6 1.9 0.6-1.9 0.6 0.7 0.6 0.7 0.6-0.7 0.6 1.4 0.6 0.4 0.6-2.4 0.6 3.6 0.6-1.5 0.6 0.4 0.6 1.3 0.6-1.3 0.6 1.6 0.6 0.4 0.6-1.4 0.6 1.9 0.6 0 0.6-1.4 0.6 1 0.6 0.2 0.6-2.3 0.6 1.3 0.6 1.2 0.6-0.6 0.6 1.8 0.6-1.5 0.6 1.1 0.6-0.5 0.6 1.7 0.6 0.2 0.6-0.9 0.6 0.8 0.6 0.9 0.6-1.3 0.6 0.9 0.6 0.6 0.6-1.7 0.6 0 0.6-0.2 0.6 2 0.6-0.3 0.6 1.7 0.6-1.8 0.6 1.1 0.6-0.5 0.6-0.6 0.6 0.9 0.6 2.2 0.6-2.9 0.6 3.2 0.6-1.5 0.6 0.3 0.6-0.6 0.6 1 0.6-0.1 0.6 0 0.6-0.1 0.6-2.5 0.6 3.2 0.6 0.2 0.6 0.8 0.6 0.7 0.6-0.9 0.6 0.8 0.6 0 0.6 0.5 0.6 0.6 0.6-0.2 0.6-0.6 0.6-0.9 0.6 2.3 0.6-0.4 0.6 0.7 0.6-2.1 0.6 0.1 0.6-0.3 0.6 1.9 0.6-0.6 0.6 2.1 0.6-1.9 0.6 1.1 0.6 0.4 0.6-0.7 0.6 0.7 0.6 0 0.6-0.2 0.6 0.8 0.6-1.2 0.6 2 0.6-0.4 0.6 0.9 0.6-2.5 0.6 1.8 0.6-0.5 0.6 0.2 0.6-1.3 0.6 0.8 0.6 0.7 0.6 0.7 0.6-0.7 0.6-0.6 0.6 1.3 0.6-0.3 0.6 0.3 0.6 0.8 0.6 0.7 0.6-1.4 0.6 1.4 0.6 0.6 0.6-1.3 0.6 1.1 0.6-1.1 0.6 0.2 0.6 0.6 0.6-0.5 0.6 0.4 0.6-0.2 0.6 0.7 0.6 0.5 0.6 0.9 0.6-1.2 0.6 0 0.6 1.2 0.6-0.2 0.6-1.2 0.6 0 0.6 0.5 0.6 0.8 0.6 0.2 0.6-1.7 0.6 1.7 0.6-0.3 0.6 1.3 0.6-1.1 0.6-0.8 0.6 2.2 0.6 0.7 0.6 0.6 0.6-1.8 0.6 0.5 0.6-0.2 0.6-0.8 0.6 2.2 0.6 1.4 0.6-1.3 0.6-1.4 0.6 1.4 0.6-0.5 0.6 0.9 0.6-1.5 0.6-0.2 0.6 0.2 0.6 1.4 0.6-2.3 0.6 0 0.6 1.7 0.6 0.9 0.6 0.4 0.6-0.6 0.6-0.3 0.6 1.6 0.6-0.6 0.6-1.5 0.6 1.6 0.6-0.8 0.6-0.5 0.6 1.2 0.6 0.9 0.6-2.2 0.6 1.5 0.6 0.8 0.6 1.4 0.6-2.4 0.6 1.1 0.6-0.6 0.6 1.7 0.6-0.3 0.6-0.1 0.6-1.3 0.6 2.3 0.6-1.3 0.6-1 0.6-0.7 0.6 1.8 0.6-0.7 0.6 1.2 0.6 0.1 0.6 0.3 0.6 0.8 0.6-2 0.6 0.4 0.6-0.8 0.6 0.4 0.6 0.5 0.6-0.6 0.6 3 0.6-2.1 0.6 1.4 0.6-1 0.6-0.4 0.6 2.2 0.6-1.3 0.6 0.6 0.6 0.4 0.6-1 0.6 1.5 0.6-1.4 0.6 1.2 0.6-0.7 0.6 1.2 0.6-1 0.6 0.6 0.6-0.4 0.6 1.1 0.6-1.5 0.6 1.2 0.6-1 0.6 0.6 0.6 0.2 0.6-0.8 0.6 1.5 0.6-2.1 0.6 2 0.6 0 0.6 1.8 0.6-3 0.6-0.1 0.6 1.3 0.6-0.4 0.6 0.3 0.6-0.4 0.6 1.1 0.6 0.5 0.6-0.1 0.6-0.5 0.6-0.2 0.6 1.4 0.6 0.8 0.6-0.7 0.6-1 0.6 0.8 0.6-0.9 0.6 1.6 0.6-2.2 0.6-0.4 0.6 2.9 0.6-1.7 0.6 2.1 0.6-1.5 0.6-1.2 0.6 1.7 0.6-0.4 0.6 0.8 0.6-0.8 0.6 0.3 0.6 0 0.6-0.9 0.6 1.8 0.6-0.8 0.6 0.9 0.6-1.1 0.6 1.1 0.6 0.3 0.6-1.4 0.6 0.6 0.6 1.4 0.6-2.8 0.6 1.9 0.6-0.6 0.6-0.1 0.6 1.5 0.6 0.1 0.6 0 0.6 0.1 0.6-2.3 0.6 1.6 0.6-1.4 0.6 1.8 0.6 0.1 0.6-0.2 0.6 0.7 0.6-2.6 0.6 2.8 0.6 0.5 0.6-4.6 0.6 3.8 0.6 0.4 0.6-0.2 0.6-1.3 0.6 0 0.6 1.1 0.6-0.5 0.6-1.4 0.6 1.7 0.6 0.7 0.6 0 0.6-0.7 0.6 0.1 0.6-0.7 0.6 1.4 0.6 0.4 0.6-0.8 0.6 1 0.6-1 0.6-0.8 0.6 1.9 0.6-0.1 0.6-1.6 0.6 1.4 0.6-1 0.6 1.4 0.6-0.4 0.6-2 0.6 1.8 0.6-1.5 0.6 0.8 0.6 0.6 0.6-0.4 0.6-0.9 0.6 0.6 0.6 1.3 0.6 0.7 0.6-1.9 0.6 1.5 0.6-0.2 0.6-0.9 0.6 0.3 0.6-0.3 0.6 2.1 0.6-3.5 0.6 2.2 0.6 0 0.6-0.5 0.6 0.4 0.6 0.3 0.6 1.2 0.6-0.3 0.6-0.8 0.6 1.1 0.6-2 0.6 2.6 0.6-0.9 0.6-1 0.3-0.9" stroke="#ff0000" stroke-width="1.6" fill="none"/>
<path d="M983.8 847.8l0.6 0.6 0.6-1.2 0.6-0.2 0.6 0.9 0.6 1 0.6-1.2 0.6 0.2 0.6 0.1 0.6 0.2 0.6-0.5 0.6 1.5 0.6-0.8 0.6-0.1 0.6 0.2 0.6 0.4 0.6 0.3 0.6-1 0.6 0.2 0.6 0.2 0.6-0.8 0.6-0.1 0.6 0.4 0.6 0.5 0.6-0.4 0.6-1.7 0.6 1 0.6 0.9 0.6-0.5 0.6 0.3 0.6-0.5 0.6 1.3 0.6-0.5 0.6 0.2 0.6-1.4 0.6 1.7 0.6-1.3 0.6 1.9 0.6-1.7 0.6 0.1 0.6-1.3 0.6 1.6 0.6-0.8 0.6 0.1 0.6 1.2 0.6 1.1 0.6-2.1 0.6-0.5 0.6-0.8 0.6 1.2 0.6 0.7 0.6-1.3 0.6 0.3 0.6 1.7 0.6-0.3 0.6 0.2 0.6-1.7 0.6 0.2 0.6-0.1 0.6 0.6 0.6 0.1 0.6 0.5 0.6 0.3 0.6-0.1 0.6 0.1 0.6 0.2 0.6-1.1 0.6 0 0.6-0.3 0.6 2.2 0.6-1.7 0.6-0.5 0-1.6 0.6-15.9 0.6-14.8 0.6-14.3 0.6-12.9 0.6-10.6 0.6-13.5 0.6-9.7 0.6-8.5 0.6-11.4 0.6-8.1 0.6-5.7 0.6-9.2 0.6-5.2 0.6-7.6 0.6-4 0.6-4.4 0.6-7.3 0.6-4.8 0.6-3.3 0.6-5.1 0.6-3.8 0.6-2.8 0.6-2.5 0.6-1.2 0.6-3.5 0.6-2 0.6-2.7 0.6-3.3 0.6-2.7 0.6 0 0.6-3.3 0.6 0.5 0.6-3 0.6-1.8 0.6-0.2 0.6-1.3 0.6-0.9 0.6-1.9 0.6-0.2 0.6-2.6 0.6 1 0.6-2.6 0.6 0.9 0.6-0.5 0.6 0 0.6-1.1 0.6-1.8 0.6 0.2 0.6 0.6 0.6-0.3 0.6-1.7 0.6 0.6 0.6 0.5 0.6-2.4 0.6 0.9 0.6-0.2 0.6-0.8 0.6 0.2 0.6 1.1 0.6-1.1 0.6-0.5 0.6-0.4 0.6-0.5 0.6-1 0.6 0 0.6-0.5 0.6 1.1 0.6-0.5 0.6-0.8 0.6 2.4 0.6-1.2 0.6 1 0.6 0.4 0.6 0.2 0.6-1.3 0.6-2.3 0.6 2.6 0.6-0.8 0.6-1.5 0.6-1.2 0.6 3.5 0.6 0.1 0.6 0.4 0.6 0.2 0.6-0.1 0.6-0.8 0.6-0.1 0.6 0.6 0.6-0.6 0.6-0.2 0.6 0.5 0.6-1.2 0.6-0.5 0.6 2.8 0.6 0.1 0.6-0.9 0.6-1.8 0.6 0.3 0.6 1.4 0.6-0.5 0.6-0.6 0.6 1.9 0.6-1.4 0.6 0 0.6 0.1 0.6-0.7 0.6 1.6 0.6-2.6 0.6 1.6 0.6 0.8 0.6 0.9 0.6-1 0.6-1.5 0.6 1.8 0.6-0.1 0.6-0.8 0.6-0.5 0.6-0.6 0.6 0.8 0.6 0.4 0.6 2.4 0.6-2.2 0.6-0.4 0.6-1.5 0.6 0.7 0.6 0.5 0.6 0.5 0.6 0 0.6 1.1 0.6 0.3 0.6 0 0.6-1.6 0.6 0.1 0.6-0.5 0.6-0.6 0.6 0.1 0.6 1.7 0.6-1.1 0.6 1.6 0.6-1 0.6-0.3 0.6 0.6 0.6 0.1 0.6 2.6 0.6-3.1 0.6 1.1 0.6-1.6 0.6 0.8 0.6 1.7 0.6-0.8 0.6 1.1 0.6-3.5 0.6 0.7 0.6 1 0.6-1.1 0.6 0.5 0.6-0.5 0.6 2 0.6-0.9 0.6 0.3 0.6-1.2 0.6 0.8 0.6 2 0.6-1 0.6-0.6 0.6-0.7 0.6 0.7 0.6 0.3 0.6 1.7 0.6-1.7 0.6-0.5 0.6 0 0.6-0.8 0.6 1.2 0.6-1.2 0.6 0.5 0.6 0.4 0.6 2.6 0.6-0.3 0.6-1.7 0.6 0.9 0.6-0.6 0.6 0.3 0.6-0.6 0.6 0.7 0.6 1 0.6-1.6 0.6 1.3 0.6-1.1 0.6 1 0.6-1.8 0.6 1.5 0.6-1.2 0.6-0.1 0.6 0.8 0.6 1.9 0.6-1.8 0.6 0.8 0.6-0.6 0.6-1 0.6-0.6 0.6 0 0.6-0.7 0.6 2.2 0.6-0.3 0.6 0.2 0.6 0.4 0.6 1.4 0.6-2.4 0.6 0.5 0.6 0.2 0.6 0.5 0.6-0.9 0.6 1.7 0.6-1.6 0.6 0.7 0.6-1.8 0.6 1.9 0.6-0.2 0.6-0.2 0.6-0.4 0.6 1 0.6 0.2 0.6 1.6 0.6-2.9 0.6 1.2 0.6 0 0.6 0.9 0.6-1.8 0.6-0.1 0.6 0.6 0.6-0.5 0.6 0.6 0.6-0.6 0.6 0.7 0.6 1 0.6-0.9 0.6 0.3 0.6 0.4 0.6 0.3 0.6-0.4 0.6-1.9 0.6 0.6 0.6 2.4 0.6-2.2 0.6 0.7 0.6 1.1 0.6-1.8 0.6-1.2 0.6 1.2 0.6 1.4 0.6 0.3 0.6-0.2 0.6 1.5 0.6-0.9 0.6-2.9 0.6 0.1 0.6 1.4 0.6-1.3 0.6 2.6 0.4-2.9 0-11.5 0 11.5 0 0.7 0.6 2.1 0.6 4.4 0.6 4 0.6 0.7 0.6 0.1 0.6 3.8 0.6 2 0.6 3.1 0.6 3.6 0.6 0.3 0.6 1.8 0.6 1.3 0.6 1.4 0.6 1.9 0.6 2.5 0.6 2.3 0.6 1 0.6 1 0.6 2.2 0.6 0.3 0.6 2.8 0.6-0.9 0.6 0.6 0.6 2.9 0.6 0.4 0.6 3.2 0.6-0.9 0.6 1.8 0.6 0.8 0.6 1.6 0.6 0.8 0.6-1.8 0.6 0.3 0.6 1.9 0.6 2.1 0.6 1 0.6-0.6 0.6 3 0.6-1 0.6 2.1 0.6-0.8 0.6-0.6 0.6 1.5 0.6 1.8 0.6 0.7 0.6-0.3 0.6 2.4 0.6-1.1 0.6 0.8 0.6 0.4 0.6-0.3 0.6-0.4 0.6 1.6 0.6 0.1 0.6 0.2 0.6 1.2 0.6-0.1 0.6 1.6 0.6 0.3 0.6-1.1 0.6 2.5 0.6-0.9 0.6-0.9 0.6 0.6 0.6 1.3 0.6 1.2 0.6-0.7 0.6 2.1 0.6 1.5 0.6-2.4 0.6 1.3 0.6-0.8 0.6 2.3 0.6-2.7 0.6 2.8 0.6-0.8 0.6 1 0.6 0.5 0.6-0.5 0.6 0.1 0.6 2.8 0.6-0.8 0.6 0 0.6 1.4 0.6-1.8 0.6 2 0.6-0.6 0.6-0.9 0.6 1.3 0.6 1.2 0.6-0.7 0.6 0 0.6 1.9 0.6-0.3 0.6-0.2 0.6-0.9 0.6 2.4 0.6 0.8 0.6-0.7 0.6 0.6 0.6-0.6 0.6 1.6 0.6 0.3 0.6-0.4 0.6 1.1 0.6-0.6 0.6 1.8 0.6 0 0.6-1 0.6 1.5 0.6-0.7 0.6-0.2 0.6 0.5 0.6-0.1 0.6 1.3 0.6-0.3 0.6 0.5 0.6 2.1 0.6-4.1 0.6 2.2 0.6 1.6 0.6-1.6 0.6-0.1 0.6 2.9 0.6 0.7 0.6-1.6 0.6 0.9 0.6-0.4 0.6-0.1 0.6 1.6 0.6 0.3 0.6-0.3 0.6-0.8 0.6 1.4 0.6-0.4 0.6 0.3 0.6 0.9 0.6 0 0.6-1.1 0.6 2.2 0.6-0.8 0.6 0.4 0.6-0.5 0.6 0.7 0.6-0.4 0.6 1.6 0.6-0.4 0.6 0.5 0.6 1.7 0.6-1.6 0.6 1.6 0.6-1.4 0.6 1.1 0.6-1.2 0.6 1.8 0.6 0.5 0.6-3.3 0.6 2.3 0.6 1.5 0.6 0.1 0.6-0.3 0.6 0.7 0.6 0.9 0.6-0.1 0.6-1.5 0.6 2.3 0.6-1 0.6 1.1 0.6 0.3 0.6-0.2 0.6 1.7 0.6-0.4 0.6 0 0.6 1.3 0.6-1.8 0.6 0.5 0.6 1.3 0.6-0.5 0.6-0.5 0.6 1.6 0.6 0.4 0.6-1.7 0.6 2 0.6-1 0.6 0.7 0.6 0.3 0.6 1.4 0.6-0.7 0.6 1.1 0.6-1.1 0.6 0.8 0.6-0.6 0.6 1.9 0.6-1 0.6-0.4 0.6 1.8 0.6 0 0.6-0.1 0.6 0.1 0.6 0.3 0.6 0.1 0.6-0.2 0.6-0.2 0.6 1 0.6-0.6 0.6 2.1 0.6-1.2 0.6 0.2 0.6-1.5 0.6 1.5 0.6 0.4 0.6-1.2 0.6 1.3 0.6 0.3 0.6 1.1 0.6 1.1 0.6-2.2 0.6 2.2 0.6 0.6 0.6 0 0.6-0.9 0.6-1.2 0.6 2.1 0.6-0.3 0.6 0.7 0.6 0.3 0.6-0.6 0.6-0.9 0.6 0.9 0.6-0.3 0.6 1.7 0.6-0.5 0.6-1.4 0.6 0.3 0.6 2.4 0.6-1.5 0.6-0.2 0.6 2.9 0.6-1.2 0.6-0.1 0.6 0.8 0.6 1.7 0.6-1.3 0.6 1.6 0.6-0.3 0.6-0.6 0.6 0.9 0.6-1.6 0.6-0.1 0.6 0.7 0.6 1.9 0.6-1.4 0.6 0.5 0.6-0.4 0.6 1 0.6-0.1 0.6 1.3 0.6-1.1 0.6 0.8 0.6 1.2 0.6-1.7 0.6-0.1 0.6 0.3 0.6-0.5 0.6 2.7 0.6-0.6 0.6 1.1 0.6-1.1 0.6 0.8 0.6 1 0.6-0.4 0.6 0.9 0.6-1.1 0.6-1.7 0.6 1 0.6 0.4 0.6 1.1 0.6-0.3 0.6-0.2 0.6 0.5 0.6-0.5 0.6 1.2 0.6-0.1 0.6 0.9 0.6 1.1 0.6-1.3 0.6 2 0.6-1.8 0.6 0.1 0.6 0.2 0.6-0.3 0.6 2.1 0.6-3 0.6 2.4 0.6 0.1 0.6 0 0.6-0.2 0.6 1 0.6 0.6 0.6-1.2 0.6 0.5 0.6 1.3 0.6-2.8 0.6 3 0.6-1.7 0.6 0.7 0.6 1.3 0.6-0.1 0.6-0.6 0.6-0.1 0.6-0.1 0.6 1 0.6 0.7 0.6 0.7 0.6-0.5 0.6 0 0.6 0.9 0.6-1.5 0.6 0.5 0.6 0.5 0.6-0.3 0.6 1.2 0.6-0.7 0.6 0 0.6 2.6 0.6-2.7 0.6 1.6 0.6-0.3 0.6-0.8 0.6 1.2 0.6-1.3 0.6 0.1 0.6 1.5 0.6-2.1 0.6 0.5 0.6 1.3 0.6 0.2 0.6 1 0.6-2 0.6 2.3 0.6-1.1 0.6 0.5 0.6-0.8 0.6 0.3 0.6 3.6 0.6-1.9 0.6-0.3 0.6 2 0.6-0.5 0.6-3.9 0.6 3 0.6 1.1 0.6-1.2 0.6 0.3 0.6 1.3 0.6-0.9 0.6 0.1 0.6-0.7 0.6 1.1 0.6 0.1 0.6 0.4 0.6 1 0.6-1 0.6-1.8 0.6 1 0.6 2.2 0.6-1.3 0.6 0.7 0.6 1.4 0.6 1.5 0.6-3.8 0.6 3.3 0.6-1 0.6-0.3 0.6-1.6 0.6 0.6 0.6 2.3 0.6-2.7 0.6 4.1 0.6-1.6 0.6-0.4 0.6-1.8 0.6 2 0.6 1 0.6-0.4 0.6 0 0.6 0 0.6 0.4 0.6 0.5 0.6 1.3 0.6-2.3 0.6 0.8 0.6 1.2 0.6-1.2 0.6-0.9 0.6 1.6 0.6-0.6 0.6 1.8 0.6 0.3 0.6-0.1 0.6 0.6 0.6-0.1 0.6-1.3 0.6-0.8 0.6 1.7 0.6 1.4 0.6-1.5 0.6 1.2 0.6-0.5 0.6-0.2 0.6-1.3 0.6 1.5 0.6 1 0.6-1.3 0.6 0.2 0.6-0.7 0.6-0.2 0.6 0.7 0.6-0.4 0.6 2.5 0.6 0.6 0.6-2.7 0.6 2.2 0.6-0.3 0.6-0.8 0.6 0.8 0.6 1.6 0.6-1.7 0.6 0.8 0.6-0.9 0.6 0.4 0.6-2.1 0.6 2.3 0.6 0.8 0.6-2.1 0.6 1.5 0.6-1.5 0.6 2.7 0.6-0.7 0.6 0.8 0.6-1.9 0.6 2 0.6 0 0.6-1.4 0.6 2.2 0.6 0.9 0.6-2 0.6-0.4 0.6 1.5 0.6 1.6 0.6-2.3 0.6-0.4 0.6 1.1 0.6-1 0.6 1 0.6-0.8 0.6 0.2 0.6 3.1 0.6-1.1 0.6-1 0.6 0.1 0.6 2 0.6-1.8 0.6 1.5 0.6-0.4 0.6 0.5 0.6-0.2 0.6-1.2 0.6-0.2 0.6 1.1 0.6-0.2 0.6 1.2 0.6-1.3 0.6-1.2 0.6 1.4 0.6 2.3 0.6-3.2 0.6 1.4 0.6 1 0.6 0.9 0.6-1.4 0.6 1.5 0.6-1.7 0.6 0.8 0.6-0.5 0.6-1 0.6 1.9 0.6-2.1 0.6 3.7 0.6 0.7 0.6-1 0.6-1.8 0.6 0.5 0.6 0.8 0.6 0.7 0.6-1.2 0.6-0.2 0.6 0.7 0.6 1.2 0.6-1.6 0.6 1.8 0.6-1 0.6-0.4 0.6 0.5 0.6-0.4 0.6 0.8 0.6-0.6 0.6-0.5 0.6 1 0.6-0.5 0.6 0.7 0.6 1.4 0.6 0 0.6-0.6 0.6 0 0.6-0.1 0.6-3 0.6 2.6 0.6 0.2 0.6 1.2 0.6 0.7 0.6-1.5 0.6-0.4 0.6-0.3 0.6 1.7 0.6 0.2 0.6-1.1 0.6 1.6 0.6-0.1 0.6-1 0.6-0.1 0.6 0 0.6 0.7 0.6-2 0.6 0.6 0.6 1.6 0.6 0.7 0.6 0.7 0.6-3.2 0.6 3.7 0.6-3.1 0.6 2.2 0.6-0.1 0.6-1.5 0.6 1.5 0.6-0.3 0.6 0 0.6 0.4 0.6-1.2 0.6 0.2 0.6-0.5 0.6 2.3 0.6 0 0.6-1.4 0.6 0.1 0.6 1.2 0.6-0.8 0.6 1.3 0.6 0.4 0.6-1.7 0.6 1.2 0.6-0.5 0.6 1.4 0.6-2.4 0.6 2.8 0.6-1.2 0.6 0.3 0.6-0.4 0.3-1.4" stroke="#006400" stroke-width="1.6" fill="none"/>
<path d="M983.8 849.1l0.6-1.2 0.6 0 0.6 0 0.6 0.4 0.6-0.9 0.6 0.7 0.6 1.6 0.6-1.5 0.6 1 0.6-0.5 0.6-0.4 0.6 0.4 0.6 0.1 0.6-0.1 0.6-1 0.6 0.5 0.6 0.5 0.6-0.8 0.6 2 0.6-2.8 0.6 0.4 0.6 0 0.6 1 0.6-0.8 0.6 1.1 0.6-1 0.6-0.1 0.6 0.1 0.6 0.5 0.6 0.8 0.6-1.3 0.6 0.6 0.6-0.8 0.6 0.5 0.6 0.7 0.6 0 0.6-1.2 0.6 0.2 0.6 1.5 0.6-2.2 0.6 1.6 0.6-1.1 0.6 1.2 0.6 0.9 0.6-1.9 0.6 0.9 0.6-1.2 0.6 1.3 0.6-0.1 0.6-0.3 0.6 0.5 0.6-0.5 0.6 0 0.6-0.3 0.6-2 0.6 0.9 0.6 1.3 0.6 0.2 0.6-0.3 0.6 1 0.6-1.2 0.6-0.3 0.6 0 0.6 1.1 0.6-0.3 0.6 1.1 0.6-0.9 0.6 0.6 0.6-1.6 0.6 1.6 0.6-1.2 0-0.8 0.6-31.8 0.6-27.6 0.6-24.6 0.6-21.2 0.6-19.1 0.6-15.4 0.6-12.8 0.6-12.8 0.6-12.2 0.6-7.2 0.6-10.1 0.6-8.5 0.6-5.7 0.6-6.4 0.6-2.2 0.6-4.7 0.6-4.1 0.6-2.6 0.6-2.9 0.6-1 0.6-4.7 0.6-1.2 0.6-1.9 0.6 0.2 0.6-3.6 0.6 0.2 0.6-0.5 0.6-2.1 0.6-0.4 0.6-1 0.6 1.1 0.6-2.4 0.6 1.4 0.6-1.5 0.6-1.2 0.6 1.1 0.6-1.4 0.6-0.1 0.6 1.4 0.6-0.3 0.6 1 0.6-2.1 0.6-0.5 0.6-0.4 0.6 1.5 0.6-1.6 0.6 0.5 0.6 0.3 0.6-1.7 0.6 1.4 0.6 0.4 0.6 0.1 0.6-1.3 0.6 1.1 0.6-2.8 0.6 1.9 0.6 0.8 0.6 0.6 0.6 0.5 0.6-0.8 0.6-0.8 0.6 0.8 0.6 0.8 0.6-1.1 0.6 0.5 0.6 0.3 0.6-2.2 0.6 0.6 0.6 0.3 0.6-1.1 0.6 0.7 0.6 1.5 0.6-1.2 0.6-0.3 0.6-0.2 0.6 0.9 0.6-0.5 0.6-0.8 0.6 1.4 0.6-1.7 0.6 0.4 0.6 2.1 0.6-1 0.6 0.7 0.6-0.8 0.6-1.2 0.6 1.3 0.6-1.8 0.6 3.8 0.6-3.5 0.6 1.7 0.6-0.9 0.6-0.7 0.6 1.9 0.6-1.2 0.6-0.5 0.6-1.2 0.6 1.9 0.6 2.1 0.6-0.4 0.6-2.7 0.6 2.4 0.6-0.8 0.6 0.1 0.6 0.8 0.6-2.1 0.6 0.5 0.6 2.4 0.6-2.1 0.6 0 0.6-1 0.6 1.2 0.6 0.7 0.6 1.1 0.6-1.1 0.6-0.8 0.6-0.4 0.6 1.3 0.6-1 0.6-0.3 0.6-1.4 0.6 1.2 0.6 0.6 0.6 0 0.6 0 0.6 1.1 0.6-3.2 0.6 2.2 0.6-0.5 0.6-1.4 0.6 2.1 0.6-0.3 0.6-1.7 0.6 1.7 0.6 0.4 0.6-0.9 0.6 0.8 0.6-1 0.6 0.8 0.6 0 0.6 0.7 0.6-1.7 0.6 3.5 0.6-3.6 0.6 2.5 0.6-1.2 0.6 0.1 0.6 0.8 0.6-1.5 0.6-0.5 0.6 2.4 0.6 0.8 0.6 0.5 0.6-2 0.6-3.1 0.6 2.7 0.6 0.3 0.6-0.6 0.6 0.3 0.6 0.4 0.6-0.1 0.6-0.8 0.6-0.9 0.6 0.9 0.6 1 0.6 0.3 0.6 0.3 0.6-0.9 0.6-1.5 0.6 1.5 0.6-1.5 0.6 1.7 0.6-1.7 0.6 1.7 0.6-0.2 0.6-1.1 0.6 0.7 0.6 0.2 0.6-0.9 0.6 0.5 0.6-0.2 0.6-1.4 0.6 1 0.6 2.8 0.6-1.6 0.6-2.2 0.6 2.1 0.6 0.2 0.6-0.5 0.6 0.6 0.6 0.2 0.6 0.9 0.6-0.4 0.6-1.2 0.6-1.7 0.6 0.1 0.6 2.1 0.6-0.5 0.6-0.2 0.6 1.2 0.6-2.4 0.6 0 0.6 0.5 0.6 0.8 0.6-1.2 0.6 1.1 0.6-0.3 0.6 0.1 0.6-0.1 0.6-1.3 0.6 2 0.6 0.3 0.6-2.4 0.6 1.3 0.6 0.8 0.6-0.2 0.6-1.7 0.6 1.4 0.6-0.8 0.6 2 0.6-0.5 0.6 0.5 0.6-1.7 0.6 1.2 0.6-1.2 0.6 1.2 0.6-0.7 0.6-1.1 0.6 0.5 0.6 0.4 0.6 1 0.6-2.1 0.6 3.6 0.6-2 0.6-0.2 0.6 0.3 0.6-0.6 0.6 0.1 0.6 1.4 0.6-2.7 0.6 1.6 0.6 0.5 0.6 0.6 0.6-2.7 0.6 1.9 0.6-2 0.6 1 0.6 0.5 0.6 0.1 0.6-0.3 0.6 0.6 0.6 0.4 0.6-0.7 0.6-1.2 0.6 0.4 0.6 0.9 0.6 0.2 0.6-0.5 0.6-1.1 0.6 0.7 0.4 0.6 0-8.1 0 8.1 0 2.6 0.6 4.3 0.6 2.8 0.6 4.3 0.6 3.3 0.6 0.8 0.6 5 0.6 2.8 0.6 0.4 0.6 2.5 0.6 2 0.6 2.2 0.6 1.3 0.6 0.9 0.6 4.7 0.6 3.2 0.6-0.8 0.6 3.5 0.6 0.6 0.6 2.5 0.6 1.2 0.6 2.3 0.6 1.5 0.6 1.5 0.6 1.4 0.6 1.8 0.6-1 0.6 1.7 0.6 2.8 0.6-0.8 0.6 3.1 0.6 0.2 0.6 2.1 0.6 0.2 0.6 0.9 0.6 1 0.6-0.7 0.6 2.8 0.6 0.5 0.6 1.6 0.6 0.3 0.6-0.5 0.6 1.7 0.6 1.2 0.6 0.4 0.6 1.8 0.6-0.1 0.6 0.7 0.6-0.7 0.6 2.7 0.6 1.1 0.6-1 0.6 0.5 0.6 1.2 0.6 2.5 0.6 0.5 0.6-0.9 0.6-0.7 0.6 0.9 0.6 0.1 0.6 0.9 0.6 1.9 0.6 0.4 0.6-0.2 0.6 1.2 0.6 0.5 0.6 1.5 0.6-2 0.6 2.7 0.6 0.1 0.6-1.1 0.6 1.7 0.6-0.4 0.6 2 0.6-0.1 0.6-0.4 0.6 1.9 0.6-0.5 0.6-0.6 0.6 1 0.6 1.5 0.6-0.3 0.6-0.1 0.6 0.7 0.6 1.2 0.6 1 0.6-1.5 0.6 1.2 0.6 0.6 0.6 0.6 0.6 0.7 0.6-1.9 0.6 1.3 0.6 0.5 0.6 0.7 0.6 0.9 0.6 0.2 0.6-1.2 0.6 0.1 0.6 1.5 0.6 0.8 0.6-1.6 0.6 1.5 0.6 0.8 0.6 0.1 0.6 1 0.6-1.5 0.6 1.7 0.6-0.1 0.6 2.2 0.6-3 0.6 3 0.6-2.3 0.6 2.2 0.6 0.2 0.6-0.9 0.6 0.7 0.6 1.2 0.6 1 0.6-0.2 0.6-1.3 0.6 0.9 0.6 2.1 0.6-1.4 0.6-1.6 0.6 1.7 0.6-0.3 0.6 0.5 0.6 2.6 0.6-1.3 0.6 0.2 0.6 0.9 0.6-0.2 0.6 0.2 0.6-0.8 0.6 1 0.6 1.5 0.6 0.3 0.6-0.7 0.6-0.3 0.6 0.7 0.6 1.7 0.6-0.5 0.6 0.6 0.6 1.3 0.6-1.9 0.6 0.5 0.6 0.3 0.6 2.5 0.6-1.5 0.6 0.3 0.6-1.1 0.6 2.5 0.6-0.6 0.6 0.1 0.6 0 0.6-1.1 0.6 2.2 0.6 1.2 0.6-1.2 0.6 0.9 0.6 0.7 0.6-0.9 0.6 0.8 0.6 1.5 0.6-2.3 0.6 3.4 0.6-0.7 0.6-1.9 0.6 0.3 0.6 2 0.6 0 0.6-0.4 0.6 2.1 0.6 0 0.6 0.1 0.6-2.3 0.6 1.5 0.6 2.6 0.6-3.2 0.6 1.9 0.6 0.6 0.6 0.2 0.6-0.9 0.6-0.9 0.6 1.4 0.6 1.5 0.6 0.1 0.6-1 0.6 1.1 0.6 0.5 0.6-1.3 0.6 0.2 0.6 1 0.6 0.6 0.6 1.8 0.6-1 0.6-0.4 0.6 1.6 0.6-1.5 0.6-0.3 0.6 1.1 0.6-0.9 0.6-0.8 0.6 2.8 0.6-0.9 0.6 0.4 0.6 1.3 0.6 1.2 0.6-1.1 0.6-0.4 0.6-0.7 0.6 1.1 0.6 0.7 0.6 1.3 0.6 0.3 0.6 0 0.6-1 0.6-0.5 0.6 0 0.6 1.5 0.6-1.3 0.6 1.1 0.6 1.2 0.6 0.1 0.6-0.1 0.6-0.8 0.6 1.7 0.6 0.1 0.6 0.5 0.6-0.6 0.6 0 0.6-0.6 0.6-0.1 0.6 1.5 0.6 0 0.6-0.1 0.6-0.2 0.6 2.5 0.6-2.4 0.6 2 0.6-0.5 0.6 0.6 0.6 0 0.6-0.5 0.6 1.5 0.6-0.3 0.6 0.2 0.6 0.1 0.6-0.5 0.6 3.4 0.6-2.7 0.6 0 0.6 2.8 0.6-3.1 0.6 1.9 0.6 1.7 0.6-1.6 0.6 0.3 0.6 0 0.6-1.6 0.6 2.4 0.6 0.6 0.6-0.8 0.6-0.4 0.6 1.3 0.6 0.9 0.6-0.9 0.6-1 0.6 0.8 0.6-0.8 0.6-0.6 0.6 2.3 0.6-0.9 0.6-0.6 0.6 2.3 0.6-0.4 0.6 0.5 0.6 0.7 0.6-1.1 0.6 0.7 0.6 0.4 0.6 0.4 0.6-1.5 0.6 0.3 0.6 1.8 0.6 1.1 0.6-1.2 0.6 0.2 0.6-1.6 0.6 3 0.6-0.6 0.6-0.8 0.6 1.3 0.6-0.8 0.6 0.2 0.6 0.4 0.6 0.7 0.6 1.5 0.6-1.2 0.6-0.7 0.6 1.3 0.6-0.8 0.6-0.3 0.6-0.1 0.6 0.5 0.6-1.3 0.6 2.2 0.6-0.6 0.6 1.8 0.6-1.8 0.6 0.9 0.6-0.7 0.6 1 0.6 0 0.6 1.2 0.6-0.2 0.6 0.2 0.6-0.7 0.6 0.6 0.6-0.5 0.6 0.2 0.6 0.1 0.6 0.5 0.6 0.4 0.6-1.1 0.6 1.9 0.6-0.6 0.6 0.3 0.6 1.7 0.6 1.7 0.6-4.6 0.6 1.5 0.6 0.5 0.6-0.4 0.6 1.3 0.6-0.2 0.6 0.6 0.6 0.3 0.6 0.3 0.6-0.2 0.6-0.1 0.6-0.7 0.6 0.9 0.6 0.5 0.6-0.8 0.6 0.5 0.6 0.2 0.6 0.1 0.6-1.2 0.6 1.4 0.6 0.2 0.6-1.2 0.6 1.6 0.6 0.1 0.6-1.6 0.6 3.5 0.6-1.4 0.6 0.8 0.6-1.2 0.6 0.6 0.6-0.8 0.6 0.5 0.6 0.2 0.6 0.8 0.6 1 0.6-2.8 0.6 1.7 0.6 1.6 0.6-1.2 0.6-0.8 0.6 2.6 0.6 0.4 0.6-0.8 0.6-0.5 0.6 0 0.6-0.1 0.6 1 0.6 0.4 0.6-1.8 0.6 2.4 0.6-1.4 0.6 0.6 0.6 0 0.6 0.5 0.6-0.3 0.6 1.3 0.6-1.7 0.6 1 0.6 0.8 0.6 0.4 0.6-2.4 0.6 3 0.6-0.4 0.6-0.1 0.6-1.2 0.6-0.9 0.6 1.8 0.6 0.3 0.6-1.8 0.6 1.4 0.6 0.1 0.6 0.4 0.6 1.4 0.6-2.8 0.6 1.6 0.6-0.3 0.6 1.5 0.6 1 0.6 0.2 0.6-1.7 0.6 2.2 0.6-1.7 0.6 2 0.6-3.2 0.6 0.3 0.6 1 0.6-0.1 0.6-1.2 0.6 2.1 0.6-2.2 0.6 1.5 0.6 1.2 0.6-1.4 0.6 1.1 0.6-0.2 0.6 0 0.6 1.1 0.6-1.6 0.6 2.2 0.6-2.2 0.6 1.9 0.6-0.9 0.6 0.6 0.6-0.8 0.6 0.7 0.6 0.1 0.6 0.5 0.6 0.1 0.6 1.8 0.6-1.5 0.6-1.1 0.6 2.3 0.6-0.2 0.6-2.4 0.6 3.3 0.6-1.5 0.6 0.4 0.6-0.4 0.6 0.2 0.6 0.2 0.6 0.4 0.6 1 0.6-0.5 0.6-0.1 0.6-0.5 0.6-0.8 0.6 0.5 0.6 1.5 0.6-0.4 0.6-0.9 0.6 0.6 0.6 1.7 0.6-0.8 0.6 0.1 0.6 1.1 0.6-0.9 0.6-1.3 0.6 1.3 0.6 0 0.6 0.8 0.6-0.8 0.6 0 0.6 0.2 0.6-0.3 0.6-0.2 0.6-0.4 0.6 2.1 0.6-0.5 0.6-0.3 0.6 0.9 0.6 0 0.6-2.4 0.6 1.9 0.6-1.6 0.6 3.3 0.6-2.5 0.6 2.2 0.6-1.7 0.6 0.3 0.6-0.3 0.6-0.7 0.6 3.3 0.6-2.8 0.6 1.2 0.6 0.1 0.6 0.4 0.6 1.3 0.6-2.7 0.6 1.8 0.6-0.6 0.6 1 0.6-0.4 0.6-0.4 0.6 1.8 0.6-1.1 0.6-0.2 0.6 0.3 0.6-0.3 0.6 1.1 0.6-0.2 0.6-0.5 0.6-0.1 0.6-1 0.6 0.9 0.6 1.3 0.6 0.1 0.6-0.8 0.6 1.9 0.6-0.6 0.6-1.6 0.6 1.5 0.6-1.7 0.6 1.5 0.6-0.2 0.6-1.6 0.6 2.9 0.6-2.7 0.6 2 0.6-0.6 0.6 1.3 0.6 0.1 0.6-0.7 0.6-2.9 0.6 2.1 0.6 3.5 0.6-1.7 0.6-1.4 0.6 1.9 0.6 0.3 0.6-1.4 0.6 0.8 0.6 0.5 0.6 1 0.6-2.5 0.6 1 0.6-1.6 0.6 2.3 0.6-1 0.6-1.6 0.6 3 0.6 0.2 0.6 0.8 0.6-1.5 0.6-1.8 0.6 0.6 0.6 2.6 0.6-1.1 0.6-1.1 0.6 1 0.6-0.5 0.6 1.7 0.6-0.3 0.6-1.7 0.6 1.5 0.6 0.9 0.6-1.4 0.6 0.7 0.6-0.9 0.3 1.5" stroke="#0000ff" stroke-width="1.6" fill="none"/>
<path d="M983.8 848.2l42.6 0" stroke="#111" stroke-width="1.4" fill="none"/>
<path d="M1026.4 846.7l0.5-34.5 0.5-29.7 0.4-25.6 0.5-22.1 0.5-19 0.5-16.4 0.1-3.4 0.4-10.7 0.5-12.2 0.4-10.5 0.5-9 0.5-7.8 0.5-6.7 0.2-2.7 0.3-3 0.4-5 0.5-4.3 0.5-3.7 0.5-3.2 0.5-2.7 0.3-1.6 0.2-0.8 0.4-2 0.5-1.8 0.5-1.5 0.5-1.3 0.5-1.1 0.4-0.9 0.5-0.9 0.5-0.7 0.5-0.6 0.5-0.5 0.5-0.5 0.4-0.4 0.1 0 0.4-0.3 0.5-0.3 0.5-0.3 0.5-0.2 0.4-0.2 0.5-0.2 0.2 0 0.3-0.1 0.5-0.1 0.5-0.1 0.5-0.1 0.4-0.1 0.5 0 0.3-0.1 0.2 0 0.5-0.1 0.5 0 0.4 0 0.5-0.1 0.5 0 0.4 0 0.1 0 0.5 0 0.5-0.1 0.4 0 0.5 0 0.5 0 0.5 0 0.5 0 0.4 0 0.5 0 1.6 0 3 0 3-0.1 3 0 3 0 3 0 3 0 3 0 3 0 3 0 3 0 3 0 3 0 3 0 3 0 3 0 3 0 3 0 3 0 3 0 3 0 3 0 3 0 3 0 3 0 3 0 3 0 3 0 3 0 3 0 3 0 3 0 3 0 3 0 3 0 3 0 3 0 3 0 3 0 3 0 3 0 3 0 3 0 0.4 0 0 47 3 3.4 3 3 3 2.8 3 2.7 3 2.5 3 2.4 3 2.3 3 2.2 3 2.2 3 2 3 2.1 3 1.9 3 1.9 3 1.9 3 1.9 3 1.8 3 1.8 3 1.7 3 1.8 3 1.7 3 1.6 3 1.7 3 1.6 3 1.6 3 1.6 3 1.6 3 1.5 3 1.5 3 1.5 3 1.5 3 1.4 3 1.5 3 1.4 3 1.4 3 1.4 3 1.3 3 1.3 3 1.4 3 1.3 3 1.3 3 1.2 3 1.3 3 1.2 3 1.2 3 1.2 3 1.2 3 1.2 3 1.2 3 1.1 3 1.1 3 1.1 3 1.1 3 1.1 3 1.1 3 1 3 1 3 1.1 3 1 3 1 3 1 3 0.9 3 1 3 0.9 3 1 3 0.9 3 0.9 3 0.9 3 0.9 3 0.8 3 0.9 3 0.8 3 0.9 3 0.8 3 0.8 3 0.8 3 0.8 3 0.8 3 0.7 3 0.8 3 0.7 3 0.8 3 0.7 3 0.7 3 0.7 3 0.7 3 0.7 3 0.7 3 0.7 3 0.6 3 0.7 3 0.6 3 0.7 3 0.6 3 0.6 3 0.6 3 0.6 3 0.6 3 0.6 3 0.6 3 0.6 3 0.5 3 0.6 3 0.6 3 0.5 3 0.5 3 0.6 3 0.5 3 0.5 3 0.5 3 0.5 3 0.5 3 0.5 3 0.4 2.1 0.4" stroke="#111" stroke-width="1.45" fill="none"/>
<path d="M1026.4 846.7l0.5-15.8 0.5-14.7 0.4-13.6 0.5-12.6 0.5-11.8 0.5-10.9 0.1-2.3 0.4-7.8 0.5-9.4 0.4-8.7 0.5-8.1 0.5-7.5 0.5-7 0.2-3 0.3-3.5 0.4-6 0.5-5.6 0.5-5.2 0.5-4.8 0.5-4.5 0.3-2.8 0.2-1.3 0.4-3.9 0.5-3.5 0.5-3.4 0.5-3.1 0.5-2.8 0.4-2.4 0-0.3 0.5-2.4 0.5-2.3 0.5-2.2 0.5-1.9 0.5-1.9 0.4-1.7 0.1-0.2 0.4-1.4 0.5-1.4 0.5-1.4 0.5-1.3 0.4-1.1 0.5-1.1 0.2-0.4 0.3-0.6 0.5-1 0.5-0.9 0.5-0.8 0.4-0.7 0.5-0.7 0.3-0.4 0.2-0.3 0.5-0.6 0.5-0.5 0.4-0.5 0.5-0.5 0.5-0.5 0.4-0.3 0.1-0.1 0.5-0.4 0.5-0.3 0.4-0.4 0.5-0.3 0.5-0.3 0.5-0.2 0.5-0.3 0.4-0.2 0.5-0.2 1.6-0.6 3-0.8 3-0.5 3-0.3 3-0.2 3-0.2 3 0 3-0.1 3 0 3 0 3-0.1 3 0 3 0 3 0 3 0 3 0 3 0 3 0 3 0 3 0 3 0 3 0 3 0 3 0 3 0 3 0 3 0 3 0 3 0 3 0 3 0 3 0 3 0 3 0 3 0 3 0 3 0 3 0 3 0 3 0 3 0 3 0 3 0 0.4 0 0 35.8 3 2.7 3 2.5 3 2.5 3 2.4 3 2.4 3 2.3 3 2.2 3 2.2 3 2.1 3 2 3 2 3 2 3 1.8 3 1.9 3 1.8 3 1.7 3 1.7 3 1.7 3 1.6 3 1.6 3 1.6 3 1.5 3 1.5 3 1.4 3 1.4 3 1.4 3 1.3 3 1.4 3 1.3 3 1.2 3 1.3 3 1.2 3 1.2 3 1.2 3 1.1 3 1.1 3 1.1 3 1.1 3 1.1 3 1 3 1.1 3 1 3 1 3 1 3 0.9 3 1 3 0.9 3 1 3 0.9 3 0.9 3 0.9 3 0.8 3 0.9 3 0.8 3 0.9 3 0.8 3 0.8 3 0.9 3 0.8 3 0.8 3 0.7 3 0.8 3 0.8 3 0.8 3 0.7 3 0.8 3 0.7 3 0.7 3 0.8 3 0.7 3 0.7 3 0.7 3 0.7 3 0.7 3 0.7 3 0.7 3 0.7 3 0.6 3 0.7 3 0.7 3 0.7 3 0.6 3 0.7 3 0.6 3 0.7 3 0.6 3 0.7 3 0.6 3 0.6 3 0.7 3 0.6 3 0.6 3 0.7 3 0.6 3 0.6 3 0.6 3 0.6 3 0.6 3 0.6 3 0.6 3 0.6 3 0.6 3 0.6 3 0.6 3 0.6 3 0.6 3 0.6 3 0.6 3 0.6 3 0.6 3 0.6 3 0.5 3 0.6 2.1 0.4" stroke="#111" stroke-width="1.45" fill="none"/>
<path d="M1026.4 846.7l0.5-7.6 0.5-7.2 0.4-7.1 0.5-6.7 0.5-6.5 0.5-6.2 0.1-1.4 0.4-4.6 0.5-5.8 0.4-5.6 0.5-5.4 0.5-5.1 0.5-5 0.2-2.2 0.3-2.6 0.4-4.6 0.5-4.4 0.5-4.2 0.5-4.1 0.5-4 0.3-2.6 0.2-1.2 0.4-3.6 0.5-3.6 0.5-3.3 0.5-3.3 0.5-3.1 0.4-2.8 0-0.3 0.5-2.9 0.5-2.8 0.5-2.6 0.5-2.6 0.5-2.5 0.4-2.4 0.1-0.3 0.4-2 0.5-2.2 0.5-2.2 0.5-2 0.4-2 0.5-1.9 0.2-0.7 0.3-1.1 0.5-1.8 0.5-1.7 0.5-1.6 0.4-1.6 0.5-1.5 0.3-0.9 0.2-0.6 0.5-1.4 0.5-1.3 0.4-1.3 0.5-1.2 0.5-1.2 0.4-1 0.1-0.2 0.5-1.1 0.5-1.1 0.4-1 0.5-1 0.5-0.9 0.5-1 0.5-0.8 0.4-0.9 0.5-0.8 1.6-2.4 3-3.9 3-3.1 3-2.4 3-1.8 3-1.5 3-1.1 3-0.9 3-0.7 3-0.5 3-0.4 3-0.3 3-0.2 3-0.1 3-0.1 3-0.1 3 0 3-0.1 3 0.1 3 0 3 0 3 0 3 0.1 3 0.1 3 0 3 0.1 3 0 3 0.1 3 0.1 3 0 3 0.1 3 0.1 3 0.1 3 0 3 0.1 3 0.1 3 0.1 3 0 3 0.1 3 0.1 3 0.1 3 0 3 0.1 0.4 0 0 19.1 3 2.4 3 2.4 3 2.3 3 2.2 3 2.2 3 2.1 3 2.1 3 2.1 3 2 3 1.9 3 1.9 3 1.8 3 1.9 3 1.7 3 1.8 3 1.7 3 1.6 3 1.6 3 1.6 3 1.6 3 1.5 3 1.5 3 1.4 3 1.4 3 1.4 3 1.4 3 1.3 3 1.4 3 1.2 3 1.3 3 1.3 3 1.2 3 1.2 3 1.1 3 1.2 3 1.1 3 1.1 3 1.1 3 1.1 3 1.1 3 1 3 1 3 1 3 1 3 1 3 1 3 0.9 3 1 3 0.9 3 0.9 3 0.9 3 0.9 3 0.8 3 0.9 3 0.9 3 0.8 3 0.8 3 0.8 3 0.8 3 0.8 3 0.8 3 0.8 3 0.8 3 0.8 3 0.7 3 0.8 3 0.7 3 0.7 3 0.8 3 0.7 3 0.7 3 0.7 3 0.7 3 0.7 3 0.7 3 0.6 3 0.7 3 0.7 3 0.7 3 0.6 3 0.7 3 0.6 3 0.7 3 0.6 3 0.6 3 0.7 3 0.6 3 0.6 3 0.6 3 0.7 3 0.6 3 0.6 3 0.6 3 0.6 3 0.6 3 0.6 3 0.6 3 0.5 3 0.6 3 0.6 3 0.6 3 0.6 3 0.5 3 0.6 3 0.6 3 0.6 3 0.5 3 0.6 3 0.5 3 0.6 3 0.5 3 0.6 3 0.5 2.1 0.4" stroke="#111" stroke-width="1.45" fill="none"/>
<path d="M1026.4 846.7l0.5-1.3 0.5-1.4 0.4-1.3 0.5-1.3 0.5-1.3 0.5-1.3 0.1-0.3 0.4-1 0.5-1.2 0.4-1.3 0.5-1.3 0.5-1.2 0.5-1.3 0.2-0.6 0.3-0.6 0.4-1.3 0.5-1.2 0.5-1.2 0.5-1.2 0.5-1.3 0.3-0.8 0.2-0.4 0.4-1.2 0.5-1.1 0.5-1.2 0.5-1.2 0.5-1.2 0.4-1 0-0.1 0.5-1.2 0.5-1.1 0.5-1.2 0.5-1.1 0.5-1.2 0.4-1.1 0.1-0.1 0.4-1 0.5-1.1 0.5-1.1 0.5-1.1 0.4-1.1 0.5-1.1 0.2-0.4 0.3-0.7 0.5-1 0.5-1.1 0.5-1 0.4-1.1 0.5-1 0.3-0.7 0.2-0.4 0.5-1 0.5-1.1 0.4-1 0.5-1 0.5-1 0.4-0.8 0.1-0.2 0.5-1 0.5-1 0.4-1 0.5-1 0.5-0.9 0.5-1 0.5-1 0.4-0.9 0.5-1 1.6-3 3-5.7 3-5.4 3-5.3 3-5 3-4.8 3-4.6 3-4.4 3-4.2 3-4.1 3-3.9 3-3.6 3-3.5 3-3.4 3-3.2 3-3 3-2.8 3-2.7 3-2.6 3-2.4 3-2.2 3-2.2 3-1.9 3-1.9 3-1.7 3-1.6 3-1.5 3-1.3 3-1.2 3-1.1 3-1 3-0.9 3-0.8 3-0.6 3-0.6 3-0.5 3-0.3 3-0.3 3-0.2 3 0 3 0 3 0.1 3 0.1 0.4 0.1 0 8.6 3 2.3 3 2.3 3 2.1 3 2.1 3 2 3 1.9 3 1.8 3 1.8 3 1.8 3 1.7 3 1.6 3 1.6 3 1.5 3 1.5 3 1.5 3 1.4 3 1.4 3 1.3 3 1.3 3 1.2 3 1.3 3 1.2 3 1.1 3 1.2 3 1.1 3 1.1 3 1 3 1.1 3 1 3 1 3 1 3 0.9 3 1 3 0.9 3 0.9 3 0.9 3 0.9 3 0.8 3 0.9 3 0.8 3 0.8 3 0.8 3 0.8 3 0.8 3 0.7 3 0.8 3 0.7 3 0.8 3 0.7 3 0.7 3 0.7 3 0.7 3 0.7 3 0.7 3 0.7 3 0.7 3 0.6 3 0.7 3 0.7 3 0.6 3 0.7 3 0.6 3 0.6 3 0.6 3 0.7 3 0.6 3 0.6 3 0.6 3 0.6 3 0.6 3 0.6 3 0.6 3 0.5 3 0.6 3 0.6 3 0.6 3 0.5 3 0.6 3 0.6 3 0.5 3 0.6 3 0.5 3 0.6 3 0.5 3 0.6 3 0.5 3 0.5 3 0.6 3 0.5 3 0.5 3 0.5 3 0.6 3 0.5 3 0.5 3 0.5 3 0.5 3 0.5 3 0.5 3 0.5 3 0.5 3 0.5 3 0.5 3 0.5 3 0.5 3 0.5 3 0.5 3 0.5 3 0.5 3 0.5 3 0.4 3 0.5 3 0.5 3 0.5 2.1 0.3" stroke="#111" stroke-width="1.45" fill="none"/>
<path d="M1026.4 846.7l0.5-0.8 0.5-0.7 0.4-0.8 0.5-0.8 0.5-0.7 0.5-0.8 0.1-0.1 0.4-0.6 0.5-0.8 0.4-0.7 0.5-0.8 0.5-0.7 0.5-0.7 0.2-0.4 0.3-0.4 0.4-0.7 0.5-0.7 0.5-0.8 0.5-0.7 0.5-0.7 0.3-0.5 0.2-0.2 0.4-0.7 0.5-0.8 0.5-0.7 0.5-0.7 0.5-0.7 0.4-0.6 0-0.1 0.5-0.7 0.5-0.7 0.5-0.7 0.5-0.7 0.5-0.7 0.4-0.7 0.1-0.1 0.4-0.6 0.5-0.7 0.5-0.6 0.5-0.7 0.4-0.7 0.5-0.7 0.2-0.2 0.3-0.4 0.5-0.7 0.5-0.7 0.5-0.6 0.4-0.7 0.5-0.7 0.3-0.4 0.2-0.2 0.5-0.7 0.5-0.6 0.4-0.7 0.5-0.6 0.5-0.7 0.4-0.5 0.1-0.1 0.5-0.7 0.5-0.6 0.4-0.6 0.5-0.7 0.5-0.6 0.5-0.6 0-0.1 0.5-0.6 0.4-0.6 0.5-0.6 1.6-2 3-3.8 3-3.7 3-3.6 3-3.5 3-3.4 3-3.3 3-3.3 3-3.1 3-3.1 3-3 3-2.9 3-2.9 3-2.7 3-2.7 3-2.6 3-2.5 3-2.4 3-2.4 3-2.3 3-2.2 3-2.1 3-2.1 3-2 3-1.9 3-1.9 3-1.8 3-1.7 3-1.7 3-1.5 3-1.6 3-1.4 3-1.4 3-1.3 3-1.3 3-1.2 3-1.1 3-1.1 3-1 3-0.9 3-0.9 3-0.8 3-0.8 0.4-0.1 0 15.2 3 1 3 0.9 3 0.9 3 1 3 0.9 3 0.9 3 0.9 3 0.9 3 0.8 3 0.9 3 0.8 3 0.9 3 0.8 3 0.9 3 0.8 3 0.8 3 0.8 3 0.8 3 0.8 3 0.7 3 0.8 3 0.8 3 0.7 3 0.8 3 0.7 3 0.7 3 0.7 3 0.8 3 0.7 3 0.7 3 0.6 3 0.7 3 0.7 3 0.7 3 0.6 3 0.7 3 0.6 3 0.7 3 0.6 3 0.6 3 0.6 3 0.6 3 0.7 3 0.6 3 0.5 3 0.6 3 0.6 3 0.6 3 0.5 3 0.6 3 0.6 3 0.5 3 0.5 3 0.6 3 0.5 3 0.5 3 0.6 3 0.5 3 0.5 3 0.5 3 0.5 3 0.5 3 0.5 3 0.4 3 0.5 3 0.5 3 0.4 3 0.5 3 0.5 3 0.4 3 0.5 3 0.4 3 0.4 3 0.5 3 0.4 3 0.4 3 0.4 3 0.4 3 0.4 3 0.5 3 0.4 3 0.3 3 0.4 3 0.4 3 0.4 3 0.4 3 0.4 3 0.3 3 0.4 3 0.4 3 0.3 3 0.4 3 0.3 3 0.4 3 0.3 3 0.4 3 0.3 3 0.3 3 0.3 3 0.4 3 0.3 3 0.3 3 0.3 3 0.3 3 0.3 3 0.3 3 0.3 3 0.3 3 0.3 3 0.3 3 0.3 3 0.3 3 0.3 2.1 0.2" stroke="#111" stroke-width="1.45" fill="none"/>
<path d="M1026.4 846.7l0.5-3.4 0.5-2 0.4-1.3 0.5-0.9 0.5-0.7 0.5-0.5 0.1-0.2 0.4-0.3 0.5-0.5 0.4-0.4 0.5-0.5 0.5-0.4 0.5-0.4 0.2-0.2 0.3-0.2 0.4-0.4 0.5-0.5 0.5-0.4 0.5-0.4 0.5-0.4 0.3-0.3 0.2-0.1 0.4-0.4 0.5-0.4 0.5-0.4 0.5-0.5 0.5-0.4 0.4-0.3 0-0.1 0.5-0.4 0.5-0.4 0.5-0.4 0.5-0.4 0.5-0.4 0.4-0.4 0.1 0 0.4-0.4 0.5-0.4 0.5-0.4 0.5-0.4 0.4-0.4 0.5-0.3 0.2-0.2 0.3-0.2 0.5-0.4 0.5-0.4 0.5-0.4 0.4-0.4 0.5-0.4 0.3-0.2 0.2-0.2 0.5-0.4 0.5-0.3 0.4-0.4 0.5-0.4 0.5-0.4 0.4-0.3 0.1-0.1 0.5-0.3 0.5-0.4 0.4-0.4 0.5-0.4 0.5-0.3 0.5-0.4 0.5-0.4 0.4-0.4 0.5-0.3 1.6-1.2 3-2.3 3-2.2 3-2.2 3-2.2 3-2.1 3-2 3-2.1 3-2 3-1.9 3-2 3-1.8 3-1.9 3-1.8 3-1.8 3-1.7 3-1.7 3-1.7 3-1.6 3-1.6 3-1.5 3-1.6 3-1.4 3-1.5 3-1.4 3-1.4 3-1.3 3-1.3 3-1.3 3-1.3 3-1.2 3-1.1 3-1.2 3-1.1 3-1 3-1.1 3-1 3-0.9 3-1 3-0.9 3-0.9 3-0.8 3-0.8 0.4-0.1 0 13.3 3 0.5 3 0.6 3 0.5 3 0.5 3 0.5 3 0.5 3 0.5 3 0.5 3 0.5 3 0.5 3 0.5 3 0.4 3 0.5 3 0.5 3 0.4 3 0.5 3 0.4 3 0.5 3 0.4 3 0.4 3 0.4 3 0.5 3 0.4 3 0.4 3 0.4 3 0.4 3 0.4 3 0.4 3 0.3 3 0.4 3 0.4 3 0.4 3 0.3 3 0.4 3 0.3 3 0.4 3 0.3 3 0.4 3 0.3 3 0.4 3 0.3 3 0.3 3 0.3 3 0.4 3 0.3 3 0.3 3 0.3 3 0.3 3 0.3 3 0.3 3 0.3 3 0.3 3 0.3 3 0.3 3 0.2 3 0.3 3 0.3 3 0.3 3 0.2 3 0.3 3 0.3 3 0.2 3 0.3 3 0.2 3 0.3 3 0.2 3 0.2 3 0.3 3 0.2 3 0.3 3 0.2 3 0.2 3 0.2 3 0.3 3 0.2 3 0.2 3 0.2 3 0.2 3 0.2 3 0.2 3 0.2 3 0.2 3 0.2 3 0.2 3 0.2 3 0.2 3 0.2 3 0.2 3 0.2 3 0.2 3 0.2 3 0.1 3 0.2 3 0.2 3 0.2 3 0.1 3 0.2 3 0.2 3 0.1 3 0.2 3 0.1 3 0.2 3 0.2 3 0.1 3 0.2 3 0.1 3 0.2 3 0.1 3 0.2 3 0.1 3 0.1 3 0.2 3 0.1 2.1 0.1" stroke="#111" stroke-width="1.45" fill="none"/>
<path d="M1026.4 846.7l0.5-12.4 0.5-0.2 0.4-0.3 0.5-0.2 0.5-0.2 0.5-0.3 0.1 0 0.4-0.2 0.5-0.2 0.4-0.2 0.5-0.3 0.5-0.2 0.5-0.2 0.2-0.1 0.3-0.1 0.4-0.3 0.5-0.2 0.5-0.2 0.5-0.2 0.5-0.3 0.3-0.1 0.2-0.1 0.4-0.2 0.5-0.2 0.5-0.2 0.5-0.3 0.5-0.2 0.4-0.2 0.5-0.2 0.5-0.2 0.5-0.2 0.5-0.3 0.5-0.2 0.4-0.2 0.1 0 0.4-0.2 0.5-0.2 0.5-0.2 0.5-0.2 0.4-0.3 0.5-0.2 0.2 0 0.3-0.2 0.5-0.2 0.5-0.2 0.5-0.2 0.4-0.2 0.5-0.2 0.3-0.2 0.2 0 0.5-0.3 0.5-0.2 0.4-0.2 0.5-0.2 0.5-0.2 0.4-0.1 0.1-0.1 0.5-0.2 0.5-0.2 0.4-0.2 0.5-0.2 0.5-0.2 0.5-0.2 0.5-0.2 0.4-0.2 0.5-0.2 1.6-0.7 3-1.2 3-1.2 3-1.2 3-1.2 3-1.1 3-1.1 3-1.2 3-1.1 3-1 3-1.1 3-1 3-1 3-1 3-1 3-1 3-0.9 3-0.9 3-0.9 3-0.9 3-0.9 3-0.8 3-0.9 3-0.8 3-0.8 3-0.8 3-0.7 3-0.7 3-0.8 3-0.7 3-0.7 3-0.6 3-0.7 3-0.6 3-0.6 3-0.6 3-0.6 3-0.5 3-0.6 3-0.5 3-0.5 3-0.5 3-0.5 0.4 0 0 12.2 3 0.3 3 0.1 3 0.2 3 0.2 3 0.1 3 0.2 3 0.1 3 0.2 3 0.1 3 0.2 3 0.1 3 0.2 3 0.1 3 0.1 3 0.2 3 0.1 3 0.2 3 0.1 3 0.1 3 0.2 3 0.1 3 0.1 3 0.2 3 0.1 3 0.1 3 0.2 3 0.1 3 0.1 3 0.1 3 0.2 3 0.1 3 0.1 3 0.1 3 0.2 3 0.1 3 0.1 3 0.1 3 0.1 3 0.1 3 0.2 3 0.1 3 0.1 3 0.1 3 0.1 3 0.1 3 0.1 3 0.1 3 0.1 3 0.1 3 0.2 3 0.1 3 0.1 3 0.1 3 0.1 3 0.1 3 0.1 3 0.1 3 0.1 3 0.1 3 0.1 3 0.1 3 0 3 0.1 3 0.1 3 0.1 3 0.1 3 0.1 3 0.1 3 0.1 3 0.1 3 0.1 3 0.1 3 0 3 0.1 3 0.1 3 0.1 3 0.1 3 0.1 3 0 3 0.1 3 0.1 3 0.1 3 0.1 3 0 3 0.1 3 0.1 3 0.1 3 0.1 3 0 3 0.1 3 0.1 3 0.1 3 0 3 0.1 3 0.1 3 0 3 0.1 3 0.1 3 0 3 0.1 3 0.1 3 0.1 3 0 3 0.1 3 0.1 3 0 3 0.1 3 0 3 0.1 3 0.1 3 0 3 0.1 3 0.1 2.1 0" stroke="#111" stroke-width="1.45" fill="none"/>
<path d="M373.9 1018.8H1501.4 M373.9 1109.8H1501.4 M373.9 1200.7H1501.4 M373.9 1291.6H1501.4 M373.9 1382.5H1501.4 M373.9 1473.5H1501.4 M376 1018.8V1473.5 M742.8 1018.8V1473.5 M1020.8 1018.8V1473.5 M1284 1018.8V1473.5 M1499.3 1018.8V1473.5" stroke="#000" stroke-width="4.2" fill="none"/>
<text x="396.3" y="1077.5" font-size="33" textLength="42.2" lengthAdjust="spacingAndGlyphs">Ab</text>
<text x="761.7" y="1077.5" font-size="33" textLength="148.3" lengthAdjust="spacingAndGlyphs">ka (1/Ms)</text>
<text x="1039.5" y="1077.5" font-size="33" textLength="115.6" lengthAdjust="spacingAndGlyphs">kd (1/s)</text>
<text x="1302.9" y="1077.5" font-size="33" textLength="126" lengthAdjust="spacingAndGlyphs">KD (nM)</text>
<text x="394.8" y="1168.2" font-size="33" textLength="297.8" lengthAdjust="spacingAndGlyphs">BDG11.003 (W30F)</text>
<text x="763.2" y="1168.2" font-size="34.5" textLength="122.2" lengthAdjust="spacingAndGlyphs">6.85*10</text>
<text x="888" y="1156.9" font-size="21.5" textLength="11.5" lengthAdjust="spacingAndGlyphs">5</text>
<text x="1041" y="1168.2" font-size="34.5" textLength="124.2" lengthAdjust="spacingAndGlyphs">6.41*10</text>
<text x="1165.5" y="1156.9" font-size="21.5" textLength="20.6" lengthAdjust="spacingAndGlyphs">-4</text>
<text x="1304.4" y="1168.2" font-size="34.5" textLength="86.4" lengthAdjust="spacingAndGlyphs">0.935</text>
<text x="394.8" y="1259.2" font-size="33" textLength="297.8" lengthAdjust="spacingAndGlyphs">BDG11.004 (W30S)</text>
<text x="763.2" y="1259.2" font-size="34.5" textLength="122.2" lengthAdjust="spacingAndGlyphs">2.55*10</text>
<text x="888" y="1247.9" font-size="21.5" textLength="11.5" lengthAdjust="spacingAndGlyphs">5</text>
<text x="1041" y="1259.2" font-size="34.5" textLength="124.2" lengthAdjust="spacingAndGlyphs">2.21*10</text>
<text x="1165.5" y="1247.9" font-size="21.5" textLength="20.2" lengthAdjust="spacingAndGlyphs">-3</text>
<text x="1304.4" y="1259.2" font-size="34.5" textLength="67.5" lengthAdjust="spacingAndGlyphs">8.69</text>
<text x="394.8" y="1350.2" font-size="33" textLength="305.3" lengthAdjust="spacingAndGlyphs">BDG11.006 (W94N)</text>
<text x="763.2" y="1350.2" font-size="34.5" textLength="105.6" lengthAdjust="spacingAndGlyphs">1.2*10</text>
<text x="870.2" y="1338.9" font-size="21.5" textLength="10.6" lengthAdjust="spacingAndGlyphs">6</text>
<text x="1041" y="1350.2" font-size="34.5" textLength="72.6" lengthAdjust="spacingAndGlyphs">9*10</text>
<text x="1117.3" y="1338.9" font-size="21.5" textLength="20.6" lengthAdjust="spacingAndGlyphs">-4</text>
<text x="1304.4" y="1350.2" font-size="34.5" textLength="86.4" lengthAdjust="spacingAndGlyphs">0.697</text>
<text x="394.8" y="1440.6" font-size="33" textLength="297.8" lengthAdjust="spacingAndGlyphs">BDG 11.007 (Y93N)</text>
<text x="763.2" y="1440.6" font-size="34.5" textLength="105.6" lengthAdjust="spacingAndGlyphs">1.7*10</text>
<text x="870.2" y="1429.3" font-size="21.5" textLength="10.6" lengthAdjust="spacingAndGlyphs">6</text>
<text x="1041" y="1440.6" font-size="34.5" textLength="107" lengthAdjust="spacingAndGlyphs">4.5*10</text>
<text x="1147.2" y="1429.3" font-size="21.5" textLength="19.3" lengthAdjust="spacingAndGlyphs">-3</text>
<text x="1304.4" y="1440.6" font-size="34.5" textLength="65.8" lengthAdjust="spacingAndGlyphs">2.61</text>
<path d="M441.4 1609.8V1973.2M426.7 1971H1318.4" stroke="#000" stroke-width="4.5" fill="none"/>
<text x="422.3" y="1978.6" font-size="20.5" font-weight="bold" text-anchor="end" textLength="33.5" lengthAdjust="spacingAndGlyphs">0.0</text>
<text x="422.3" y="1893.4" font-size="20.5" font-weight="bold" text-anchor="end" textLength="33.5" lengthAdjust="spacingAndGlyphs">0.5</text>
<text x="422.3" y="1808.1" font-size="20.5" font-weight="bold" text-anchor="end" textLength="33.5" lengthAdjust="spacingAndGlyphs">1.0</text>
<text x="422.3" y="1722.9" font-size="20.5" font-weight="bold" text-anchor="end" textLength="33.5" lengthAdjust="spacingAndGlyphs">1.5</text>
<text x="422.3" y="1637.6" font-size="20.5" font-weight="bold" text-anchor="end" textLength="33.5" lengthAdjust="spacingAndGlyphs">2.0</text>
<path d="M426.7 1886H441.4 M426.7 1800.8H441.4 M426.7 1715.5H441.4 M426.7 1630.3H441.4 M493.4 1971V1985 M603.4 1971V1985 M713.5 1971V1985 M823.5 1971V1985 M933.5 1971V1985 M1043.6 1971V1985 M1153.7 1971V1985 M1263.7 1971V1985" stroke="#000" stroke-width="3.4" fill="none"/>
<text x="493.9" y="2010.3" font-size="24.5" font-weight="bold" text-anchor="middle">KLH</text>
<text x="603.9" y="2010.3" font-size="24.5" font-weight="bold" text-anchor="middle">Insulin</text>
<text x="714" y="2010.3" font-size="24.5" font-weight="bold" text-anchor="middle">LPS</text>
<text x="824" y="2010.3" font-size="24.5" font-weight="bold" text-anchor="middle">ssDNA</text>
<text x="934" y="2010.3" font-size="24.5" font-weight="bold" text-anchor="middle">hIL-2</text>
<text x="1044.1" y="2010.3" font-size="24.5" font-weight="bold" text-anchor="middle">hTNFRII</text>
<text x="1154.2" y="2010.3" font-size="24.5" font-weight="bold" text-anchor="middle">hIL17A</text>
<text x="1264.2" y="2010.3" font-size="24.5" font-weight="bold" text-anchor="middle">PBS</text>
<path d="M446.9 1968.8V1961.1H457.4V1968.8 M463.4 1968.8V1962.8H473.9V1968.8 M479.9 1968.8V1962.8H490.4V1968.8 M496.4 1968.8V1961.9H506.9V1968.8 M512.9 1968.8V1952.5H523.4V1968.8 M529.4 1968.8V1957.7H539.9V1968.8 M556.9 1968.8V1961.9H567.4V1968.8 M573.4 1968.8V1962.8H583.9V1968.8 M589.9 1968.8V1962.8H600.4V1968.8 M606.4 1968.8V1963.6H616.9V1968.8 M622.9 1968.8V1950H633.4V1968.8 M639.4 1968.8V1958.5H649.9V1968.8 M667 1968.8V1961.9H677.5V1968.8 M683.5 1968.8V1963.6H694V1968.8 M700 1968.8V1962.8H710.5V1968.8 M716.5 1968.8V1963.6H727V1968.8 M733 1968.8V1958.5H743.5V1968.8 M749.5 1968.8V1961.6H760V1968.8 M777 1968.8V1961.1H787.5V1968.8 M793.5 1968.8V1962.8H804V1968.8 M810 1968.8V1962.8H820.5V1968.8 M826.5 1968.8V1963.6H837V1968.8 M843 1968.8V1942.3H853.5V1968.8 M859.5 1968.8V1959.4H870V1968.8 M887 1968.8V1961.1H897.5V1968.8 M903.5 1968.8V1961.6H914V1968.8 M920 1968.8V1959.4H930.5V1968.8 M936.5 1968.8V1739.4H947V1968.8 M953 1968.8V1956H963.5V1968.8 M969.5 1968.8V1940.6H980V1968.8 M997.1 1968.8V1960.2H1007.6V1968.8 M1013.6 1968.8V1962.8H1024.1V1968.8 M1030.1 1968.8V1961.1H1040.6V1968.8 M1046.6 1968.8V1964.5H1057.1V1968.8 M1063.1 1968.8V1703.6H1073.6V1968.8 M1079.6 1968.8V1959.4H1090.1V1968.8 M1107.2 1968.8V1691.7H1117.7V1968.8 M1123.7 1968.8V1683.2H1134.2V1968.8 M1140.2 1968.8V1698.5H1150.7V1968.8 M1156.7 1968.8V1959.4H1167.2V1968.8 M1173.2 1968.8V1947.4H1183.7V1968.8 M1189.7 1968.8V1911.6H1200.2V1968.8 M1217.2 1968.8V1960.2H1227.7V1968.8 M1233.7 1968.8V1962.8H1244.2V1968.8 M1250.2 1968.8V1962.8H1260.7V1968.8 M1266.7 1968.8V1962.8H1277.2V1968.8 M1283.2 1968.8V1950.8H1293.7V1968.8 M1299.7 1968.8V1957.7H1310.2V1968.8" stroke="#5a5a5a" stroke-width="1.5" fill="#fff"/>
<circle cx="450.1" cy="1961.9" r="3.7" fill="#000000"/>
<circle cx="454.1" cy="1960.2" r="3.7" fill="#000000"/>
<circle cx="466.6" cy="1963.6" r="3.7" fill="#40f4f4"/>
<circle cx="470.6" cy="1961.9" r="3.7" fill="#40f4f4"/>
<circle cx="483.1" cy="1963.6" r="3.7" fill="#167878"/>
<circle cx="487.1" cy="1961.1" r="3.7" fill="#167878"/>
<circle cx="499.6" cy="1962.8" r="3.7" fill="#6e10a0"/>
<circle cx="503.6" cy="1960.2" r="3.7" fill="#6e10a0"/>
<circle cx="516.1" cy="1953.4" r="3.7" fill="#12c812"/>
<circle cx="520.1" cy="1951.4" r="3.7" fill="#12c812"/>
<circle cx="532.6" cy="1958.2" r="3.7" fill="#ff0a0a"/>
<circle cx="536.6" cy="1957.7" r="3.7" fill="#ff0a0a"/>
<circle cx="560.1" cy="1963.6" r="3.7" fill="#000000"/>
<circle cx="564.1" cy="1960.2" r="3.7" fill="#000000"/>
<circle cx="576.6" cy="1963.6" r="3.7" fill="#40f4f4"/>
<circle cx="580.6" cy="1961.9" r="3.7" fill="#40f4f4"/>
<circle cx="593.1" cy="1963.6" r="3.7" fill="#167878"/>
<circle cx="597.1" cy="1961.9" r="3.7" fill="#167878"/>
<circle cx="609.6" cy="1964.5" r="3.7" fill="#6e10a0"/>
<circle cx="613.6" cy="1962.8" r="3.7" fill="#6e10a0"/>
<circle cx="626.1" cy="1950.8" r="3.7" fill="#12c812"/>
<circle cx="630.1" cy="1948.8" r="3.7" fill="#12c812"/>
<circle cx="642.6" cy="1959.4" r="3.7" fill="#ff0a0a"/>
<circle cx="646.6" cy="1957.7" r="3.7" fill="#ff0a0a"/>
<circle cx="670.2" cy="1962.8" r="3.7" fill="#000000"/>
<circle cx="674.2" cy="1960.2" r="3.7" fill="#000000"/>
<circle cx="686.7" cy="1964.5" r="3.7" fill="#40f4f4"/>
<circle cx="690.7" cy="1962.8" r="3.7" fill="#40f4f4"/>
<circle cx="703.2" cy="1963.6" r="3.7" fill="#167878"/>
<circle cx="707.2" cy="1961.9" r="3.7" fill="#167878"/>
<circle cx="719.7" cy="1964.5" r="3.7" fill="#6e10a0"/>
<circle cx="723.7" cy="1962.8" r="3.7" fill="#6e10a0"/>
<circle cx="736.2" cy="1959.4" r="3.7" fill="#12c812"/>
<circle cx="740.2" cy="1956.8" r="3.7" fill="#12c812"/>
<circle cx="752.7" cy="1962.4" r="3.7" fill="#ff0a0a"/>
<circle cx="756.7" cy="1960.7" r="3.7" fill="#ff0a0a"/>
<circle cx="780.2" cy="1961.9" r="3.7" fill="#000000"/>
<circle cx="784.2" cy="1960.2" r="3.7" fill="#000000"/>
<circle cx="796.8" cy="1963.6" r="3.7" fill="#40f4f4"/>
<circle cx="800.8" cy="1961.9" r="3.7" fill="#40f4f4"/>
<circle cx="813.2" cy="1963.6" r="3.7" fill="#167878"/>
<circle cx="817.2" cy="1961.9" r="3.7" fill="#167878"/>
<circle cx="829.8" cy="1964.5" r="3.7" fill="#6e10a0"/>
<circle cx="833.8" cy="1962.8" r="3.7" fill="#6e10a0"/>
<circle cx="846.2" cy="1943.2" r="3.7" fill="#12c812"/>
<circle cx="850.2" cy="1941" r="3.7" fill="#12c812"/>
<circle cx="862.8" cy="1959.7" r="3.7" fill="#ff0a0a"/>
<circle cx="866.8" cy="1958.5" r="3.7" fill="#ff0a0a"/>
<circle cx="890.3" cy="1961.9" r="3.7" fill="#000000"/>
<circle cx="894.3" cy="1960.2" r="3.7" fill="#000000"/>
<circle cx="906.8" cy="1962.4" r="3.7" fill="#40f4f4"/>
<circle cx="910.8" cy="1960.7" r="3.7" fill="#40f4f4"/>
<circle cx="923.3" cy="1960.2" r="3.7" fill="#167878"/>
<circle cx="927.3" cy="1958.5" r="3.7" fill="#167878"/>
<circle cx="941.8" cy="1726.8" r="3.7" fill="#6e10a0"/>
<circle cx="941.8" cy="1751.9" r="3.7" fill="#6e10a0"/>
<circle cx="956.3" cy="1956.8" r="3.7" fill="#12c812"/>
<circle cx="960.3" cy="1955.1" r="3.7" fill="#12c812"/>
<circle cx="972.8" cy="1941.5" r="3.7" fill="#ff0a0a"/>
<circle cx="976.8" cy="1939.8" r="3.7" fill="#ff0a0a"/>
<circle cx="1000.3" cy="1961.1" r="3.7" fill="#000000"/>
<circle cx="1004.3" cy="1959.4" r="3.7" fill="#000000"/>
<circle cx="1016.8" cy="1963.6" r="3.7" fill="#40f4f4"/>
<circle cx="1020.8" cy="1961.9" r="3.7" fill="#40f4f4"/>
<circle cx="1033.3" cy="1961.9" r="3.7" fill="#167878"/>
<circle cx="1037.3" cy="1960.2" r="3.7" fill="#167878"/>
<circle cx="1049.8" cy="1965.3" r="3.7" fill="#6e10a0"/>
<circle cx="1053.8" cy="1963.6" r="3.7" fill="#6e10a0"/>
<circle cx="1068.3" cy="1686.7" r="3.7" fill="#12c812"/>
<circle cx="1068.3" cy="1721" r="3.7" fill="#12c812"/>
<circle cx="1082.8" cy="1960.2" r="3.7" fill="#ff0a0a"/>
<circle cx="1086.8" cy="1958" r="3.7" fill="#ff0a0a"/>
<circle cx="1110.4" cy="1692.2" r="3.7" fill="#000000"/>
<circle cx="1114.4" cy="1687.2" r="3.7" fill="#000000"/>
<circle cx="1126.9" cy="1682" r="3.7" fill="#40f4f4"/>
<circle cx="1130.9" cy="1685.7" r="3.7" fill="#40f4f4"/>
<circle cx="1145.4" cy="1692.2" r="3.7" fill="#167878"/>
<circle cx="1145.4" cy="1702.9" r="3.7" fill="#167878"/>
<circle cx="1159.9" cy="1960.2" r="3.7" fill="#6e10a0"/>
<circle cx="1163.9" cy="1958.5" r="3.7" fill="#6e10a0"/>
<circle cx="1176.4" cy="1949.1" r="3.7" fill="#12c812"/>
<circle cx="1180.4" cy="1945.7" r="3.7" fill="#12c812"/>
<circle cx="1192.9" cy="1912.5" r="3.7" fill="#ff0a0a"/>
<circle cx="1196.9" cy="1910.8" r="3.7" fill="#ff0a0a"/>
<circle cx="1220.5" cy="1961.9" r="3.7" fill="#000000"/>
<circle cx="1224.5" cy="1958" r="3.7" fill="#000000"/>
<circle cx="1237" cy="1963.6" r="3.7" fill="#40f4f4"/>
<circle cx="1241" cy="1961.9" r="3.7" fill="#40f4f4"/>
<circle cx="1253.5" cy="1963.6" r="3.7" fill="#167878"/>
<circle cx="1257.5" cy="1961.9" r="3.7" fill="#167878"/>
<circle cx="1270" cy="1963.6" r="3.7" fill="#6e10a0"/>
<circle cx="1274" cy="1961.9" r="3.7" fill="#6e10a0"/>
<circle cx="1286.5" cy="1951.4" r="3.7" fill="#12c812"/>
<circle cx="1290.5" cy="1950" r="3.7" fill="#12c812"/>
<circle cx="1303" cy="1959" r="3.7" fill="#ff0a0a"/>
<circle cx="1307" cy="1956" r="3.7" fill="#ff0a0a"/>
<text transform="translate(374.4,1791) rotate(-90)" font-size="27" font-weight="bold" text-anchor="middle" textLength="142.6" lengthAdjust="spacingAndGlyphs">Abs. 450nm</text>
<circle cx="1386" cy="1674.8" r="3.8" fill="#000000"/>
<text x="1421.6" y="1683.7" font-size="26" textLength="78.5" lengthAdjust="spacingAndGlyphs">11.001</text>
<circle cx="1386" cy="1717.8" r="3.8" fill="#40f4f4"/>
<text x="1421.6" y="1726.7" font-size="26" textLength="79.6" lengthAdjust="spacingAndGlyphs">11.003</text>
<circle cx="1386" cy="1760.7" r="3.8" fill="#167878"/>
<text x="1421.6" y="1769.6" font-size="26" textLength="79.2" lengthAdjust="spacingAndGlyphs">11.004</text>
<circle cx="1386" cy="1803.7" r="3.8" fill="#6e10a0"/>
<text x="1421.6" y="1812.6" font-size="26" textLength="180.3" lengthAdjust="spacingAndGlyphs">anti IL-2 ctrl Ab</text>
<circle cx="1386" cy="1846.6" r="3.8" fill="#12c812"/>
<text x="1421.6" y="1855.5" font-size="26" textLength="213.6" lengthAdjust="spacingAndGlyphs">anti TNFR2 ctrl Ab</text>
<circle cx="1386" cy="1889.5" r="3.8" fill="#ff0a0a"/>
<text x="1421.6" y="1898.5" font-size="26" textLength="133.4" lengthAdjust="spacingAndGlyphs">Veltuzumab</text>
<path d="M445.1 2098V2461.9M430 2459.7H1350.8" stroke="#000" stroke-width="4.5" fill="none"/>
<text x="425.1" y="2465.8" font-size="20.5" font-weight="bold" text-anchor="end" textLength="33.5" lengthAdjust="spacingAndGlyphs">0.0</text>
<text x="425.1" y="2381.1" font-size="20.5" font-weight="bold" text-anchor="end" textLength="33.5" lengthAdjust="spacingAndGlyphs">0.5</text>
<text x="425.1" y="2296.4" font-size="20.5" font-weight="bold" text-anchor="end" textLength="33.5" lengthAdjust="spacingAndGlyphs">1.0</text>
<text x="425.1" y="2211.7" font-size="20.5" font-weight="bold" text-anchor="end" textLength="33.5" lengthAdjust="spacingAndGlyphs">1.5</text>
<text x="425.1" y="2127" font-size="20.5" font-weight="bold" text-anchor="end" textLength="33.5" lengthAdjust="spacingAndGlyphs">2.0</text>
<path d="M430 2373.8H445.1 M430 2289.1H445.1 M430 2204.4H445.1 M430 2119.7H445.1 M499 2459.7V2473.7 M612.8 2459.7V2473.7 M726.6 2459.7V2473.7 M840.3 2459.7V2473.7 M954.1 2459.7V2473.7 M1067.9 2459.7V2473.7 M1181.7 2459.7V2473.7 M1295.5 2459.7V2473.7" stroke="#000" stroke-width="3.4" fill="none"/>
<text x="499.5" y="2498.8" font-size="24.5" font-weight="bold" text-anchor="middle">KLH</text>
<text x="613.3" y="2498.8" font-size="24.5" font-weight="bold" text-anchor="middle">Insulin</text>
<text x="727.1" y="2498.8" font-size="24.5" font-weight="bold" text-anchor="middle">LPS</text>
<text x="840.8" y="2498.8" font-size="24.5" font-weight="bold" text-anchor="middle">ssDNA</text>
<text x="954.6" y="2498.8" font-size="24.5" font-weight="bold" text-anchor="middle">hIL-2</text>
<text x="1068.4" y="2498.8" font-size="24.5" font-weight="bold" text-anchor="middle">hTNFRII</text>
<text x="1182.2" y="2498.8" font-size="24.5" font-weight="bold" text-anchor="middle">hIL17A</text>
<text x="1296" y="2498.8" font-size="24.5" font-weight="bold" text-anchor="middle">PBS</text>
<path d="M451.1 2457.4V2450.9H461.6V2457.4 M468.2 2457.4V2450.9H478.7V2457.4 M485.2 2457.4V2410.7H495.7V2457.4 M502.3 2457.4V2448.3H512.8V2457.4 M519.3 2457.4V2443.8H529.8V2457.4 M536.4 2457.4V2444.9H546.9V2457.4 M564.9 2457.4V2450.9H575.4V2457.4 M582 2457.4V2450.9H592.5V2457.4 M599 2457.4V2417.5H609.5V2457.4 M616.1 2457.4V2450H626.6V2457.4 M633.1 2457.4V2439.9H643.6V2457.4 M650.2 2457.4V2446.6H660.7V2457.4 M678.7 2457.4V2450.9H689.2V2457.4 M695.7 2457.4V2450.9H706.2V2457.4 M712.8 2457.4V2442.4H723.3V2457.4 M729.8 2457.4V2451.7H740.3V2457.4 M746.9 2457.4V2446.6H757.4V2457.4 M763.9 2457.4V2450H774.4V2457.4 M792.5 2457.4V2450H803V2457.4 M809.5 2457.4V2450H820V2457.4 M826.6 2457.4V2417H837.1V2457.4 M843.6 2457.4V2451.7H854.1V2457.4 M860.7 2457.4V2433.1H871.2V2457.4 M877.7 2457.4V2443.3H888.2V2457.4 M906.2 2457.4V2448.3H916.7V2457.4 M923.3 2457.4V2449.2H933.8V2457.4 M940.3 2457.4V2347.5H950.8V2457.4 M957.4 2457.4V2227.8H967.9V2457.4 M974.4 2457.4V2438.2H984.9V2457.4 M991.5 2457.4V2429.7H1002V2457.4 M1020 2457.4V2450H1030.5V2457.4 M1037.1 2457.4V2450H1047.6V2457.4 M1054.1 2457.4V2426.3H1064.6V2457.4 M1071.2 2457.4V2451.7H1081.7V2457.4 M1088.2 2457.4V2184.6H1098.7V2457.4 M1105.3 2457.4V2446.6H1115.8V2457.4 M1133.8 2457.4V2137.5H1144.3V2457.4 M1150.9 2457.4V2174.1H1161.4V2457.4 M1167.9 2457.4V2180.3H1178.4V2457.4 M1185 2457.4V2446.6H1195.5V2457.4 M1202 2457.4V2434.8H1212.5V2457.4 M1219.1 2457.4V2404.3H1229.6V2457.4 M1247.6 2457.4V2450H1258.1V2457.4 M1264.6 2457.4V2450H1275.1V2457.4 M1281.7 2457.4V2408.4H1292.2V2457.4 M1298.7 2457.4V2451.7H1309.2V2457.4 M1315.8 2457.4V2443.3H1326.3V2457.4 M1332.8 2457.4V2444.9H1343.3V2457.4" stroke="#5a5a5a" stroke-width="1.5" fill="#fff"/>
<circle cx="454.4" cy="2451.7" r="3.7" fill="#1ea0c3"/>
<circle cx="458.4" cy="2450" r="3.7" fill="#1ea0c3"/>
<circle cx="471.4" cy="2451.7" r="3.7" fill="#ff6a14"/>
<circle cx="475.4" cy="2450" r="3.7" fill="#ff6a14"/>
<circle cx="490.5" cy="2404.8" r="3.7" fill="#0a14c8"/>
<circle cx="490.5" cy="2416" r="3.7" fill="#0a14c8"/>
<circle cx="505.5" cy="2450" r="3.7" fill="#6e10a0"/>
<circle cx="509.5" cy="2446.6" r="3.7" fill="#6e10a0"/>
<circle cx="522.6" cy="2444.1" r="3.7" fill="#12c812"/>
<circle cx="526.6" cy="2443.3" r="3.7" fill="#12c812"/>
<circle cx="539.6" cy="2445.8" r="3.7" fill="#ff0a0a"/>
<circle cx="543.6" cy="2443.8" r="3.7" fill="#ff0a0a"/>
<circle cx="568.2" cy="2451.7" r="3.7" fill="#1ea0c3"/>
<circle cx="572.2" cy="2450" r="3.7" fill="#1ea0c3"/>
<circle cx="585.2" cy="2451.7" r="3.7" fill="#ff6a14"/>
<circle cx="589.2" cy="2450" r="3.7" fill="#ff6a14"/>
<circle cx="604.3" cy="2410.4" r="3.7" fill="#0a14c8"/>
<circle cx="604.3" cy="2422.4" r="3.7" fill="#0a14c8"/>
<circle cx="619.3" cy="2450.9" r="3.7" fill="#6e10a0"/>
<circle cx="623.3" cy="2448.8" r="3.7" fill="#6e10a0"/>
<circle cx="636.4" cy="2441.6" r="3.7" fill="#12c812"/>
<circle cx="640.4" cy="2437.8" r="3.7" fill="#12c812"/>
<circle cx="653.4" cy="2447.5" r="3.7" fill="#ff0a0a"/>
<circle cx="657.4" cy="2445.8" r="3.7" fill="#ff0a0a"/>
<circle cx="681.9" cy="2451.7" r="3.7" fill="#1ea0c3"/>
<circle cx="685.9" cy="2450" r="3.7" fill="#1ea0c3"/>
<circle cx="699" cy="2451.7" r="3.7" fill="#ff6a14"/>
<circle cx="703" cy="2450" r="3.7" fill="#ff6a14"/>
<circle cx="716" cy="2443.3" r="3.7" fill="#0a14c8"/>
<circle cx="720" cy="2441.6" r="3.7" fill="#0a14c8"/>
<circle cx="733.1" cy="2452.6" r="3.7" fill="#6e10a0"/>
<circle cx="737.1" cy="2450.9" r="3.7" fill="#6e10a0"/>
<circle cx="750.1" cy="2447.5" r="3.7" fill="#12c812"/>
<circle cx="754.1" cy="2445.8" r="3.7" fill="#12c812"/>
<circle cx="767.2" cy="2450.9" r="3.7" fill="#ff0a0a"/>
<circle cx="771.2" cy="2449.2" r="3.7" fill="#ff0a0a"/>
<circle cx="795.7" cy="2450.9" r="3.7" fill="#1ea0c3"/>
<circle cx="799.7" cy="2449.2" r="3.7" fill="#1ea0c3"/>
<circle cx="812.8" cy="2450.9" r="3.7" fill="#ff6a14"/>
<circle cx="816.8" cy="2449.2" r="3.7" fill="#ff6a14"/>
<circle cx="829.8" cy="2417.8" r="3.7" fill="#0a14c8"/>
<circle cx="833.8" cy="2415.8" r="3.7" fill="#0a14c8"/>
<circle cx="846.9" cy="2452.6" r="3.7" fill="#6e10a0"/>
<circle cx="850.9" cy="2450.9" r="3.7" fill="#6e10a0"/>
<circle cx="863.9" cy="2433.9" r="3.7" fill="#12c812"/>
<circle cx="867.9" cy="2432.2" r="3.7" fill="#12c812"/>
<circle cx="883" cy="2448.3" r="3.7" fill="#ff0a0a"/>
<circle cx="883" cy="2437.3" r="3.7" fill="#ff0a0a"/>
<circle cx="909.5" cy="2449.2" r="3.7" fill="#1ea0c3"/>
<circle cx="913.5" cy="2447.5" r="3.7" fill="#1ea0c3"/>
<circle cx="926.5" cy="2450" r="3.7" fill="#ff6a14"/>
<circle cx="930.5" cy="2448.3" r="3.7" fill="#ff6a14"/>
<circle cx="945.6" cy="2341.8" r="3.7" fill="#0a14c8"/>
<circle cx="945.6" cy="2349.9" r="3.7" fill="#0a14c8"/>
<circle cx="962.6" cy="2222" r="3.7" fill="#6e10a0"/>
<circle cx="962.6" cy="2230.1" r="3.7" fill="#6e10a0"/>
<circle cx="977.7" cy="2440.7" r="3.7" fill="#12c812"/>
<circle cx="981.7" cy="2435.6" r="3.7" fill="#12c812"/>
<circle cx="994.7" cy="2431.4" r="3.7" fill="#ff0a0a"/>
<circle cx="998.7" cy="2427.3" r="3.7" fill="#ff0a0a"/>
<circle cx="1023.3" cy="2450.9" r="3.7" fill="#1ea0c3"/>
<circle cx="1027.3" cy="2449.2" r="3.7" fill="#1ea0c3"/>
<circle cx="1040.3" cy="2450.9" r="3.7" fill="#ff6a14"/>
<circle cx="1044.3" cy="2449.2" r="3.7" fill="#ff6a14"/>
<circle cx="1057.4" cy="2427.2" r="3.7" fill="#0a14c8"/>
<circle cx="1061.4" cy="2425.5" r="3.7" fill="#0a14c8"/>
<circle cx="1074.4" cy="2452.6" r="3.7" fill="#6e10a0"/>
<circle cx="1078.4" cy="2450.9" r="3.7" fill="#6e10a0"/>
<circle cx="1093.5" cy="2178.8" r="3.7" fill="#12c812"/>
<circle cx="1093.5" cy="2187" r="3.7" fill="#12c812"/>
<circle cx="1108.5" cy="2447.5" r="3.7" fill="#ff0a0a"/>
<circle cx="1112.5" cy="2445.8" r="3.7" fill="#ff0a0a"/>
<circle cx="1139.1" cy="2117.2" r="3.7" fill="#1ea0c3"/>
<circle cx="1139.1" cy="2157.5" r="3.7" fill="#1ea0c3"/>
<circle cx="1156.1" cy="2150.4" r="3.7" fill="#ff6a14"/>
<circle cx="1156.1" cy="2196.9" r="3.7" fill="#ff6a14"/>
<circle cx="1173.2" cy="2173.2" r="3.7" fill="#0a14c8"/>
<circle cx="1173.2" cy="2186.1" r="3.7" fill="#0a14c8"/>
<circle cx="1188.2" cy="2447.5" r="3.7" fill="#6e10a0"/>
<circle cx="1192.2" cy="2445.8" r="3.7" fill="#6e10a0"/>
<circle cx="1205.3" cy="2436.5" r="3.7" fill="#12c812"/>
<circle cx="1209.3" cy="2433.1" r="3.7" fill="#12c812"/>
<circle cx="1224.3" cy="2400.7" r="3.7" fill="#ff0a0a"/>
<circle cx="1224.3" cy="2406.8" r="3.7" fill="#ff0a0a"/>
<circle cx="1250.8" cy="2450.9" r="3.7" fill="#1ea0c3"/>
<circle cx="1254.8" cy="2449.2" r="3.7" fill="#1ea0c3"/>
<circle cx="1267.9" cy="2450.9" r="3.7" fill="#ff6a14"/>
<circle cx="1271.9" cy="2449.2" r="3.7" fill="#ff6a14"/>
<circle cx="1284.9" cy="2407.8" r="3.7" fill="#0a14c8"/>
<circle cx="1288.9" cy="2407.8" r="3.7" fill="#0a14c8"/>
<circle cx="1302" cy="2452.6" r="3.7" fill="#6e10a0"/>
<circle cx="1306" cy="2450.9" r="3.7" fill="#6e10a0"/>
<circle cx="1321" cy="2436.3" r="3.7" fill="#12c812"/>
<circle cx="1321" cy="2444.9" r="3.7" fill="#12c812"/>
<circle cx="1336.1" cy="2445.8" r="3.7" fill="#ff0a0a"/>
<circle cx="1340.1" cy="2443.3" r="3.7" fill="#ff0a0a"/>
<text transform="translate(376,2280.5) rotate(-90)" font-size="27" font-weight="bold" text-anchor="middle" textLength="143" lengthAdjust="spacingAndGlyphs">Abs. 450nm</text>
<circle cx="1377.4" cy="2163.3" r="3.8" fill="#1ea0c3"/>
<text x="1414.4" y="2172.1" font-size="26.8" textLength="81.6" lengthAdjust="spacingAndGlyphs">11.006</text>
<circle cx="1377.4" cy="2206.2" r="3.8" fill="#ff6a14"/>
<text x="1414.4" y="2215" font-size="26.8" textLength="81" lengthAdjust="spacingAndGlyphs">11.007</text>
<circle cx="1377.4" cy="2249.1" r="3.8" fill="#0a14c8"/>
<text x="1414.4" y="2257.9" font-size="26.8" textLength="218" lengthAdjust="spacingAndGlyphs">anti IL-17A ctrl Ab</text>
<circle cx="1377.4" cy="2292" r="3.8" fill="#6e10a0"/>
<text x="1414.4" y="2300.8" font-size="26.8" textLength="185.8" lengthAdjust="spacingAndGlyphs">anti IL-2 ctrl Ab</text>
<circle cx="1377.4" cy="2334.9" r="3.8" fill="#12c812"/>
<text x="1414.4" y="2343.7" font-size="26.8" textLength="220" lengthAdjust="spacingAndGlyphs">anti TNFR2 ctrl Ab</text>
<circle cx="1377.4" cy="2377.8" r="3.8" fill="#ff0a0a"/>
<text x="1414.4" y="2386.6" font-size="26.8" textLength="138.2" lengthAdjust="spacingAndGlyphs">Veltuzumab</text>
</svg></body></html>
